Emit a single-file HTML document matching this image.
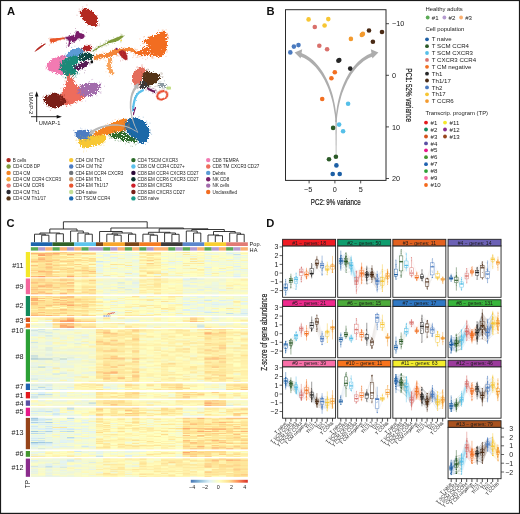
<!DOCTYPE html>
<html lang="en"><head><meta charset="utf-8"><title>Figure</title>
<style>html,body{margin:0;padding:0;background:#fff}svg{display:block}text{font-family:"Liberation Sans",Arial,Helvetica,sans-serif}.w{stroke-width:.45;fill:none}.b{fill:#fff;fill-opacity:.75;stroke-width:.45}.b2{fill:#fff;fill-opacity:.3;stroke-width:.4}.m{stroke-width:1.1}.p{stroke-linecap:round;fill:none;opacity:.85}</style></head>
<body>
<svg width="520" height="514" viewBox="0 0 520 514">
<rect x="0.5" y="0.5" width="519" height="512.9" fill="#fff" stroke="#1a1a1a" stroke-width="1.2"/>
<text x="6.9" y="15.2" font-size="11.2" font-weight="bold" fill="#111">A</text>
<text x="266.4" y="15.2" font-size="11.2" font-weight="bold" fill="#111">B</text>
<text x="6.5" y="227.0" font-size="11.2" font-weight="bold" fill="#111">C</text>
<text x="266.2" y="227.0" font-size="11.2" font-weight="bold" fill="#111">D</text>
<defs><filter id="sp" x="-25%" y="-25%" width="150%" height="150%" color-interpolation-filters="sRGB"><feMorphology in="SourceGraphic" operator="dilate" radius="1.2" result="big"/><feGaussianBlur in="SourceAlpha" stdDeviation="1.4" result="d"/><feTurbulence type="fractalNoise" baseFrequency="1.2" numOctaves="1" seed="5" result="n"/><feComposite in="d" in2="n" operator="arithmetic" k1="0" k2="0.85" k3="-1" k4="0.16" result="m0"/><feComponentTransfer in="m0" result="m"><feFuncA type="linear" slope="40" intercept="0"/></feComponentTransfer><feComposite in="big" in2="m" operator="in"/></filter><filter id="sp2" x="-25%" y="-25%" width="150%" height="150%" color-interpolation-filters="sRGB"><feMorphology in="SourceGraphic" operator="dilate" radius="1.2" result="big"/><feGaussianBlur in="SourceAlpha" stdDeviation="1.4" result="d"/><feTurbulence type="fractalNoise" baseFrequency="1.3" numOctaves="1" seed="9" result="n"/><feComposite in="d" in2="n" operator="arithmetic" k1="0" k2="0.57" k3="-1" k4="0.16" result="m0"/><feComponentTransfer in="m0" result="m"><feFuncA type="linear" slope="40" intercept="0"/></feComponentTransfer><feComposite in="big" in2="m" operator="in"/></filter><filter id="sp5" x="-25%" y="-25%" width="150%" height="150%" color-interpolation-filters="sRGB"><feMorphology in="SourceGraphic" operator="dilate" radius="1.2" result="big"/><feGaussianBlur in="SourceAlpha" stdDeviation="1.4" result="d"/><feTurbulence type="fractalNoise" baseFrequency="1.25" numOctaves="1" seed="7" result="n"/><feComposite in="d" in2="n" operator="arithmetic" k1="0" k2="0.63" k3="-1" k4="0.17" result="m0"/><feComponentTransfer in="m0" result="m"><feFuncA type="linear" slope="40" intercept="0"/></feComponentTransfer><feComposite in="big" in2="m" operator="in"/></filter><filter id="sp6" x="-25%" y="-25%" width="150%" height="150%" color-interpolation-filters="sRGB"><feMorphology in="SourceGraphic" operator="dilate" radius="0.7" result="big"/><feGaussianBlur in="SourceAlpha" stdDeviation="1.0" result="d"/><feTurbulence type="fractalNoise" baseFrequency="1.3" numOctaves="1" seed="12" result="n"/><feComposite in="d" in2="n" operator="arithmetic" k1="0" k2="0.5" k3="-1" k4="0.2" result="m0"/><feComponentTransfer in="m0" result="m"><feFuncA type="linear" slope="40" intercept="0"/></feComponentTransfer><feComposite in="big" in2="m" operator="in"/></filter><filter id="sp4" x="-25%" y="-25%" width="150%" height="150%" color-interpolation-filters="sRGB"><feMorphology in="SourceGraphic" operator="dilate" radius="1.2" result="big"/><feGaussianBlur in="SourceAlpha" stdDeviation="1.4" result="d"/><feTurbulence type="fractalNoise" baseFrequency="1.3" numOctaves="1" seed="4" result="n"/><feComposite in="d" in2="n" operator="arithmetic" k1="0" k2="0.42" k3="-1" k4="0.2" result="m0"/><feComponentTransfer in="m0" result="m"><feFuncA type="linear" slope="40" intercept="0"/></feComponentTransfer><feComposite in="big" in2="m" operator="in"/></filter><filter id="sp3" x="-25%" y="-25%" width="150%" height="150%" color-interpolation-filters="sRGB"><feMorphology in="SourceGraphic" operator="dilate" radius="0.8" result="big"/><feGaussianBlur in="SourceAlpha" stdDeviation="0.9" result="d"/><feTurbulence type="fractalNoise" baseFrequency="1.3" numOctaves="1" seed="2" result="n"/><feComposite in="d" in2="n" operator="arithmetic" k1="0" k2="0.66" k3="-1" k4="0.24" result="m0"/><feComponentTransfer in="m0" result="m"><feFuncA type="linear" slope="40" intercept="0"/></feComponentTransfer><feComposite in="big" in2="m" operator="in"/></filter><filter id="rg" x="-10%" y="-10%" width="120%" height="120%"><feTurbulence type="fractalNoise" baseFrequency="0.9" numOctaves="2" seed="3" result="n"/><feDisplacementMap in="SourceGraphic" in2="n" scale="2.2" xChannelSelector="R" yChannelSelector="G"/></filter></defs>
<path d="M82.4,9.8C83.2,9.4 86.2,8.6 87.2,8.8C88.2,9.0 90.4,10.4 91.3,11.1C92.2,11.8 93.9,14.5 94.7,15.2C95.5,15.9 97.9,16.7 98.1,17.3C98.3,17.9 96.8,19.1 96.7,20.0C96.6,20.9 97.8,24.7 97.4,25.4C97.0,26.1 94.3,26.3 93.3,26.1C92.3,25.9 89.6,24.7 88.6,24.1C87.6,23.5 85.3,22.2 84.5,21.3C83.7,20.4 81.9,17.6 81.5,16.6C81.1,15.6 80.6,13.3 80.7,12.5C80.8,11.7 81.6,10.2 82.4,9.8Z" fill="#b32a20" filter="url(#sp)"/>
<path d="M34.8,51.2C35.4,50.4 37.3,48.3 39.0,47.0C40.7,45.7 43.9,44.0 44.9,43.6C45.9,43.2 46.0,43.8 45.2,44.6C44.4,45.4 41.6,47.4 40.0,48.6C38.4,49.8 36.3,51.2 35.4,51.6C34.5,52.0 34.2,52.0 34.8,51.2Z" fill="#b52a22" filter="url(#rg)"/>
<path d="M50.2,39.0C51.3,38.4 54.8,38.4 57.2,38.1C59.6,37.8 63.6,37.3 64.7,37.4C65.8,37.5 65.2,38.2 64.0,38.8C62.8,39.3 59.1,40.0 57.2,40.7C55.3,41.4 53.6,43.0 52.5,43.1C51.4,43.2 50.8,42.2 50.4,41.5C50.0,40.8 49.1,39.6 50.2,39.0Z" fill="#e9582a" filter="url(#rg)"/>
<path d="M64.7,37.7C65.4,37.2 69.2,36.4 70.9,36.0C72.6,35.6 74.0,36.3 74.9,35.6C75.8,34.9 75.7,32.4 76.3,31.6C76.9,30.9 77.7,30.9 78.3,31.1C78.9,31.3 78.8,32.4 79.7,32.9C80.6,33.4 83.0,33.6 83.8,34.3C84.6,35.0 84.8,36.2 84.5,37.0C84.2,37.8 82.7,38.8 81.7,39.0C80.7,39.2 79.2,38.2 78.3,38.4C77.4,38.6 77.1,39.8 76.3,40.4C75.5,41.0 74.5,41.8 73.6,41.8C72.7,41.8 71.6,40.0 70.9,40.7C70.2,41.4 70.0,44.9 69.5,45.9C69.0,46.9 68.2,47.3 68.1,46.5C68.0,45.7 69.0,42.4 68.8,41.1C68.6,39.9 67.5,39.6 66.8,39.0C66.1,38.4 64.0,38.2 64.7,37.7Z" fill="#7a1f6a" filter="url(#rg)"/>
<path d="M47.0,65.4C47.1,63.7 48.7,62.1 50.4,60.7C52.1,59.4 54.8,58.2 57.2,57.3C59.6,56.4 63.2,55.2 64.7,55.2C66.2,55.2 66.5,56.3 66.1,57.3C65.7,58.3 63.3,59.7 62.5,61.3C61.7,62.9 61.3,65.0 61.5,66.8C61.7,68.6 63.4,71.0 63.5,72.2C63.6,73.5 63.3,74.2 62.0,74.3C60.7,74.4 57.9,73.5 55.9,72.9C53.9,72.3 51.2,72.2 49.7,70.9C48.2,69.7 46.9,67.1 47.0,65.4Z" fill="#f27ab2" filter="url(#sp)"/>
<path d="M65.7,55.2C66.4,53.9 69.0,51.5 70.9,50.4C72.8,49.3 74.9,48.7 77.0,48.6C79.1,48.5 82.5,48.9 83.4,49.6C84.3,50.3 83.8,52.0 82.6,53.0C81.4,54.0 78.2,55.2 76.3,55.9C74.3,56.6 72.5,56.6 70.9,57.0C69.3,57.4 67.7,58.5 66.8,58.2C65.9,57.9 65.0,56.5 65.7,55.2Z" fill="#5b9bd5" filter="url(#sp)"/>
<path d="M60.6,62.7C61.6,60.9 64.4,58.3 66.1,57.3C67.8,56.3 69.0,56.8 70.9,56.6C72.8,56.4 76.1,55.6 77.7,55.9C79.3,56.2 80.4,57.5 80.4,58.6C80.4,59.7 78.6,61.3 77.7,62.7C76.8,64.1 75.0,65.2 74.9,66.8C74.8,68.4 77.0,70.7 77.0,72.2C77.0,73.7 75.9,75.1 74.9,75.6C73.9,76.1 72.2,74.8 70.9,75.0C69.6,75.2 68.0,77.1 66.8,77.0C65.5,76.9 64.5,75.8 63.4,74.3C62.3,72.8 60.5,70.1 60.0,68.2C59.5,66.3 59.6,64.5 60.6,62.7Z" fill="#1a8a78" filter="url(#sp5)"/>
<path d="M80.4,53.2C81.5,52.2 82.5,52.5 84.5,52.5C86.5,52.5 91.1,52.4 92.6,53.2C94.1,54.0 93.8,56.2 93.3,57.3C92.8,58.4 91.4,59.3 89.9,60.0C88.4,60.7 86.2,61.2 84.5,61.3C82.8,61.4 80.8,61.2 79.7,60.7C78.6,60.2 77.6,59.9 77.7,58.6C77.8,57.4 79.3,54.2 80.4,53.2Z" fill="#0e4a44" filter="url(#sp2)"/>
<path d="M82.5,48.2C82.8,47.6 83.8,46.7 85.0,46.3C86.2,45.9 88.3,45.8 89.5,46.0C90.7,46.2 91.8,47.1 92.0,47.8C92.2,48.5 91.5,49.5 90.5,50.0C89.5,50.5 87.2,50.6 86.0,50.6C84.8,50.6 83.6,50.2 83.0,49.8C82.4,49.4 82.2,48.8 82.5,48.2Z" fill="#b32428" filter="url(#sp3)"/>
<path d="M74.9,65.4C76.0,64.2 79.7,62.7 81.7,62.0C83.8,61.3 85.8,60.9 87.2,61.3C88.6,61.6 90.4,62.9 89.9,64.1C89.5,65.2 86.3,67.2 84.5,68.2C82.7,69.2 80.6,70.0 79.0,70.2C77.4,70.4 75.6,70.3 74.9,69.5C74.2,68.7 73.8,66.7 74.9,65.4Z" fill="#5a1a55" filter="url(#sp2)"/>
<path d="M90.6,61.0C90.9,60.5 92.0,60.1 92.4,60.3C92.8,60.5 93.2,61.5 93.2,62.0C93.2,62.5 92.6,63.2 92.2,63.4C91.8,63.6 91.1,63.4 90.8,63.0C90.5,62.6 90.3,61.5 90.6,61.0Z" fill="#111" filter="url(#rg)"/>
<path d="M67.6,75.4C68.2,75.0 71.7,74.9 72.3,75.4C72.9,75.9 72.5,78.9 73.0,80.0C73.5,81.1 75.4,83.8 76.3,84.8C77.2,85.8 79.3,87.4 80.4,88.8C81.5,90.2 86.0,95.2 86.0,96.5C86.0,97.8 82.0,99.5 80.4,100.3C78.8,101.1 74.0,103.0 72.3,103.6C70.6,104.2 66.9,106.1 65.6,105.7C64.3,105.3 61.6,101.2 61.0,100.0C60.4,98.8 60.0,96.7 60.2,95.6C60.4,94.5 62.3,91.6 62.9,90.2C63.5,88.8 65.1,84.8 65.6,83.5C66.1,82.2 66.8,79.9 67.0,79.0C67.2,78.1 67.0,75.8 67.6,75.4Z" fill="#ee6c5c" filter="url(#sp5)"/>
<path d="M78.4,90.2C79.0,88.3 81.0,84.7 83.1,83.5C85.2,82.3 88.4,82.8 91.1,82.8C93.8,82.8 97.5,82.8 99.2,83.5C100.9,84.2 101.4,85.3 101.2,86.8C101.0,88.2 99.6,90.6 97.9,92.2C96.2,93.8 93.3,95.4 91.1,96.2C88.8,97.0 86.3,97.1 84.4,96.9C82.5,96.7 80.7,96.0 79.7,94.9C78.7,93.8 77.8,92.1 78.4,90.2Z" fill="#a36dac" filter="url(#sp2)"/>
<path d="M44.0,98.9C44.3,97.7 46.4,95.4 47.4,94.9C48.4,94.5 49.1,96.6 50.1,96.2C51.1,95.8 52.4,93.1 53.5,92.8C54.6,92.5 55.7,93.8 56.8,94.2C57.9,94.6 58.9,94.1 60.2,94.9C61.6,95.7 63.9,97.7 64.9,98.9C65.9,100.1 66.8,101.2 66.2,102.3C65.6,103.4 63.4,104.8 61.5,105.7C59.6,106.6 56.9,107.7 54.8,107.7C52.7,107.7 50.3,106.6 48.7,105.7C47.1,104.8 46.2,103.4 45.4,102.3C44.6,101.2 43.7,100.1 44.0,98.9Z" fill="#7a1f18" filter="url(#sp)"/>
<path d="M108.5,41.0C109.5,40.2 112.7,39.1 114.9,38.2C117.1,37.3 120.6,35.6 121.9,35.4C123.2,35.2 123.4,36.3 122.9,37.1C122.4,37.9 120.4,39.5 118.8,40.4C117.2,41.2 114.9,41.8 113.3,42.2C111.7,42.6 109.8,43.2 109.0,43.0C108.2,42.8 107.5,41.8 108.5,41.0Z" fill="#7f9a3a" filter="url(#rg)"/>
<path d="M92.8,50.6C93.8,49.8 97.2,47.6 99.3,46.4C101.4,45.2 104.0,44.0 105.6,43.2C107.2,42.4 108.4,41.7 109.0,41.6C109.6,41.5 109.9,42.2 109.4,42.6C108.9,43.0 107.5,43.4 105.9,44.2C104.3,45.0 101.7,46.2 99.6,47.4C97.5,48.6 94.2,50.9 93.1,51.4C92.0,51.9 91.8,51.4 92.8,50.6Z" fill="#7f9a3a" filter="url(#rg)"/>
<path d="M142.6,40.5C143.0,39.8 150.6,36.7 152.3,35.9C154.0,35.1 161.6,31.2 162.8,30.9C164.0,30.6 166.2,31.8 166.6,32.8C167.0,33.8 167.6,41.6 167.5,43.3C167.4,45.0 165.9,51.8 165.3,53.0C164.7,54.2 161.0,57.1 160.0,57.4C159.0,57.7 154.7,56.4 153.8,56.1C152.9,55.8 149.4,54.0 149.1,53.5C148.8,53.0 150.0,50.3 149.9,49.6C149.8,48.9 148.2,45.7 147.6,44.9C147.0,44.1 142.2,41.2 142.6,40.5Z" fill="#f26d21" filter="url(#sp5)"/>
<path d="M134.4,54.8C133.3,54.4 133.2,52.7 133.9,52.2C134.6,51.7 140.3,50.7 141.4,50.0C142.5,49.3 143.9,45.2 144.8,45.2C145.7,45.2 150.0,48.8 150.5,49.6C151.0,50.4 149.5,52.8 149.8,53.5C150.1,54.2 154.3,56.4 153.8,56.6C153.3,56.9 146.4,56.2 144.5,56.0C142.6,55.8 135.5,55.2 134.4,54.8Z" fill="#f26d21" filter="url(#sp6)"/>
<path d="M93.9,57.0C94.8,56.2 98.0,55.1 100.0,54.6C102.0,54.1 103.6,54.4 105.6,53.8C107.6,53.2 109.9,51.8 112.0,51.0C114.1,50.2 115.2,49.7 118.0,49.2C120.8,48.7 126.1,47.6 128.9,47.8C131.8,48.0 134.2,49.5 135.1,50.2C136.0,51.0 135.7,52.2 134.5,52.3C133.3,52.4 130.6,50.8 128.0,50.8C125.4,50.8 121.6,51.8 119.0,52.6C116.4,53.4 114.7,54.7 112.5,55.5C110.3,56.3 108.1,56.8 106.0,57.2C103.9,57.6 101.9,57.4 100.0,57.8C98.1,58.2 95.5,59.5 94.5,59.4C93.5,59.3 93.0,57.8 93.9,57.0Z" fill="#f4873a" filter="url(#sp3)"/>
<path d="M108.8,58.0C109.5,56.9 111.2,57.7 111.5,58.5C111.8,59.3 110.7,61.6 110.6,63.0C110.5,64.4 110.3,65.4 110.8,67.0C111.3,68.6 113.4,71.3 113.4,72.5C113.4,73.7 111.9,74.4 111.0,74.0C110.1,73.6 108.8,71.5 108.2,70.0C107.6,68.5 107.2,67.0 107.3,65.0C107.4,63.0 108.1,59.1 108.8,58.0Z" fill="#f9a45c" filter="url(#sp3)"/>
<path d="M118.8,51.9C119.2,50.9 122.2,50.1 123.5,50.4C124.8,50.7 125.9,52.1 126.6,53.5C127.2,54.9 127.7,57.9 127.4,58.9C127.1,59.9 126.0,60.1 125.0,59.7C124.0,59.3 122.1,57.9 121.1,56.6C120.1,55.3 118.4,52.9 118.8,51.9Z" fill="#b0272a" filter="url(#rg)"/>
<path d="M133.6,72.9C134.4,71.2 136.2,69.8 137.7,68.9C139.2,68.0 141.2,67.3 142.5,67.5C143.8,67.7 145.0,69.0 145.2,70.2C145.4,71.5 144.4,73.3 143.8,75.0C143.2,76.7 142.7,78.7 141.8,80.4C140.9,82.1 139.7,84.5 138.4,85.2C137.2,85.9 135.2,85.5 134.3,84.5C133.4,83.5 133.0,81.0 132.9,79.1C132.8,77.2 132.8,74.6 133.6,72.9Z" fill="#e46f5e" filter="url(#sp)"/>
<path d="M144.5,70.2C145.8,70.0 148.8,71.6 151.3,72.3C153.8,73.0 158.0,73.4 159.5,74.3C161.0,75.2 160.5,76.5 160.2,77.7C159.9,79.0 158.8,80.7 157.5,81.8C156.2,82.9 154.4,83.9 152.7,84.5C151.0,85.1 148.8,85.4 147.2,85.2C145.6,85.0 144.0,84.5 143.2,83.2C142.4,82.0 142.4,79.3 142.5,77.7C142.6,76.1 143.5,74.8 143.8,73.6C144.1,72.3 143.2,70.4 144.5,70.2Z" fill="#553418" filter="url(#sp5)"/>
<path d="M138.4,85.2C138.6,83.7 140.3,80.7 141.8,80.4C143.3,80.1 145.9,82.3 147.2,83.2C148.4,84.1 149.8,85.0 149.3,85.9C148.9,86.8 146.0,88.0 144.5,88.6C143.0,89.2 141.4,89.9 140.4,89.3C139.4,88.7 138.2,86.7 138.4,85.2Z" fill="#3c3c3c" filter="url(#sp2)"/>
<path d="M157.5,83.5C157.8,82.6 159.7,82.3 161.0,82.3C162.3,82.3 164.6,82.7 165.5,83.5C166.4,84.3 166.7,86.2 166.3,87.0C165.9,87.8 164.2,88.5 163.0,88.6C161.8,88.7 159.9,88.3 159.0,87.5C158.1,86.7 157.2,84.4 157.5,83.5Z" fill="#8d9aa3" filter="url(#sp4)"/>
<path d="M166.0,87.6C166.2,87.1 168.0,86.6 169.0,86.6C170.0,86.6 171.5,87.0 171.8,87.4C172.1,87.8 171.7,88.8 171.0,89.2C170.3,89.6 168.3,89.9 167.5,89.6C166.7,89.3 165.8,88.1 166.0,87.6Z" fill="#c5e08a" filter="url(#rg)"/>
<path d="M147.2,87.4C147.6,87.2 149.0,88.2 150.0,88.6C151.0,89.0 152.1,89.7 153.0,90.0C153.9,90.3 155.1,90.2 155.4,90.6C155.7,91.0 155.7,92.0 155.0,92.2C154.3,92.4 152.2,91.9 151.0,91.5C149.8,91.1 148.4,90.3 147.8,89.6C147.2,88.9 146.8,87.6 147.2,87.4Z" fill="#6a1a5a" filter="url(#rg)"/>
<path d="M75.6,132.2C76.4,131.3 78.8,130.8 80.8,130.6C82.8,130.4 85.5,130.3 87.5,130.8C89.5,131.3 92.2,132.4 92.5,133.5C92.8,134.6 91.0,136.6 89.5,137.6C88.0,138.6 85.4,139.4 83.5,139.6C81.6,139.8 79.5,139.4 78.3,138.8C77.1,138.2 76.5,137.1 76.1,136.0C75.6,134.9 74.8,133.1 75.6,132.2Z" fill="#4c7cc2" filter="url(#sp)"/>
<path d="M78.7,138.6C79.6,138.2 81.8,139.5 83.5,139.3C85.2,139.1 87.3,138.0 88.8,137.3C90.2,136.6 90.2,135.9 92.2,135.3C94.2,134.7 98.7,133.9 101.0,133.9C103.3,133.9 105.6,134.1 106.3,135.3C107.0,136.5 106.1,139.7 105.0,141.3C103.9,142.9 101.6,143.8 99.6,144.7C97.6,145.6 95.4,146.1 92.9,146.7C90.4,147.3 86.9,148.2 84.8,148.1C82.7,148.0 81.2,147.0 80.1,146.0C79.0,145.0 78.3,143.2 78.1,142.0C77.9,140.8 77.8,139.0 78.7,138.6Z" fill="#f7c733" filter="url(#sp5)"/>
<path d="M108.4,135.3C108.4,134.2 110.5,132.7 113.1,131.9C115.7,131.1 121.1,130.3 123.8,130.6C126.5,130.9 127.2,132.6 129.2,133.9C131.2,135.2 134.3,137.2 135.9,138.6C137.5,139.9 139.5,141.4 138.6,142.0C137.7,142.6 133.5,142.7 130.6,142.4C127.7,142.1 124.0,141.1 121.1,140.4C118.2,139.7 115.2,139.2 113.1,138.4C111.0,137.6 108.4,136.4 108.4,135.3Z" fill="#2d6b2a" filter="url(#sp4)"/>
<path d="M92.2,133.9C92.9,133.0 96.6,131.6 99.6,129.9C102.6,128.2 107.0,125.4 110.4,123.8C113.8,122.2 117.1,121.3 119.8,120.5C122.5,119.7 125.2,118.3 126.5,119.1C127.8,119.9 128.1,123.4 127.9,125.2C127.7,127.0 127.5,129.0 125.5,130.0C123.5,131.0 118.8,130.7 115.8,131.4C112.8,132.1 110.2,133.7 107.7,134.2C105.2,134.7 103.0,134.0 101.0,134.2C99.0,134.4 97.1,135.6 95.6,135.6C94.1,135.6 91.5,134.8 92.2,133.9Z" fill="#f58322" filter="url(#sp)"/>
<path d="M125.8,123.6C126.4,122.4 126.9,120.4 128.5,119.5C130.1,118.6 133.0,118.1 135.2,118.2C137.4,118.3 139.9,119.0 141.9,120.2C143.9,121.4 146.1,123.7 147.3,125.6C148.5,127.5 149.2,129.5 149.3,131.6C149.4,133.7 148.9,136.5 148.0,138.4C147.1,140.3 145.2,142.4 143.9,143.1C142.6,143.8 141.1,143.1 139.9,142.4C138.7,141.7 137.9,140.0 136.5,139.0C135.1,138.0 132.8,137.5 131.2,136.3C129.6,135.1 128.1,133.2 127.1,131.6C126.1,130.0 125.3,128.2 125.1,126.9C124.9,125.6 125.2,124.8 125.8,123.6Z" fill="#1c69a8" filter="url(#sp)"/>
<path d="M91.7,13.4h0M94.3,17.9h0M93,13.3h0M96.6,25.4h0M97.3,15.6h0M80.7,11.3h0M96.3,20.9h0M96.7,19.5h0M83.3,8.9h0M91.7,24.3h0M95.7,17.5h0M81.1,11.5h0M79,11.6h0M99.4,24.1h0M97.9,25.1h0M97.1,25.6h0M86.9,5h0M82.4,8.5h0M94.9,20.2h0M88.6,10.4h0M95.9,21.1h0M88.7,8.8h0M94.9,23.6h0M77,15.2h0M83,9.7h0M95.7,25.4h0M89.2,21.5h0M92.3,28.8h0M80.5,15.9h0M90.3,10.1h0M92.7,14.3h0M81,14.1h0M97.2,17.7h0M95.4,24.1h0M90.7,25.2h0M79.2,9.1h0M83.1,10.5h0M82.2,17h0M92.3,12h0M85.6,8.6h0M91.2,11.6h0M98.6,20.8h0M90.2,13.5h0M84.1,20.9h0M82.1,10.2h0M87.7,25.5h0M83.1,11.4h0M79.8,13.2h0M97.5,17.9h0M82.8,19.8h0M80,11.5h0M82.4,18.6h0M96.6,26.3h0M97.5,25.7h0M93.1,24.4h0M80,11.1h0M99.3,25.8h0M82.8,6.9h0M81.9,9.9h0M94.4,19.8h0" stroke="#b32a20" stroke-width="0.55" stroke-linecap="round" fill="none" opacity="0.75"/>
<path d="M51.1,40.2h0M53.4,40.8h0M50,37.9h0M50.4,43.1h0M60.6,40.6h0M51.7,41.6h0M64,38h0M56.6,41.4h0M55.5,41.4h0M62.9,38.9h0M51.5,42.7h0M52.4,41.6h0M62.8,37.4h0M49.3,45.1h0M59.1,40.1h0M51.2,43.6h0M64.8,38.8h0M50.5,41.3h0M53.2,43.1h0M64.2,39.3h0M57.5,39.5h0M54.5,40.7h0M51,39.3h0M60.2,39.2h0M48.8,38.6h0M49.9,41.2h0M50.3,38.7h0M51.8,38.2h0M61.2,38.4h0M64.1,39.7h0M56.9,38.4h0M57.4,39.7h0M66.4,37.9h0M50.5,42.1h0M62.7,37.1h0M53.6,42.3h0M64.2,39h0" stroke="#e9582a" stroke-width="0.55" stroke-linecap="round" fill="none" opacity="0.75"/>
<path d="M70.5,39.5h0M68.2,36.5h0M70.5,40.9h0M83,34.5h0M75.5,33.4h0M72.3,43.4h0M68.8,35.7h0M66.4,43h0M76.6,36.9h0M71.3,42.8h0M72.7,39.9h0M82.9,30.9h0M70.6,33.6h0M81.3,36.3h0M67.3,40.5h0M68.7,40.2h0M81.6,37.9h0M66.7,40.2h0M73.2,37.1h0M76.3,35.2h0M73.2,42h0M78.1,39.5h0M79.7,37.9h0M71.7,35.6h0M73.4,42.4h0M76.1,30.7h0M78.5,38.8h0M82.8,38.4h0M79.5,40.7h0M79.7,37.5h0M64,38.8h0M86.6,32.4h0M66.3,39.3h0M72.2,35.4h0M66.4,37h0M66.6,43.4h0M67.7,45.2h0M70.5,42.1h0M64.6,38.6h0M69.2,38.7h0M75.5,34.4h0M80.1,39.7h0M72.8,36h0M83.3,34.8h0M78.1,31.8h0M85.1,36.3h0M74.4,32.6h0M65.9,36.7h0M72.9,38.7h0M66.3,46h0M69,40.4h0M78.7,36.7h0M79.7,34.6h0M80.5,38.3h0M74.4,39.8h0M80.1,33.5h0M75.4,28.5h0M73.4,34.7h0M75.7,31.6h0M73.7,41.6h0M75.2,40.7h0M67.4,38.9h0M76.7,37.5h0M66.5,47.5h0M81.6,33.5h0" stroke="#7a1f6a" stroke-width="0.55" stroke-linecap="round" fill="none" opacity="0.75"/>
<path d="M60.5,66.7h0M48.2,67.8h0M48.2,67.1h0M61.9,61.4h0M64.6,56.1h0M67.9,57.9h0M68,54.6h0M61.1,72.1h0M62.3,76.8h0M62.6,71.1h0M61,64.6h0M60.6,55.9h0M49.7,70.9h0M48.1,66.9h0M62.3,71.5h0M51.5,58.5h0M67,57.5h0M64,61.7h0M46.9,66.9h0M65.3,63.8h0M47,65.5h0M48.5,65.4h0M49.9,65.5h0M50.7,70.8h0M63.8,56.4h0M63.7,58.5h0M63.3,59.2h0M63.4,60.2h0M69.4,59.2h0M61.9,70.7h0M62.1,56h0M65.4,72.9h0M64.7,73h0M57.1,58.7h0M64.2,59.3h0M60.1,57.4h0M53,60.3h0M61.9,71.1h0M54.1,71.2h0M58.8,60.2h0M48.8,70.6h0M56.2,74.6h0M56,57.4h0M64.2,70.9h0M63.7,74.6h0M61.8,62.8h0M66.6,56h0M45.5,68.9h0M57.7,55.9h0M61.8,72.8h0M63.6,56h0M55.7,57.6h0M63.5,74.2h0M56.3,71.9h0M65.8,70.5h0M61.5,66.7h0M50.9,61.7h0M47.8,69.7h0M45.4,66.3h0M63.8,56.4h0M60.8,64.1h0M64.5,56.2h0M62.6,64.4h0M52.8,71.2h0M48.5,67.7h0M49.7,66.7h0M63.5,56.2h0M52.5,63.6h0" stroke="#f27ab2" stroke-width="0.55" stroke-linecap="round" fill="none" opacity="0.75"/>
<path d="M66.8,58.3h0M69,56.5h0M78.1,48.6h0M66.8,59.3h0M67.8,54.3h0M71.4,51.3h0M81,53.4h0M72.3,50.4h0M68,54.1h0M72.1,55.9h0M80.9,55.7h0M72.2,56.4h0M67.4,60.5h0M83.8,49.6h0M80.4,55.3h0M83.5,54.4h0M67.3,55.9h0M69.8,59.9h0M78.1,48.2h0M69.1,55.9h0M70.9,56.2h0M74.9,46.2h0M66.9,56.6h0M82.8,48.9h0M71.1,55.1h0M76.4,49.4h0M77.1,55.1h0M83.1,51.2h0M65.5,53.7h0M66.1,54.9h0M65.1,55.9h0M67.7,55h0M77,54.3h0M74.5,55.5h0M81.5,47.6h0M76.9,48.6h0M71.6,47.5h0M71,56.8h0M71.9,47.3h0M82.9,51.5h0M65,55h0M81.2,49h0M71.7,50.6h0M81.2,49.1h0M83.4,51.8h0M76.9,50h0M79.9,54.5h0" stroke="#5b9bd5" stroke-width="0.55" stroke-linecap="round" fill="none" opacity="0.75"/>
<path d="M70.9,74.2h0M75,74.5h0M77.3,60.5h0M63.8,77h0M58.9,69.4h0M71.7,57.6h0M75,55.8h0M61.5,75.5h0M71.1,76h0M72.9,78.8h0M77.9,63.6h0M65.4,78h0M66.7,78.2h0M76.1,67.8h0M67.8,75.2h0M61.7,70.1h0M73.5,54.7h0M59.5,68.2h0M75.8,74.4h0M79.6,59.3h0M59.6,68.2h0M78.2,65.4h0M60.2,61.5h0M75.5,55.7h0M80.1,57.5h0M68.7,77.2h0M79.7,73.8h0M77.8,74h0M77.6,74.1h0M64.1,56.5h0M78.2,65.7h0M65.4,73.6h0M79,60.5h0M61.6,68.8h0M74.5,67.2h0M63,60.7h0M74.6,77.4h0M73.1,73.6h0M70,57.1h0M80.4,59.7h0M79,62.6h0M76.8,65.5h0M75.5,57.4h0M67.6,57.5h0M73.5,55.5h0M75.8,75.9h0M73.3,56.3h0M75.6,65.1h0M58.7,69.3h0M75.6,76.5h0M80.5,58.8h0M68.5,74.8h0M72.7,76.4h0M77.5,72.5h0M78.4,54.6h0M65.1,69.8h0M59.7,62.3h0M79.4,57.2h0M61.5,56.8h0M74.1,74.4h0M73.1,74.9h0M81.1,55.9h0M59.9,58.3h0M75.9,75.2h0M67.7,56.5h0M76.2,77.5h0M82.1,57.9h0M71.1,59.1h0M75.8,54.9h0M65.5,59.4h0M66.2,77.1h0M78.2,63.7h0M60.5,64h0M79.6,63.4h0M72.9,76.7h0" stroke="#1a8a78" stroke-width="0.55" stroke-linecap="round" fill="none" opacity="0.75"/>
<path d="M92.6,55.7h0M93.7,54.3h0M81.3,60.9h0M81.7,49.9h0M80.2,60.8h0M90.9,56.2h0M78.7,57.1h0M89.2,52.8h0M84.4,50.9h0M83.7,62.1h0M78.7,58.5h0M87.1,52.5h0M88.4,52.9h0M85.7,53h0M80,59.5h0M78.3,58.2h0M87.4,52h0M96.5,59.7h0M77.6,57.8h0M77.7,56h0M86.3,49.3h0M88.2,58.7h0M92.9,59.9h0M86.8,59h0M89.8,57.5h0M81.8,59.4h0M81.1,61.5h0M82,52.3h0M88.5,58.2h0M88.2,62.7h0M83.8,52h0M89.7,59.1h0M81.7,54.4h0M81,60.1h0M78.7,57.6h0M79.2,59.6h0M93.6,51.2h0M80.2,59.6h0M84.7,52.9h0M84.1,62.4h0M80.1,62.1h0M92.8,56.4h0M85.6,62.9h0M83,57h0" stroke="#0e4a44" stroke-width="0.55" stroke-linecap="round" fill="none" opacity="0.75"/>
<path d="M93,47.4h0M85.1,46.8h0M83.3,47.3h0M87,44.8h0M91.2,46.7h0M81.1,48.7h0M87,45.3h0M89.2,47.8h0M80.5,51h0M91.2,47h0M85.1,49.5h0M85.4,45.4h0M82.9,48.8h0M85.5,49.7h0M85,50.5h0M89.3,45.2h0M90.7,45.7h0M91.1,51.7h0M89.4,45.9h0M82.2,51.4h0M85.6,49.5h0M82.9,48.7h0M90.8,44.5h0M84.2,50.5h0" stroke="#b32428" stroke-width="0.55" stroke-linecap="round" fill="none" opacity="0.75"/>
<path d="M88.7,60.9h0M83.7,63.2h0M89.3,63.5h0M74.4,68.6h0M89.1,59.4h0M73.8,66.3h0M85.1,60.7h0M88.6,58.9h0M73.3,66.6h0M82.9,59.4h0M81.1,69.1h0M85.6,61.7h0M81.7,63.7h0M90.7,63.9h0M76.7,73.4h0M87,61.3h0M76.5,65.4h0M84,64.8h0M74.2,68.8h0M85.1,70.4h0M79.4,66.4h0M72.2,70.1h0M84.6,67.8h0M86.7,59h0M82.7,69h0M86.9,58.6h0M74.9,68.4h0M89.8,64.8h0M77.9,68.2h0M84.1,66.9h0M89.5,62.9h0M84.6,72.8h0M78,68.5h0M77,68.7h0M82.6,69.5h0M88.4,63.3h0M88.5,60.8h0M77.6,71.5h0M76.7,68.8h0M81.6,68.3h0M75.4,67h0" stroke="#5a1a55" stroke-width="0.55" stroke-linecap="round" fill="none" opacity="0.75"/>
<path d="M71.7,79.6h0M61.3,92.9h0M75.9,102.5h0M62.3,100.9h0M75.8,82.6h0M70.5,80.6h0M57.9,95.6h0M65.3,81.3h0M81.7,89.4h0M73.2,78.9h0M77.7,102.3h0M61.1,100.5h0M78,99.7h0M66.8,106h0M63.1,87.4h0M66.7,71.8h0M60.9,88.3h0M66.6,77.8h0M70.7,105.5h0M72.4,84.1h0M71.7,101.2h0M72.8,74.7h0M67.8,77h0M68.4,75.1h0M79.3,91.2h0M59.8,95.6h0M72.8,80.1h0M78.8,90.3h0M66.2,75.6h0M60.9,100.3h0M66.4,81.4h0M70.3,105h0M82.3,101.2h0M80.4,97h0M67.3,102.6h0M79.1,100.8h0M72.9,75.3h0M64.9,80.8h0M59.8,95h0M66.1,105.7h0M65.1,78.5h0M62,95.4h0M60.6,97.7h0M65.8,83.1h0M76.3,103.4h0M66.9,74.6h0M61.1,98.5h0M74.1,81h0M81.1,101.6h0M67.2,103.3h0M74.3,80.8h0M70,73.3h0M63.6,84.5h0M80.7,90.4h0M67.7,102.4h0M77.6,85.3h0M71.1,79.7h0M68,77h0M76.4,103.3h0M71.2,77.8h0M76.2,101h0M70.3,104.4h0M64.6,103.6h0M80.1,85.8h0M64.2,101.9h0M75,81.5h0M69.3,73.6h0M84.3,95.6h0M61.2,96.9h0M67.8,84.1h0M80.1,99.1h0M64.7,104.3h0M74,77.4h0M65.6,78.6h0M73.3,83.3h0M71.4,103.1h0M68.3,78.3h0M63.7,84.8h0M68.3,75.9h0M71.1,105.8h0M73.7,81.1h0M81,86h0M64.9,103.5h0M62.3,90.9h0M64.6,89.3h0M67.5,85.9h0M71.5,74.9h0M77.4,85.5h0M66.6,80.4h0M72.8,80.9h0M81,92.8h0M84.3,90.6h0M81.8,96.1h0M72.9,74.4h0M63.9,89.6h0" stroke="#ee6c5c" stroke-width="0.55" stroke-linecap="round" fill="none" opacity="0.75"/>
<path d="M92.6,96.8h0M92.7,79.4h0M78,93.4h0M82.9,96.8h0M78.9,91h0M85.7,94.4h0M87.7,95.5h0M101.2,91.9h0M89.7,81.7h0M80,93.4h0M90.3,95h0M82.4,85.5h0M97,83h0M77.7,89.6h0M88.4,82.2h0M79.6,84.7h0M100.2,92.6h0M77.7,90.7h0M93.4,94.3h0M100,84.3h0M101.3,83h0M91.7,79.7h0M80.2,97.6h0M100.9,93.5h0M85.7,101h0M80.1,91.2h0M82.4,89h0M94.9,91.6h0M82.5,86.1h0M87.2,83.5h0M101.2,87.9h0M82,95.3h0M89.5,81.6h0M80.3,91.8h0M99.6,82.1h0M79.4,93.5h0M90,95.4h0M77.2,92.9h0M100,92.2h0M96.9,95.8h0M88.6,95.2h0M76.7,93.5h0M76.2,88.8h0M93.1,83.6h0M83.8,95.2h0M85.7,84h0M77.5,91.2h0M100.6,83.5h0M84.6,94.7h0M79.8,87.5h0M79.4,90.1h0M81,87.4h0M96,94h0M79.8,90.1h0M80.5,94.7h0M80.4,93h0M79.7,86.4h0M77.5,93.8h0M94.6,82.6h0M100.3,86h0M99.3,91.5h0M81.8,86.5h0M104.4,86.2h0M79.2,88.1h0M79.8,95h0" stroke="#a36dac" stroke-width="0.55" stroke-linecap="round" fill="none" opacity="0.75"/>
<path d="M50.3,110.3h0M46.2,94.4h0M48.4,94.9h0M66.9,99.8h0M61,106.2h0M44.1,99.8h0M50.8,93.1h0M64.1,102.3h0M67,102.8h0M54.5,108.4h0M43.7,96h0M62.3,99.8h0M63.3,98.3h0M50,94.9h0M42.7,97.3h0M46.6,103.9h0M48.6,98.1h0M64.8,100.8h0M57.3,93.5h0M52.5,93.8h0M64.9,101.5h0M47.9,106.5h0M68.1,101.8h0M43.8,100h0M61.1,94.3h0M48.9,106.6h0M63.7,104.8h0M61.8,104.8h0M55.6,96.8h0M61.8,100.7h0M64.1,95.9h0M51.2,105.8h0M50,105.5h0M55.2,93.1h0M64.4,94.9h0M62,95.1h0M54,107.3h0M57.5,106.3h0M46.7,106.2h0M62.5,99.1h0M56.6,95.4h0M44.3,101.4h0M60.4,96.9h0M43.3,96.8h0M61.5,105.4h0M65.5,99.2h0M54.7,92.6h0M54.7,95h0M60.1,104.3h0M64.8,104.3h0M43.5,101h0M47.7,103.4h0M63.5,101.7h0M62.9,100.7h0M46,97.3h0M49.2,107.3h0M46.8,95.5h0M62.3,95.6h0M53.5,95.9h0M52.5,92.5h0M61.5,93.1h0M49.5,95.2h0M43.4,103.2h0" stroke="#7a1f18" stroke-width="0.55" stroke-linecap="round" fill="none" opacity="0.75"/>
<path d="M124,35.6h0M108,42.3h0M121.5,39.1h0M120.7,35.6h0M109.5,41.5h0M112.1,40.9h0M121.6,36.8h0M121.3,36.3h0M123.7,36.3h0M113.5,37.3h0M121.4,40.7h0M110.6,40.7h0M120.9,34h0M120.8,41.8h0M120.9,41.9h0M116.9,37.8h0M122.5,37.5h0M115.3,41.5h0M112.4,43h0M107.1,41.2h0M124.1,35.5h0M116.2,38.5h0M111.3,40h0M117.3,37.1h0M108.7,44.8h0M108.4,40.8h0M123.4,36.6h0M108.1,41.9h0M114.4,41.2h0M108,42.1h0M111.1,39.9h0M119.7,37.8h0M121.8,35h0M114.7,43.5h0M110.6,40.8h0M122,34.5h0M108.6,41.6h0" stroke="#7f9a3a" stroke-width="0.55" stroke-linecap="round" fill="none" opacity="0.75"/>
<path d="M109.7,42.1h0M94.9,48.5h0M94.8,50.2h0M90.6,51.5h0M108.1,44.6h0M94.5,53.1h0M108,42.7h0M95.9,47.7h0M91.5,49.5h0M106.5,40.7h0M104.9,43h0M95.7,48.2h0M108.6,39.9h0M104.8,45.6h0M99.6,46.2h0M105.4,44.4h0M105.3,42.4h0M109.5,41.2h0M103.3,43.9h0M96.1,49.5h0M106,45.8h0M97.1,49.1h0M100.2,44.7h0M109.8,41.6h0M106.8,45.8h0M102.4,46.9h0M97.9,46.4h0M96.2,49.2h0M107.6,41.8h0M108.9,41.4h0M96.8,46.3h0M105.6,40.8h0M99.7,47h0M95.3,51h0M108.5,42.8h0M100.3,43.2h0M101.5,47.2h0M99,46.4h0M103,45.9h0M109.9,42.2h0M100.3,46.1h0M96.5,50.9h0" stroke="#7f9a3a" stroke-width="0.55" stroke-linecap="round" fill="none" opacity="0.75"/>
<path d="M148.8,54.2h0M165.4,46.2h0M161.5,32.8h0M149.2,49h0M168.5,37.9h0M162.6,33.3h0M147.5,37.3h0M163.8,44.5h0M147.9,46.5h0M151.3,50.9h0M150,52.7h0M163.8,52.9h0M144.5,36.6h0M163.4,53.4h0M166,56.4h0M168.5,35.4h0M166.1,29.8h0M167.1,51.2h0M153.6,53.9h0M148.7,36.5h0M150,51.6h0M149.5,48.9h0M150.3,52.3h0M156.6,33.5h0M144.2,42.7h0M150.9,52.8h0M152.3,35.1h0M139.9,38.9h0M152.2,37.4h0M143.8,40.1h0M167,33.2h0M163.3,30.1h0M162.6,53.9h0M162.5,30.9h0M151.9,50.7h0M161.3,33.2h0M146.2,42.9h0M164.9,43.9h0M167.5,39.3h0M143.3,43.7h0M148.8,45.1h0M167.3,33.5h0M149.3,36.3h0M168.5,37.1h0M166.9,52.4h0M159.7,32.9h0M161.4,56.4h0M151.6,37.8h0M168.6,38.3h0M163.7,53.4h0M151.2,49.8h0M158.7,30.2h0M147.4,42.7h0M165.1,46.2h0M165.8,49.4h0M163.5,54.8h0M147.7,49.4h0M162.4,55.2h0M159.1,57.4h0M167.1,36h0M150.4,53h0M166.9,50.3h0M150.8,45.5h0M164.4,30.8h0M153.8,58.1h0M150,44.4h0M146.5,39.7h0M149.7,51h0M157.9,33.8h0M157.5,56.5h0M149.5,51.3h0M167.8,38.6h0M166.1,32.9h0M152.4,58.1h0M161.6,56.5h0M166.9,46.3h0M151.6,55.9h0M144,43.5h0M161.7,31.8h0M142.7,43.4h0M148.3,37.9h0M149.9,48.1h0M167.4,36h0M151.5,52.6h0M143.7,37h0M164.9,44.6h0M147.1,48.5h0M161.5,53.9h0M162.2,30h0" stroke="#f26d21" stroke-width="0.55" stroke-linecap="round" fill="none" opacity="0.75"/>
<path d="M133.7,55.9h0M142.3,51.4h0M134.3,50h0M142.9,47.5h0M136.2,57.4h0M143.9,46.7h0M151.9,58h0M150.9,48.5h0M137.2,49.4h0M144.9,55.9h0M141.1,56.6h0M137.8,57.4h0M135.4,54.4h0M142.9,47.4h0M150.6,52.4h0M138.6,55.3h0M140.6,50.3h0M137.5,56.1h0M147.5,58h0M152.8,56.7h0M148.3,53.9h0M151.7,57h0M142.8,53.5h0M147.8,52.7h0M149.8,47.4h0M141.7,54.6h0M137.7,55.5h0M135.4,49.5h0M142.5,48h0M140.2,56.2h0M132.9,57.6h0M145.8,59.6h0M146.1,47.4h0M142.8,55.8h0M133.9,53.4h0M149.3,49h0M153.2,55.1h0M150.8,49.9h0M136.7,52.1h0M151.9,53h0M145.6,55.3h0M152.6,57h0M147.7,53.5h0M150.4,48.7h0M133.9,53.8h0M140.6,45.5h0M139.2,56.8h0M149.4,53h0M142.8,58.3h0M150,52.7h0M150.5,53.1h0M149.1,51.9h0M151.5,54.2h0M152.9,56.7h0M149.6,53.6h0M142.5,55.1h0M135.2,55.2h0" stroke="#f26d21" stroke-width="0.55" stroke-linecap="round" fill="none" opacity="0.75"/>
<path d="M96.9,57.8h0M131.2,47.9h0M106.6,55.6h0M99.1,58.1h0M96.3,54h0M104.7,58.4h0M97.2,55.6h0M115.4,50.6h0M130.7,52.2h0M122.3,51.7h0M134.9,48.3h0M110.6,53.5h0M116.6,54.8h0M115,50.1h0M108.5,54.5h0M92.2,55.6h0M114.6,52.9h0M123.2,48.2h0M114.1,53.9h0M111.8,51.4h0M102.8,57.7h0M107.7,54.9h0M109.2,52.5h0M98.2,54.8h0M117.6,55.4h0M99.8,60.5h0M116.3,56h0M106.7,55.7h0M103.1,55.2h0M135.4,52.5h0M109.9,54.7h0M117,55h0M104.1,53.5h0M103.7,53.1h0M107.4,56.3h0M110.3,56.7h0M114.7,53.7h0M113.6,57.4h0M119.8,53.3h0M96.5,55.2h0M116.8,49h0M127.3,49.9h0M101.5,53.6h0M93.7,57.2h0M112.3,49.1h0M107.5,56.2h0M98.4,58.7h0M136.4,49.9h0M119.4,54.6h0M108.4,56.3h0M94.4,55.7h0M94.8,59.2h0M97.1,60.3h0M131.4,50h0M115.1,48.1h0M124.6,47.8h0M118.5,52.1h0M129.3,48.9h0M100.7,59.2h0M122.9,48.2h0M96.8,55.5h0M96,56.7h0M99.8,55.8h0M114.1,50.1h0M96.1,57.6h0M120.4,49.4h0M102.9,52h0M95.6,57.7h0M126.7,49h0M131.6,52.1h0M96.4,59.6h0M112.7,55.6h0M115.3,49.8h0M94.3,61h0M135.7,53.1h0M122.4,54.2h0M112.1,53.9h0M136.1,51.2h0M91.6,57.3h0M103.4,58.9h0M100.2,55.2h0M111.9,51.4h0M98.2,55.4h0M97.3,54.5h0M99,56h0M99.9,54.2h0M96.2,55.8h0M117.2,55.9h0M130.4,50.6h0M121.8,56.6h0M117.3,50.1h0M100.5,57.7h0M113.3,51.8h0M135,50.7h0M93.2,58.5h0M105.8,52.5h0M125,48.3h0M94.6,58.2h0" stroke="#f4873a" stroke-width="0.55" stroke-linecap="round" fill="none" opacity="0.75"/>
<path d="M109.9,58.5h0M105.2,60.5h0M114.3,73.2h0M106,71.7h0M110,58.5h0M108.6,68.1h0M109.8,62.6h0M107.7,65.5h0M112.4,66.2h0M112.9,75h0M109.2,72.9h0M111.5,74.5h0M109.6,76.1h0M108.9,59.9h0M112.4,61.9h0M112.3,71.6h0M112.3,72.7h0M109.4,62.4h0M114.1,72.6h0M112.3,69.5h0M110.2,71.7h0M110,58.3h0M109.5,63.5h0M108.5,58.2h0M110.2,66.7h0M108.8,59.1h0M109.5,60.8h0M109,72.6h0M110.7,64.7h0M106.2,61.3h0M106.3,66.1h0M106.9,68.7h0M111.3,63.3h0M112.3,61.2h0M108.1,69.7h0M109.2,72.4h0M107.5,57.8h0M109.3,63.5h0M112.7,73.4h0M110.8,58.6h0M109.2,65h0" stroke="#f9a45c" stroke-width="0.55" stroke-linecap="round" fill="none" opacity="0.75"/>
<path d="M121.2,55.7h0M121.7,50.9h0M125,52.3h0M120.4,60.9h0M119.2,51.8h0M122.6,54.2h0M118.7,53.4h0M125.8,60.4h0M121.5,57.7h0M124.3,50h0M123.9,52.1h0M119.3,52.9h0M125.2,50.5h0M122.8,60.1h0M125,53.1h0M121.6,54h0M127.7,53.6h0M121.2,54.9h0M127.2,58.7h0M124.1,57.1h0M126.7,59.1h0M127.5,59.8h0M127.5,56h0M118.9,56h0M124.3,59h0M123.4,57.2h0M122.6,50.8h0M122.2,49h0M117.1,52.9h0M120.8,52.2h0" stroke="#b0272a" stroke-width="0.55" stroke-linecap="round" fill="none" opacity="0.75"/>
<path d="M145.3,70.5h0M136.9,67.4h0M141.7,64.9h0M135.5,71h0M142.5,78.2h0M144.5,68.1h0M136.5,86.7h0M134.2,82.7h0M133.9,76.1h0M142.7,64.9h0M140.5,69h0M133.9,80.7h0M139.3,86.1h0M144.4,72.7h0M131.4,83.7h0M132.4,80.1h0M137.2,66.6h0M135.1,72.1h0M139.9,82h0M142.6,66.2h0M137.5,87.9h0M138.7,70.6h0M145.2,76h0M142.6,67.7h0M134.9,82.3h0M140,84.5h0M137,87.5h0M137,70.6h0M135,74.7h0M141.4,66h0M133.4,72.4h0M139.7,81.6h0M133.5,82h0M140.4,84.3h0M142.8,67h0M139.7,69.6h0M142.7,76h0M133,78.4h0M136.8,75.3h0M136.2,82.1h0M135.4,70.3h0M144.4,67.7h0M137.1,67.3h0M138.6,68.8h0M141.6,67.2h0M136.1,85.6h0M143.9,74.1h0M147.6,70.6h0M139.7,79.2h0M145.8,72.4h0M140.5,70.4h0" stroke="#e46f5e" stroke-width="0.55" stroke-linecap="round" fill="none" opacity="0.75"/>
<path d="M146,72.7h0M148.6,85.5h0M151,73.8h0M146.8,74h0M144.7,73.1h0M142.3,73.8h0M145.8,83.2h0M157.5,74.3h0M155.1,83.4h0M150.4,82.4h0M158.3,76.5h0M146.4,70.5h0M144.5,84.3h0M141.7,82.9h0M157.8,85.2h0M148.5,69.7h0M156.3,74.6h0M146.3,69.6h0M146,86.2h0M155.3,73.2h0M160,82h0M143.8,73.8h0M151.7,72.5h0M157.8,75.5h0M147.9,69.1h0M155.3,83h0M162.1,73.3h0M161.1,72.8h0M157.9,78.9h0M146.4,70.1h0M144.6,72.9h0M147.2,87.2h0M141.5,76.1h0M143.4,84.5h0M152.7,83.2h0M151.3,72.6h0M156.6,82.1h0M152,83.9h0M150.7,72.7h0M143.2,84.6h0M162.9,76.8h0M144.8,83.8h0M141.3,72.1h0M144,78.6h0M159.9,73.9h0M142.5,74.8h0M144.1,75.3h0M150.8,86.4h0M159.8,76.5h0M155,86.6h0M159,74.5h0M141.4,79.9h0M147.2,85h0M158.1,74.7h0M158.5,76.1h0M160.4,76.2h0M161.9,74.3h0M162.4,77.3h0" stroke="#553418" stroke-width="0.55" stroke-linecap="round" fill="none" opacity="0.75"/>
<path d="M148,85.6h0M146.9,86.6h0M137.2,88.6h0M145.9,89.6h0M145.4,83.7h0M147.2,87.3h0M142.3,81.6h0M145.7,87.1h0M146.2,84h0M143.7,88.3h0M147.6,83.4h0M148.9,88h0M148.5,84.3h0M147.1,82h0M149.6,86.3h0M148.2,87.3h0M144.1,82.2h0M149.3,82.9h0M142.8,78.7h0M141.1,82.3h0M147.9,87.3h0M141.9,84.9h0M143.3,87h0M138.1,91.2h0M138.5,84.4h0M137,86h0M140.9,90.4h0M142.6,83.8h0M149.8,85.6h0M147.7,84.9h0M149.2,84.7h0M138.9,87.4h0" stroke="#3c3c3c" stroke-width="0.55" stroke-linecap="round" fill="none" opacity="0.75"/>
<path d="M165.5,85.5h0M158.8,81.8h0M165.1,83.5h0M161,81.7h0M162.1,88.4h0M159,83.9h0M167.4,87.9h0M156,86h0M159.7,89.9h0M167.5,85.9h0M161.4,84.6h0M163.5,90.1h0M164.2,89.1h0M159.7,85h0M163.3,88.3h0M164.3,81.2h0M164.3,80.4h0M158.8,80.4h0M158.1,86.9h0M162.9,87.9h0M156.6,83.3h0M157.1,86.4h0M166.9,89.7h0M164.1,88.6h0M157.7,80.7h0M162.8,86.2h0" stroke="#8d9aa3" stroke-width="0.55" stroke-linecap="round" fill="none" opacity="0.75"/>
<path d="M153.9,88.4h0M151.4,88.8h0M153.3,88.7h0M156.1,92.1h0M155.5,93.6h0M152.4,88.2h0M147.7,89.4h0M152.8,92.3h0M153.4,92.7h0M157,91.9h0M156,90.3h0M152.8,93.4h0M150,87.3h0M155.2,89.3h0M156,90.2h0M155.9,90.6h0M148.6,90.8h0M146.1,90.3h0M151.2,89.9h0M151.2,90h0M157.2,92.7h0M150.3,89.8h0" stroke="#6a1a5a" stroke-width="0.55" stroke-linecap="round" fill="none" opacity="0.75"/>
<path d="M85.1,140.6h0M88.2,137.6h0M94,132.2h0M91.7,133h0M76,136.3h0M79.8,139.2h0M75,132.7h0M85.9,138.8h0M74.6,135.5h0M78.5,131.2h0M86,140.9h0M75.2,134.4h0M80.9,138.4h0M93.9,136.2h0M81.6,141.2h0M86.2,138.6h0M90.7,130.7h0M79.5,131.9h0M75.2,133.5h0M86.4,139h0M91.7,131.1h0M91,134.1h0M89.1,136h0M80.6,136.7h0M73.9,130.6h0M81.9,128.9h0M91,129.5h0M75.8,136.1h0M80.5,128.1h0M77.6,133.8h0M89.7,140h0M90.1,139.2h0M73.8,130.4h0M85.2,129.3h0M75.2,134.2h0M89.5,139.2h0M76.4,134.1h0M90.6,132.2h0M81.6,135.4h0M88.5,138.5h0M89.2,138.8h0M80.2,138.4h0M85.8,132.2h0M89.9,136h0M91.8,132.9h0M92.8,130.8h0" stroke="#4c7cc2" stroke-width="0.55" stroke-linecap="round" fill="none" opacity="0.75"/>
<path d="M101.3,134.3h0M78.9,138.8h0M78.7,140.1h0M91.6,134.3h0M97.9,131.9h0M83.3,147.6h0M104.7,142.2h0M104.8,142.1h0M76.9,143h0M90.9,135.6h0M96.3,148h0M94.3,134.8h0M77,140.5h0M103.5,135.5h0M101.2,145.3h0M100.6,145.5h0M83.8,150.9h0M102.8,135.7h0M79,149.2h0M80.3,135.8h0M102.7,141.8h0M97.2,136.5h0M107,137h0M104.4,133.2h0M76.7,139h0M99.2,144.5h0M99,132h0M86.6,151h0M82.5,139.7h0M87.8,137h0M102.7,134.1h0M83.4,140h0M92.5,135.8h0M79.9,139h0M84.1,148.7h0M90.2,136.4h0M82.4,141h0M84.1,137.7h0M88.7,138.3h0M82.4,137.1h0M81.5,144.1h0M81,141.3h0M79.7,143.8h0M102.2,133.8h0M88.7,136.1h0M103.1,142.7h0M86.2,144.1h0M98.4,143.2h0M95.8,134.3h0M91.2,137h0M104.1,135.2h0M81.8,140h0M92.7,136.5h0M101.6,144.4h0M75.8,140.4h0M99.3,145.2h0M79.5,139.5h0M104.9,139.3h0M86.6,137h0M83.4,152h0M77.9,137.5h0M78.8,143h0M105.3,141.8h0M103.9,145.4h0M97.6,133.8h0M84,148.3h0M101.7,136h0M90.1,145.3h0M97.9,145.2h0M80.3,145.4h0M90.1,148.6h0M90.2,137.9h0M76.3,140.2h0M103.2,143.7h0M97.9,132h0M102.2,135.9h0" stroke="#f7c733" stroke-width="0.55" stroke-linecap="round" fill="none" opacity="0.75"/>
<path d="M134.2,143.7h0M109.9,136.9h0M130.3,135.3h0M131.4,133.4h0M108.3,134.9h0M115.1,140.6h0M109.7,134h0M111.1,133.6h0M124,131.4h0M138,143.2h0M114.6,131.3h0M127.2,142.5h0M136,139.4h0M122.5,130.2h0M130.6,138.7h0M112.9,137.9h0M113,131.1h0M114.7,130.9h0M127.5,131.4h0M111.9,138.5h0M131.1,141.6h0M137.2,141.1h0M134.2,136.8h0M130.9,146.1h0M116.4,134h0M136.1,138.7h0M135.8,139.1h0M125.1,130.9h0M118.8,137.8h0M129.7,143h0M108.4,135.8h0M110,135.4h0M129.8,135.4h0M113.5,136.9h0M136.2,144.3h0M117.9,140.4h0M130.9,138.1h0M129.4,142h0M121.9,139h0M115.3,140.2h0M113.5,136.6h0M121,138.9h0M129.2,140.4h0M134,141.9h0M125.6,143.8h0M110.7,136.9h0M132.1,134.9h0M121,140.4h0M127.9,140.8h0M109.4,138.6h0M111.4,137.5h0M128.6,141.9h0M120.8,141.3h0M125.2,131.1h0M132.9,139.4h0M135.7,138.9h0M118.8,141.3h0M133.9,143.1h0M115.1,131.7h0M132.6,146.4h0M134.6,136h0M138.7,139.8h0M114,137.6h0M124,132.1h0M137.5,139.6h0M136.6,140.3h0M135.5,144.9h0M136.9,140.4h0M136.9,140.5h0M110.9,138.1h0M136,141.1h0M126.4,131.3h0M116.7,131.4h0" stroke="#2d6b2a" stroke-width="0.55" stroke-linecap="round" fill="none" opacity="0.75"/>
<path d="M113,132.6h0M112.9,133.2h0M96.9,134h0M129.6,126.4h0M99.4,130.8h0M118.4,129.9h0M103.3,126.4h0M99.6,130.6h0M115.3,124h0M104.1,134h0M125.3,130.6h0M95.8,133.9h0M102.6,132.5h0M96.3,133.1h0M91.7,133.1h0M119.5,131.9h0M103.1,126.8h0M105.9,124.5h0M92.7,135.6h0M107.5,123.5h0M98.5,134.5h0M122.9,131.8h0M125.4,126.1h0M99.7,135.5h0M94.9,136h0M128,124h0M103.4,134h0M124.1,129.1h0M105.8,133.6h0M94.7,136.1h0M90.4,133.2h0M129,125.2h0M120.6,120.8h0M122.2,119.6h0M101.2,135.3h0M110.8,130.4h0M125.2,122.1h0M129.1,125.1h0M126.8,128.1h0M117,133.2h0M129.7,123.4h0M128.4,129.3h0M110,136.5h0M105.9,135.2h0M97.3,134.9h0M128.8,124.3h0M122.3,120.1h0M102.4,133.4h0M129,120.2h0M118.9,128.4h0M128.8,122.7h0M93.3,135.1h0M91.4,133.8h0M110.9,122.6h0M99.2,131.1h0M107.4,133.2h0M113.3,132.4h0M95.2,131.4h0M118.8,119.2h0M109.2,135.7h0M112.3,120.9h0M120.4,120.4h0M127.4,126.2h0M128.7,126.3h0M116.3,131.7h0M125.7,119.1h0M93.2,133.1h0M98.6,137.1h0M110.4,130.7h0M127.4,125.1h0M122,129.3h0M125.5,127.5h0M109.7,131.2h0M124.3,131.5h0M127.5,128.9h0M129.7,129.4h0M126.8,118.9h0M125.9,124.1h0M115.1,119.5h0M113.9,132.7h0M122.4,123.3h0M116.2,124h0M126.8,125.8h0M97.1,135h0M128.3,126.2h0M126.6,128.7h0M98.9,134.4h0M129.3,118.4h0M112.1,123.2h0M124.7,128.7h0M99.2,133.9h0M120.6,130.4h0" stroke="#f58322" stroke-width="0.55" stroke-linecap="round" fill="none" opacity="0.75"/>
<path d="M146.4,121.2h0M126.9,133.9h0M148.6,130.7h0M124.7,127.7h0M147.1,124.1h0M138.6,118h0M124.4,130.6h0M132,120.4h0M124.3,122.5h0M146.4,130.8h0M127,126.6h0M133.9,138.3h0M128.8,133.3h0M128,120h0M134.7,122h0M142.4,120.6h0M127.3,122.6h0M150,123.2h0M126.1,121.1h0M147.8,131.2h0M143.2,143.8h0M142.9,142.2h0M125.1,128.3h0M142,120.5h0M141.9,121.2h0M150.6,130.1h0M126,128.4h0M150.7,133.3h0M139,116.5h0M145.2,131h0M131.2,119.6h0M145.8,140h0M125.1,118.8h0M132.1,137h0M147.9,142.4h0M147.9,132.2h0M125.9,130.4h0M150.4,132.3h0M127.5,123.2h0M136,120h0M139,135h0M127.3,132h0M145.9,138.4h0M140.7,119.3h0M149.1,129.8h0M149.9,130h0M124.9,129h0M149.4,135.3h0M137.4,142h0M147.2,127.8h0M129.5,134.4h0M128.8,132.7h0M127.8,123h0M151.7,134.3h0M140.5,139.8h0M127.2,124.6h0M146.3,138.1h0M131.6,135.7h0M145.3,122.6h0M124.2,128.5h0M132.8,136.4h0M148.7,129.6h0M125.3,132.5h0M138.5,143.2h0M138.9,121.8h0M136.5,139.8h0M128.5,129.8h0M145.5,144.3h0M143.2,117.2h0M124.3,129.7h0M147.2,127.6h0M139.5,142.3h0M146.4,126h0M133.8,119.7h0M128.8,134.5h0M123,125.1h0M132.5,120.7h0M130,136.4h0M135.2,139.5h0M146.9,122.9h0M144.4,126.6h0M131.5,117.5h0" stroke="#1c69a8" stroke-width="0.55" stroke-linecap="round" fill="none" opacity="0.75"/>
<ellipse cx="162.3" cy="95.3" rx="5.2" ry="3.9" fill="none" stroke="#e8472b" stroke-width="2.1" transform="rotate(-25 162.3 95.3)" filter="url(#rg)"/>
<path d="M143.0,90.2C142.2,90.7 139.8,91.7 138.5,93.0C137.2,94.3 136.1,96.2 135.3,98.0C134.5,99.8 134.1,101.9 133.7,104.0C133.3,106.1 133.1,109.4 133.0,110.5" fill="none" stroke="#5bc0eb" stroke-width="2.2" stroke-linecap="round" filter="url(#rg)"/>
<path d="M135.6,107.6C135.4,108.1 134.8,109.3 134.4,110.5C134.0,111.7 133.5,113.9 133.3,114.6" fill="none" stroke="#7a1f6a" stroke-width="1.3" stroke-linecap="round" filter="url(#rg)"/>
<circle cx="121.1" cy="40.3" r="0.9" fill="#f5e04a"/>
<circle cx="116.6" cy="48.9" r="1.1" fill="#7a1f6a"/>
<path d="M138.2,132.4L137.9,131.6L137.3,130.4L136.7,129.1L136.1,127.7L135.4,126.2L134.9,124.8L134.4,123.6L134.0,122.3L133.6,120.9L133.2,119.6L132.9,118.3L132.6,116.9L132.3,115.4L132.0,114.0L131.8,112.5L131.6,111.0L131.4,109.5L131.4,108.0L131.4,106.4L131.4,104.7L131.5,102.9L131.7,101.2L131.9,99.6L132.1,98.2L132.4,96.9L132.8,95.6L133.2,94.5L133.6,93.4L134.1,92.4L134.5,91.5L135.0,90.6L135.5,89.9L136.0,89.2L136.5,88.5L136.9,88.0L137.3,87.5L135.1,86.1L134.9,86.5L134.5,87.1L134.0,87.8L133.5,88.6L132.9,89.5L132.5,90.5L132.1,91.5L131.6,92.6L131.2,93.8L130.9,95.1L130.5,96.4L130.3,97.8L130.1,99.4L129.9,101.1L129.8,102.8L129.8,104.6L129.8,106.4L129.8,108.0L130.0,109.6L130.2,111.2L130.4,112.7L130.7,114.2L131.1,115.7L131.4,117.1L131.8,118.5L132.2,119.9L132.6,121.2L133.1,122.6L133.6,123.9L134.1,125.2L134.7,126.5L135.4,128.0L136.1,129.4L136.8,130.7L137.4,131.8L137.8,132.6Z" fill="#b9b9b9"/>
<path d="M138.6,82.8L138.4,89L133.4,86Z" fill="#b9b9b9"/>
<path d="M138.1,132.3L137.3,131.7L136.1,131.0L134.7,130.1L133.1,129.2L131.6,128.3L130.2,127.6L128.9,127.0L127.6,126.5L126.3,126.1L124.9,125.7L123.6,125.3L122.1,125.0L120.5,124.7L118.9,124.5L117.2,124.3L115.4,124.2L113.7,124.2L111.9,124.2L110.2,124.4L108.4,124.6L106.6,124.9L104.9,125.3L103.3,125.7L101.7,126.1L100.3,126.5L98.9,127.0L97.6,127.6L96.5,128.1L95.4,128.6L94.5,129.0L93.7,129.4L92.9,129.8L92.3,130.2L91.9,130.5L91.5,130.8L91.2,131.0L92.8,133.0L93.1,132.8L93.4,132.5L93.8,132.2L94.2,131.8L94.8,131.4L95.5,131.0L96.4,130.5L97.4,130.0L98.5,129.4L99.7,128.9L100.9,128.4L102.3,127.9L103.7,127.5L105.3,127.0L107.0,126.6L108.7,126.3L110.4,126.0L112.1,125.8L113.7,125.7L115.4,125.7L117.1,125.7L118.7,125.8L120.4,126.0L121.9,126.2L123.3,126.4L124.7,126.7L126.0,127.0L127.2,127.4L128.5,127.9L129.8,128.4L131.2,129.0L132.8,129.8L134.3,130.7L135.8,131.5L137.0,132.2L137.9,132.7Z" fill="#b9b9b9"/>
<path d="M88.8,134.4L91.4,129.4L94.4,134Z" fill="#b9b9b9"/>
<path d="M36.7,122V95.5M31,116.7H57.5" stroke="#111" stroke-width="0.9" fill="none"/>
<path d="M36.7,91.2L38.5,96.4H34.9Z M61.9,116.7L56.7,118.5V114.9Z" fill="#111"/>
<text x="38.8" y="125.1" font-size="5.7" fill="#1a1a1a" textLength="21.6" lengthAdjust="spacingAndGlyphs">UMAP-1</text>
<text transform="translate(28.6,92.2) rotate(90)" font-size="5.7" fill="#1a1a1a" textLength="22" lengthAdjust="spacingAndGlyphs">UMAP-2</text>
<circle cx="8.6" cy="160.1" r="2.2" fill="#b02a20"/>
<text x="12.8" y="161.8" font-size="4.6" fill="#222">B cells</text>
<circle cx="8.6" cy="166.5" r="2.2" fill="#7f9a3a"/>
<text x="12.8" y="168.1" font-size="4.6" fill="#222">CD4 CD8 DP</text>
<circle cx="8.6" cy="172.9" r="2.2" fill="#f58322"/>
<text x="12.8" y="174.5" font-size="4.6" fill="#222">CD4 CM</text>
<circle cx="8.6" cy="179.2" r="2.2" fill="#f5a83a"/>
<text x="12.8" y="180.9" font-size="4.6" fill="#222">CD4 CM CCR4 CXCR3</text>
<circle cx="8.6" cy="185.6" r="2.2" fill="#e8766c"/>
<text x="12.8" y="187.3" font-size="4.6" fill="#222">CD4 CM CCR6</text>
<circle cx="8.6" cy="192.0" r="2.2" fill="#2b2b33"/>
<text x="12.8" y="193.7" font-size="4.6" fill="#222">CD4 CM Th1</text>
<circle cx="8.6" cy="198.4" r="2.2" fill="#553418"/>
<text x="12.8" y="200.0" font-size="4.6" fill="#222">CD4 CM Th1/17</text>
<circle cx="71.2" cy="160.1" r="2.2" fill="#f7c733"/>
<text x="75.4" y="161.8" font-size="4.6" fill="#222">CD4 CM Th17</text>
<circle cx="71.2" cy="166.5" r="2.2" fill="#4c7cc2"/>
<text x="75.4" y="168.1" font-size="4.6" fill="#222">CD4 CM Th2</text>
<circle cx="71.2" cy="172.9" r="2.2" fill="#6d7278"/>
<text x="75.4" y="174.5" font-size="4.6" fill="#222">CD4 EM CCR4 CXCR3</text>
<circle cx="71.2" cy="179.2" r="2.2" fill="#c8966a"/>
<text x="75.4" y="180.9" font-size="4.6" fill="#222">CD4 EM Th1</text>
<circle cx="71.2" cy="185.6" r="2.2" fill="#ea5530"/>
<text x="75.4" y="187.3" font-size="4.6" fill="#222">CD4 EM Th1/17</text>
<circle cx="71.2" cy="192.0" r="2.2" fill="#c3df95"/>
<text x="75.4" y="193.7" font-size="4.6" fill="#222">CD4 naive</text>
<circle cx="71.2" cy="198.4" r="2.2" fill="#1c69b0"/>
<text x="75.4" y="200.0" font-size="4.6" fill="#222">CD TSCM CCR4</text>
<circle cx="133.4" cy="160.1" r="2.2" fill="#2d6b2a"/>
<text x="137.6" y="161.8" font-size="4.6" fill="#222">CD4 TSCM CXCR3</text>
<circle cx="133.4" cy="166.5" r="2.2" fill="#5bc0eb"/>
<text x="137.6" y="168.1" font-size="4.6" fill="#222">CD8 CM CCR4 CD27+</text>
<circle cx="133.4" cy="172.9" r="2.2" fill="#2a0a3a"/>
<text x="137.6" y="174.5" font-size="4.6" fill="#222">CD8 EM CCR4 CXCR3 CD27</text>
<circle cx="133.4" cy="179.2" r="2.2" fill="#0e3a34"/>
<text x="137.6" y="180.9" font-size="4.6" fill="#222">CD8 EM CCR6 CXCR3 CD27</text>
<circle cx="133.4" cy="185.6" r="2.2" fill="#cc1f2a"/>
<text x="137.6" y="187.3" font-size="4.6" fill="#222">CD8 EM CXCR3</text>
<circle cx="133.4" cy="192.0" r="2.2" fill="#7a1f18"/>
<text x="137.6" y="193.7" font-size="4.6" fill="#222">CD8 EM CXCR3 CD27</text>
<circle cx="133.4" cy="198.4" r="2.2" fill="#1a9a8a"/>
<text x="137.6" y="200.0" font-size="4.6" fill="#222">CD8 naive</text>
<circle cx="208.2" cy="160.1" r="2.2" fill="#f27ab2"/>
<text x="212.4" y="161.8" font-size="4.6" fill="#222">CD8 TEMRA</text>
<circle cx="208.2" cy="166.5" r="2.2" fill="#ee6c5c"/>
<text x="212.4" y="168.1" font-size="4.6" fill="#222">CD8 TM CXCR3 CD27</text>
<circle cx="208.2" cy="172.9" r="2.2" fill="#5b9bd5"/>
<text x="212.4" y="174.5" font-size="4.6" fill="#222">Debris</text>
<circle cx="208.2" cy="179.2" r="2.2" fill="#7a1f6a"/>
<text x="212.4" y="180.9" font-size="4.6" fill="#222">NK CD8</text>
<circle cx="208.2" cy="185.6" r="2.2" fill="#a36dac"/>
<text x="212.4" y="187.3" font-size="4.6" fill="#222">NK cells</text>
<circle cx="208.2" cy="192.0" r="2.2" fill="#f26d21"/>
<text x="212.4" y="193.7" font-size="4.6" fill="#222">Unclassified</text>
<rect x="285.5" y="9.7" width="100.5" height="170.7" fill="none" stroke="#2a2a2a" stroke-width="1"/>
<path d="M386.0,23.7h3" stroke="#222" stroke-width="0.8"/>
<text x="391.9" y="26.3" font-size="7.3" fill="#1a1a1a">−10</text>
<path d="M386.0,75.3h3" stroke="#222" stroke-width="0.8"/>
<text x="391.9" y="77.9" font-size="7.3" fill="#1a1a1a">0</text>
<path d="M386.0,126.9h3" stroke="#222" stroke-width="0.8"/>
<text x="391.9" y="129.5" font-size="7.3" fill="#1a1a1a">10</text>
<path d="M386.0,178.5h3" stroke="#222" stroke-width="0.8"/>
<text x="391.9" y="181.1" font-size="7.3" fill="#1a1a1a">20</text>
<path d="M309.1,180.4v3" stroke="#222" stroke-width="0.8"/>
<text x="308.1" y="191.9" font-size="7.3" text-anchor="middle" fill="#1a1a1a">−5</text>
<path d="M334.9,180.4v3" stroke="#222" stroke-width="0.8"/>
<text x="334.9" y="191.9" font-size="7.3" text-anchor="middle" fill="#1a1a1a">0</text>
<path d="M360.7,180.4v3" stroke="#222" stroke-width="0.8"/>
<text x="360.7" y="191.9" font-size="7.3" text-anchor="middle" fill="#1a1a1a">5</text>
<text x="335.7" y="204.9" font-size="8.8" text-anchor="middle" fill="#1a1a1a" textLength="49.8" lengthAdjust="spacingAndGlyphs" stroke="#1a1a1a" stroke-width="0.2">PC2: 9% variance</text>
<text transform="translate(406.2,68.3) rotate(90)" font-size="8.8" fill="#1a1a1a" stroke="#1a1a1a" stroke-width="0.2" textLength="53.8" lengthAdjust="spacingAndGlyphs">PC1: 52% variance</text>
<path d="M336.4,158.0L336.6,140.0L336.8,120.0L335.4,120.0L335.6,140.0L335.8,158.0Z" fill="#adadad"/>
<path d="M336.7,122.0L336.5,118.2L336.2,114.4L335.7,110.7L335.2,107.0L334.5,103.3L333.7,99.6L332.9,96.0L331.9,92.5L330.7,89.1L329.5,85.7L328.2,82.4L326.7,79.2L325.1,76.2L323.5,73.2L321.7,70.4L319.7,67.7L317.7,65.2L315.5,62.8L313.3,60.6L310.9,58.6L308.4,56.7L305.7,55.1L303.0,53.7L300.2,52.5L298.8,55.9L301.6,56.9L304.1,58.1L306.6,59.5L308.9,61.1L311.2,62.9L313.4,64.9L315.5,67.1L317.5,69.4L319.4,71.9L321.2,74.6L323.0,77.4L324.6,80.3L326.1,83.4L327.5,86.5L328.8,89.8L329.9,93.1L331.0,96.6L332.0,100.1L332.9,103.6L333.6,107.2L334.2,110.9L334.8,114.6L335.2,118.3L335.5,122.0Z" fill="#adadad"/>
<path d="M336.7,122.0L337.0,118.3L337.4,114.6L338.0,110.9L338.6,107.2L339.4,103.6L340.3,100.1L341.2,96.6L342.3,93.1L343.6,89.8L344.9,86.5L346.3,83.4L347.8,80.3L349.5,77.4L351.2,74.6L353.1,72.0L355.0,69.5L357.1,67.1L359.2,64.9L361.5,62.9L363.8,61.1L366.2,59.5L368.8,58.1L371.4,56.9L374.1,55.9L372.9,52.5L370.0,53.7L367.2,55.1L364.5,56.7L361.9,58.6L359.5,60.6L357.1,62.8L354.9,65.2L352.8,67.7L350.9,70.4L349.0,73.2L347.3,76.2L345.7,79.2L344.2,82.4L342.8,85.7L341.6,89.1L340.4,92.5L339.4,96.0L338.5,99.6L337.7,103.3L337.0,107.0L336.5,110.7L336.0,114.4L335.7,118.2L335.5,122.0Z" fill="#adadad"/>
<path d="M294.6,52.4L302.2,49.2L300.6,58.6Z" fill="#adadad"/>
<path d="M378.4,52.4L370.8,49.2L372.4,58.6Z" fill="#adadad"/>
<circle cx="308.6" cy="19.4" r="2.3" fill="#f7c633"/>
<circle cx="328.3" cy="19.1" r="2.3" fill="#f7c633"/>
<circle cx="324.6" cy="25.5" r="2.3" fill="#f7c633"/>
<circle cx="314.8" cy="27" r="2.3" fill="#d9706b"/>
<circle cx="319.3" cy="45.8" r="2.3" fill="#d9706b"/>
<circle cx="327.1" cy="49.2" r="2.3" fill="#d9706b"/>
<circle cx="290.3" cy="52.4" r="2.3" fill="#4a7abf"/>
<circle cx="293.9" cy="46.6" r="2.3" fill="#4a7abf"/>
<circle cx="298.5" cy="45.1" r="2.3" fill="#4a7abf"/>
<circle cx="350.9" cy="38.9" r="2.3" fill="#f39a2e"/>
<circle cx="361.8" cy="34.9" r="2.3" fill="#f39a2e"/>
<circle cx="362.9" cy="33.9" r="2.3" fill="#f39a2e"/>
<circle cx="369" cy="30.5" r="2.3" fill="#4a2a14"/>
<circle cx="382" cy="32" r="2.3" fill="#4a2a14"/>
<circle cx="372.9" cy="41.8" r="2.3" fill="#4a2a14"/>
<circle cx="338.4" cy="60.7" r="2.3" fill="#262626"/>
<circle cx="339.3" cy="60" r="2.3" fill="#262626"/>
<circle cx="350.2" cy="68.6" r="2.3" fill="#262626"/>
<circle cx="334.8" cy="72.3" r="2.3" fill="#f26f21"/>
<circle cx="331.4" cy="78.2" r="2.3" fill="#f26f21"/>
<circle cx="322.2" cy="99" r="2.3" fill="#f26f21"/>
<circle cx="348.1" cy="103.7" r="2.3" fill="#55bfe8"/>
<circle cx="339.1" cy="124.6" r="2.3" fill="#55bfe8"/>
<circle cx="343.1" cy="131.3" r="2.3" fill="#55bfe8"/>
<circle cx="333.1" cy="127.9" r="2.3" fill="#2b5a27"/>
<circle cx="335.9" cy="156.8" r="2.3" fill="#2b5a27"/>
<circle cx="329" cy="159.3" r="2.3" fill="#2b5a27"/>
<circle cx="336.4" cy="165.4" r="2.3" fill="#1c5fa5"/>
<circle cx="332.7" cy="174" r="2.3" fill="#1c5fa5"/>
<circle cx="339.7" cy="174" r="2.3" fill="#1c5fa5"/>
<text x="425.4" y="11.4" font-size="5.9" fill="#222">Healthy adults</text>
<circle cx="427.7" cy="17.5" r="1.9" fill="#5aaa55"/>
<text x="431.8" y="19.6" font-size="6.1" fill="#222">#1</text>
<circle cx="444.4" cy="17.5" r="1.9" fill="#b59bd0"/>
<text x="448.5" y="19.6" font-size="6.1" fill="#222">#2</text>
<circle cx="461.1" cy="17.5" r="1.9" fill="#fbb070"/>
<text x="465.2" y="19.6" font-size="6.1" fill="#222">#3</text>
<text x="425.4" y="31.3" font-size="5.9" fill="#222">Cell population</text>
<circle cx="427" cy="39.3" r="1.9" fill="#1c5fa5"/>
<text x="431.8" y="41.4" font-size="6.1" fill="#222">T naive</text>
<circle cx="427" cy="46.2" r="1.9" fill="#2b5a27"/>
<text x="431.8" y="48.3" font-size="6.1" fill="#222">T SCM CCR4</text>
<circle cx="427" cy="53.0" r="1.9" fill="#55bfe8"/>
<text x="431.8" y="55.1" font-size="6.1" fill="#222">T SCM CXCR3</text>
<circle cx="427" cy="59.9" r="1.9" fill="#d9706b"/>
<text x="431.8" y="62.0" font-size="6.1" fill="#222">T CXCR3 CCR4</text>
<circle cx="427" cy="66.8" r="1.9" fill="#f26f21"/>
<text x="431.8" y="68.9" font-size="6.1" fill="#222">T CM negative</text>
<circle cx="427" cy="73.7" r="1.9" fill="#262626"/>
<text x="431.8" y="75.8" font-size="6.1" fill="#222">Th1</text>
<circle cx="427" cy="80.5" r="1.9" fill="#4a2a14"/>
<text x="431.8" y="82.6" font-size="6.1" fill="#222">Th1/17</text>
<circle cx="427" cy="87.4" r="1.9" fill="#4a7abf"/>
<text x="431.8" y="89.5" font-size="6.1" fill="#222">Th2</text>
<circle cx="427" cy="94.3" r="1.9" fill="#f7c633"/>
<text x="431.8" y="96.4" font-size="6.1" fill="#222">Th17</text>
<circle cx="427" cy="101.1" r="1.9" fill="#f39a2e"/>
<text x="431.8" y="103.2" font-size="6.1" fill="#222">T CCR6</text>
<text x="425.4" y="114.8" font-size="5.9" fill="#222">Transcrip. program (TP)</text>
<circle cx="426" cy="122.6" r="1.9" fill="#e31a1c"/>
<text x="430.6" y="124.7" font-size="6.1" fill="#222">#1</text>
<circle cx="426" cy="129.5" r="1.9" fill="#128a5c"/>
<text x="430.6" y="131.6" font-size="6.1" fill="#222">#2</text>
<circle cx="426" cy="136.5" r="1.9" fill="#d4511c"/>
<text x="430.6" y="138.6" font-size="6.1" fill="#222">#3</text>
<circle cx="426" cy="143.4" r="1.9" fill="#5a4fa3"/>
<text x="430.6" y="145.5" font-size="6.1" fill="#222">#4</text>
<circle cx="426" cy="150.3" r="1.9" fill="#e7198a"/>
<text x="430.6" y="152.4" font-size="6.1" fill="#222">#5</text>
<circle cx="426" cy="157.2" r="1.9" fill="#43952f"/>
<text x="430.6" y="159.3" font-size="6.1" fill="#222">#6</text>
<circle cx="426" cy="164.2" r="1.9" fill="#1f62b0"/>
<text x="430.6" y="166.3" font-size="6.1" fill="#222">#7</text>
<circle cx="426" cy="171.1" r="1.9" fill="#2ca035"/>
<text x="430.6" y="173.2" font-size="6.1" fill="#222">#8</text>
<circle cx="426" cy="178.0" r="1.9" fill="#f4679d"/>
<text x="430.6" y="180.1" font-size="6.1" fill="#222">#9</text>
<circle cx="426" cy="185.0" r="1.9" fill="#f4691b"/>
<text x="430.6" y="187.1" font-size="6.1" fill="#222">#10</text>
<circle cx="445" cy="122.6" r="1.9" fill="#f5e829"/>
<text x="449.6" y="124.7" font-size="6.1" fill="#222">#11</text>
<circle cx="445" cy="129.5" r="1.9" fill="#8a2c8c"/>
<text x="449.6" y="131.6" font-size="6.1" fill="#222">#12</text>
<circle cx="445" cy="136.5" r="1.9" fill="#96441a"/>
<text x="449.6" y="138.6" font-size="6.1" fill="#222">#13</text>
<path d="M41.7,242.2V235.2H48.9V242.2M34.5,242.2V234.2H45.3V235.2M56.2,242.2V233.8H63.4V242.2M39.9,234.2V233.0H59.8V233.8M85.1,242.2V234.2H92.3V242.2M77.9,242.2V233.0H88.7V234.2M70.6,242.2V231.0H83.3V233.0M49.8,233.0V229.0H77.0V231.0M114.0,242.2V235.2H121.2V242.2M106.8,242.2V234.2H117.6V235.2M128.5,242.2V234.2H135.7V242.2M112.2,234.2V233.0H132.1V234.2M99.6,242.2V231.5H122.2V233.0M150.2,242.2V235.2H157.4V242.2M142.9,242.2V234.2H153.8V235.2M171.9,242.2V234.3H179.1V242.2M164.6,242.2V233.0H175.5V234.3M148.4,234.2V232.3H170.1V233.0M193.6,242.2V233.0H200.8V242.2M186.3,242.2V231.0H197.2V233.0M215.3,242.2V235.7H222.5V242.2M208.0,242.2V235.0H218.9V235.7M237.0,242.2V234.3H244.2V242.2M229.7,242.2V233.0H240.6V234.3M213.5,235.0V231.5H235.2V233.0M191.8,231.0V229.5H224.3V231.5M159.2,232.3V228.8H208.0V229.5M110.9,231.5V228.0H183.6V228.8M63.4,229.0V221.8H147.2V228.0" fill="none" stroke="#222" stroke-width="0.9" stroke-linejoin="miter"/>
<rect x="30.85" y="242.3" width="21.75" height="3.7" fill="#1d64ad"/>
<rect x="52.55" y="242.3" width="21.75" height="3.7" fill="#2f6127"/>
<rect x="74.24" y="242.3" width="21.75" height="3.7" fill="#5cc4ee"/>
<rect x="95.94" y="242.3" width="7.28" height="3.7" fill="#7a4417"/>
<rect x="103.17" y="242.3" width="21.75" height="3.7" fill="#f9a72b"/>
<rect x="124.87" y="242.3" width="14.51" height="3.7" fill="#7a4417"/>
<rect x="139.33" y="242.3" width="21.75" height="3.7" fill="#f47b20"/>
<rect x="161.03" y="242.3" width="21.75" height="3.7" fill="#3d3a3a"/>
<rect x="182.72" y="242.3" width="21.75" height="3.7" fill="#5b86cc"/>
<rect x="204.42" y="242.3" width="21.75" height="3.7" fill="#f9cf2f"/>
<rect x="226.11" y="242.3" width="21.75" height="3.7" fill="#e27a74"/>
<rect x="30.85" y="247.2" width="7.28" height="3.4" fill="#5aaa55"/>
<rect x="38.08" y="247.2" width="7.28" height="3.4" fill="#b59bd0"/>
<rect x="45.31" y="247.2" width="7.28" height="3.4" fill="#fbb070"/>
<rect x="52.55" y="247.2" width="7.28" height="3.4" fill="#5aaa55"/>
<rect x="59.78" y="247.2" width="7.28" height="3.4" fill="#fbb070"/>
<rect x="67.01" y="247.2" width="7.28" height="3.4" fill="#b59bd0"/>
<rect x="74.24" y="247.2" width="7.28" height="3.4" fill="#fbb070"/>
<rect x="81.47" y="247.2" width="7.28" height="3.4" fill="#5aaa55"/>
<rect x="88.71" y="247.2" width="7.28" height="3.4" fill="#b59bd0"/>
<rect x="95.94" y="247.2" width="7.28" height="3.4" fill="#b59bd0"/>
<rect x="103.17" y="247.2" width="7.28" height="3.4" fill="#5aaa55"/>
<rect x="110.40" y="247.2" width="7.28" height="3.4" fill="#b59bd0"/>
<rect x="117.63" y="247.2" width="7.28" height="3.4" fill="#fbb070"/>
<rect x="124.87" y="247.2" width="7.28" height="3.4" fill="#5aaa55"/>
<rect x="132.10" y="247.2" width="7.28" height="3.4" fill="#fbb070"/>
<rect x="139.33" y="247.2" width="7.28" height="3.4" fill="#5aaa55"/>
<rect x="146.56" y="247.2" width="7.28" height="3.4" fill="#b59bd0"/>
<rect x="153.79" y="247.2" width="7.28" height="3.4" fill="#fbb070"/>
<rect x="161.03" y="247.2" width="7.28" height="3.4" fill="#fbb070"/>
<rect x="168.26" y="247.2" width="7.28" height="3.4" fill="#5aaa55"/>
<rect x="175.49" y="247.2" width="7.28" height="3.4" fill="#b59bd0"/>
<rect x="182.72" y="247.2" width="7.28" height="3.4" fill="#5aaa55"/>
<rect x="189.95" y="247.2" width="7.28" height="3.4" fill="#b59bd0"/>
<rect x="197.19" y="247.2" width="7.28" height="3.4" fill="#fbb070"/>
<rect x="204.42" y="247.2" width="7.28" height="3.4" fill="#5aaa55"/>
<rect x="211.65" y="247.2" width="7.28" height="3.4" fill="#b59bd0"/>
<rect x="218.88" y="247.2" width="7.28" height="3.4" fill="#fbb070"/>
<rect x="226.11" y="247.2" width="7.28" height="3.4" fill="#5aaa55"/>
<rect x="233.35" y="247.2" width="7.28" height="3.4" fill="#b59bd0"/>
<rect x="240.58" y="247.2" width="7.28" height="3.4" fill="#fbb070"/>
<text x="249.6" y="245.9" font-size="5.6" fill="#222">Pop.</text>
<text x="249.6" y="252.2" font-size="5.6" fill="#222">HA</text>
<rect x="25.8" y="252.0" width="4.2" height="25.1" fill="#f5e829"/>
<rect x="30.85" y="252.0" width="216.96" height="25.1" fill="#fdf3b5"/>
<rect x="25.8" y="278.5" width="4.2" height="15.7" fill="#f4679d"/>
<rect x="30.85" y="278.5" width="216.96" height="15.7" fill="#fdf3b5"/>
<rect x="25.8" y="296.0" width="4.2" height="20.0" fill="#128a5c"/>
<rect x="30.85" y="296.0" width="216.96" height="20.0" fill="#fdf3b5"/>
<rect x="25.8" y="317.6" width="4.2" height="4.4" fill="#d4511c"/>
<rect x="30.85" y="317.6" width="216.96" height="4.4" fill="#fdf3b5"/>
<rect x="25.8" y="323.4" width="4.2" height="4.3" fill="#f4691b"/>
<rect x="30.85" y="323.4" width="216.96" height="4.3" fill="#fdf3b5"/>
<rect x="25.8" y="329.3" width="4.2" height="52.4" fill="#2ca035"/>
<rect x="30.85" y="329.3" width="216.96" height="52.4" fill="#fdf3b5"/>
<rect x="25.8" y="383.6" width="4.2" height="6.4" fill="#1f62b0"/>
<rect x="30.85" y="383.6" width="216.96" height="6.4" fill="#fdf3b5"/>
<rect x="25.8" y="392.0" width="4.2" height="6.4" fill="#e31a1c"/>
<rect x="30.85" y="392.0" width="216.96" height="6.4" fill="#fdf3b5"/>
<rect x="25.8" y="400.4" width="4.2" height="5.4" fill="#5a4fa3"/>
<rect x="30.85" y="400.4" width="216.96" height="5.4" fill="#fdf3b5"/>
<rect x="25.8" y="407.7" width="4.2" height="8.4" fill="#e7198a"/>
<rect x="30.85" y="407.7" width="216.96" height="8.4" fill="#fdf3b5"/>
<rect x="25.8" y="417.9" width="4.2" height="31.3" fill="#96441a"/>
<rect x="30.85" y="417.9" width="216.96" height="31.3" fill="#fdf3b5"/>
<rect x="25.8" y="451.0" width="4.2" height="5.8" fill="#43952f"/>
<rect x="30.85" y="451.0" width="216.96" height="5.8" fill="#fdf3b5"/>
<rect x="25.8" y="458.6" width="4.2" height="18.2" fill="#8a2c8c"/>
<rect x="30.85" y="458.6" width="216.96" height="18.2" fill="#fdf3b5"/>
<g transform="translate(30.85,0) scale(7.232,1)" fill="none">
<path d="M0,252.5h1M7,252.5h2M16,252.5h1M0,255.51h1M1,256.52h1M0,257.52h1M17,258.53h1M15,259.53h2M16,261.54h1M23,261.54h1M15,263.55h1M17,263.55h1M0,264.55h1M15,265.55h1M16,266.56h1M6,267.56h1M16,267.56h2M8,268.57h1M16,268.57h1M26,268.57h1M16,270.57h2M6,271.58h1M9,273.59h1M20,273.59h1M6,274.59h1M0,275.59h1M3,275.59h1M18,275.59h1M20,275.59h1M12,276.6h1M16,296.5h1M1,297.5h1M6,297.5h1M19,297.5h1M15,299.5h1M17,299.5h1M19,299.5h1M8,300.5h1M11,301.5h1M28,302.5h1M14,304.5h1M20,304.5h1M17,305.5h1M8,306.5h1M13,306.5h2M2,307.5h1M13,307.5h1M19,307.5h1M6,308.5h1M10,308.5h1M19,308.5h1M0,309.5h1M7,309.5h1M18,309.5h1M14,311.5h1M7,313.5h1M10,313.5h1M20,313.5h1" stroke="#fff1aa" stroke-width="1.12"/>
<path d="M1,252.5h1M20,252.5h1M23,252.5h1M29,253.51h1M15,254.51h1M17,255.51h1M5,256.52h2M8,256.52h1M22,256.52h1M17,257.52h1M12,258.53h1M4,259.53h1M7,259.53h1M17,260.53h1M23,260.53h1M27,260.53h1M29,260.53h1M7,261.54h1M17,261.54h1M19,261.54h1M6,262.54h1M13,262.54h1M0,263.55h1M8,263.55h1M7,264.55h1M17,264.55h2M6,265.55h1M4,266.56h1M15,266.56h1M17,266.56h1M27,267.56h1M6,268.57h1M11,268.57h1M17,268.57h1M21,268.57h1M29,268.57h1M18,269.57h1M23,270.57h1M21,272.58h3M4,273.59h2M7,274.59h1M11,274.59h1M15,274.59h1M18,274.59h1M6,275.59h1M8,275.59h1M19,275.59h1M23,275.59h1M6,296.5h1M9,296.5h1M18,296.5h1M9,297.5h1M13,297.5h2M12,298.5h1M1,299.5h1M13,299.5h2M18,299.5h1M19,301.5h1M6,303.5h1M8,303.5h1M11,305.5h1M19,305.5h2M17,306.5h1M11,307.5h2M16,308.5h1M25,308.5h1M28,308.5h1M6,309.5h1M14,310.5h1M8,311.5h2M16,311.5h1M18,311.5h1M6,312.5h1M8,312.5h1M4,314.5h1M9,314.5h1M13,314.5h2M12,315.5h1" stroke="#fff6b1" stroke-width="1.12"/>
<path d="M2,252.5h1M5,252.5h2M21,252.5h1M16,254.51h1M21,254.51h1M3,256.52h1M7,257.52h1M16,257.52h1M7,258.53h1M5,259.53h1M15,260.53h1M3,261.54h1M2,262.54h1M5,262.54h1M1,263.55h1M23,263.55h1M4,264.55h1M7,265.55h1M13,265.55h1M16,265.55h2M3,266.56h1M3,267.56h1M8,267.56h1M6,269.57h1M8,269.57h1M23,269.57h1M8,270.57h1M7,271.58h1M15,271.58h2M7,272.58h1M17,272.58h1M0,273.59h1M13,273.59h1M25,273.59h1M0,274.59h1M4,275.59h1M10,275.59h1M8,276.6h1M1,296.5h1M19,296.5h1M2,297.5h1M7,297.5h1M7,298.5h2M16,299.5h1M2,300.5h1M7,300.5h1M16,300.5h1M7,303.5h1M8,305.5h1M16,305.5h1M4,306.5h1M15,306.5h1M6,307.5h2M8,308.5h1M27,308.5h1M0,311.5h2M4,311.5h2M1,313.5h1M5,313.5h2M3,314.5h1M6,315.5h1M13,315.5h1M15,315.5h1" stroke="#fee89c" stroke-width="1.12"/>
<path d="M3,252.5h1M4,253.51h2M16,253.51h2M0,254.51h1M2,256.52h1M2,257.52h1M5,257.52h1M2,258.53h1M8,258.53h1M0,259.53h1M2,259.53h2M6,259.53h1M0,260.53h1M6,260.53h2M0,262.54h1M8,264.55h1M4,265.55h1M1,267.56h1M7,267.56h1M3,268.57h1M7,268.57h1M2,269.57h2M5,270.57h1M5,271.58h1M1,272.58h1M3,272.58h1M5,272.58h1M16,272.58h1M7,273.59h1M16,273.59h1M1,274.59h1M3,274.59h1M2,275.59h1M17,276.6h1M0,296.5h1M2,296.5h1M4,296.5h1M0,297.5h1M2,298.5h1M5,298.5h1M5,299.5h1M7,299.5h1M3,300.5h1M6,300.5h1M1,301.5h1M6,301.5h3M1,302.5h1M8,302.5h1M5,303.5h1M2,304.5h1M6,304.5h1M0,305.5h2M3,305.5h1M7,305.5h1M2,306.5h1M5,307.5h1M1,309.5h1M3,309.5h1M1,310.5h3M5,310.5h3M0,312.5h1M4,312.5h1M2,313.5h1M1,314.5h1M8,315.5h1" stroke="#fedc8d" stroke-width="1.12"/>
<path d="M4,252.5h1M6,253.51h1M8,253.51h1M1,257.52h1M1,260.53h3M16,260.53h1M1,261.54h1M4,261.54h2M2,263.55h1M16,263.55h1M6,264.55h1M3,265.55h1M2,266.56h1M2,268.57h1M5,268.57h1M4,269.57h1M0,270.57h2M6,270.57h1M3,271.58h1M0,272.58h1M2,272.58h1M2,273.59h1M8,273.59h1M2,274.59h1M5,275.59h1M2,276.6h2M7,276.6h1M3,297.5h1M4,298.5h1M6,299.5h1M5,301.5h1M4,302.5h1M4,303.5h1M3,304.5h1M7,304.5h1M6,305.5h1M7,306.5h1M4,310.5h1M0,313.5h1M3,313.5h2M0,314.5h1M3,315.5h1M7,315.5h1" stroke="#fecf85" stroke-width="1.12"/>
<path d="M9,252.5h1M27,252.5h2M13,253.51h2M24,253.51h1M9,254.51h1M13,254.51h1M27,254.51h1M22,255.51h1M18,256.52h1M20,256.52h1M24,256.52h1M13,257.52h1M22,257.52h1M29,257.52h1M11,258.53h1M28,258.53h1M12,259.53h1M28,259.53h1M11,260.53h1M19,260.53h1M14,261.54h1M27,261.54h1M29,261.54h1M10,262.54h1M18,262.54h1M26,262.54h1M29,262.54h1M19,263.55h1M9,264.55h1M26,264.55h1M14,268.57h1M9,269.57h1M11,269.57h1M26,269.57h1M9,271.58h4M25,271.58h1M29,271.58h1M9,272.58h1M18,272.58h1M28,273.59h2M19,274.59h1M26,275.59h1M28,275.59h1M19,276.6h2M24,276.6h1M27,276.6h1M29,276.6h1M15,296.5h1M15,297.5h1M21,297.5h1M9,298.5h1M17,298.5h1M29,298.5h1M27,299.5h3M27,302.5h1M29,302.5h1M20,303.5h1M22,303.5h1M24,304.5h1M27,304.5h1M24,305.5h3M24,306.5h1M14,307.5h1M14,308.5h1M23,309.5h1M27,309.5h1M18,310.5h1M10,311.5h1M12,312.5h1M20,312.5h3M26,312.5h1M11,313.5h1M22,313.5h1M28,313.5h1M11,314.5h1M20,314.5h1M23,314.5h3M20,315.5h1M22,315.5h1M25,315.5h1M27,315.5h1" stroke="#ecf8e1" stroke-width="1.12"/>
<path d="M10,252.5h1M19,252.5h1M20,253.51h1M25,253.51h1M28,253.51h1M14,254.51h1M18,254.51h2M7,255.51h1M11,255.51h1M20,255.51h1M26,255.51h1M12,256.52h1M19,256.52h1M23,256.52h1M19,257.52h1M13,258.53h1M19,258.53h1M21,258.53h1M25,258.53h1M20,259.53h1M23,259.53h1M12,260.53h2M26,260.53h1M12,261.54h1M20,262.54h1M22,262.54h1M25,262.54h1M10,263.55h1M13,263.55h2M18,263.55h1M25,263.55h3M13,264.55h3M20,264.55h1M25,264.55h1M28,264.55h1M10,265.55h1M12,265.55h1M14,265.55h1M18,265.55h2M24,265.55h2M28,265.55h1M8,266.56h1M21,266.56h1M25,266.56h1M29,266.56h1M9,267.56h1M14,267.56h1M21,267.56h1M29,267.56h1M13,268.57h1M12,269.57h1M15,269.57h1M20,269.57h2M25,269.57h1M27,269.57h1M11,270.57h2M14,270.57h1M21,270.57h1M24,270.57h1M28,270.57h1M20,271.58h1M28,271.58h1M14,272.58h1M25,272.58h2M29,272.58h1M27,273.59h1M10,274.59h1M13,274.59h1M20,274.59h1M26,274.59h2M9,275.59h1M12,275.59h1M14,275.59h1M29,275.59h1M21,276.6h1M21,296.5h1M26,296.5h2M11,297.5h1M24,297.5h3M10,298.5h2M15,298.5h2M20,298.5h1M23,298.5h1M25,298.5h1M28,298.5h1M12,299.5h1M22,299.5h1M26,299.5h1M13,300.5h1M20,300.5h1M25,300.5h1M15,301.5h1M20,301.5h1M25,301.5h1M27,301.5h1M18,302.5h2M26,302.5h1M10,303.5h1M13,303.5h1M18,303.5h1M21,303.5h1M10,304.5h1M16,304.5h1M28,304.5h1M10,305.5h1M23,305.5h1M11,306.5h1M21,306.5h1M26,306.5h1M15,307.5h1M21,307.5h2M27,307.5h1M13,308.5h1M24,308.5h1M29,308.5h1M9,309.5h1M16,309.5h1M24,309.5h1M10,310.5h1M17,310.5h1M20,310.5h1M28,310.5h1M20,311.5h1M27,311.5h1M17,312.5h1M23,312.5h1M27,312.5h2M9,313.5h1M12,313.5h1M26,314.5h1M10,315.5h1" stroke="#f6fbd0" stroke-width="1.12"/>
<path d="M11,252.5h1M15,252.5h1M17,252.5h1M6,254.51h1M17,254.51h1M6,255.51h1M0,256.52h1M15,256.52h1M6,257.52h1M15,257.52h1M0,258.53h1M3,258.53h2M16,258.53h1M22,258.53h1M22,259.53h1M6,261.54h1M4,262.54h1M7,262.54h1M17,262.54h1M3,263.55h1M21,263.55h2M12,264.55h1M16,264.55h1M21,265.55h1M7,266.56h1M0,267.56h1M5,267.56h1M15,267.56h1M15,268.57h1M22,268.57h1M4,270.57h1M15,270.57h1M0,271.58h1M17,271.58h1M4,272.58h1M6,273.59h1M18,273.59h1M4,274.59h1M1,275.59h1M7,275.59h1M15,276.6h2M3,296.5h1M7,296.5h2M20,296.5h1M8,297.5h1M3,298.5h1M2,299.5h1M4,299.5h1M9,301.5h1M28,301.5h1M9,302.5h1M9,305.5h1M15,305.5h1M17,307.5h1M4,308.5h2M9,308.5h1M8,309.5h1M19,309.5h1M8,310.5h1M13,310.5h1M3,312.5h1M5,312.5h1M7,312.5h1M2,314.5h1M5,314.5h2M10,314.5h1M17,314.5h1M4,315.5h1M14,315.5h1M16,315.5h1" stroke="#feeca3" stroke-width="1.12"/>
<path d="M12,252.5h2M24,252.5h3M9,253.51h2M18,253.51h1M22,253.51h1M26,253.51h1M26,254.51h1M8,255.51h1M12,255.51h1M15,255.51h1M19,255.51h1M24,255.51h1M7,256.52h1M9,256.52h1M14,256.52h1M27,256.52h1M29,256.52h1M10,257.52h1M9,258.53h1M15,258.53h1M29,258.53h1M21,259.53h1M24,259.53h3M29,259.53h1M9,260.53h1M28,260.53h1M8,262.54h1M16,262.54h1M21,262.54h1M24,262.54h1M9,263.55h1M11,263.55h2M29,263.55h1M21,264.55h2M20,265.55h1M22,265.55h1M26,265.55h1M29,265.55h1M11,266.56h1M20,266.56h1M22,266.56h1M10,267.56h1M12,267.56h1M22,267.56h2M26,267.56h1M18,268.57h1M20,268.57h1M27,268.57h1M10,269.57h1M3,270.57h1M10,270.57h1M18,270.57h1M20,270.57h1M22,270.57h1M14,271.58h1M21,271.58h1M10,272.58h1M19,272.58h1M10,273.59h1M19,273.59h1M26,273.59h1M12,274.59h1M22,274.59h2M29,274.59h1M24,275.59h1M27,275.59h1M22,276.6h2M10,296.5h4M10,297.5h1M16,297.5h2M20,297.5h1M22,297.5h1M27,297.5h1M29,297.5h1M24,298.5h1M20,299.5h1M14,300.5h1M17,300.5h2M28,300.5h1M13,301.5h1M21,301.5h1M13,302.5h1M15,302.5h2M20,302.5h1M11,303.5h1M14,303.5h3M28,303.5h1M18,304.5h1M12,305.5h1M29,305.5h1M16,306.5h1M29,306.5h1M9,307.5h1M20,307.5h1M24,307.5h1M29,307.5h1M15,308.5h1M17,308.5h1M11,309.5h2M14,309.5h2M20,309.5h1M22,309.5h1M28,309.5h1M25,310.5h1M12,311.5h1M21,311.5h1M9,312.5h1M16,312.5h1M8,313.5h1M15,313.5h1M18,313.5h1M25,313.5h1M12,314.5h1M18,314.5h1M9,315.5h1M17,315.5h1M23,315.5h2" stroke="#fafdc8" stroke-width="1.12"/>
<path d="M14,252.5h1M18,252.5h1M22,252.5h1M29,252.5h1M11,253.51h2M19,253.51h1M23,253.51h1M23,254.51h1M29,254.51h1M9,255.51h1M18,255.51h1M25,255.51h1M16,256.52h2M26,256.52h1M18,257.52h1M25,257.52h1M27,257.52h1M6,258.53h1M14,258.53h1M18,258.53h1M20,258.53h1M27,258.53h1M9,259.53h1M10,260.53h1M18,260.53h1M20,260.53h2M18,261.54h1M21,261.54h1M11,262.54h1M28,262.54h1M4,263.55h1M24,263.55h1M10,264.55h1M23,264.55h1M8,265.55h1M12,266.56h1M19,266.56h1M27,266.56h1M18,267.56h3M25,267.56h1M23,268.57h1M25,268.57h1M13,269.57h1M16,269.57h2M19,269.57h1M25,270.57h2M23,271.58h1M27,271.58h1M11,272.58h1M11,273.59h2M15,273.59h1M21,273.59h2M24,273.59h1M16,274.59h1M25,274.59h1M16,275.59h2M21,275.59h2M11,276.6h1M13,276.6h1M18,297.5h1M13,298.5h2M18,298.5h1M9,299.5h1M9,300.5h1M19,300.5h1M10,301.5h1M14,301.5h1M14,302.5h1M17,302.5h1M17,303.5h1M12,304.5h1M17,304.5h1M23,304.5h1M14,305.5h1M18,305.5h1M10,306.5h1M12,306.5h1M18,306.5h1M20,306.5h1M4,307.5h1M10,307.5h1M18,307.5h1M2,308.5h1M21,308.5h1M26,308.5h1M10,309.5h1M13,309.5h1M17,309.5h1M26,309.5h1M11,310.5h2M26,310.5h1M15,311.5h1M17,311.5h1M19,311.5h1M10,312.5h1M15,312.5h1M17,313.5h1M19,313.5h1M21,313.5h1M21,314.5h1M11,315.5h1M18,315.5h2" stroke="#ffffbf" stroke-width="1.12"/>
<path d="M0,253.51h3M5,254.51h1M1,259.53h1M1,271.58h2M0,276.6h1M0,299.5h1M4,304.5h1M0,315.5h1M2,315.5h1" stroke="#fdb674" stroke-width="1.12"/>
<path d="M3,253.51h1M1,254.51h1M5,276.6h1M0,298.5h1M0,300.5h1M5,305.5h1" stroke="#fdaa6c" stroke-width="1.12"/>
<path d="M7,253.51h1M2,254.51h2M2,255.51h1M1,258.53h1M0,261.54h1M2,261.54h1M2,264.55h1M0,265.55h1M2,267.56h1M7,270.57h1M8,271.58h1M5,296.5h1M4,297.5h2M1,298.5h1M3,299.5h1M1,300.5h1M4,300.5h1M0,302.5h1M3,302.5h1M5,302.5h1M0,303.5h1M0,304.5h1M5,304.5h1M2,305.5h1M1,307.5h1M4,309.5h1M1,312.5h1M1,315.5h1M5,315.5h1" stroke="#fdc37d" stroke-width="1.12"/>
<path d="M15,253.51h1M4,254.51h1M7,254.51h2M3,255.51h1M5,255.51h1M16,255.51h1M4,256.52h1M3,257.52h2M8,259.53h1M17,259.53h1M4,260.53h2M8,260.53h1M8,261.54h1M22,261.54h1M1,262.54h1M3,262.54h1M5,263.55h1M1,264.55h1M3,264.55h1M5,264.55h1M11,264.55h1M1,265.55h2M5,265.55h1M0,266.56h2M6,266.56h1M4,267.56h1M0,268.57h2M4,268.57h1M0,269.57h2M5,269.57h1M7,269.57h1M2,270.57h1M4,271.58h1M8,272.58h1M1,273.59h1M17,273.59h1M5,274.59h1M15,275.59h1M4,276.6h1M6,276.6h1M14,296.5h1M6,298.5h1M8,299.5h1M5,300.5h1M0,301.5h1M2,301.5h3M18,301.5h1M2,302.5h1M6,302.5h2M1,303.5h3M1,304.5h1M8,304.5h1M4,305.5h1M0,306.5h2M5,306.5h2M0,307.5h1M3,307.5h1M0,308.5h2M7,308.5h1M18,308.5h1M2,309.5h1M5,309.5h1M0,310.5h1M9,310.5h1M2,311.5h2M6,311.5h2M2,312.5h1M13,312.5h1M7,314.5h1" stroke="#fee395" stroke-width="1.12"/>
<path d="M21,253.51h1M20,254.51h1M21,255.51h1M27,255.51h1M13,256.52h1M28,256.52h1M12,257.52h1M14,257.52h1M20,257.52h2M24,257.52h1M26,257.52h1M10,258.53h1M10,259.53h2M13,259.53h2M18,259.53h2M22,260.53h1M11,261.54h1M13,261.54h1M26,261.54h1M12,262.54h1M14,262.54h1M23,262.54h1M27,262.54h1M20,263.55h1M19,264.55h1M24,264.55h1M27,264.55h1M29,264.55h1M11,265.55h1M23,266.56h2M26,266.56h1M28,267.56h1M10,268.57h1M12,268.57h1M28,268.57h1M14,269.57h1M22,269.57h1M13,270.57h1M19,270.57h1M29,270.57h1M13,271.58h1M18,271.58h1M24,271.58h1M12,272.58h1M28,272.58h1M9,274.59h1M21,274.59h1M11,275.59h1M14,276.6h1M18,276.6h1M26,276.6h1M24,296.5h1M28,296.5h1M12,297.5h1M28,297.5h1M26,298.5h1M23,299.5h1M10,300.5h1M21,300.5h1M12,301.5h1M16,301.5h1M23,301.5h1M26,301.5h1M12,302.5h1M22,302.5h1M24,302.5h1M9,303.5h1M22,305.5h1M27,305.5h1M22,306.5h2M27,306.5h2M25,307.5h2M28,307.5h1M11,308.5h2M24,310.5h1M13,311.5h1M26,311.5h1M11,312.5h1M19,312.5h1M23,313.5h2M26,313.5h1M15,314.5h1M22,314.5h1M27,314.5h1M26,315.5h1" stroke="#f1fad9" stroke-width="1.12"/>
<path d="M27,253.51h1M11,257.52h1M28,266.56h1M24,267.56h1M19,268.57h1M28,276.6h1M26,300.5h1M21,304.5h1M25,304.5h1M21,309.5h1M21,310.5h1" stroke="#dcf0f7" stroke-width="1.12"/>
<path d="M10,254.51h2M10,255.51h1M14,255.51h1M9,257.52h1M28,257.52h1M10,261.54h1M20,261.54h1M25,261.54h1M9,262.54h1M19,262.54h1M9,265.55h1M24,269.57h1M28,269.57h2M9,270.57h1M26,271.58h1M13,272.58h1M24,274.59h1M28,274.59h1M13,275.59h1M9,276.6h1M23,296.5h1M25,296.5h1M23,297.5h1M10,299.5h1M21,299.5h1M24,299.5h1M27,300.5h1M29,300.5h1M21,302.5h1M23,302.5h1M25,302.5h1M24,303.5h1M29,303.5h1M26,304.5h1M23,307.5h1M22,308.5h1M29,309.5h1M22,310.5h1M11,311.5h1M23,311.5h2M29,311.5h1M28,314.5h2" stroke="#e3f4f2" stroke-width="1.12"/>
<path d="M12,254.51h1M24,254.51h2M13,255.51h1M28,255.51h2M10,256.52h1M24,258.53h1M27,259.53h1M14,260.53h1M24,260.53h1M24,261.54h1M28,261.54h1M28,263.55h1M27,265.55h1M9,266.56h1M13,266.56h2M11,267.56h1M9,268.57h1M27,270.57h1M24,272.58h1M14,273.59h1M14,274.59h1M17,274.59h1M10,276.6h1M25,276.6h1M22,296.5h1M29,296.5h1M21,298.5h2M11,299.5h1M25,299.5h1M22,300.5h2M11,302.5h1M12,303.5h1M19,303.5h1M23,303.5h1M25,303.5h3M11,304.5h1M22,304.5h1M29,304.5h1M21,305.5h1M25,306.5h1M23,308.5h1M25,309.5h1M23,310.5h1M29,310.5h1M22,311.5h1M18,312.5h1M29,312.5h1M16,313.5h1M21,315.5h1M28,315.5h2" stroke="#e8f6ea" stroke-width="1.12"/>
<path d="M22,254.51h1M4,255.51h1M23,255.51h1M11,256.52h1M21,256.52h1M25,256.52h1M8,257.52h1M23,257.52h1M5,258.53h1M23,258.53h1M26,258.53h1M25,260.53h1M15,261.54h1M15,262.54h1M6,263.55h2M23,265.55h1M5,266.56h1M10,266.56h1M18,266.56h1M13,267.56h1M24,268.57h1M19,271.58h1M22,271.58h1M6,272.58h1M15,272.58h1M20,272.58h1M27,272.58h1M3,273.59h1M23,273.59h1M8,274.59h1M25,275.59h1M17,296.5h1M19,298.5h1M27,298.5h1M11,300.5h2M15,300.5h1M17,301.5h1M22,301.5h1M24,301.5h1M29,301.5h1M10,302.5h1M9,304.5h1M13,304.5h1M15,304.5h1M19,304.5h1M13,305.5h1M28,305.5h1M3,306.5h1M9,306.5h1M19,306.5h1M8,307.5h1M16,307.5h1M3,308.5h1M20,308.5h1M15,310.5h2M19,310.5h1M27,310.5h1M25,311.5h1M28,311.5h1M14,312.5h1M13,313.5h2M8,314.5h1M16,314.5h1M19,314.5h1" stroke="#fffab8" stroke-width="1.12"/>
<path d="M28,254.51h1M27,313.5h1" stroke="#c4e1ee" stroke-width="1.12"/>
<path d="M1,255.51h1M1,276.6h1" stroke="#fc9e64" stroke-width="1.12"/>
<path d="M9,261.54h1M24,300.5h1M24,312.5h2M29,313.5h1" stroke="#d0e9f2" stroke-width="1.12"/>
<path d="M0,278.99h1M4,278.99h1M2,279.97h1M29,279.97h1M0,280.95h1M6,280.95h1M0,281.93h3M8,282.92h1M2,283.9h2M5,283.9h1M0,284.88h2M4,284.88h1M16,284.88h2M0,285.86h1M3,285.86h2M0,286.84h1M4,286.84h1M5,287.82h1M7,287.82h1M0,288.8h1M3,289.78h1M7,289.78h1M17,289.78h1M0,290.77h1M5,290.77h1M8,290.77h1M3,291.75h1M7,291.75h1M0,292.73h1M2,292.73h1M5,292.73h1M6,293.71h1" stroke="#fedc8d" stroke-width="1.1"/>
<path d="M1,278.99h1M0,279.97h1M8,279.97h1M1,280.95h1M4,280.95h1M8,280.95h1M1,282.92h4M4,283.9h1M2,286.84h1M2,287.82h1M4,289.78h1M0,291.75h1M5,291.75h1M4,292.73h1M7,292.73h1M1,293.71h1M8,293.71h1" stroke="#fecf85" stroke-width="1.1"/>
<path d="M2,278.99h1M7,279.97h1M2,280.95h1M7,280.95h1M15,280.95h1M17,280.95h1M7,281.93h1M17,282.92h1M1,283.9h1M8,283.9h1M17,283.9h1M3,284.88h1M7,285.86h2M15,285.86h1M17,285.86h1M5,286.84h1M17,286.84h1M1,288.8h1M16,289.78h1M1,290.77h2M4,290.77h1M7,290.77h1M17,292.73h1M7,293.71h1" stroke="#fee89c" stroke-width="1.1"/>
<path d="M3,278.99h1M16,278.99h1M6,279.97h1M20,280.95h1M8,281.93h1M15,281.93h1M17,281.93h2M7,282.92h1M15,282.92h1M18,282.92h1M20,282.92h1M16,283.9h1M7,284.88h1M28,284.88h1M6,285.86h1M16,287.82h1M5,288.8h1M29,288.8h1M6,290.77h1M17,290.77h1M20,290.77h1M4,291.75h1M3,292.73h1M19,293.71h2" stroke="#fff1aa" stroke-width="1.1"/>
<path d="M5,278.99h1M17,278.99h1M16,279.97h2M5,280.95h1M3,281.93h1M0,283.9h1M27,285.86h1M3,286.84h1M7,286.84h2M4,287.82h1M8,287.82h1M27,288.8h1M6,289.78h1M15,290.77h1M8,291.75h1M6,292.73h1M8,292.73h1M3,293.71h1M5,293.71h1M17,293.71h1" stroke="#fee395" stroke-width="1.1"/>
<path d="M6,278.99h1M9,278.99h1M24,278.99h1M28,278.99h1M10,279.97h1M14,279.97h1M18,279.97h1M9,280.95h1M11,280.95h2M21,280.95h1M24,280.95h1M10,281.93h1M22,281.93h1M26,282.92h1M18,283.9h3M19,284.88h1M23,284.88h2M26,284.88h1M23,285.86h1M21,287.82h1M26,287.82h1M23,288.8h1M26,288.8h1M9,289.78h1M27,289.78h2M3,290.77h1M13,290.77h1M21,290.77h1M25,290.77h1M25,291.75h1M28,291.75h2M10,292.73h1M19,292.73h1M27,292.73h1M14,293.71h1" stroke="#f6fbd0" stroke-width="1.1"/>
<path d="M7,278.99h2M20,279.97h1M3,280.95h1M19,280.95h1M5,281.93h1M28,283.9h1M29,285.86h1M6,286.84h1M15,286.84h1M1,287.82h1M6,287.82h1M10,287.82h1M16,288.8h1M19,288.8h1M18,289.78h1M9,291.75h1M12,291.75h1M15,291.75h2M16,292.73h1M20,292.73h1" stroke="#fff6b1" stroke-width="1.1"/>
<path d="M10,278.99h1M14,278.99h1M26,278.99h1M11,279.97h1M23,279.97h2M13,280.95h1M22,280.95h1M26,280.95h1M14,281.93h1M24,281.93h1M26,281.93h1M29,281.93h1M10,283.9h2M21,283.9h1M24,283.9h1M13,284.88h1M22,284.88h1M11,285.86h1M28,285.86h1M21,286.84h1M25,286.84h1M22,287.82h2M9,288.8h1M10,290.77h1M12,290.77h1M22,290.77h1M28,290.77h1M10,291.75h1M13,291.75h1M21,291.75h2M24,291.75h1M23,292.73h1M9,293.71h1M13,293.71h1M16,293.71h1M24,293.71h1" stroke="#f1fad9" stroke-width="1.1"/>
<path d="M11,278.99h1M13,279.97h1M14,280.95h1M14,283.9h1M22,285.86h1M25,288.8h1M11,289.78h1M21,289.78h1M26,289.78h1M14,290.77h1M26,290.77h1M14,292.73h1M10,293.71h1" stroke="#e3f4f2" stroke-width="1.1"/>
<path d="M12,278.99h1M25,279.97h2M9,282.92h1M13,282.92h1M21,284.88h1M13,285.86h2M25,285.86h1M11,286.84h1M14,286.84h1M22,286.84h1M24,286.84h1M9,287.82h1M14,287.82h1M10,289.78h1M12,289.78h1M24,289.78h2M23,290.77h1M29,290.77h1M21,292.73h2M12,293.71h1" stroke="#e8f6ea" stroke-width="1.1"/>
<path d="M13,278.99h1M21,278.99h1M23,278.99h1M21,279.97h1M14,282.92h1M22,282.92h1M12,285.86h1M21,285.86h1M24,287.82h1M23,289.78h1M11,290.77h1" stroke="#dcf0f7" stroke-width="1.1"/>
<path d="M15,278.99h1M19,278.99h1M25,278.99h1M27,278.99h1M12,279.97h1M16,280.95h1M23,280.95h1M25,280.95h1M27,280.95h1M12,281.93h1M27,281.93h2M24,282.92h1M9,283.9h1M13,283.9h1M15,283.9h1M23,283.9h1M26,283.9h1M16,285.86h1M26,286.84h1M29,286.84h1M11,287.82h1M18,287.82h1M20,287.82h1M29,287.82h1M10,288.8h1M13,288.8h2M21,288.8h1M24,288.8h1M28,288.8h1M16,290.77h1M18,290.77h2M6,291.75h1M11,291.75h1M20,291.75h1M23,291.75h1M9,292.73h1M26,292.73h1M28,292.73h2M18,293.71h1M21,293.71h1M26,293.71h3" stroke="#fafdc8" stroke-width="1.1"/>
<path d="M18,278.99h1M15,279.97h1M18,280.95h1M4,281.93h1M6,281.93h1M16,281.93h1M5,284.88h1M15,284.88h1M16,286.84h1M15,287.82h1M17,287.82h1M19,287.82h1M2,288.8h3M7,288.8h1M2,291.75h1M15,292.73h1" stroke="#feeca3" stroke-width="1.1"/>
<path d="M20,278.99h1M27,279.97h1M28,280.95h2M13,281.93h1M20,281.93h1M19,282.92h1M28,282.92h2M6,283.9h1M22,283.9h1M27,283.9h1M29,283.9h1M6,284.88h1M9,284.88h1M11,284.88h1M18,284.88h1M20,284.88h1M10,285.86h1M19,285.86h1M12,286.84h1M19,286.84h1M28,286.84h1M28,287.82h1M6,288.8h1M11,288.8h1M15,288.8h1M17,288.8h2M22,288.8h1M19,289.78h1M29,289.78h1M9,290.77h1M24,290.77h1M27,291.75h1M12,292.73h1M11,293.71h1M22,293.71h2M29,293.71h1" stroke="#ffffbf" stroke-width="1.1"/>
<path d="M22,278.99h1" stroke="#c4e1ee" stroke-width="1.1"/>
<path d="M29,278.99h1M9,279.97h1M19,279.97h1M28,279.97h1M19,281.93h1M6,282.92h1M16,282.92h1M27,282.92h1M7,283.9h1M12,283.9h1M8,284.88h1M27,284.88h1M29,284.88h1M18,285.86h1M20,285.86h1M18,286.84h1M20,286.84h1M27,286.84h1M8,288.8h1M12,288.8h1M20,288.8h1M15,289.78h1M20,289.78h1M17,291.75h3M26,291.75h1M18,292.73h1M15,293.71h1" stroke="#fffab8" stroke-width="1.1"/>
<path d="M1,279.97h1M3,279.97h1M5,279.97h1M2,284.88h1M5,285.86h1M0,287.82h1M3,287.82h1M1,289.78h2M8,289.78h1M1,291.75h1" stroke="#fdc37d" stroke-width="1.1"/>
<path d="M4,279.97h1M0,282.92h1M5,282.92h1M1,285.86h2M1,286.84h1M0,289.78h1M1,292.73h1" stroke="#fdb674" stroke-width="1.1"/>
<path d="M22,279.97h1M10,280.95h1M9,281.93h1M11,281.93h1M21,281.93h1M23,281.93h1M25,281.93h1M10,282.92h2M21,282.92h1M23,282.92h1M25,282.92h1M25,283.9h1M10,284.88h1M12,284.88h1M14,284.88h1M25,284.88h1M9,285.86h1M24,285.86h1M26,285.86h1M9,286.84h2M13,286.84h1M23,286.84h1M13,287.82h1M25,287.82h1M27,287.82h1M14,289.78h1M22,289.78h1M27,290.77h1M14,291.75h1M11,292.73h1M13,292.73h1M24,292.73h2M25,293.71h1" stroke="#ecf8e1" stroke-width="1.1"/>
<path d="M12,282.92h1M12,287.82h1M13,289.78h1" stroke="#d0e9f2" stroke-width="1.1"/>
<path d="M5,289.78h1M0,293.71h1M2,293.71h1M4,293.71h1" stroke="#fdaa6c" stroke-width="1.1"/>
<path d="M0,318.15h2M8,318.15h1M17,318.15h1M10,320.35h1M28,320.35h1M19,321.45h1M29,321.45h1" stroke="#fffab8" stroke-width="1.22"/>
<path d="M2,318.15h1M21,318.15h1M1,319.25h1M10,319.25h1M17,319.25h1M17,320.35h1M24,320.35h1M0,321.45h1M2,321.45h1" stroke="#fff6b1" stroke-width="1.22"/>
<path d="M3,318.15h1" stroke="#fff1aa" stroke-width="1.22"/>
<path d="M4,318.15h1M6,319.25h1M23,321.45h1" stroke="#fedc8d" stroke-width="1.22"/>
<path d="M5,318.15h1M4,320.35h1" stroke="#fdb674" stroke-width="1.22"/>
<path d="M6,318.15h1M19,318.15h2M27,318.15h1M0,319.25h1M19,319.25h2M24,319.25h1M27,319.25h1M0,320.35h1M15,320.35h1M19,320.35h1M23,320.35h1M28,321.45h1" stroke="#ffffbf" stroke-width="1.22"/>
<path d="M7,318.15h1M14,318.15h1M18,318.15h1M29,318.15h1M25,319.25h2M29,319.25h1M1,320.35h1M16,320.35h1M20,320.35h1M11,321.45h2M25,321.45h1" stroke="#f6fbd0" stroke-width="1.22"/>
<path d="M9,318.15h1M13,319.25h1M2,320.35h1M25,320.35h1M9,321.45h1" stroke="#e8f6ea" stroke-width="1.22"/>
<path d="M10,318.15h1M7,319.25h1M6,320.35h1" stroke="#fee395" stroke-width="1.22"/>
<path d="M11,318.15h1M11,319.25h1M12,320.35h2M14,321.45h1" stroke="#ecf8e1" stroke-width="1.22"/>
<path d="M12,318.15h1M23,318.15h1M23,319.25h1M7,320.35h2M21,320.35h2M29,320.35h1M21,321.45h1" stroke="#feeca3" stroke-width="1.22"/>
<path d="M13,318.15h1M15,318.15h2M24,318.15h1M9,319.25h1M18,319.25h1M21,319.25h1M28,319.25h1M9,320.35h1M18,320.35h1M26,320.35h2M15,321.45h4M20,321.45h1M26,321.45h2" stroke="#fafdc8" stroke-width="1.22"/>
<path d="M22,318.15h1M3,319.25h2M3,320.35h1M3,321.45h1M7,321.45h2" stroke="#fecf85" stroke-width="1.22"/>
<path d="M25,318.15h1M14,320.35h1M13,321.45h1" stroke="#e3f4f2" stroke-width="1.22"/>
<path d="M26,318.15h1M28,318.15h1M12,319.25h1M14,319.25h3M11,320.35h1M1,321.45h1M10,321.45h1M24,321.45h1" stroke="#f1fad9" stroke-width="1.22"/>
<path d="M2,319.25h1M8,319.25h1" stroke="#fee89c" stroke-width="1.22"/>
<path d="M5,319.25h1" stroke="#fdaa6c" stroke-width="1.22"/>
<path d="M22,319.25h1M6,321.45h1M22,321.45h1" stroke="#fdc37d" stroke-width="1.22"/>
<path d="M5,320.35h1" stroke="#fc915c" stroke-width="1.22"/>
<path d="M4,321.45h2" stroke="#fc9e64" stroke-width="1.22"/>
<path d="M0,323.94h1M14,323.94h1M28,323.94h1M20,325.01h1M18,326.09h1M20,326.09h1M0,327.16h1M12,327.16h1M19,327.16h1M2,400.94h1M14,400.94h1M0,402.02h1M5,402.02h1M15,403.1h1M17,403.1h1M20,403.1h1M19,404.18h1M21,404.18h2M27,404.18h1M29,404.18h1M0,405.26h1" stroke="#ffffbf" stroke-width="1.2"/>
<path d="M1,323.94h1M17,323.94h2M22,323.94h2M25,323.94h1M16,325.01h1M27,325.01h1M1,326.09h1M19,326.09h1M26,326.09h1M1,327.16h2M16,327.16h1M21,327.16h1M27,327.16h1M5,400.94h1M4,402.02h1M7,402.02h2M28,402.02h1M0,403.1h2M3,403.1h1M29,403.1h1M4,404.18h1M20,405.26h1M29,405.26h1" stroke="#f1fad9" stroke-width="1.2"/>
<path d="M2,323.94h1" stroke="#dcf0f7" stroke-width="1.2"/>
<path d="M3,323.94h1M3,325.01h1M8,325.01h1M3,327.16h1M10,400.94h1M12,400.94h1M26,400.94h1M12,402.02h1M26,402.02h1M12,403.1h1M24,404.18h1M26,404.18h1M13,405.26h1" stroke="#fedc8d" stroke-width="1.2"/>
<path d="M4,323.94h1M5,326.09h1M11,404.18h1" stroke="#fdb674" stroke-width="1.2"/>
<path d="M5,323.94h1M4,325.01h1M4,326.09h1M25,403.1h1" stroke="#fdaa6c" stroke-width="1.2"/>
<path d="M6,323.94h1M14,325.01h1M13,326.09h1M17,402.02h1M25,402.02h1M12,404.18h1M23,404.18h1M10,405.26h1M14,405.26h1" stroke="#fee89c" stroke-width="1.2"/>
<path d="M7,323.94h1M10,323.94h1M7,326.09h1M10,326.09h1M15,326.09h1M9,327.16h1M11,327.16h1M14,327.16h1M17,327.16h1M29,327.16h1M13,400.94h1M21,400.94h3M13,402.02h1M15,402.02h1M21,402.02h1M18,403.1h1M21,403.1h1M9,404.18h1M16,404.18h1M20,404.18h1M9,405.26h1" stroke="#fff1aa" stroke-width="1.2"/>
<path d="M8,323.94h1M11,323.94h1M3,326.09h1M8,326.09h1M6,327.16h1M9,400.94h1M20,400.94h1M20,402.02h1M22,402.02h2M9,403.1h1M10,404.18h1M13,404.18h1M28,404.18h1M16,405.26h1" stroke="#feeca3" stroke-width="1.2"/>
<path d="M9,323.94h1M13,323.94h1M15,323.94h1M24,323.94h1M0,325.01h2M18,325.01h1M22,325.01h1M29,325.01h1M22,326.09h1M25,326.09h1M28,326.09h1M18,327.16h1M20,327.16h1M6,400.94h1M8,400.94h1M15,400.94h1M17,400.94h1M27,400.94h1M29,402.02h1M28,403.1h1M1,404.18h3M6,405.26h1M28,405.26h1" stroke="#f6fbd0" stroke-width="1.2"/>
<path d="M12,323.94h1M7,325.01h1M6,326.09h1M13,327.16h1M24,327.16h1M11,400.94h1M9,402.02h2M16,402.02h1M11,403.1h1M13,403.1h1M12,405.26h1" stroke="#fee395" stroke-width="1.2"/>
<path d="M16,323.94h1M19,323.94h3M10,325.01h2M21,325.01h1M24,325.01h2M28,325.01h1M9,326.09h1M12,326.09h1M17,326.09h1M21,326.09h1M29,326.09h1M15,327.16h1M16,400.94h1M18,400.94h2M28,400.94h2M1,402.02h1M3,402.02h1M18,402.02h2M4,403.1h1M19,403.1h1M5,404.18h1M18,404.18h1M2,405.26h1M18,405.26h1M23,405.26h1" stroke="#fafdc8" stroke-width="1.2"/>
<path d="M26,323.94h1M2,325.01h1M26,325.01h1M0,326.09h1M2,326.09h1M3,400.94h1M6,403.1h1M0,404.18h1M6,404.18h1M7,405.26h1" stroke="#e8f6ea" stroke-width="1.2"/>
<path d="M27,323.94h1M12,325.01h1M17,325.01h1M16,326.09h1M2,402.02h1M6,402.02h1M2,403.1h1M7,403.1h1M16,403.1h1M27,403.1h1M7,404.18h2M3,405.26h3M17,405.26h1" stroke="#ecf8e1" stroke-width="1.2"/>
<path d="M29,323.94h1M1,400.94h1M4,400.94h1M7,400.94h1M8,405.26h1" stroke="#e3f4f2" stroke-width="1.2"/>
<path d="M5,325.01h1M25,400.94h1M25,405.26h2" stroke="#fdc37d" stroke-width="1.2"/>
<path d="M6,325.01h1M7,327.16h2M24,400.94h1M11,402.02h1M24,402.02h1M10,403.1h1M26,403.1h1M25,404.18h1M11,405.26h1" stroke="#fecf85" stroke-width="1.2"/>
<path d="M9,325.01h1M19,325.01h1M14,326.09h1M24,326.09h1M27,326.09h1M10,327.16h1M0,400.94h1M14,402.02h1M27,402.02h1M5,403.1h1M22,403.1h2M15,404.18h1M17,404.18h1M19,405.26h1M21,405.26h1" stroke="#fffab8" stroke-width="1.2"/>
<path d="M13,325.01h1M15,325.01h1M11,326.09h1M22,327.16h1M25,327.16h2M28,327.16h1M14,403.1h1M14,404.18h1M1,405.26h1M15,405.26h1M22,405.26h1" stroke="#fff6b1" stroke-width="1.2"/>
<path d="M23,325.01h1M23,327.16h1M27,405.26h1" stroke="#d0e9f2" stroke-width="1.2"/>
<path d="M23,326.09h1" stroke="#c4e1ee" stroke-width="1.2"/>
<path d="M4,327.16h1M24,403.1h1M24,405.26h1" stroke="#fc9e64" stroke-width="1.2"/>
<path d="M5,327.16h1" stroke="#f88454" stroke-width="1.2"/>
<path d="M0,329.8h1M5,329.8h1M0,334.84h1M0,335.85h1M6,335.85h1M4,336.86h1M2,338.87h1M0,341.9h1M2,341.9h1M2,344.92h1M4,344.92h1M0,347.94h1M1,349.96h1M0,355h1M1,358.02h1M0,360.03h1M7,362.05h1M1,364.07h2M2,366.08h1M3,367.09h1M5,367.09h1M0,369.1h1M3,369.1h1M0,373.13h2M0,375.15h1M1,418.4h1M2,420.42h1M4,421.43h1M7,422.44h1M0,423.45h1M1,424.46h2M4,426.48h1M0,428.5h2M4,428.5h2M1,429.51h4M6,429.51h1M3,435.57h1M2,437.59h1M6,437.59h1M5,438.6h1M5,440.62h1M1,441.63h1M4,442.64h1M2,443.65h1M2,444.66h1M0,446.68h1M4,446.68h2M0,460.12h1M0,461.13h3M6,462.14h1M2,464.16h1M1,467.19h1M6,469.22h1M0,471.24h1M0,473.26h1M2,473.26h1M2,475.28h1" stroke="#dcf0f7" stroke-width="1.13"/>
<path d="M1,329.8h1M3,329.8h1M0,330.81h1M0,342.9h1M6,343.91h1M8,362.05h1M0,367.09h1M2,419.41h1M1,422.44h1M1,431.53h1M4,431.53h1M1,433.55h1M1,438.6h1M0,440.62h2M1,448.7h1M8,462.14h1M3,463.15h1M0,466.18h1M2,466.18h1M2,467.19h1M4,467.19h1" stroke="#c4e1ee" stroke-width="1.13"/>
<path d="M2,329.8h1M8,329.8h1M3,330.81h2M7,330.81h1M4,331.82h1M8,331.82h1M8,332.83h1M2,333.83h1M5,333.83h2M2,334.84h1M6,334.84h1M28,334.84h1M3,335.85h2M18,335.85h1M0,336.86h2M5,336.86h2M2,337.87h1M8,337.87h1M5,338.87h1M7,338.87h1M17,338.87h1M2,339.88h1M4,339.88h1M1,340.89h1M7,340.89h1M27,340.89h1M6,341.9h1M22,341.9h1M6,342.9h1M0,343.91h2M8,343.91h1M29,343.91h1M3,344.92h1M0,345.93h1M1,346.93h1M1,347.94h1M6,347.94h1M0,348.95h2M4,348.95h1M7,349.96h1M15,349.96h1M1,350.97h1M1,351.97h1M15,351.97h1M5,352.98h3M0,353.99h2M8,353.99h1M3,355h1M1,356h1M16,356h1M2,357.01h1M4,357.01h1M7,357.01h1M4,358.02h1M7,359.03h2M7,360.03h1M2,361.04h2M22,361.04h1M6,362.05h1M18,362.05h1M2,363.06h1M23,363.06h1M0,364.07h1M1,366.08h1M7,366.08h1M16,367.09h2M0,368.1h1M2,368.1h1M5,368.1h1M7,368.1h1M15,368.1h1M0,370.11h1M3,370.11h1M22,370.11h1M0,371.12h1M2,371.12h1M17,371.12h1M7,372.13h1M6,374.14h1M8,374.14h1M2,375.15h1M5,375.15h1M7,375.15h1M4,376.16h1M1,377.17h1M19,377.17h1M21,377.17h1M1,379.18h1M6,379.18h1M0,380.19h1M2,380.19h1M8,380.19h1M2,381.2h1M23,381.2h1M3,418.4h1M4,420.42h1M16,420.42h1M7,421.43h1M6,422.44h1M16,422.44h1M8,423.45h1M15,423.45h1M4,424.46h1M6,424.46h1M16,424.46h1M3,425.47h2M6,425.47h3M1,427.49h1M11,427.49h1M20,427.49h1M3,430.52h1M20,430.52h1M6,431.53h1M5,432.54h1M20,432.54h1M3,433.55h1M1,434.56h2M4,434.56h1M2,435.57h1M8,435.57h1M3,437.59h1M11,437.59h1M1,439.61h1M3,439.61h1M2,440.62h1M19,440.62h1M0,441.63h1M7,441.63h1M6,442.64h3M10,442.64h1M8,443.65h1M3,444.66h1M5,444.66h1M8,444.66h1M3,445.67h1M1,446.68h1M6,446.68h1M1,447.69h2M7,447.69h1M5,448.7h1M8,448.7h1M1,459.11h2M7,459.11h1M3,460.12h1M13,462.14h1M16,462.14h1M6,464.16h2M3,465.17h1M5,465.17h1M10,466.18h1M6,467.19h1M2,468.21h1M4,468.21h1M6,470.23h1M11,470.23h1M3,471.24h2M1,472.25h1M3,472.25h1M6,472.25h1M7,473.26h3M7,474.27h1M0,475.28h1M13,475.28h1M6,476.29h1M9,476.29h1M13,476.29h2M22,476.29h1" stroke="#f1fad9" stroke-width="1.13"/>
<path d="M4,329.8h1M6,329.8h1M1,330.81h1M5,330.81h1M0,331.82h1M6,331.82h1M0,332.83h1M1,333.83h1M1,334.84h1M4,334.84h1M0,339.88h1M3,339.88h1M3,341.9h1M1,342.9h1M2,343.91h1M0,344.92h1M4,345.93h1M6,345.93h1M2,348.95h2M5,348.95h2M18,348.95h1M8,349.96h1M1,352.98h1M3,353.99h1M4,355h1M3,356h1M7,356h1M1,357.01h1M6,358.02h2M6,359.03h1M4,360.03h1M6,360.03h1M1,361.04h1M4,361.04h1M4,362.05h2M1,363.06h1M4,363.06h1M3,364.07h1M4,365.07h1M0,366.08h1M5,366.08h1M7,369.1h1M1,371.12h1M2,372.13h1M5,372.13h1M3,373.13h1M5,374.14h1M1,375.15h1M6,375.15h1M1,376.16h1M6,376.16h1M0,377.17h1M16,377.17h1M0,378.17h1M7,378.17h1M5,379.18h1M1,380.19h1M5,380.19h1M23,380.19h1M28,380.19h1M1,381.2h1M4,381.2h2M2,418.4h1M5,422.44h1M1,423.45h2M5,423.45h2M5,424.46h1M3,426.48h1M6,426.48h1M2,427.49h1M3,428.5h1M7,428.5h1M0,429.51h1M7,429.51h1M0,432.54h1M2,432.54h1M8,432.54h1M5,433.55h1M7,433.55h1M4,435.57h2M7,435.57h1M1,437.59h1M4,437.59h1M2,439.61h1M4,439.61h1M5,442.64h1M7,443.65h1M4,444.66h1M0,445.67h1M3,459.11h1M4,460.12h1M3,461.13h1M2,463.15h1M7,463.15h2M8,467.19h1M2,469.22h1M0,470.23h1M0,472.25h1M5,472.25h1M4,474.27h1M8,475.28h1M1,476.29h1M5,476.29h1" stroke="#e8f6ea" stroke-width="1.13"/>
<path d="M7,329.8h1M5,331.82h1M18,331.82h1M22,331.82h2M7,332.83h1M15,332.83h1M4,333.83h1M17,333.83h1M23,333.83h1M0,337.87h1M13,337.87h1M16,337.87h3M3,338.87h1M19,338.87h1M22,338.87h1M7,339.88h1M15,339.88h1M17,339.88h1M6,340.89h1M19,340.89h1M8,341.9h1M11,341.9h1M17,341.9h1M16,342.9h1M27,342.9h1M3,343.91h2M7,343.91h1M18,343.91h1M5,344.92h1M19,344.92h1M5,345.93h1M4,346.93h2M17,346.93h1M19,346.93h1M23,346.93h1M27,346.93h2M4,347.94h1M7,347.94h2M19,347.94h2M27,348.95h1M22,349.96h1M17,350.97h1M29,350.97h1M4,351.97h2M17,351.97h1M12,352.98h1M19,352.98h1M6,353.99h1M14,353.99h1M17,353.99h1M21,353.99h1M23,353.99h1M28,353.99h1M16,355h1M21,356h1M15,357.01h1M20,357.01h1M22,357.01h1M20,358.02h1M16,359.03h1M12,360.03h1M14,360.03h1M5,361.04h1M16,361.04h1M19,361.04h1M3,363.06h1M7,363.06h1M5,364.07h1M1,365.07h1M3,365.07h1M6,366.08h1M8,366.08h1M7,367.09h2M4,368.1h1M11,368.1h1M16,368.1h2M23,368.1h1M7,370.11h1M18,370.11h1M23,370.11h1M27,370.11h1M6,372.13h1M19,373.13h1M7,374.14h1M3,375.15h1M7,376.16h1M18,376.16h1M8,377.17h1M15,377.17h1M28,377.17h1M8,378.17h1M15,378.17h2M23,378.17h1M9,379.18h1M20,379.18h1M9,380.19h1M16,380.19h1M22,380.19h1M0,381.2h1M6,381.2h2M20,381.2h3M4,418.4h1M11,418.4h1M13,418.4h1M18,418.4h2M3,419.41h2M16,419.41h1M20,419.41h1M10,420.42h1M15,420.42h1M15,421.43h1M19,422.44h1M9,423.45h1M13,423.45h1M18,423.45h1M0,424.46h1M12,425.47h1M15,425.47h1M17,425.47h1M19,425.47h1M5,427.49h2M8,427.49h1M19,427.49h1M8,428.5h1M19,429.51h1M13,430.52h1M6,432.54h1M16,432.54h3M10,433.55h2M15,433.55h1M6,435.57h1M10,435.57h1M19,435.57h2M5,436.58h1M20,436.58h1M9,437.59h1M15,437.59h1M7,439.61h1M10,439.61h1M26,439.61h1M8,440.62h1M13,441.63h1M13,443.65h1M6,444.66h2M11,444.66h1M18,444.66h1M29,444.66h1M8,445.67h1M11,447.69h1M4,448.7h1M9,459.11h1M17,459.11h1M9,460.12h1M8,461.13h1M14,461.13h1M1,462.14h1M9,462.14h1M23,462.14h2M0,463.15h1M0,464.16h1M13,464.16h1M18,464.16h1M0,465.17h1M13,465.17h1M22,466.18h1M5,467.19h1M10,467.19h1M0,468.21h2M8,468.21h1M11,468.21h1M1,469.22h1M5,470.23h1M8,470.23h3M12,470.23h1M16,470.23h1M7,471.24h1M8,472.25h1M14,472.25h1M18,472.25h1M1,473.26h1M11,473.26h1M5,474.27h2M18,474.27h1M4,475.28h1M7,475.28h1M14,475.28h1M7,476.29h1M26,476.29h1" stroke="#fafdc8" stroke-width="1.13"/>
<path d="M9,329.8h1M12,330.81h1M10,331.82h1M13,331.82h2M11,332.83h1M10,333.83h1M12,333.83h1M10,335.85h1M12,335.85h1M25,335.85h1M9,336.86h2M14,336.86h1M26,336.86h1M24,337.87h1M24,338.87h1M9,339.88h2M13,340.89h1M24,341.9h1M12,342.9h1M9,343.91h1M11,343.91h1M25,343.91h1M9,344.92h1M13,344.92h2M26,344.92h1M24,345.93h1M28,347.94h1M9,348.95h1M11,348.95h1M13,348.95h1M11,349.96h1M17,349.96h1M26,349.96h1M24,350.97h1M11,351.97h1M23,351.97h1M26,352.98h1M13,353.99h1M24,353.99h1M10,356h1M9,359.03h1M13,359.03h1M10,361.04h3M10,363.06h1M24,363.06h1M25,365.07h1M11,366.08h1M24,367.09h1M9,369.1h1M12,369.1h1M24,369.1h2M24,371.12h2M10,372.13h1M24,372.13h1M26,372.13h1M9,373.13h1M14,373.13h1M24,373.13h1M27,373.13h1M13,375.15h1M24,376.16h1M26,376.16h1M11,377.17h2M25,377.17h1M19,378.17h1M29,378.17h1M26,379.18h1M13,381.2h1M22,418.4h1M24,418.4h1M26,418.4h1M25,419.41h1M14,422.44h1M21,422.44h1M23,422.44h1M23,423.45h1M21,424.46h1M23,424.46h1M27,424.46h2M27,425.47h1M29,425.47h1M21,426.48h1M26,426.48h1M20,428.5h1M27,428.5h1M23,429.51h1M27,429.51h1M23,430.52h1M25,430.52h1M27,430.52h1M21,431.53h2M9,432.54h1M27,432.54h1M24,433.55h1M18,434.56h1M24,434.56h1M24,435.57h1M26,435.57h2M22,436.58h2M29,436.58h1M21,437.59h1M27,438.6h1M29,438.6h1M24,439.61h2M29,439.61h1M22,440.62h1M24,440.62h1M21,441.63h1M21,442.64h1M23,442.64h1M27,442.64h1M29,442.64h1M23,443.65h1M25,443.65h1M28,443.65h1M21,445.67h1M28,445.67h1M22,446.68h1M26,446.68h1M9,447.69h1M23,447.69h1M28,447.69h1M21,448.7h1M21,460.12h2M24,460.12h1M24,461.13h1M20,462.14h1M25,462.14h1M28,462.14h1M18,463.15h1M24,463.15h1M11,464.16h1M21,464.16h1M26,464.16h1M18,465.17h1M23,465.17h1M26,465.17h1M29,465.17h1M15,466.18h1M26,466.18h1M28,466.18h1M25,467.19h3M28,468.21h1M14,469.22h1M25,469.22h2M24,471.24h1M26,471.24h1M25,472.25h1M29,472.25h1M10,473.26h1M27,473.26h1M24,474.27h1M26,474.27h1M28,474.27h1M28,475.28h1M24,476.29h1M28,476.29h1" stroke="#fedc8d" stroke-width="1.13"/>
<path d="M10,329.8h1M19,329.8h1M26,330.81h1M9,331.82h1M14,332.83h1M28,332.83h1M19,333.83h1M18,334.84h1M21,334.84h1M24,334.84h1M29,334.84h1M15,335.85h1M24,335.85h1M11,336.86h1M20,336.86h1M25,336.86h1M10,337.87h1M25,337.87h1M9,338.87h1M11,338.87h1M18,338.87h1M21,338.87h1M12,339.88h1M28,339.88h1M13,341.9h1M18,341.9h1M23,341.9h1M21,342.9h1M25,342.9h1M13,343.91h1M15,343.91h1M22,343.91h2M29,344.92h1M11,345.93h1M15,345.93h1M18,345.93h2M25,345.93h1M9,346.93h1M26,346.93h1M13,347.94h1M17,347.94h1M23,347.94h2M12,348.95h1M28,348.95h1M23,349.96h1M25,349.96h1M13,350.97h1M20,350.97h2M26,350.97h1M29,351.97h1M10,353.99h1M25,353.99h1M27,353.99h1M15,355h1M20,355h1M25,355h4M18,356h1M9,357.01h1M13,357.01h1M21,357.01h1M23,357.01h1M15,359.03h1M17,359.03h1M22,359.03h1M9,360.03h1M19,360.03h1M18,361.04h1M21,361.04h1M9,362.05h1M13,362.05h1M16,362.05h1M11,363.06h1M20,363.06h1M25,363.06h2M27,364.07h1M11,365.07h1M27,365.07h1M10,366.08h1M22,366.08h1M14,367.09h1M18,367.09h1M3,368.1h1M21,368.1h2M10,369.1h1M18,369.1h1M22,369.1h1M27,369.1h1M12,370.11h1M18,371.12h1M23,371.12h1M19,372.13h1M22,372.13h1M9,374.14h1M19,374.14h1M24,374.14h1M9,375.15h1M12,375.15h1M29,375.15h1M21,376.16h1M7,377.17h1M20,378.17h1M22,378.17h1M28,378.17h1M18,379.18h1M19,380.19h1M24,380.19h1M12,381.2h1M17,381.2h1M26,381.2h1M20,418.4h1M25,418.4h1M21,419.41h1M24,419.41h1M28,419.41h1M9,422.44h1M13,422.44h1M14,423.45h1M21,423.45h1M9,424.46h1M14,425.47h1M21,425.47h2M9,426.48h1M22,426.48h1M27,426.48h1M10,427.49h1M15,427.49h1M13,428.5h1M14,429.51h1M16,429.51h1M28,429.51h1M9,430.52h1M16,430.52h2M22,430.52h1M29,430.52h1M24,432.54h1M10,434.56h1M25,436.58h1M20,437.59h1M23,438.6h1M25,438.6h1M14,439.61h1M27,439.61h1M10,440.62h2M15,440.62h1M28,442.64h1M18,443.65h2M21,443.65h1M10,444.66h1M22,444.66h1M19,445.67h1M27,445.67h1M19,446.68h1M24,446.68h1M12,447.69h1M18,447.69h1M22,447.69h1M27,447.69h1M10,459.11h1M27,459.11h1M11,461.13h2M18,461.13h1M26,462.14h1M29,462.14h1M20,463.15h1M12,464.16h1M20,464.16h1M12,465.17h1M17,465.17h1M21,465.17h1M16,466.18h1M19,467.19h1M10,468.21h1M17,468.21h1M9,469.22h1M16,469.22h2M18,471.24h1M22,472.25h1M26,472.25h1M29,473.26h1M9,474.27h1M21,474.27h2M11,475.28h1M21,475.28h1M24,475.28h1M19,476.29h1M27,476.29h1" stroke="#feeca3" stroke-width="1.13"/>
<path d="M11,329.8h1M17,329.8h1M22,329.8h1M11,330.81h1M18,330.81h1M23,330.81h1M11,331.82h1M16,331.82h1M20,331.82h2M17,332.83h2M14,333.83h1M16,334.84h2M19,334.84h1M13,335.85h1M16,335.85h1M23,335.85h1M5,337.87h1M15,337.87h1M19,337.87h3M10,338.87h1M12,338.87h1M20,338.87h1M0,340.89h1M4,340.89h1M8,340.89h1M16,340.89h1M29,340.89h1M16,341.9h1M21,341.9h1M8,342.9h1M14,342.9h1M20,342.9h1M27,343.91h1M16,344.92h1M6,346.93h1M10,346.93h1M15,347.94h1M21,347.94h1M17,348.95h1M19,348.95h1M16,349.96h1M19,349.96h1M19,350.97h1M22,350.97h1M13,351.97h1M18,351.97h1M28,351.97h1M21,352.98h2M27,352.98h1M29,352.98h1M19,353.99h2M26,353.99h1M13,355h1M17,355h1M21,355h2M12,356h2M12,357.01h1M16,357.01h1M19,357.01h1M29,357.01h1M21,358.02h1M29,360.03h1M7,361.04h1M28,361.04h1M21,362.05h1M27,362.05h1M9,363.06h1M27,363.06h1M8,364.07h1M12,364.07h1M21,364.07h2M9,365.07h1M18,365.07h1M20,365.07h2M29,365.07h1M12,366.08h2M15,366.08h1M17,366.08h1M19,367.09h1M29,367.09h1M25,368.1h2M16,369.1h1M19,369.1h1M23,369.1h1M13,370.11h1M3,371.12h1M8,371.12h1M13,371.12h1M15,371.12h1M21,371.12h1M17,372.13h1M21,372.13h1M28,372.13h1M17,373.13h1M15,374.14h1M26,374.14h2M15,375.15h1M17,375.15h1M24,375.15h1M27,375.15h1M29,376.16h1M18,377.17h1M24,377.17h1M21,378.17h1M15,379.18h3M22,379.18h1M27,379.18h1M6,380.19h1M21,380.19h1M18,381.2h2M24,381.2h1M29,381.2h1M15,418.4h1M17,418.4h1M11,419.41h1M13,419.41h1M19,419.41h1M12,420.42h1M14,420.42h1M26,420.42h2M11,422.44h2M17,422.44h1M16,423.45h1M27,423.45h2M11,424.46h1M16,425.47h1M11,426.48h1M17,427.49h2M10,428.5h1M17,428.5h1M9,429.51h1M17,429.51h1M12,430.52h1M24,430.52h1M28,430.52h1M14,431.53h1M12,432.54h1M9,433.55h1M14,433.55h1M18,433.55h1M3,434.56h1M14,434.56h1M16,434.56h1M21,434.56h1M23,434.56h1M26,434.56h1M9,435.57h1M11,435.57h1M13,435.57h1M18,435.57h1M3,436.58h1M7,436.58h1M11,436.58h1M13,436.58h1M15,436.58h1M21,436.58h1M24,436.58h1M10,437.59h1M18,437.59h1M23,437.59h1M29,437.59h1M10,438.6h1M15,438.6h1M15,439.61h3M6,440.62h1M12,440.62h1M16,440.62h2M11,442.64h2M14,442.64h1M16,442.64h1M15,444.66h1M28,444.66h1M24,445.67h1M15,446.68h1M15,447.69h1M12,448.7h1M15,448.7h1M12,459.11h1M16,459.11h1M20,459.11h1M22,459.11h1M11,460.12h1M17,462.14h1M22,462.14h1M5,463.15h1M12,463.15h2M16,463.15h1M8,464.16h1M14,464.16h1M9,465.17h1M14,465.17h1M9,466.18h1M12,466.18h1M16,468.21h1M20,468.21h1M24,468.21h2M17,470.23h2M10,471.24h1M15,471.24h2M7,472.25h1M10,472.25h1M13,472.25h1M23,473.26h1M8,474.27h1M23,474.27h1M9,475.28h1M10,476.29h1" stroke="#fffab8" stroke-width="1.13"/>
<path d="M12,329.8h1M18,329.8h1M21,329.8h1M15,331.82h1M6,332.83h1M16,332.83h1M19,332.83h1M27,332.83h1M20,333.83h1M28,333.83h1M15,334.84h1M22,334.84h1M19,335.85h1M22,335.85h1M15,336.86h1M17,336.86h1M1,337.87h1M3,337.87h1M27,337.87h1M18,339.88h1M22,339.88h1M26,339.88h1M12,340.89h1M15,340.89h1M17,340.89h1M22,340.89h3M3,342.9h2M24,342.9h1M16,343.91h1M28,343.91h1M7,344.92h1M18,344.92h1M27,344.92h2M17,345.93h1M21,345.93h2M8,346.93h1M11,346.93h2M20,346.93h1M24,346.93h2M22,348.95h1M13,349.96h1M21,349.96h1M16,350.97h1M23,350.97h1M10,352.98h2M16,352.98h1M9,353.99h1M12,355h1M17,356h1M23,356h2M8,357.01h1M18,357.01h1M26,357.01h2M18,358.02h1M23,358.02h1M27,358.02h1M18,359.03h2M11,360.03h1M20,360.03h1M27,360.03h1M20,361.04h1M12,362.05h1M17,362.05h1M14,363.06h1M18,363.06h1M21,363.06h1M20,364.07h1M23,365.07h1M16,366.08h1M21,366.08h1M23,366.08h1M13,367.09h1M21,367.09h1M8,368.1h1M14,368.1h1M18,368.1h1M24,370.11h2M16,371.12h1M18,372.13h1M15,373.13h2M28,373.13h1M13,374.14h2M17,374.14h2M20,374.14h1M25,374.14h1M23,375.15h1M15,376.16h1M22,376.16h1M28,376.16h1M29,377.17h1M13,378.17h1M18,378.17h1M25,379.18h1M4,380.19h1M10,380.19h1M12,380.19h1M18,380.19h1M29,380.19h1M15,419.41h1M18,419.41h1M22,419.41h1M29,419.41h1M9,420.42h1M11,420.42h1M19,420.42h1M24,420.42h1M29,420.42h1M8,421.43h1M10,421.43h1M12,421.43h1M18,421.43h2M28,421.43h1M15,422.44h1M19,423.45h1M17,424.46h1M28,425.47h1M12,426.48h1M20,426.48h1M9,427.49h1M29,427.49h1M9,428.5h1M11,428.5h1M15,428.5h1M12,429.51h1M20,429.51h1M11,431.53h1M15,432.54h1M25,432.54h1M28,432.54h1M17,433.55h1M9,434.56h1M12,434.56h1M15,434.56h1M22,434.56h1M27,434.56h1M12,435.57h1M16,435.57h1M22,435.57h1M28,435.57h1M12,437.59h1M19,437.59h1M13,438.6h1M16,438.6h1M19,438.6h1M11,439.61h1M21,439.61h1M9,440.62h1M13,440.62h1M11,441.63h2M19,441.63h1M24,441.63h1M9,442.64h1M15,442.64h1M12,443.65h1M16,443.65h1M26,443.65h1M13,444.66h1M17,444.66h1M24,444.66h2M12,445.67h1M20,445.67h1M9,446.68h1M13,446.68h1M18,446.68h1M10,448.7h1M11,459.11h1M18,459.11h1M10,460.12h1M12,460.12h1M15,460.12h1M23,460.12h1M10,461.13h1M15,461.13h1M19,461.13h1M26,461.13h1M11,462.14h1M21,462.14h1M17,463.15h1M23,463.15h1M26,463.15h1M16,464.16h1M10,465.17h1M15,465.17h1M19,465.17h1M11,466.18h1M18,466.18h1M23,466.18h1M9,467.19h1M14,467.19h3M5,468.21h1M19,468.21h1M23,468.21h1M10,469.22h1M19,469.22h1M13,470.23h2M19,470.23h1M23,470.23h1M12,472.25h1M17,472.25h1M19,472.25h1M22,473.26h1M14,474.27h1M19,474.27h1M12,475.28h1M16,475.28h2M26,475.28h1M11,476.29h1M16,476.29h1M18,476.29h1M20,476.29h2" stroke="#fff6b1" stroke-width="1.13"/>
<path d="M13,329.8h1M23,329.8h1M25,329.8h1M9,330.81h1M20,330.81h2M12,331.82h1M24,331.82h1M26,331.82h3M13,332.83h1M25,332.83h1M29,332.83h1M13,333.83h1M26,333.83h1M29,333.83h1M9,334.84h2M12,334.84h3M25,334.84h2M14,335.85h1M26,335.85h1M13,336.86h1M23,336.86h2M12,337.87h1M14,337.87h1M11,339.88h1M24,339.88h2M29,339.88h1M9,340.89h1M14,340.89h1M20,340.89h2M10,341.9h1M9,342.9h1M11,342.9h1M14,343.91h1M26,343.91h1M12,344.92h1M25,344.92h1M12,345.93h1M20,345.93h1M23,345.93h1M29,345.93h1M10,347.94h1M20,348.95h1M26,348.95h1M29,348.95h1M9,349.96h1M9,350.97h1M12,350.97h1M10,351.97h1M12,351.97h1M14,351.97h1M21,351.97h1M25,351.97h1M14,352.98h1M24,352.98h1M10,355h1M14,355h1M29,355h1M9,356h1M29,356h1M24,357.01h1M9,358.02h1M13,358.02h2M28,358.02h1M23,360.03h2M10,362.05h1M19,363.06h1M10,364.07h1M14,364.07h1M18,364.07h1M26,364.07h1M24,365.07h1M18,366.08h1M24,366.08h3M10,367.09h1M22,367.09h1M26,367.09h1M10,368.1h1M13,368.1h1M11,369.1h1M9,371.12h2M14,371.12h1M27,371.12h2M13,372.13h1M25,372.13h1M25,373.13h2M18,375.15h1M20,375.15h1M9,376.16h2M9,377.17h2M9,378.17h1M11,378.17h1M14,378.17h1M25,378.17h2M14,379.18h1M24,379.18h1M14,380.19h1M26,380.19h1M10,381.2h1M14,381.2h1M14,418.4h1M9,419.41h1M17,419.41h1M23,419.41h1M27,419.41h1M23,420.42h1M9,421.43h1M23,421.43h1M27,421.43h1M22,422.44h1M28,422.44h2M24,423.45h1M18,424.46h1M25,424.46h1M29,424.46h1M10,425.47h1M26,425.47h1M23,426.48h3M21,427.49h1M25,427.49h1M12,428.5h1M14,428.5h1M19,428.5h1M10,429.51h1M21,430.52h1M12,431.53h1M18,431.53h1M26,431.53h1M21,432.54h2M22,433.55h2M27,433.55h2M25,434.56h1M25,435.57h1M29,435.57h1M17,436.58h1M28,436.58h1M24,437.59h1M26,437.59h2M28,438.6h1M9,439.61h1M28,439.61h1M14,440.62h1M27,440.62h2M9,441.63h1M16,441.63h1M23,441.63h1M26,441.63h1M25,442.64h1M9,443.65h1M12,444.66h1M21,444.66h1M23,444.66h1M13,445.67h5M23,445.67h1M26,445.67h1M10,446.68h1M14,446.68h1M10,447.69h1M21,447.69h1M24,447.69h1M26,448.7h1M15,459.11h1M24,459.11h1M18,460.12h3M26,460.12h1M27,461.13h3M10,462.14h1M27,462.14h1M15,463.15h1M19,463.15h1M25,463.15h1M27,463.15h3M10,464.16h1M15,464.16h1M22,464.16h1M25,464.16h1M28,464.16h1M20,465.17h1M24,465.17h2M27,465.17h1M29,466.18h1M21,467.19h1M28,467.19h1M26,468.21h1M29,468.21h1M11,469.22h2M15,469.22h1M27,469.22h1M11,471.24h1M17,471.24h1M20,471.24h1M25,471.24h1M27,471.24h3M28,472.25h1M18,473.26h1M21,473.26h1M28,473.26h1M10,474.27h2M25,474.27h1M19,475.28h1M25,475.28h1M27,475.28h1M29,476.29h1" stroke="#fee395" stroke-width="1.13"/>
<path d="M14,329.8h1M26,329.8h1M10,330.81h1M14,330.81h1M9,332.83h1M25,333.83h1M11,335.85h1M14,338.87h1M26,338.87h1M14,339.88h1M10,342.9h1M10,343.91h1M12,343.91h1M24,343.91h1M10,344.92h2M26,345.93h1M25,347.94h1M21,348.95h1M25,350.97h1M11,356h1M26,356h1M11,357.01h1M25,357.01h1M10,358.02h1M24,358.02h3M10,359.03h1M26,359.03h1M24,362.05h1M13,364.07h1M19,364.07h1M10,365.07h1M9,367.09h1M14,369.1h1M9,372.13h1M12,373.13h1M10,375.15h1M14,375.15h1M26,375.15h1M14,377.17h1M24,378.17h1M27,378.17h1M10,379.18h1M21,418.4h1M21,421.43h1M25,422.44h1M27,422.44h1M22,423.45h1M24,424.46h1M26,424.46h1M28,426.48h1M29,428.5h1M21,429.51h1M27,431.53h2M21,433.55h1M25,433.55h2M28,437.59h1M23,440.62h1M26,440.62h1M29,440.62h1M22,443.65h1M24,443.65h1M27,443.65h1M29,443.65h1M25,445.67h1M21,446.68h1M28,446.68h1M29,447.69h1M23,448.7h1M29,448.7h1M26,459.11h1M29,460.12h1M25,461.13h1M19,462.14h1M24,464.16h1M28,465.17h1M27,466.18h1M24,467.19h1M29,469.22h1M28,470.23h1M15,474.27h1M29,474.27h1M29,475.28h1" stroke="#fecf85" stroke-width="1.13"/>
<path d="M15,329.8h1M20,329.8h1M27,329.8h1M15,330.81h1M25,330.81h1M20,332.83h1M23,332.83h1M21,333.83h1M27,333.83h1M11,334.84h1M21,335.85h1M28,335.85h1M16,336.86h1M19,336.86h1M23,338.87h1M27,338.87h1M29,338.87h1M13,339.88h1M14,341.9h1M26,341.9h2M13,342.9h1M22,342.9h1M26,342.9h1M21,343.91h1M24,344.92h1M14,345.93h1M9,347.94h1M11,347.94h2M14,347.94h1M27,347.94h1M29,347.94h1M14,348.95h1M23,348.95h1M10,349.96h1M12,349.96h1M20,349.96h1M18,350.97h1M28,350.97h1M9,351.97h1M19,351.97h2M24,351.97h1M23,352.98h1M12,353.99h1M11,355h1M18,355h1M27,356h1M10,357.01h1M14,357.01h1M15,358.02h1M22,358.02h1M29,358.02h1M27,359.03h1M26,360.03h1M14,361.04h1M26,361.04h1M29,361.04h1M11,362.05h1M25,362.05h1M28,362.05h1M12,363.06h2M9,364.07h1M11,364.07h1M25,364.07h1M14,365.07h1M26,365.07h1M19,366.08h1M12,367.09h1M29,368.1h1M13,369.1h1M26,369.1h1M5,370.11h1M10,370.11h2M14,370.11h1M26,370.11h1M11,371.12h2M26,371.12h1M29,371.12h1M12,372.13h1M13,373.13h1M22,373.13h1M10,374.14h1M21,374.14h1M11,375.15h1M19,375.15h1M12,376.16h1M23,376.16h1M13,377.17h1M17,377.17h1M26,377.17h2M11,379.18h2M21,379.18h1M11,380.19h1M11,381.2h1M25,381.2h1M28,381.2h1M9,418.4h1M12,419.41h1M14,419.41h1M26,419.41h1M21,420.42h2M25,420.42h1M14,421.43h1M22,421.43h1M25,421.43h2M29,421.43h1M10,423.45h1M25,423.45h2M29,423.45h1M19,424.46h1M13,425.47h1M23,425.47h1M3,427.49h2M22,427.49h2M26,427.49h1M28,427.49h1M16,428.5h1M29,429.51h1M10,431.53h1M23,432.54h1M29,433.55h1M11,434.56h1M27,436.58h1M22,437.59h1M25,437.59h1M21,438.6h2M26,438.6h1M12,439.61h1M19,439.61h1M25,441.63h1M17,442.64h1M24,442.64h1M10,443.65h1M14,443.65h1M29,445.67h1M12,446.68h1M25,446.68h1M27,446.68h1M29,446.68h1M24,448.7h1M28,448.7h1M6,459.11h1M13,459.11h1M21,459.11h1M28,459.11h2M20,461.13h1M22,461.13h2M15,462.14h1M27,464.16h1M29,464.16h1M22,465.17h1M20,466.18h1M25,466.18h1M12,467.19h1M22,467.19h2M29,467.19h1M12,468.21h1M21,470.23h1M25,470.23h3M29,470.23h1M19,471.24h1M22,471.24h1M20,473.26h1M24,473.26h3M16,474.27h1M27,474.27h1M15,476.29h1" stroke="#fee89c" stroke-width="1.13"/>
<path d="M16,329.8h1M29,329.8h1M13,330.81h1M16,330.81h2M19,330.81h1M25,331.82h1M29,331.82h1M12,332.83h1M21,332.83h2M9,333.83h1M18,333.83h1M22,333.83h1M23,334.84h1M27,334.84h1M27,335.85h1M7,336.86h1M12,336.86h1M18,336.86h1M9,337.87h1M11,337.87h1M22,337.87h1M26,337.87h1M29,337.87h1M25,338.87h1M19,339.88h1M27,339.88h1M10,340.89h1M25,340.89h2M7,341.9h1M12,341.9h1M19,341.9h2M25,341.9h1M28,341.9h2M19,342.9h1M23,342.9h1M17,343.91h1M19,343.91h1M15,344.92h1M17,344.92h1M21,344.92h1M8,345.93h3M13,345.93h1M16,345.93h1M14,346.93h1M22,346.93h1M29,346.93h1M10,348.95h1M15,348.95h1M24,348.95h2M14,349.96h1M27,350.97h1M26,351.97h1M9,352.98h1M17,352.98h1M25,352.98h1M11,353.99h1M18,353.99h1M29,353.99h1M9,355h1M14,356h1M19,356h2M25,356h1M28,357.01h1M16,358.02h2M19,358.02h1M28,359.03h2M10,360.03h1M22,360.03h1M25,360.03h1M17,361.04h1M24,361.04h2M27,361.04h1M29,362.05h1M29,363.06h1M15,364.07h1M24,364.07h1M29,364.07h1M13,365.07h1M17,365.07h1M19,365.07h1M9,366.08h1M14,366.08h1M20,366.08h1M27,366.08h1M29,366.08h1M20,367.09h1M23,367.09h1M27,367.09h2M9,368.1h1M12,368.1h1M24,368.1h1M27,368.1h2M15,369.1h1M17,369.1h1M20,369.1h2M28,369.1h1M9,370.11h1M15,370.11h1M21,370.11h1M29,370.11h1M20,371.12h1M22,371.12h1M27,372.13h1M29,372.13h1M18,373.13h1M23,373.13h1M29,373.13h1M12,374.14h1M16,374.14h1M29,374.14h1M16,375.15h1M11,376.16h1M16,376.16h1M6,377.17h1M13,379.18h1M19,379.18h1M23,379.18h1M28,379.18h1M13,380.19h1M25,380.19h1M27,380.19h1M8,381.2h2M12,418.4h1M16,418.4h1M10,419.41h1M17,421.43h1M20,421.43h1M24,421.43h1M10,422.44h1M24,422.44h1M12,424.46h2M15,424.46h1M20,424.46h1M9,425.47h1M24,425.47h2M10,426.48h1M13,426.48h1M29,426.48h1M12,427.49h1M14,427.49h1M16,427.49h1M24,427.49h1M27,427.49h1M18,428.5h1M15,429.51h1M22,429.51h1M10,430.52h1M14,430.52h1M18,430.52h1M26,430.52h1M9,431.53h1M15,431.53h2M19,431.53h2M26,432.54h1M29,432.54h1M13,433.55h1M13,434.56h1M14,435.57h1M10,436.58h1M16,436.58h1M19,436.58h1M26,436.58h1M9,438.6h1M12,438.6h1M24,438.6h1M13,439.61h1M23,439.61h1M10,441.63h1M18,441.63h1M20,441.63h1M22,441.63h1M27,441.63h1M29,441.63h1M20,442.64h1M26,444.66h1M10,445.67h2M18,445.67h1M22,445.67h1M16,446.68h1M13,447.69h2M9,448.7h1M13,448.7h2M16,448.7h1M18,448.7h2M14,459.11h1M19,459.11h1M25,459.11h1M13,460.12h2M17,461.13h1M18,462.14h1M9,463.15h1M21,463.15h1M23,464.16h1M11,465.17h1M17,466.18h1M19,466.18h1M21,466.18h1M11,467.19h1M17,467.19h1M20,467.19h1M15,468.21h1M18,468.21h1M21,468.21h2M27,468.21h1M13,469.22h1M18,469.22h1M20,469.22h4M12,471.24h1M14,471.24h1M21,471.24h1M21,472.25h1M12,473.26h1M15,473.26h2M12,474.27h2M17,474.27h1M10,475.28h1M18,475.28h1M22,475.28h2M17,476.29h1" stroke="#fff1aa" stroke-width="1.13"/>
<path d="M24,329.8h1M26,332.83h1M11,333.83h1M11,340.89h1M9,341.9h1M24,349.96h1M10,350.97h2M14,350.97h1M11,358.02h2M11,359.03h1M14,362.05h1M26,362.05h1M12,365.07h1M11,367.09h1M25,367.09h1M14,372.13h1M25,375.15h1M14,376.16h1M10,378.17h1M27,418.4h3M22,424.46h1M22,428.5h5M28,428.5h1M24,429.51h1M25,431.53h1M28,434.56h1M21,435.57h1M23,435.57h1M21,440.62h1M22,442.64h1M26,442.64h1M26,447.69h1M22,448.7h1M25,448.7h1M24,466.18h1M28,469.22h1M24,472.25h1" stroke="#fdc37d" stroke-width="1.13"/>
<path d="M28,329.8h1M24,330.81h1M27,330.81h2M19,331.82h1M16,333.83h1M20,334.84h1M8,335.85h2M17,335.85h1M20,335.85h1M21,336.86h2M27,336.86h2M23,337.87h1M28,337.87h1M13,338.87h1M28,338.87h1M5,340.89h1M18,340.89h1M28,340.89h1M15,342.9h1M17,342.9h1M29,342.9h1M20,344.92h1M23,344.92h1M7,345.93h1M13,346.93h1M15,346.93h2M18,346.93h1M16,347.94h1M22,347.94h1M16,348.95h1M18,349.96h1M27,349.96h1M29,349.96h1M15,350.97h1M3,351.97h1M6,351.97h3M16,351.97h1M22,351.97h1M27,351.97h1M13,352.98h1M15,352.98h1M18,352.98h1M20,352.98h1M28,352.98h1M7,353.99h1M16,353.99h1M19,355h1M23,355h2M15,356h1M28,356h1M6,357.01h1M17,357.01h1M20,359.03h2M23,359.03h1M17,360.03h1M28,360.03h1M0,361.04h1M8,361.04h2M13,361.04h1M15,361.04h1M23,361.04h1M15,362.05h1M20,362.05h1M22,362.05h2M17,363.06h1M28,363.06h1M16,364.07h2M28,364.07h1M15,365.07h2M22,365.07h1M28,365.07h1M28,366.08h1M19,368.1h2M29,369.1h1M8,370.11h1M16,370.11h2M19,370.11h2M28,370.11h1M3,372.13h1M16,372.13h1M20,372.13h1M20,373.13h2M28,375.15h1M8,376.16h1M13,376.16h1M17,376.16h1M19,376.16h2M25,376.16h1M27,376.16h1M20,377.17h1M23,377.17h1M29,379.18h1M15,380.19h1M20,380.19h1M15,381.2h2M27,381.2h1M7,418.4h1M10,418.4h1M6,420.42h1M13,420.42h1M18,420.42h1M20,420.42h1M28,420.42h1M6,421.43h1M11,421.43h1M20,422.44h1M3,423.45h1M12,423.45h1M7,424.46h1M10,424.46h1M14,424.46h1M18,425.47h1M14,426.48h1M19,426.48h1M13,427.49h1M11,429.51h1M13,429.51h1M18,429.51h1M11,430.52h1M15,430.52h1M19,430.52h1M17,431.53h1M4,432.54h1M10,432.54h1M13,432.54h1M19,432.54h1M12,433.55h1M16,433.55h1M7,434.56h1M17,434.56h1M19,434.56h1M29,434.56h1M15,435.57h1M17,435.57h1M6,436.58h1M12,436.58h1M14,436.58h1M18,436.58h1M16,437.59h2M11,438.6h1M14,438.6h1M17,438.6h2M20,438.6h1M18,439.61h1M20,439.61h1M22,439.61h1M18,440.62h1M20,440.62h1M15,441.63h1M17,441.63h1M28,441.63h1M18,442.64h2M11,443.65h1M17,443.65h1M9,444.66h1M16,444.66h1M20,444.66h1M27,444.66h1M6,445.67h1M9,445.67h1M11,446.68h1M17,446.68h1M16,447.69h1M19,447.69h2M7,448.7h1M11,448.7h1M17,448.7h1M20,448.7h1M23,459.11h1M16,460.12h1M21,461.13h1M12,462.14h1M14,462.14h1M6,463.15h1M5,464.16h1M17,464.16h1M7,465.17h1M16,465.17h1M18,467.19h1M6,468.21h2M13,468.21h2M24,469.22h1M15,470.23h1M20,470.23h1M9,471.24h1M23,471.24h1M15,472.25h2M20,472.25h1M23,472.25h1M27,472.25h1M14,473.26h1M17,473.26h1M19,473.26h1M1,474.27h1M3,474.27h1M20,474.27h1M15,475.28h1M20,475.28h1M12,476.29h1M23,476.29h1M25,476.29h1" stroke="#ffffbf" stroke-width="1.13"/>
<path d="M2,330.81h1M2,331.82h1M1,332.83h1M3,332.83h1M3,333.83h1M15,333.83h1M3,334.84h1M5,334.84h1M1,335.85h1M2,336.86h2M4,337.87h1M0,338.87h1M4,338.87h1M6,338.87h1M8,339.88h1M4,341.9h2M5,342.9h1M1,344.92h1M8,344.92h1M3,345.93h1M2,346.93h2M7,348.95h2M3,349.96h2M2,350.97h1M4,350.97h2M7,350.97h2M2,351.97h1M2,352.98h1M8,352.98h1M4,353.99h1M1,355h1M5,355h3M22,356h1M2,360.03h1M6,361.04h1M0,362.05h2M5,363.06h2M4,364.07h1M5,365.07h1M7,365.07h2M3,366.08h2M15,367.09h1M1,369.1h2M1,372.13h1M2,373.13h1M5,373.13h1M8,373.13h1M28,374.14h1M8,375.15h1M2,376.16h2M2,377.17h1M4,377.17h1M4,378.17h2M3,379.18h2M3,380.19h1M3,381.2h1M6,418.4h1M8,418.4h1M8,419.41h1M3,420.42h1M4,422.44h1M8,422.44h1M7,423.45h1M11,423.45h1M1,425.47h2M1,426.48h1M16,426.48h1M8,429.51h1M0,430.52h1M4,430.52h2M7,430.52h1M1,432.54h1M3,432.54h1M11,432.54h1M6,433.55h1M8,433.55h1M0,436.58h2M4,436.58h1M7,437.59h1M2,438.6h3M6,438.6h1M3,440.62h1M2,441.63h2M3,442.64h1M13,442.64h1M6,443.65h1M1,445.67h1M4,445.67h1M7,445.67h1M2,446.68h1M0,447.69h1M4,447.69h2M8,447.69h1M4,459.11h2M1,460.12h2M8,460.12h1M6,461.13h2M0,462.14h1M14,463.15h1M1,464.16h1M4,464.16h1M1,465.17h1M6,465.17h1M7,466.18h1M13,466.18h1M3,469.22h1M7,469.22h1M2,471.24h1M5,471.24h2M2,472.25h1M4,472.25h1M11,472.25h1M3,473.26h3M13,473.26h1M2,474.27h1M5,475.28h1M0,476.29h1M4,476.29h1" stroke="#ecf8e1" stroke-width="1.13"/>
<path d="M6,330.81h1M8,330.81h1M22,330.81h1M29,330.81h1M3,331.82h1M7,331.82h1M17,331.82h1M4,332.83h2M7,333.83h2M8,334.84h1M5,335.85h1M29,335.85h1M8,336.86h1M29,336.86h1M6,337.87h1M1,338.87h1M8,338.87h1M15,338.87h2M1,339.88h1M5,339.88h1M16,339.88h1M20,339.88h2M23,339.88h1M2,340.89h2M1,341.9h1M15,341.9h1M18,342.9h1M28,342.9h1M5,343.91h1M20,343.91h1M6,344.92h1M22,344.92h1M1,345.93h2M27,345.93h2M7,346.93h1M21,346.93h1M3,347.94h1M5,347.94h1M18,347.94h1M6,349.96h1M28,349.96h1M0,350.97h1M0,351.97h1M3,352.98h2M5,353.99h1M15,353.99h1M22,353.99h1M8,355h1M8,356h1M3,357.01h1M5,357.01h1M8,358.02h1M13,360.03h1M15,360.03h2M18,360.03h1M21,360.03h1M2,362.05h1M19,362.05h1M8,363.06h1M15,363.06h2M22,363.06h1M6,364.07h2M23,364.07h1M2,365.07h1M6,365.07h1M6,367.09h1M1,368.1h1M6,368.1h1M4,369.1h3M8,369.1h1M1,370.11h1M4,370.11h1M6,370.11h1M4,371.12h4M19,371.12h1M0,372.13h1M15,372.13h1M23,372.13h1M6,373.13h1M0,374.14h3M4,374.14h1M11,374.14h1M22,374.14h2M4,375.15h1M21,375.15h2M3,377.17h1M5,377.17h1M22,377.17h1M6,378.17h1M17,378.17h1M7,379.18h2M7,380.19h1M17,380.19h1M5,419.41h3M8,420.42h1M17,420.42h1M2,421.43h2M5,421.43h1M13,421.43h1M16,421.43h1M18,422.44h1M17,423.45h1M20,423.45h1M8,424.46h1M5,425.47h1M11,425.47h1M20,425.47h1M8,426.48h1M15,426.48h1M17,426.48h2M7,427.49h1M6,428.5h1M1,430.52h1M6,430.52h1M8,430.52h1M13,431.53h1M7,432.54h1M14,432.54h1M19,433.55h2M0,434.56h1M5,434.56h1M8,434.56h1M20,434.56h1M2,436.58h1M8,436.58h2M13,437.59h2M8,438.6h1M5,439.61h2M8,439.61h1M7,440.62h1M6,441.63h1M8,441.63h1M14,441.63h1M4,443.65h2M15,443.65h1M20,443.65h1M14,444.66h1M19,444.66h1M5,445.67h1M20,446.68h1M6,447.69h1M17,447.69h1M3,448.7h1M6,448.7h1M0,459.11h1M8,459.11h1M7,460.12h1M17,460.12h1M9,461.13h1M13,461.13h1M16,461.13h1M2,462.14h2M5,462.14h1M7,462.14h1M1,463.15h1M10,463.15h2M22,463.15h1M3,464.16h1M9,464.16h1M19,464.16h1M8,465.17h1M8,466.18h1M7,467.19h1M13,467.19h1M3,468.21h1M9,468.21h1M4,469.22h2M1,470.23h1M3,470.23h1M7,470.23h1M22,470.23h1M24,470.23h1M1,471.24h1M8,471.24h1M13,471.24h1M6,473.26h1M0,474.27h1M1,475.28h1M3,475.28h1M6,475.28h1M8,476.29h1" stroke="#f6fbd0" stroke-width="1.13"/>
<path d="M1,331.82h1M2,332.83h1M2,335.85h1M2,347.94h1M2,349.96h1M2,355h1M3,358.02h1M5,358.02h1M3,360.03h1M4,373.13h1M3,374.14h1M0,379.18h1M1,419.41h1M1,420.42h1M0,426.48h1M2,426.48h1M2,428.5h1M5,429.51h1M0,438.6h1M0,443.65h1M0,444.66h2M7,446.68h1M5,460.12h1M5,461.13h1" stroke="#d0e9f2" stroke-width="1.13"/>
<path d="M10,332.83h1M24,332.83h1M24,333.83h1M26,347.94h1M12,359.03h1M24,359.03h1M10,373.13h2M12,378.17h1M23,418.4h1M26,422.44h1M25,429.51h2M24,431.53h1M29,431.53h1M25,440.62h1M23,446.68h1M25,447.69h1M27,448.7h1M25,460.12h1M28,460.12h1" stroke="#fdb674" stroke-width="1.13"/>
<path d="M0,333.83h1M7,334.84h1M7,335.85h1M7,337.87h1M6,339.88h1M2,342.9h1M7,342.9h1M0,346.93h1M0,349.96h1M5,349.96h1M3,350.97h1M6,350.97h1M0,352.98h1M2,353.99h1M2,356h1M4,356h3M0,357.01h1M2,358.02h1M3,359.03h1M5,359.03h1M1,360.03h1M5,360.03h1M8,360.03h1M3,362.05h1M0,363.06h1M0,365.07h1M2,367.09h1M4,367.09h1M2,370.11h1M4,372.13h1M8,372.13h1M7,373.13h1M0,376.16h1M5,376.16h1M1,378.17h3M2,379.18h1M5,420.42h1M7,420.42h1M0,421.43h2M3,422.44h1M4,423.45h1M3,424.46h1M0,425.47h1M5,426.48h1M7,426.48h1M0,427.49h1M2,430.52h1M3,431.53h1M7,431.53h2M2,433.55h1M4,433.55h1M6,434.56h1M0,435.57h2M0,437.59h1M8,437.59h1M7,438.6h1M0,439.61h1M4,440.62h1M4,441.63h2M1,443.65h1M3,443.65h1M2,445.67h1M3,446.68h1M8,446.68h1M3,447.69h1M0,448.7h1M2,448.7h1M6,460.12h1M4,461.13h1M4,462.14h1M4,463.15h1M2,465.17h1M4,465.17h1M1,466.18h1M3,466.18h4M14,466.18h1M0,467.19h1M3,467.19h1M0,469.22h1M8,469.22h1M2,470.23h1M4,470.23h1M9,472.25h1M2,476.29h2" stroke="#e3f4f2" stroke-width="1.13"/>
<path d="M0,356h1M4,359.03h1M0,422.44h1M2,422.44h1M2,431.53h1M2,442.64h1" stroke="#add1e5" stroke-width="1.13"/>
<path d="M0,358.02h1M1,367.09h1M5,418.4h1M0,419.41h1M0,420.42h1M5,431.53h1M0,433.55h1M5,437.59h1" stroke="#b8d9ea" stroke-width="1.13"/>
<path d="M0,359.03h1M0,442.64h1" stroke="#95c2dc" stroke-width="1.13"/>
<path d="M1,359.03h2M0,418.4h1M0,431.53h1M1,442.64h1" stroke="#a1c9e1" stroke-width="1.13"/>
<path d="M14,359.03h1M25,359.03h1M11,372.13h1M21,428.5h1M23,431.53h1" stroke="#fdaa6c" stroke-width="1.13"/>
<path d="M0,384.13h1M5,384.13h1M10,384.13h1M12,384.13h1M3,385.2h2M11,385.2h1M0,386.27h1M10,386.27h2M3,387.33h1M10,388.4h1M12,388.4h1M3,393.6h4M8,393.6h1M4,394.67h1M8,394.67h1M19,394.67h1M1,395.73h1M6,395.73h1M3,396.8h1M25,396.8h1" stroke="#ecf8e1" stroke-width="1.19"/>
<path d="M1,384.13h2M26,384.13h1M0,387.33h1M2,388.4h1M2,393.6h1M7,394.67h1M4,395.73h1M4,396.8h2" stroke="#e3f4f2" stroke-width="1.19"/>
<path d="M3,384.13h1M11,384.13h1M14,384.13h1M25,384.13h1M26,385.2h1M1,386.27h1M3,386.27h1M25,386.27h2M11,387.33h1M3,388.4h1M5,388.4h1M24,388.4h3M11,389.47h1M25,389.47h1M7,393.6h1M27,393.6h1M3,394.67h1M8,395.73h1M19,395.73h1M6,396.8h1M8,396.8h1M18,396.8h2M1,397.87h1M3,397.87h1" stroke="#f1fad9" stroke-width="1.19"/>
<path d="M4,384.13h1M24,384.13h1M5,385.2h1M2,386.27h1M4,387.33h1M0,388.4h2M11,388.4h1M3,389.47h1M5,389.47h1M26,389.47h1M0,392.53h1M4,392.53h1" stroke="#e8f6ea" stroke-width="1.19"/>
<path d="M6,384.13h1M15,384.13h1M23,384.13h1M7,385.2h1M15,385.2h1M17,385.2h1M21,386.27h1M23,386.27h1M23,387.33h1M9,388.4h1M13,388.4h1M15,388.4h1M22,388.4h2M12,389.47h1M16,389.47h1M21,389.47h1M7,392.53h1M27,392.53h2M17,393.6h1M25,393.6h1M29,393.6h1M16,394.67h1M24,394.67h1M11,395.73h1M17,395.73h1M25,395.73h1M27,395.73h1M12,396.8h1M15,396.8h2M23,396.8h1M4,397.87h1M16,397.87h1M23,397.87h3" stroke="#ffffbf" stroke-width="1.19"/>
<path d="M7,384.13h1M29,384.13h1M6,385.2h1M21,385.2h1M22,386.27h1M27,387.33h1M29,388.4h1M19,389.47h1M10,392.53h1M9,393.6h1M12,393.6h1M14,394.67h1M22,396.8h1M9,397.87h2M13,397.87h1M26,397.87h1M29,397.87h1" stroke="#fee89c" stroke-width="1.19"/>
<path d="M8,384.13h1M19,384.13h1M8,385.2h1M13,386.27h1M8,387.33h1M13,387.33h1M14,388.4h1M18,389.47h1M28,389.47h1M11,392.53h1M10,393.6h1M15,393.6h1M20,393.6h2M28,393.6h1M18,395.73h1M23,395.73h1M10,396.8h1M14,396.8h1M19,397.87h1" stroke="#feeca3" stroke-width="1.19"/>
<path d="M9,384.13h1M22,384.13h1M10,385.2h1M24,385.2h1M4,386.27h2M17,387.33h1M26,387.33h1M4,388.4h1M24,389.47h1M2,392.53h1M6,392.53h1M8,392.53h1M15,392.53h1M17,392.53h2M0,393.6h1M5,394.67h1M15,394.67h1M2,395.73h1M7,395.73h1M16,395.73h1M7,396.8h1M28,396.8h1M7,397.87h1M17,397.87h1M28,397.87h1" stroke="#f6fbd0" stroke-width="1.19"/>
<path d="M13,384.13h1M28,384.13h1M22,385.2h1M8,386.27h1M16,386.27h1M18,386.27h1M27,386.27h1M9,387.33h1M14,387.33h1M28,387.33h1M19,388.4h1M27,388.4h1M13,389.47h1M23,392.53h1M10,394.67h1M20,394.67h1M25,394.67h1M28,394.67h1M15,395.73h1M21,395.73h2M17,396.8h1M26,396.8h1M27,397.87h1" stroke="#fff1aa" stroke-width="1.19"/>
<path d="M16,384.13h2M27,384.13h1M6,386.27h1M14,386.27h1M19,386.27h1M6,387.33h1M21,387.33h1M25,387.33h1M6,388.4h3M16,388.4h1M7,389.47h2M10,389.47h1M14,389.47h1M19,392.53h1M24,392.53h1M26,392.53h1M24,393.6h1M26,393.6h1M12,394.67h1M17,394.67h1M27,394.67h1M9,395.73h2M29,395.73h1M20,396.8h1M11,397.87h1M18,397.87h1M22,397.87h1" stroke="#fff6b1" stroke-width="1.19"/>
<path d="M18,384.13h1M20,384.13h1M29,385.2h1M7,386.27h1M29,386.27h1M18,387.33h1M20,388.4h1M28,388.4h1M9,389.47h1M17,389.47h1M20,389.47h1M9,392.53h1M13,392.53h1M20,392.53h2M11,393.6h1M13,393.6h1M23,393.6h1M9,394.67h1M26,394.67h1M12,395.73h3M20,395.73h1M26,395.73h1M28,395.73h1M9,396.8h1M12,397.87h1M14,397.87h1M20,397.87h1" stroke="#fee395" stroke-width="1.19"/>
<path d="M21,384.13h1M15,386.27h1M24,386.27h1M12,387.33h1M15,387.33h2M22,387.33h1M23,389.47h1M16,392.53h1M29,392.53h1M18,393.6h2M6,394.67h1M18,394.67h1M29,394.67h1M3,395.73h1M5,395.73h1M24,396.8h1M2,397.87h1M5,397.87h2M8,397.87h1M15,397.87h1" stroke="#fafdc8" stroke-width="1.19"/>
<path d="M0,385.2h1M2,385.2h1M0,394.67h1M0,397.87h1" stroke="#d0e9f2" stroke-width="1.19"/>
<path d="M1,385.2h1M2,387.33h1M5,387.33h1M10,387.33h1M1,389.47h1M4,389.47h1M1,392.53h1M1,393.6h1M0,395.73h1M1,396.8h2" stroke="#dcf0f7" stroke-width="1.19"/>
<path d="M9,385.2h1M13,385.2h1M20,385.2h1M28,385.2h1M20,387.33h1M29,387.33h1M25,392.53h1M14,393.6h1M21,394.67h1M23,394.67h1" stroke="#fecf85" stroke-width="1.19"/>
<path d="M12,385.2h1M23,385.2h1M25,385.2h1M9,386.27h1M12,386.27h1M17,386.27h1M7,387.33h1M24,387.33h1M17,388.4h2M6,389.47h1M15,389.47h1M22,389.47h1M3,392.53h1M5,392.53h1M12,392.53h1M16,393.6h1M22,393.6h1M11,394.67h1M24,395.73h1M27,396.8h1M29,396.8h1" stroke="#fffab8" stroke-width="1.19"/>
<path d="M14,385.2h1M16,385.2h1M18,385.2h2M27,385.2h1M20,386.27h1M28,386.27h1M19,387.33h1M21,388.4h1M27,389.47h1M14,392.53h1M22,392.53h1M13,394.67h1M22,394.67h1M11,396.8h1M13,396.8h1M21,397.87h1" stroke="#fedc8d" stroke-width="1.19"/>
<path d="M1,387.33h1M1,394.67h1" stroke="#b8d9ea" stroke-width="1.19"/>
<path d="M0,389.47h1M2,389.47h1M2,394.67h1M0,396.8h1" stroke="#c4e1ee" stroke-width="1.19"/>
<path d="M29,389.47h1M21,396.8h1" stroke="#fdc37d" stroke-width="1.19"/>
<path d="M8,403.1h1" stroke="#b8d9ea" stroke-width="1.2"/>
<path d="M0,408.22h4M23,408.22h1M2,409.27h1M5,411.38h1M2,414.53h1M4,414.53h1M5,415.58h1M8,415.58h1" stroke="#e8f6ea" stroke-width="1.17"/>
<path d="M4,408.22h1M26,409.27h1M4,410.32h1M10,410.32h1M20,410.32h1M6,411.38h1M10,411.38h1M17,411.38h1M29,411.38h1M4,412.43h1M9,412.43h1M20,412.43h2M24,412.43h2M23,413.48h2M7,414.53h2M22,414.53h1M26,414.53h1M7,415.58h1" stroke="#fffab8" stroke-width="1.17"/>
<path d="M5,408.22h1" stroke="#b8d9ea" stroke-width="1.17"/>
<path d="M6,408.22h3M21,408.22h2M8,409.27h1M16,409.27h1M6,410.32h2M26,410.32h1M4,411.38h1M12,411.38h1M21,411.38h2M28,412.43h1M22,413.48h1M25,413.48h1M2,415.58h1M27,415.58h1M29,415.58h1" stroke="#fafdc8" stroke-width="1.17"/>
<path d="M9,408.22h1M12,408.22h1M18,408.22h1M20,408.22h1M11,409.27h1M18,409.27h1M20,409.27h1M24,409.27h1M28,409.27h1M9,410.32h1M14,410.32h1M18,410.32h1M14,411.38h1M19,411.38h1M27,411.38h1M18,413.48h1M9,415.58h1M13,415.58h2M28,415.58h1" stroke="#fedc8d" stroke-width="1.17"/>
<path d="M10,408.22h2M25,408.22h1M29,408.22h1M19,409.27h1M27,409.27h1M15,410.32h3M13,411.38h1M14,412.43h2M11,413.48h1M15,413.48h1M19,413.48h1M12,414.53h1M14,414.53h1M18,414.53h1M24,414.53h1M11,415.58h1" stroke="#fee395" stroke-width="1.17"/>
<path d="M13,408.22h1M24,408.22h1M13,409.27h1M19,410.32h1M28,410.32h1M9,411.38h1M11,411.38h1M11,412.43h1M9,413.48h2M20,413.48h1M13,414.53h1M17,414.53h1M12,415.58h1M16,415.58h1" stroke="#fee89c" stroke-width="1.17"/>
<path d="M14,408.22h1M9,409.27h1M29,409.27h1M13,410.32h1M13,413.48h1" stroke="#fdc37d" stroke-width="1.17"/>
<path d="M15,408.22h1M26,408.22h1M28,408.22h1M12,410.32h1M25,410.32h1M20,411.38h1M28,411.38h1M8,412.43h1M18,412.43h2M27,412.43h1M12,413.48h1M27,413.48h1M20,414.53h1M10,415.58h1M19,415.58h1M24,415.58h2" stroke="#fff1aa" stroke-width="1.17"/>
<path d="M16,408.22h1M4,409.27h1M7,409.27h1M23,409.27h1M0,410.32h1M23,410.32h1M23,411.38h1M0,412.43h2M5,413.48h1M5,414.53h2M21,414.53h1M1,415.58h1M4,415.58h1" stroke="#f1fad9" stroke-width="1.17"/>
<path d="M17,408.22h1M19,408.22h1M15,409.27h1M5,410.32h1M8,411.38h1M25,411.38h1M29,412.43h1M7,413.48h2M17,413.48h1M15,414.53h2M19,414.53h1M25,414.53h1M27,414.53h1M29,414.53h1M15,415.58h1M18,415.58h1M26,415.58h1" stroke="#fff6b1" stroke-width="1.17"/>
<path d="M27,408.22h1M10,409.27h1M22,409.27h1M8,410.32h1M24,410.32h1M7,411.38h1M15,411.38h1M6,412.43h1M10,412.43h1M12,412.43h2M22,412.43h1M6,413.48h1M17,415.58h1M20,415.58h1" stroke="#ffffbf" stroke-width="1.17"/>
<path d="M0,409.27h1M1,410.32h1M2,412.43h1M4,413.48h1M3,415.58h1" stroke="#e3f4f2" stroke-width="1.17"/>
<path d="M1,409.27h1M3,409.27h1M3,410.32h1M3,411.38h1M0,413.48h1" stroke="#dcf0f7" stroke-width="1.17"/>
<path d="M5,409.27h1M2,411.38h1" stroke="#c4e1ee" stroke-width="1.17"/>
<path d="M6,409.27h1M2,410.32h1M21,410.32h2M3,412.43h1M5,412.43h1M1,413.48h1M21,413.48h1M0,414.53h2M23,414.53h1M0,415.58h1M6,415.58h1M21,415.58h2" stroke="#ecf8e1" stroke-width="1.17"/>
<path d="M12,409.27h1M14,409.27h1M25,409.27h1M11,410.32h1M27,410.32h1M29,410.32h1M18,411.38h1M24,411.38h1M23,412.43h1M26,412.43h1M16,413.48h1M10,414.53h2" stroke="#feeca3" stroke-width="1.17"/>
<path d="M17,409.27h1M21,409.27h1M16,411.38h1M26,411.38h1M7,412.43h1M16,412.43h2M2,413.48h1M26,413.48h1M23,415.58h1" stroke="#f6fbd0" stroke-width="1.17"/>
<path d="M0,411.38h2M3,413.48h1M3,414.53h1" stroke="#d0e9f2" stroke-width="1.17"/>
<path d="M14,413.48h1M28,413.48h2M9,414.53h1M28,414.53h1" stroke="#fecf85" stroke-width="1.17"/>
<path d="M0,451.48h1M12,451.48h1M20,451.48h1M14,452.45h1M3,453.42h1M7,453.42h2M12,453.42h1M1,454.38h1M5,454.38h1M12,454.38h1M6,455.35h1M4,456.32h1M8,456.32h1M16,456.32h1" stroke="#f6fbd0" stroke-width="1.09"/>
<path d="M1,451.48h1M7,451.48h1M7,452.45h1M13,452.45h1M6,453.42h1M6,454.38h1M11,454.38h1M14,454.38h1M1,455.35h1M9,455.35h1M15,456.32h1" stroke="#ecf8e1" stroke-width="1.09"/>
<path d="M2,451.48h1M4,451.48h1M18,451.48h1M8,452.45h1M17,452.45h1M29,452.45h1M1,453.42h1M5,453.42h1M10,453.42h1M13,453.42h2M27,453.42h1M10,454.38h1M19,454.38h1M2,455.35h1M20,455.35h1M10,456.32h2" stroke="#fafdc8" stroke-width="1.09"/>
<path d="M3,451.48h1M10,451.48h1M10,452.45h1M12,452.45h1M11,453.42h1M9,454.38h1M15,454.38h1M20,454.38h1M14,455.35h1" stroke="#f1fad9" stroke-width="1.09"/>
<path d="M5,451.48h1M17,451.48h1M2,452.45h1M5,452.45h1M19,452.45h1M27,452.45h1M0,454.38h1M3,455.35h2M16,455.35h1M6,456.32h1M17,456.32h1M26,456.32h1M29,456.32h1" stroke="#fff6b1" stroke-width="1.09"/>
<path d="M6,451.48h1" stroke="#d0e9f2" stroke-width="1.09"/>
<path d="M8,451.48h1M11,451.48h1M14,451.48h2M0,452.45h1M9,452.45h1M0,453.42h1M8,454.38h1M20,456.32h1" stroke="#e8f6ea" stroke-width="1.09"/>
<path d="M9,451.48h1M13,451.48h1M1,452.45h1M9,453.42h1M0,455.35h1" stroke="#e3f4f2" stroke-width="1.09"/>
<path d="M16,451.48h1M19,451.48h1M28,451.48h1M4,452.45h1M6,452.45h1M11,452.45h1M15,452.45h2M20,452.45h1M15,453.42h1M2,454.38h1M4,454.38h1M7,454.38h1M13,454.38h1M10,455.35h1M12,455.35h1M17,455.35h3M28,455.35h1M18,456.32h1M25,456.32h1" stroke="#ffffbf" stroke-width="1.09"/>
<path d="M21,451.48h1M19,453.42h1M26,453.42h1M28,453.42h1M27,454.38h1M22,455.35h1M27,455.35h1M0,456.32h1M5,456.32h1M21,456.32h1" stroke="#fee89c" stroke-width="1.09"/>
<path d="M22,451.48h1M21,454.38h1M22,456.32h1M24,456.32h1" stroke="#fdc37d" stroke-width="1.09"/>
<path d="M23,451.48h1M25,452.45h1M18,453.42h1M16,454.38h1M24,455.35h1M23,456.32h1M28,456.32h1" stroke="#fee395" stroke-width="1.09"/>
<path d="M24,451.48h3M22,452.45h1M24,452.45h1M26,452.45h1M22,453.42h3M23,454.38h2M28,454.38h1" stroke="#fedc8d" stroke-width="1.09"/>
<path d="M27,451.48h1M29,451.48h1M3,452.45h1M4,453.42h1M16,453.42h1M20,453.42h1M3,454.38h1M18,454.38h1M7,455.35h2M11,455.35h1M15,455.35h1M26,455.35h1M2,456.32h1M7,456.32h1M14,456.32h1M19,456.32h1" stroke="#fffab8" stroke-width="1.09"/>
<path d="M18,452.45h1M28,452.45h1M17,454.38h1M29,454.38h1M21,455.35h1M25,455.35h1M1,456.32h1M27,456.32h1" stroke="#feeca3" stroke-width="1.09"/>
<path d="M21,452.45h1" stroke="#fdaa6c" stroke-width="1.09"/>
<path d="M23,452.45h1M21,453.42h1M22,454.38h1M26,454.38h1" stroke="#fecf85" stroke-width="1.09"/>
<path d="M2,453.42h1M17,453.42h1M25,453.42h1M29,453.42h1M25,454.38h1M5,455.35h1M23,455.35h1M29,455.35h1M3,456.32h1M12,456.32h1" stroke="#fff1aa" stroke-width="1.09"/>
<path d="M13,455.35h1M13,456.32h1" stroke="#dcf0f7" stroke-width="1.09"/>
<path d="M9,456.32h1" stroke="#c4e1ee" stroke-width="1.09"/>
<path d="M27,460.12h1" stroke="#fc9e64" stroke-width="1.13"/>
</g>
<path d="M103.4,316h7" stroke="#4a6ad8" stroke-width="1.2" stroke-dasharray="1.6 0.5" opacity="0.85"/><path d="M107.4,314.6l1,-1.2l0.9,1l1,-1.5l0.9,1.1l1,-1.6l0.9,1.2l1,-1.4l0.7,0.9" stroke="#e0524a" stroke-width="0.9" fill="none" opacity="0.85"/>
<text x="23.6" y="267.9" font-size="7.2" text-anchor="end" fill="#222">#11</text>
<text x="23.6" y="288.9" font-size="7.2" text-anchor="end" fill="#222">#9</text>
<text x="23.6" y="308.4" font-size="7.2" text-anchor="end" fill="#222">#2</text>
<text x="23.6" y="323.1" font-size="7.2" text-anchor="end" fill="#222">#3</text>
<text x="23.6" y="332.7" font-size="7.2" text-anchor="end" fill="#222">#10</text>
<text x="23.6" y="358.9" font-size="7.2" text-anchor="end" fill="#222">#8</text>
<text x="23.6" y="389.3" font-size="7.2" text-anchor="end" fill="#222">#7</text>
<text x="23.6" y="397.7" font-size="7.2" text-anchor="end" fill="#222">#1</text>
<text x="23.6" y="405.7" font-size="7.2" text-anchor="end" fill="#222">#4</text>
<text x="23.6" y="414.1" font-size="7.2" text-anchor="end" fill="#222">#5</text>
<text x="23.6" y="435.2" font-size="7.2" text-anchor="end" fill="#222">#13</text>
<text x="23.6" y="456.2" font-size="7.2" text-anchor="end" fill="#222">#6</text>
<text x="23.6" y="470.0" font-size="7.2" text-anchor="end" fill="#222">#12</text>
<path d="M24,319.6L25.8,318.8M24,328.6L25.8,326.6" stroke="#444" stroke-width="0.4"/>
<text transform="translate(30.2,488.2) rotate(-90)" font-size="6.4" fill="#222">TP</text>
<defs><linearGradient id="cb" x1="0" x2="1" y1="0" y2="0"><stop offset="0.000" stop-color="#4575b4"/><stop offset="0.167" stop-color="#91bfdb"/><stop offset="0.333" stop-color="#e0f3f8"/><stop offset="0.500" stop-color="#ffffbf"/><stop offset="0.667" stop-color="#fee090"/><stop offset="0.833" stop-color="#fc8d59"/><stop offset="1.000" stop-color="#d73027"/></linearGradient></defs>
<rect x="190.8" y="479.8" width="57" height="2.9" fill="url(#cb)"/>
<text x="192.2" y="488.8" font-size="5.4" text-anchor="middle" fill="#222">−4</text>
<text x="205.0" y="488.8" font-size="5.4" text-anchor="middle" fill="#222">−2</text>
<text x="218.3" y="488.8" font-size="5.4" text-anchor="middle" fill="#222">0</text>
<text x="231.5" y="488.8" font-size="5.4" text-anchor="middle" fill="#222">2</text>
<text x="244.8" y="488.8" font-size="5.4" text-anchor="middle" fill="#222">4</text>
<g transform="translate(282.6,245.90)">
<rect width="53.0" height="51.4" fill="#fff"/>
<g fill="none" stroke-width="0.3" opacity="0.16">
<path d="M3.1,46.2l5.2,-9.8M3.1,40.2l5.2,-6.7M3.1,38.8l5.2,-4.1M3.1,49.1l5.2,-7M3.1,42l5.2,-8.1M3.1,49.1l5.2,-8M3.1,38.3l5.2,-5.7M3.1,42l5.2,-8.7M3.1,33.5l5.2,-2.8M3.1,43.3l5.2,-7.9M3.1,39.6l5.2,-5.2M3.1,41.1l5.2,-8M3.1,38.9l5.2,-5M3.1,41.9l5.2,-7.7M3.1,46.9l5.2,-8.3M3.1,35.8l5.2,-1.5M3.1,42.9l5.2,-10.9M3.1,42.5l5.2,-6.1" stroke="#6b97c4"/>
<path d="M8.3,36.4l5.2,4.4M8.3,33.5l5.2,2M8.3,34.7l5.2,-2.6M8.3,42.1l5.2,1.3M8.3,33.9l5.2,-.4M8.3,41.1l5.2,2.3M8.3,32.5l5.2,-1.5M8.3,33.3l5.2,5.8M8.3,30.7l5.2,-3M8.3,35.5l5.2,-.2M8.3,34.5l5.2,.1M8.3,33.1l5.2,-.5M8.3,33.9l5.2,2.2M8.3,34.3l5.2,-1.1M8.3,38.6l5.2,-2.5M8.3,34.3l5.2,-3.6M8.3,32l5.2,-.9M8.3,36.4l5.2,-5.5" stroke="#759372"/>
<path d="M13.5,40.8l5.2,-15.9M13.5,35.5l5.2,-2M13.5,32.2l5.2,-7.1M13.5,43.4l5.2,-10.4M13.5,33.5l5.2,-2.1M13.5,43.4l5.2,-7.7M13.5,31.1l5.2,-9.6M13.5,39.1l5.2,-16.2M13.5,27.7l5.2,-6.3M13.5,35.3l5.2,-1.9M13.5,34.6l5.2,-13.1M13.5,32.6l5.2,-6.9M13.5,36l5.2,-9.2M13.5,33.1l5.2,-8.7M13.5,36l5.2,-.2M13.5,30.7l5.2,.7M13.5,31.1l5.2,-4.4M13.5,30.9l5.2,-9.5" stroke="#90d5f0"/>
<path d="M18.7,24.9l5.2,6.7M18.7,33.4l5.2,-2.6M18.7,25.1l5.2,2.1M18.7,33l5.2,-1.1M18.7,31.4l5.2,-3.4M18.7,35.7l5.2,-3.6M18.7,21.4l5.2,6.6M18.7,22.9l5.2,9.1M18.7,21.4l5.2,2.8M18.7,33.3l5.2,-4.2M18.7,21.4l5.2,3.5M18.7,25.7l5.2,3.5M18.7,26.8l5.2,3.8M18.7,24.4l5.2,2.9M18.7,35.8l5.2,-3.2M18.7,31.5l5.2,-1M18.7,26.7l5.2,1.9M18.7,21.4l5.2,6.4" stroke="#e6a29e"/>
<path d="M23.9,31.6l5.2,-5.8M23.9,30.9l5.2,-2.6M23.9,27.2l5.2,-8.1M23.9,31.9l5.2,-1.7M23.9,28l5.2,-.7M23.9,32.2l5.2,-1.5M23.9,28l5.2,-5.6M23.9,32.1l5.2,-2.7M23.9,24.3l5.2,.3M23.9,29.1l5.2,.1M23.9,24.9l5.2,-3M23.9,29.2l5.2,-2.7M23.9,30.6l5.2,-3.4M23.9,27.3l5.2,-6.9M23.9,32.7l5.2,-3.3M23.9,30.5l5.2,-5.2M23.9,28.6l5.2,-11M23.9,27.8l5.2,-.6" stroke="#f6a16e"/>
<path d="M29.1,25.8l5.2,-7.6M29.1,28.3l5.2,-8.3M29.1,19l5.2,-.7M29.1,30.1l5.2,-8.3M29.1,27.2l5.2,-8.4M29.1,30.7l5.2,-8.9M29.1,22.3l5.2,-7.9M29.1,29.4l5.2,-13.6M29.1,24.6l5.2,-6.9M29.1,29.3l5.2,-15.6M29.1,21.8l5.2,-9.7M29.1,26.5l5.2,-8M29.1,27.2l5.2,-7M29.1,20.4l5.2,-3.5M29.1,29.3l5.2,-10.4M29.1,25.3l5.2,-7.8M29.1,17.6l5.2,-3.9M29.1,27.3l5.2,-7.2" stroke="#717171"/>
<path d="M34.3,18.2l5.2,6.6M34.3,20l5.2,.2M34.3,18.3l5.2,-.7M34.3,21.9l5.2,6.7M34.3,18.9l5.2,2.8M34.3,21.8l5.2,6.5M34.3,14.4l5.2,4.3M34.3,15.8l5.2,1.4M34.3,17.7l5.2,-.9M34.3,13.7l5.2,5.3M34.3,12.2l5.2,6.2M34.3,18.5l5.2,4.8M34.3,20.2l5.2,2.6M34.3,16.8l5.2,-1.5M34.3,19l5.2,5.4M34.3,17.5l5.2,5.1M34.3,13.6l5.2,2.2M34.3,20.1l5.2,-.7" stroke="#897466"/>
<path d="M39.5,24.9l5.2,.2M39.5,20.2l5.2,3.1M39.5,17.6l5.2,6.5M39.5,28.5l5.2,-2.1M39.5,21.7l5.2,3M39.5,28.3l5.2,.2M39.5,18.7l5.2,2.6M39.5,17.2l5.2,2.5M39.5,16.8l5.2,2.1M39.5,19l5.2,7.2M39.5,18.4l5.2,5.4M39.5,23.3l5.2,-2.9M39.5,22.8l5.2,.3M39.5,15.3l5.2,8.9M39.5,24.4l5.2,-2.9M39.5,22.6l5.2,1.6M39.5,15.8l5.2,7.6M39.5,19.4l5.2,3.9" stroke="#89a8d5"/>
<path d="M44.7,25.1l5.2,-3.2M44.7,23.3l5.2,-3.1M44.7,24.1l5.2,-6.1M44.7,26.4l5.2,.2M44.7,24.6l5.2,-2.5M44.7,28.5l5.2,-1.9M44.7,21.4l5.2,-2.8M44.7,19.6l5.2,1.4M44.7,18.9l5.2,-1M44.7,26.1l5.2,-1.1M44.7,23.8l5.2,-3.7M44.7,20.4l5.2,3M44.7,23.2l5.2,2.6M44.7,24.2l5.2,-1.6M44.7,21.5l5.2,5.1M44.7,24.2l5.2,.2M44.7,23.4l5.2,-4.9M44.7,23.2l5.2,-3.2" stroke="#f9d97a"/>
</g>
<g stroke="#1c5fa5"><path class="w" d="M3.1,33.5V38.1M3.1,44.4V49.1"/><rect class="b" x="1.4" y="38.1" width="3.4" height="6.3"/><path class="m" d="M1.2,41.9h3.8"/>
<path class="p" d="M3.1,46.2h0M3.2,40.2h0M2.9,38.8h0M3.2,49.1h0M3.2,42h0M2.8,49.1h0M3.1,38.3h0M2.9,42h0M2.8,33.5h0M2.8,43.3h0M3,39.6h0M2.9,41.1h0M2.9,38.9h0M2.8,41.9h0M3.1,46.9h0M3,35.8h0M3.2,42.9h0M3.2,42.5h0" stroke-width="0.62"/></g>
<g stroke="#2b5a27"><path class="w" d="M8.3,27.8V32.5M8.3,36.8V42.1"/><rect class="b" x="6.6" y="32.5" width="3.4" height="4.4"/><path class="m" d="M6.4,34.7h3.8"/>
<path class="p" d="M8.1,36.4h0M8.6,33.5h0M7.9,34.7h0M8.2,42.1h0M8.1,33.9h0M8.2,41.1h0M8,32.5h0M8.5,33.3h0M8.2,30.7h0M8,35.5h0M8.4,34.5h0M8,33.1h0M8.3,33.9h0M8.2,34.3h0M8.4,38.6h0M8.6,34.3h0M8.5,32h0M8.2,36.4h0" stroke-width="0.62"/></g>
<g stroke="#55bfe8"><path class="w" d="M13.5,26.6V31.6M13.5,37.7V43.4"/><rect class="b" x="11.8" y="31.6" width="3.4" height="6.1"/><path class="m" d="M11.6,33.5h3.8"/>
<path class="p" d="M13.7,40.8h0M13.6,35.5h0M13.4,32.2h0M13.2,43.4h0M13.6,33.5h0M13.5,43.4h0M13.8,31.1h0M13.8,39.1h0M13.6,27.7h0M13.4,35.3h0M13.8,34.6h0M13.1,32.6h0M13.2,36h0M13.5,33.1h0M13.6,36h0M13.2,30.7h0M13.6,31.1h0M13.8,30.9h0" stroke-width="0.62"/></g>
<g stroke="#d9706b"><path class="w" d="M18.7,21.4V23.2M18.7,29.5V36.4"/><rect class="b" x="17.0" y="23.2" width="3.4" height="6.3"/><path class="m" d="M16.8,26.1h3.8"/>
<path class="p" d="M18.6,24.9h0M18.6,33.4h0M18.5,25.1h0M18.5,33h0M19,31.4h0M18.6,35.7h0M19,21.4h0M19,22.9h0M18.8,21.4h0M18.5,33.3h0M19,21.4h0M18.7,25.7h0M18.6,26.8h0M18.6,24.4h0M19,35.8h0M18.7,31.5h0M18.5,26.7h0M18.7,21.4h0" stroke-width="0.62"/></g>
<g stroke="#f26f21"><path class="w" d="M23.9,21.9V26.1M23.9,30.1V33.5"/><rect class="b" x="22.2" y="26.1" width="3.4" height="4.0"/><path class="m" d="M22.0,28.6h3.8"/>
<path class="p" d="M23.6,31.6h0M24,30.9h0M23.8,27.2h0M23.7,31.9h0M24.1,28h0M24.1,32.2h0M23.5,28h0M23.9,32.1h0M23.7,24.3h0M24.2,29.1h0M24.1,24.9h0M23.7,29.2h0M23.7,30.6h0M23.6,27.3h0M24.2,32.7h0M23.7,30.5h0M24,28.6h0M23.9,27.8h0" stroke-width="0.62"/></g>
<g stroke="#262626"><path class="w" d="M29.1,17.6V22.6M29.1,28.6V32.5"/><rect class="b" x="27.4" y="22.6" width="3.4" height="6.0"/><path class="m" d="M27.2,27.6h3.8"/>
<path class="p" d="M29.2,25.8h0M29.2,28.3h0M29.3,19h0M28.8,30.1h0M29.3,27.2h0M28.9,30.7h0M29.1,22.3h0M29,29.4h0M28.9,24.6h0M29.1,29.3h0M29.1,21.8h0M29,26.5h0M29.3,27.2h0M29.1,20.4h0M28.8,29.3h0M28.9,25.3h0M29,17.6h0M29.4,27.3h0" stroke-width="0.62"/></g>
<g stroke="#4a2a14"><path class="w" d="M34.3,10.0V14.1M34.3,19.1V23.2"/><rect class="b" x="32.6" y="14.1" width="3.4" height="5.1"/><path class="m" d="M32.4,17.4h3.8"/>
<path class="p" d="M34.5,18.2h0M34.3,20h0M33.9,18.3h0M34.5,21.9h0M34.2,18.9h0M34.3,21.8h0M34.4,14.4h0M34.4,15.8h0M34.3,17.7h0M34.6,13.7h0M34.2,12.2h0M34.2,18.5h0M34.5,20.2h0M34.1,16.8h0M34.1,19h0M34.5,17.5h0M34,13.6h0M34.5,20.1h0" stroke-width="0.62"/></g>
<g stroke="#4a7abf"><path class="w" d="M39.5,9.7V17.6M39.5,21.9V30.1"/><rect class="b" x="37.8" y="17.6" width="3.4" height="4.4"/><path class="m" d="M37.6,19.7h3.8"/>
<path class="p" d="M39.6,24.9h0M39.4,20.2h0M39.3,17.6h0M39.7,28.5h0M39.8,21.7h0M39.2,28.3h0M39.5,18.7h0M39.5,17.2h0M39.5,16.8h0M39.4,19h0M39.2,18.4h0M39.5,23.3h0M39.7,22.8h0M39.2,15.3h0M39.3,24.4h0M39.7,22.6h0M39.7,15.8h0M39.6,19.4h0" stroke-width="0.62"/></g>
<g stroke="#f7c633"><path class="w" d="M44.7,15.8V20.2M44.7,24.6V29.5"/><rect class="b" x="43.0" y="20.2" width="3.4" height="4.4"/><path class="m" d="M42.8,23.2h3.8"/>
<path class="p" d="M44.3,25.1h0M44.8,23.3h0M45,24.1h0M45,26.4h0M44.8,24.6h0M44.4,28.5h0M44.9,21.4h0M44.5,19.6h0M44.8,18.9h0M45,26.1h0M44.8,23.8h0M44.4,20.4h0M44.5,23.2h0M45,24.2h0M44.4,21.5h0M44.7,24.2h0M44.6,23.4h0M44.4,23.2h0" stroke-width="0.62"/></g>
<g stroke="#f39a2e"><path class="w" d="M49.9,10.0V18.9M49.9,23.2V26.6"/><rect class="b" x="48.2" y="18.9" width="3.4" height="4.3"/><path class="m" d="M48.0,20.2h3.8"/>
<path class="p" d="M49.9,21.9h0M49.5,20.2h0M49.6,18.1h0M49.8,26.6h0M49.6,22.1h0M49.6,26.6h0M49.9,18.6h0M50,21h0M50.1,17.9h0M49.6,25.1h0M49.8,20.2h0M49.7,23.4h0M49.9,25.7h0M49.9,22.6h0M50.2,26.6h0M49.8,24.4h0M49.6,18.5h0M50,20h0" stroke-width="0.62"/></g>
</g>
<rect x="282.6" y="245.90" width="53.0" height="51.4" fill="none" stroke="#222" stroke-width="0.9"/>
<rect x="282.6" y="239.3" width="53.0" height="6.6" fill="#ef1c24" stroke="#222" stroke-width="0.9"/>
<text x="309.1" y="244.5" font-size="5.1" text-anchor="middle" fill="#1a1a1a">#1 − genes: 18</text>
<path d="M282.6,246.9h-3" stroke="#222" stroke-width="0.7"/>
<text x="278.3" y="249.4" font-size="7.0" text-anchor="end" fill="#222">3</text>
<path d="M282.6,255.6h-3" stroke="#222" stroke-width="0.7"/>
<text x="278.3" y="258.1" font-size="7.0" text-anchor="end" fill="#222">2</text>
<path d="M282.6,264.4h-3" stroke="#222" stroke-width="0.7"/>
<text x="278.3" y="266.9" font-size="7.0" text-anchor="end" fill="#222">1</text>
<path d="M282.6,273.1h-3" stroke="#222" stroke-width="0.7"/>
<text x="278.3" y="275.6" font-size="7.0" text-anchor="end" fill="#222">0</text>
<path d="M282.6,281.9h-3" stroke="#222" stroke-width="0.7"/>
<text x="278.3" y="284.4" font-size="7.0" text-anchor="end" fill="#222">−1</text>
<path d="M282.6,290.6h-3" stroke="#222" stroke-width="0.7"/>
<text x="278.3" y="293.1" font-size="7.0" text-anchor="end" fill="#222">−2</text>
<g transform="translate(337.7,245.90)">
<rect width="53.0" height="51.4" fill="#fff"/>
<g fill="none" stroke-width="0.35" opacity="0.3">
<path d="M3.1,11.6l5.2,1M3.1,13.7l5.2,-2.9M3.1,20.7l5.2,5.9M3.1,17.6l5.2,-5.5M3.1,21.9l5.2,-.8M3.1,18.3l5.2,-2.8M3.1,15.6l5.2,2.1M3.1,13.3l5.2,-2.4M3.1,14.8l5.2,1.3M3.1,9.3l5.2,4.3M3.1,16.7l5.2,-.3M3.1,14.7l5.2,-.5M3.1,12.8l5.2,5M3.1,13.7l5.2,3.5M3.1,15.3l5.2,1.9M3.1,17.2l5.2,2.3M3.1,21l5.2,-4.7M3.1,18.9l5.2,1.3M3.1,12.7l5.2,-5.2M3.1,14.3l5.2,-2.8M3.1,14.7l5.2,-.1M3.1,14l5.2,.2M3.1,16.4l5.2,7.8M3.1,15.3l5.2,3.6M3.1,14.1l5.2,.9M3.1,16.1l5.2,2.2M3.1,16.8l5.2,.6M3.1,10.8l5.2,-1.1M3.1,10l5.2,-1.9M3.1,12.3l5.2,3.8M3.1,12.4l5.2,.6M3.1,12.9l5.2,2.3M3.1,10.2l5.2,.5M3.1,14l5.2,2.3M3.1,9.7l5.2,6.1M3.1,12.5l5.2,.9M3.1,14.1l5.2,-3.3M3.1,12l5.2,2" stroke="#6b97c4"/>
<path d="M8.3,12.6l5.2,1.5M8.3,10.7l5.2,6.5M8.3,26.6l5.2,-1M8.3,12.1l5.2,8.9M8.3,21.1l5.2,-.2M8.3,15.5l5.2,5.2M8.3,17.7l5.2,5.1M8.3,10.9l5.2,4.3M8.3,16l5.2,5.9M8.3,13.7l5.2,-1.7M8.3,16.3l5.2,5.6M8.3,14.2l5.2,10.4M8.3,17.8l5.2,2.3M8.3,17.2l5.2,-3.1M8.3,17.2l5.2,1.8M8.3,19.5l5.2,3.4M8.3,16.3l5.2,2.8M8.3,20.2l5.2,2.5M8.3,7.5l5.2,4.6M8.3,11.5l5.2,3.6M8.3,14.6l5.2,2.6M8.3,14.2l5.2,6.2M8.3,24.2l5.2,-3.4M8.3,18.9l5.2,1.2M8.3,14.9l5.2,1.9M8.3,18.4l5.2,2.7M8.3,17.3l5.2,7.4M8.3,9.7l5.2,3.4M8.3,8.1l5.2,6.3M8.3,16.1l5.2,1.6M8.3,13l5.2,5M8.3,15.2l5.2,4.4M8.3,10.7l5.2,3.6M8.3,16.2l5.2,3M8.3,15.9l5.2,4.1M8.3,13.4l5.2,3.8M8.3,10.7l5.2,5.8M8.3,13.9l5.2,5.4" stroke="#759372"/>
<path d="M13.5,14.2l5.2,18.3M13.5,17.3l5.2,8.6M13.5,25.6l5.2,18.8M13.5,21l5.2,13.4M13.5,20.9l5.2,17.6M13.5,20.7l5.2,15.5M13.5,22.8l5.2,13M13.5,15.2l5.2,11.1M13.5,21.9l5.2,13.6M13.5,11.9l5.2,15.9M13.5,22l5.2,14.8M13.5,24.6l5.2,14.1M13.5,20.1l5.2,13.8M13.5,14.1l5.2,17.2M13.5,18.9l5.2,14.6M13.5,22.9l5.2,12.7M13.5,19.1l5.2,13.1M13.5,22.8l5.2,22.7M13.5,12.1l5.2,19.6M13.5,15l5.2,18.4M13.5,17.3l5.2,18.4M13.5,20.4l5.2,12.6M13.5,20.8l5.2,16.8M13.5,20.1l5.2,16.1M13.5,16.8l5.2,19.4M13.5,21.1l5.2,19.5M13.5,24.7l5.2,13.5M13.5,13.1l5.2,17.1M13.5,14.4l5.2,16.3M13.5,17.7l5.2,16.5M13.5,18l5.2,15.8M13.5,19.6l5.2,17.6M13.5,14.3l5.2,10.9M13.5,19.2l5.2,19.4M13.5,20l5.2,13.1M13.5,17.2l5.2,14.5M13.5,16.6l5.2,10.5M13.5,19.4l5.2,18.2" stroke="#90d5f0"/>
<path d="M18.7,32.5l5.2,-11.2M18.7,25.9l5.2,-3.3M18.7,44.4l5.2,-6.7M18.7,34.4l5.2,-7.5M18.7,38.5l5.2,-5.6M18.7,36.2l5.2,-8.4M18.7,35.8l5.2,-8M18.7,26.3l5.2,-5M18.7,35.5l5.2,-6M18.7,27.9l5.2,-5.5M18.7,36.8l5.2,-7.8M18.7,38.7l5.2,-9.5M18.7,33.9l5.2,-5.9M18.7,31.3l5.2,-8.8M18.7,33.6l5.2,-10.8M18.7,35.6l5.2,-5.8M18.7,32.2l5.2,-5.8M18.7,45.4l5.2,-10.7M18.7,31.7l5.2,-7.8M18.7,33.5l5.2,-9.6M18.7,35.7l5.2,-11.4M18.7,32.9l5.2,-4.3M18.7,37.6l5.2,-9.7M18.7,36.3l5.2,-8M18.7,36.3l5.2,-15M18.7,40.6l5.2,-12.9M18.7,38.2l5.2,-9.6M18.7,30.2l5.2,-7.5M18.7,30.7l5.2,-9.5M18.7,34.3l5.2,-6M18.7,33.8l5.2,-6.4M18.7,37.2l5.2,-6.2M18.7,25.2l5.2,.1M18.7,38.5l5.2,-6.8M18.7,33l5.2,-5.9M18.7,31.7l5.2,-6.4M18.7,27l5.2,-1.6M18.7,37.5l5.2,-9.2" stroke="#e6a29e"/>
<path d="M23.9,21.3l5.2,6.3M23.9,22.6l5.2,5.8M23.9,37.7l5.2,.4M23.9,26.9l5.2,3.1M23.9,33l5.2,1.7M23.9,27.8l5.2,.5M23.9,27.8l5.2,2.5M23.9,21.3l5.2,6.2M23.9,29.4l5.2,-.2M23.9,22.4l5.2,.8M23.9,29l5.2,-.1M23.9,29.2l5.2,-1.1M23.9,28l5.2,3.8M23.9,22.5l5.2,5.3M23.9,22.8l5.2,6.7M23.9,29.8l5.2,2.7M23.9,26.4l5.2,2M23.9,34.7l5.2,-.8M23.9,23.9l5.2,1.4M23.9,23.8l5.2,3.6M23.9,24.4l5.2,3.2M23.9,28.7l5.2,2.6M23.9,27.9l5.2,-1.4M23.9,28.3l5.2,3.1M23.9,21.3l5.2,6.7M23.9,27.7l5.2,7.3M23.9,28.6l5.2,2.9M23.9,22.7l5.2,4.4M23.9,21.2l5.2,2.4M23.9,28.2l5.2,-2.6M23.9,27.3l5.2,-1.2M23.9,30.9l5.2,-1.6M23.9,25.4l5.2,-3.3M23.9,31.7l5.2,-1M23.9,27.2l5.2,1.7M23.9,25.3l5.2,2.1M23.9,25.4l5.2,.2M23.9,28.3l5.2,.6" stroke="#f6a16e"/>
<path d="M29.1,27.6l5.2,-.7M29.1,28.5l5.2,-4.5M29.1,38.1l5.2,-1.8M29.1,30l5.2,1.7M29.1,34.7l5.2,-3.8M29.1,28.2l5.2,-.7M29.1,30.4l5.2,-1.6M29.1,27.5l5.2,-1M29.1,29.3l5.2,-2.9M29.1,23.2l5.2,-.1M29.1,28.9l5.2,-.7M29.1,28.1l5.2,4.2M29.1,31.8l5.2,-3.2M29.1,27.8l5.2,.1M29.1,29.5l5.2,1.4M29.1,32.6l5.2,-3.3M29.1,28.4l5.2,-.3M29.1,33.9l5.2,-.4M29.1,25.3l5.2,.3M29.1,27.5l5.2,-3.6M29.1,27.6l5.2,-1.4M29.1,31.2l5.2,-3.2M29.1,26.5l5.2,2.9M29.1,31.4l5.2,-1.8M29.1,28l5.2,.7M29.1,35l5.2,-3.2M29.1,31.5l5.2,-1.2M29.1,27.1l5.2,-4M29.1,23.6l5.2,3M29.1,25.6l5.2,3.7M29.1,26.1l5.2,2.2M29.1,29.3l5.2,1.7M29.1,22.1l5.2,.5M29.1,30.7l5.2,-1.7M29.1,28.8l5.2,-2.9M29.1,27.4l5.2,4.1M29.1,25.6l5.2,.5M29.1,28.9l5.2,-3" stroke="#717171"/>
<path d="M34.3,26.9l5.2,2.3M34.3,24l5.2,4.7M34.3,36.4l5.2,6.9M34.3,31.7l5.2,8.3M34.3,30.9l5.2,7.7M34.3,27.5l5.2,13.1M34.3,28.7l5.2,1.4M34.3,26.5l5.2,7.2M34.3,26.4l5.2,13.5M34.3,23l5.2,10.9M34.3,28.1l5.2,8.1M34.3,32.3l5.2,2.5M34.3,28.6l5.2,4.8M34.3,28l5.2,3.3M34.3,30.9l5.2,6.5M34.3,29.3l5.2,6.3M34.3,28.2l5.2,10M34.3,33.5l5.2,10.4M34.3,25.6l5.2,3.1M34.3,23.9l5.2,7.5M34.3,26.2l5.2,9.9M34.3,28.1l5.2,6.8M34.3,29.3l5.2,5.6M34.3,29.6l5.2,4.9M34.3,28.8l5.2,6.2M34.3,31.8l5.2,3.6M34.3,30.3l5.2,14M34.3,23l5.2,6.5M34.3,26.6l5.2,2.3M34.3,29.4l5.2,5.2M34.3,28.3l5.2,4.9M34.3,31l5.2,7.5M34.3,22.5l5.2,8M34.3,29l5.2,6.6M34.3,25.9l5.2,11.4M34.3,31.5l5.2,1.8M34.3,26.2l5.2,4.5M34.3,25.8l5.2,15.8" stroke="#897466"/>
<path d="M39.5,29.1l5.2,2.4M39.5,28.7l5.2,-2.8M39.5,43.3l5.2,-.3M39.5,40l5.2,-5.3M39.5,38.5l5.2,-.2M39.5,40.6l5.2,-5M39.5,30.1l5.2,2M39.5,33.7l5.2,-3.3M39.5,39.9l5.2,1.3M39.5,33.9l5.2,-10.5M39.5,36.2l5.2,-.8M39.5,34.8l5.2,-.6M39.5,33.4l5.2,1.6M39.5,31.2l5.2,.3M39.5,37.4l5.2,-1.9M39.5,35.5l5.2,5.7M39.5,38.1l5.2,-3.5M39.5,43.9l5.2,-2.4M39.5,28.6l5.2,4.2M39.5,31.4l5.2,0M39.5,36l5.2,-1.4M39.5,34.9l5.2,-.5M39.5,34.9l5.2,1.6M39.5,34.5l5.2,-5.4M39.5,35l5.2,.2M39.5,35.4l5.2,2.4M39.5,44.3l5.2,-7.5M39.5,29.5l5.2,-2.3M39.5,28.8l5.2,-4.8M39.5,34.5l5.2,1M39.5,33.1l5.2,1M39.5,38.5l5.2,-3.8M39.5,30.6l5.2,2.8M39.5,35.6l5.2,-1.5M39.5,37.2l5.2,1.7M39.5,33.2l5.2,-1.5M39.5,30.6l5.2,-5.1M39.5,41.6l5.2,-2.4" stroke="#89a8d5"/>
<path d="M44.7,31.5l5.2,-5.4M44.7,25.9l5.2,-1.2M44.7,43l5.2,-4.4M44.7,34.8l5.2,-6.7M44.7,38.4l5.2,-6.2M44.7,35.6l5.2,-4.2M44.7,32.1l5.2,-.5M44.7,30.3l5.2,-4.1M44.7,41.2l5.2,-9.5M44.7,23.5l5.2,2.1M44.7,35.4l5.2,-3.5M44.7,34.2l5.2,-3.1M44.7,35l5.2,-6.1M44.7,31.6l5.2,-5.7M44.7,35.4l5.2,-6.8M44.7,41.2l5.2,-10.3M44.7,34.6l5.2,-6.7M44.7,41.5l5.2,-5.5M44.7,32.8l5.2,-6.1M44.7,31.4l5.2,-3.6M44.7,34.6l5.2,-7.8M44.7,34.4l5.2,-1M44.7,36.6l5.2,-4.1M44.7,29.1l5.2,2.6M44.7,35.2l5.2,-7.5M44.7,37.8l5.2,-9.7M44.7,36.8l5.2,-5.1M44.7,27.2l5.2,-1M44.7,24l5.2,1.3M44.7,35.5l5.2,-8M44.7,34.2l5.2,-5.1M44.7,34.7l5.2,-8.1M44.7,33.4l5.2,-4.8M44.7,34.1l5.2,-5.1M44.7,39l5.2,-10.3M44.7,31.7l5.2,-4.6M44.7,25.5l5.2,-1.9M44.7,39.2l5.2,-8" stroke="#f9d97a"/>
</g>
<path d="M3.1,15.1L8.3,15.5" stroke="#5487bb" stroke-width="1.8" opacity="0.5" stroke-linecap="round"/>
<path d="M8.3,15.5L13.5,19.5" stroke="#60835d" stroke-width="1.8" opacity="0.5" stroke-linecap="round"/>
<path d="M13.5,19.5L18.7,35.1" stroke="#7fcfed" stroke-width="1.8" opacity="0.5" stroke-linecap="round"/>
<path d="M18.7,35.1L23.9,27.2" stroke="#e29390" stroke-width="1.8" opacity="0.5" stroke-linecap="round"/>
<path d="M23.9,27.2L29.1,28.9" stroke="#f59358" stroke-width="1.8" opacity="0.5" stroke-linecap="round"/>
<path d="M29.1,28.9L34.3,28.6" stroke="#5c5c5c" stroke-width="1.8" opacity="0.5" stroke-linecap="round"/>
<path d="M34.3,28.6L39.5,35.2" stroke="#775f4e" stroke-width="1.8" opacity="0.5" stroke-linecap="round"/>
<path d="M39.5,35.2L44.7,35.5" stroke="#779bcf" stroke-width="1.8" opacity="0.5" stroke-linecap="round"/>
<path d="M44.7,35.5L49.9,30.1" stroke="#f9d466" stroke-width="1.8" opacity="0.5" stroke-linecap="round"/>
<g stroke="#1c5fa5"><path class="w" d="M3.1,4.7V12.3M3.1,18.0V24.9"/><rect class="b2" x="1.4" y="12.3" width="3.4" height="5.7"/><path class="m" d="M1.2,15.1h3.8"/>
<path class="p" d="M3.3,11.6h0M2.8,13.7h0M3.1,20.7h0M3.2,17.6h0M2.8,21.9h0M3.3,18.3h0M3,15.6h0M3.1,13.3h0M3.2,14.8h0M3.3,9.3h0M2.8,16.7h0M3.1,14.7h0M2.8,12.8h0M3,13.7h0M3,15.3h0M2.8,17.2h0M3,21h0M3.1,18.9h0M3.2,12.7h0M3.4,14.3h0M3,14.7h0M3.1,14h0M3.2,16.4h0M3.4,15.3h0M3.4,14.1h0M3.4,16.1h0M3,16.8h0M2.9,10.8h0M3.4,10h0M2.8,12.3h0M3.1,12.4h0M3.3,12.9h0M3.1,10.2h0M3,14h0M3.4,9.7h0M3,12.5h0M3.1,14.1h0M3.3,12h0M2.8,15.7h0M3,19.9h0M3.1,22.8h0M3.1,16.3h0M2.9,12.3h0M3.1,9.9h0M2.8,18.3h0M2.8,13.8h0M3,16.6h0M2.9,15.3h0M3.4,12.7h0M2.9,18.8h0" stroke-width="0.62"/></g>
<g stroke="#2b5a27"><path class="w" d="M8.3,6.2V12.6M8.3,18.3V26.6"/><rect class="b2" x="6.6" y="12.6" width="3.4" height="5.7"/><path class="m" d="M6.4,15.5h3.8"/>
<path class="p" d="M8.1,12.6h0M8.5,10.7h0M8.5,26.6h0M8.1,12.1h0M8.5,21.1h0M8.4,15.5h0M8.2,17.7h0M8.4,10.9h0M8.1,16h0M8.1,13.7h0M8.6,16.3h0M8.3,14.2h0M8.6,17.8h0M8.1,17.2h0M8,17.2h0M8,19.5h0M8.5,16.3h0M8.3,20.2h0M8,7.5h0M8,11.5h0M8.5,14.6h0M8.3,14.2h0M8.6,24.2h0M8,18.9h0M8.4,14.9h0M8,18.4h0M8.5,17.3h0M8.4,9.7h0M8.4,8.1h0M8.1,16.1h0M8.6,13h0M8,15.2h0M8,10.7h0M8.4,16.2h0M8,15.9h0M8,13.4h0M8.3,10.7h0M8.4,13.9h0M8.6,15h0M8.5,16.4h0M8,11.6h0M8.4,16.2h0M8.5,14h0M8,10h0M8.5,20.1h0M8.1,15.8h0M8.2,15.1h0M7.9,13.3h0M8.5,10.9h0M8.3,17.8h0" stroke-width="0.62"/></g>
<g stroke="#55bfe8"><path class="w" d="M13.5,9.7V16.7M13.5,22.3V29.5"/><rect class="b2" x="11.8" y="16.7" width="3.4" height="5.5"/><path class="m" d="M11.6,19.5h3.8"/>
<path class="p" d="M13.8,14.2h0M13.5,17.3h0M13.3,25.6h0M13.3,21h0M13.3,20.9h0M13.8,20.7h0M13.3,22.8h0M13.2,15.2h0M13.4,21.9h0M13.2,11.9h0M13.4,22h0M13.6,24.6h0M13.6,20.1h0M13.3,14.1h0M13.2,18.9h0M13.5,22.9h0M13.6,19.1h0M13.5,22.8h0M13.5,12.1h0M13.8,15h0M13.2,17.3h0M13.3,20.4h0M13.5,20.8h0M13.5,20.1h0M13.8,16.8h0M13.5,21.1h0M13.6,24.7h0M13.4,13.1h0M13.7,14.4h0M13.7,17.7h0M13.3,18h0M13.2,19.6h0M13.3,14.3h0M13.4,19.2h0M13.8,20h0M13.3,17.2h0M13.6,16.6h0M13.6,19.4h0M13.8,18.7h0M13.2,24h0M13.7,19h0M13.4,23.6h0M13.2,19h0M13.6,19.6h0M13.7,25.6h0M13.5,20h0M13.2,24h0M13.8,23h0M13.4,17.7h0M13.6,27h0" stroke-width="0.62"/></g>
<g stroke="#d9706b"><path class="w" d="M18.7,24.9V31.8M18.7,38.3V48.2"/><rect class="b2" x="17.0" y="31.8" width="3.4" height="6.5"/><path class="m" d="M16.8,35.1h3.8"/>
<path class="p" d="M18.8,32.5h0M18.5,25.9h0M18.6,44.4h0M18.6,34.4h0M18.4,38.5h0M18.4,36.2h0M18.8,35.8h0M18.6,26.3h0M18.9,35.5h0M18.4,27.9h0M18.5,36.8h0M18.5,38.7h0M19,33.9h0M18.9,31.3h0M19,33.6h0M18.7,35.6h0M18.4,32.2h0M18.6,45.4h0M18.5,31.7h0M18.4,33.5h0M18.7,35.7h0M18.5,32.9h0M18.4,37.6h0M18.7,36.3h0M19,36.3h0M19,40.6h0M18.7,38.2h0M18.4,30.2h0M18.9,30.7h0M18.4,34.3h0M18.7,33.8h0M18.4,37.2h0M19,25.2h0M18.7,38.5h0M18.6,33h0M18.5,31.7h0M18.7,27h0M19,37.5h0M18.6,36.8h0M18.5,35.8h0M18.7,36.9h0M19,43.8h0M18.6,41.6h0M18.8,33.1h0M19,38.7h0M18.6,38.1h0M18.9,35.5h0M18.7,36.3h0M18.4,25.5h0M18.4,37.5h0" stroke-width="0.62"/></g>
<g stroke="#f26f21"><path class="w" d="M23.9,16.7V24.3M23.9,30.1V37.7"/><rect class="b2" x="22.2" y="24.3" width="3.4" height="5.9"/><path class="m" d="M22.0,27.2h3.8"/>
<path class="p" d="M24.2,21.3h0M23.9,22.6h0M23.8,37.7h0M24.2,26.9h0M23.9,33h0M23.9,27.8h0M23.7,27.8h0M24.1,21.3h0M23.7,29.4h0M23.9,22.4h0M24.1,29h0M24,29.2h0M23.6,28h0M23.7,22.5h0M24,22.8h0M24,29.8h0M23.6,26.4h0M24.2,34.7h0M23.6,23.9h0M23.7,23.8h0M23.6,24.4h0M23.8,28.7h0M24,27.9h0M24.1,28.3h0M23.6,21.3h0M24,27.7h0M23.6,28.6h0M23.9,22.7h0M23.7,21.2h0M23.8,28.2h0M23.6,27.3h0M24,30.9h0M23.6,25.4h0M24.1,31.7h0M23.8,27.2h0M23.9,25.3h0M24,25.4h0M23.9,28.3h0M24.1,25.4h0M24.2,26.7h0M23.7,29.7h0M23.8,28.9h0M24.1,27.8h0M23.6,22h0M23.8,33.3h0M23.8,28.7h0M24.2,34.1h0M23.6,21.9h0M24,22.6h0M24.1,36.5h0" stroke-width="0.62"/></g>
<g stroke="#262626"><path class="w" d="M29.1,19.8V26.4M29.1,31.5V38.1"/><rect class="b2" x="27.4" y="26.4" width="3.4" height="5.1"/><path class="m" d="M27.2,28.9h3.8"/>
<path class="p" d="M29.2,27.6h0M28.7,28.5h0M29.4,38.1h0M28.9,30h0M29.3,34.7h0M29.2,28.2h0M29,30.4h0M29.3,27.5h0M29.2,29.3h0M29,23.2h0M29.2,28.9h0M29.1,28.1h0M29.2,31.8h0M29.2,27.8h0M29.3,29.5h0M28.8,32.6h0M29.1,28.4h0M28.7,33.9h0M29.3,25.3h0M29.3,27.5h0M29.3,27.6h0M28.8,31.2h0M29.1,26.5h0M29.1,31.4h0M28.8,28h0M28.9,35h0M29.4,31.5h0M29.3,27.1h0M28.9,23.6h0M29.3,25.6h0M29.2,26.1h0M29,29.3h0M29.2,22.1h0M28.9,30.7h0M28.9,28.8h0M28.7,27.4h0M29.2,25.6h0M29.1,28.9h0M29.3,30.8h0M29.1,34.1h0M29,28.5h0M28.9,32.5h0M29.2,29.5h0M29,25.6h0M29.1,32h0M29.3,33.2h0M29,30.6h0M29.2,29.9h0M28.8,25.8h0M28.9,33.7h0" stroke-width="0.62"/></g>
<g stroke="#4a2a14"><path class="w" d="M34.3,19.3V26.2M34.3,31.0V36.4"/><rect class="b2" x="32.6" y="26.2" width="3.4" height="4.8"/><path class="m" d="M32.4,28.6h3.8"/>
<path class="p" d="M34.5,26.9h0M34,24h0M34,36.4h0M33.9,31.7h0M34.5,30.9h0M34,27.5h0M34.2,28.7h0M34.2,26.5h0M34.5,26.4h0M34.3,23h0M34.3,28.1h0M33.9,32.3h0M34.5,28.6h0M34.5,28h0M34.4,30.9h0M34.5,29.3h0M34.4,28.2h0M34.4,33.5h0M34.5,25.6h0M34.4,23.9h0M33.9,26.2h0M34.5,28.1h0M34.6,29.3h0M34.1,29.6h0M34,28.8h0M34.2,31.8h0M34,30.3h0M34.2,23h0M34,26.6h0M34.1,29.4h0M33.9,28.3h0M34.2,31h0M34.1,22.5h0M34.4,29h0M34.2,25.9h0M34,31.5h0M34.6,26.2h0M34.6,25.8h0M34.4,30.7h0M34.1,33.5h0M34.2,30h0M34.2,27.4h0M34.2,27.2h0M33.9,28h0M34.2,29.5h0M34.5,29.5h0M34.4,29.3h0M34.5,26.9h0M34.4,25.1h0M34.5,29.9h0" stroke-width="0.62"/></g>
<g stroke="#4a7abf"><path class="w" d="M39.5,24.9V32.2M39.5,38.3V46.5"/><rect class="b2" x="37.8" y="32.2" width="3.4" height="6.0"/><path class="m" d="M37.6,35.2h3.8"/>
<path class="p" d="M39.7,29.1h0M39.8,28.7h0M39.7,43.3h0M39.4,40h0M39.6,38.5h0M39.6,40.6h0M39.7,30.1h0M39.6,33.7h0M39.4,39.9h0M39.3,33.9h0M39.4,36.2h0M39.3,34.8h0M39.6,33.4h0M39.7,31.2h0M39.3,37.4h0M39.5,35.5h0M39.7,38.1h0M39.4,43.9h0M39.2,28.6h0M39.5,31.4h0M39.4,36h0M39.2,34.9h0M39.3,34.9h0M39.1,34.5h0M39.2,35h0M39.4,35.4h0M39.2,44.3h0M39.1,29.5h0M39.5,28.8h0M39.8,34.5h0M39.7,33.1h0M39.4,38.5h0M39.8,30.6h0M39.2,35.6h0M39.2,37.2h0M39.1,33.2h0M39.2,30.6h0M39.5,41.6h0M39.7,35.9h0M39.5,35.6h0M39.7,41.4h0M39.4,37.5h0M39.8,34.2h0M39.5,35.2h0M39.5,38.3h0M39.2,35.2h0M39.4,35h0M39.4,36.4h0M39.7,30.3h0M39.3,38.8h0" stroke-width="0.62"/></g>
<g stroke="#f7c633"><path class="w" d="M44.7,18.4V31.7M44.7,39.3V45.6"/><rect class="b2" x="43.0" y="31.7" width="3.4" height="7.6"/><path class="m" d="M42.8,35.5h3.8"/>
<path class="p" d="M44.5,31.5h0M44.9,25.9h0M44.4,43h0M44.7,34.8h0M44.5,38.4h0M44.8,35.6h0M44.7,32.1h0M44.4,30.3h0M44.8,41.2h0M44.6,23.5h0M44.5,35.4h0M44.9,34.2h0M44.9,35h0M44.5,31.6h0M44.8,35.4h0M44.4,41.2h0M44.7,34.6h0M44.4,41.5h0M44.8,32.8h0M45,31.4h0M44.8,34.6h0M44.3,34.4h0M44.7,36.6h0M44.6,29.1h0M44.6,35.2h0M44.4,37.8h0M44.5,36.8h0M44.6,27.2h0M44.4,24h0M44.8,35.5h0M44.5,34.2h0M44.5,34.7h0M44.4,33.4h0M44.5,34.1h0M45,39h0M44.5,31.7h0M44.4,25.5h0M44.6,39.2h0M45,35h0M44.4,38.3h0M44.6,33.2h0M44.5,37.6h0M44.8,40.5h0M44.6,28.3h0M44.4,35.4h0M44.9,44.3h0M44.5,45.6h0M44.8,26h0M44.6,32.2h0M44.9,45.6h0" stroke-width="0.62"/></g>
<g stroke="#f39a2e"><path class="w" d="M49.9,22.8V27.9M49.9,32.3V38.6"/><rect class="b2" x="48.2" y="27.9" width="3.4" height="4.4"/><path class="m" d="M48.0,30.1h3.8"/>
<path class="p" d="M49.6,26.1h0M49.7,24.6h0M49.7,38.6h0M49.7,28h0M50.1,32.2h0M49.9,31.3h0M49.8,31.6h0M49.9,26.2h0M50.1,31.7h0M49.9,25.6h0M49.8,31.9h0M50,31h0M49.9,28.9h0M49.8,25.9h0M49.8,28.6h0M49.6,30.9h0M49.8,27.9h0M50.1,36h0M49.7,26.7h0M49.8,27.8h0M49.9,26.8h0M49.9,33.4h0M49.6,32.4h0M49.8,31.7h0M50,27.7h0M49.5,28.1h0M49.6,31.7h0M50,26.2h0M50.1,25.3h0M49.6,27.6h0M49.6,29h0M50,26.6h0M49.7,28.6h0M50,29h0M49.5,28.6h0M49.8,27.1h0M49.6,23.6h0M49.7,31.2h0M50,28.7h0M49.9,30.9h0M50.1,32.9h0M50.1,33.1h0M49.9,31.3h0M50.1,26.3h0M49.6,35.9h0M49.8,33.9h0M49.7,31h0M50,26.8h0M49.6,28.5h0M50.1,31.1h0" stroke-width="0.62"/></g>
</g>
<rect x="337.7" y="245.90" width="53.0" height="51.4" fill="none" stroke="#222" stroke-width="0.9"/>
<rect x="337.7" y="239.3" width="53.0" height="6.6" fill="#0f9d6e" stroke="#222" stroke-width="0.9"/>
<text x="364.2" y="244.5" font-size="5.1" text-anchor="middle" fill="#1a1a1a">#2 − genes: 50</text>
<g transform="translate(392.85,245.90)">
<rect width="53.0" height="51.4" fill="#fff"/>
<g fill="none" stroke-width="0.3" opacity="0.16">
<path d="M3.1,31.2l5.2,-15.8M3.1,18.5l5.2,-13.3M3.1,14.1l5.2,-10.5M3.1,29l5.2,.2M3.1,33l5.2,-1.8M3.1,20.9l5.2,-13.6M3.1,19.1l5.2,7.1M3.1,30.8l5.2,-14.5M3.1,26.4l5.2,-11.2M3.1,33.5l5.2,-2.3M3.1,30.1l5.2,-.7" stroke="#6b97c4"/>
<path d="M8.3,15.4l5.2,5M8.3,5.2l5.2,3.5M8.3,3.6l5.2,3.5M8.3,29.3l5.2,-9.7M8.3,31.2l5.2,-8.9M8.3,7.3l5.2,6.5M8.3,26.2l5.2,-13.7M8.3,16.3l5.2,.8M8.3,15.3l5.2,3.6M8.3,31.2l5.2,-10.9M8.3,29.4l5.2,-8" stroke="#759372"/>
<path d="M13.5,20.3l5.2,9.4M13.5,8.7l5.2,6.1M13.5,7.1l5.2,4.5M13.5,19.6l5.2,9.5M13.5,22.4l5.2,6.8M13.5,13.8l5.2,-2.2M13.5,12.5l5.2,12.7M13.5,17.1l5.2,7.2M13.5,18.9l5.2,6.5M13.5,20.3l5.2,10.5M13.5,21.4l5.2,3.5" stroke="#90d5f0"/>
<path d="M18.7,29.8l5.2,3.4M18.7,14.8l5.2,11.2M18.7,11.6l5.2,16.1M18.7,29.1l5.2,3.5M18.7,29.1l5.2,5.1M18.7,11.6l5.2,16.2M18.7,25.2l5.2,3.9M18.7,24.3l5.2,6.4M18.7,25.5l5.2,5.8M18.7,30.8l5.2,3.1M18.7,24.9l5.2,8.8" stroke="#e6a29e"/>
<path d="M23.9,33.2l5.2,-1M23.9,26.1l5.2,1.8M23.9,27.7l5.2,-3.8M23.9,32.5l5.2,2.4M23.9,34.3l5.2,.1M23.9,27.9l5.2,2.8M23.9,29.1l5.2,-1.2M23.9,30.6l5.2,1.3M23.9,31.2l5.2,1.2M23.9,33.9l5.2,-.9M23.9,33.7l5.2,-1" stroke="#f6a16e"/>
<path d="M29.1,32.2l5.2,8.9M29.1,27.9l5.2,4.5M29.1,23.9l5.2,8.5M29.1,34.9l5.2,4.2M29.1,34.3l5.2,8.3M29.1,30.7l5.2,1.8M29.1,28l5.2,4.5M29.1,31.9l5.2,1.3M29.1,32.4l5.2,4.8M29.1,33l5.2,8.1M29.1,32.6l5.2,10.8" stroke="#717171"/>
<path d="M34.3,41.1l5.2,-9.5M34.3,32.5l5.2,-15.9M34.3,32.5l5.2,-19.6M34.3,39.1l5.2,-14M34.3,42.6l5.2,-11.1M34.3,32.5l5.2,-12.6M34.3,32.5l5.2,-14.7M34.3,33.3l5.2,-7M34.3,37.2l5.2,-16.4M34.3,41l5.2,-9.5M34.3,43.4l5.2,-11.8" stroke="#897466"/>
<path d="M39.5,31.6l5.2,1.7M39.5,16.6l5.2,8.9M39.5,12.8l5.2,12.6M39.5,25.1l5.2,7.2M39.5,31.6l5.2,1.1M39.5,19.9l5.2,8.3M39.5,17.7l5.2,13.9M39.5,26.3l5.2,5.2M39.5,20.8l5.2,6.1M39.5,31.6l5.2,1.3M39.5,31.6l5.2,-3.3" stroke="#89a8d5"/>
<path d="M44.7,33.3l5.2,.8M44.7,25.4l5.2,5.9M44.7,25.4l5.2,5.9M44.7,32.3l5.2,3.9M44.7,32.7l5.2,5M44.7,28.2l5.2,3.8M44.7,31.6l5.2,2M44.7,31.6l5.2,3M44.7,26.9l5.2,6M44.7,32.9l5.2,2.5M44.7,28.3l5.2,7.6" stroke="#f9d97a"/>
</g>
<g stroke="#1c5fa5"><path class="w" d="M3.1,14.1V23.2M3.1,30.7V33.5"/><rect class="b" x="1.4" y="23.2" width="3.4" height="7.5"/><path class="m" d="M1.2,28.6h3.8"/>
<path class="p" d="M2.8,31.2h0M3.3,18.5h0M3,14.1h0M3.1,29h0M3.1,33h0M3.3,20.9h0M3,19.1h0M3.1,30.8h0M3.2,26.4h0M3.2,33.5h0M3,30.1h0" stroke-width="0.62"/></g>
<g stroke="#2b5a27"><path class="w" d="M8.3,3.6V10.0M8.3,24.9V31.2"/><rect class="b" x="6.6" y="10.0" width="3.4" height="15.0"/><path class="m" d="M6.4,15.8h3.8"/>
<path class="p" d="M8.1,15.4h0M8.3,5.2h0M8.4,3.6h0M8.4,29.3h0M8,31.2h0M8.3,7.3h0M8.3,26.2h0M8.1,16.3h0M8,15.3h0M8.6,31.2h0M8,29.4h0" stroke-width="0.62"/></g>
<g stroke="#55bfe8"><path class="w" d="M13.5,7.1V15.1M13.5,21.4V25.4"/><rect class="b" x="11.8" y="15.1" width="3.4" height="6.3"/><path class="m" d="M11.6,19.5h3.8"/>
<path class="p" d="M13.5,20.3h0M13.3,8.7h0M13.2,7.1h0M13.3,19.6h0M13.3,22.4h0M13.4,13.8h0M13.8,12.5h0M13.2,17.1h0M13.4,18.9h0M13.6,20.3h0M13.6,21.4h0" stroke-width="0.62"/></g>
<g stroke="#d9706b"><path class="w" d="M18.7,11.6V21.9M18.7,29.3V31.6"/><rect class="b" x="17.0" y="21.9" width="3.4" height="7.4"/><path class="m" d="M16.8,27.2h3.8"/>
<path class="p" d="M18.4,29.8h0M18.5,14.8h0M18.5,11.6h0M19,29.1h0M18.6,29.1h0M18.5,11.6h0M18.7,25.2h0M18.7,24.3h0M18.4,25.5h0M18.8,30.8h0M18.8,24.9h0" stroke-width="0.62"/></g>
<g stroke="#f26f21"><path class="w" d="M23.9,26.1V29.5M23.9,32.7V35.2"/><rect class="b" x="22.2" y="29.5" width="3.4" height="3.2"/><path class="m" d="M22.0,31.6h3.8"/>
<path class="p" d="M23.9,33.2h0M23.9,26.1h0M24.1,27.7h0M24.2,32.5h0M24,34.3h0M23.6,27.9h0M23.9,29.1h0M24,30.6h0M23.8,31.2h0M24,33.9h0M23.8,33.7h0" stroke-width="0.62"/></g>
<g stroke="#262626"><path class="w" d="M29.1,23.7V28.9M29.1,32.7V35.2"/><rect class="b" x="27.4" y="28.9" width="3.4" height="3.8"/><path class="m" d="M27.2,31.0h3.8"/>
<path class="p" d="M29.2,32.2h0M29.2,27.9h0M29.2,23.9h0M29.4,34.9h0M29.2,34.3h0M29.2,30.7h0M29.2,28h0M28.9,31.9h0M29.2,32.4h0M29.2,33h0M28.8,32.6h0" stroke-width="0.62"/></g>
<g stroke="#4a2a14"><path class="w" d="M34.3,32.5V33.0M34.3,40.3V43.4"/><rect class="b" x="32.6" y="33.0" width="3.4" height="7.4"/><path class="m" d="M32.4,36.0h3.8"/>
<path class="p" d="M34.5,41.1h0M34.1,32.5h0M34.3,32.5h0M34.3,39.1h0M34.4,42.6h0M34.5,32.5h0M34.3,32.5h0M34.6,33.3h0M34.2,37.2h0M34.3,41h0M34.6,43.4h0" stroke-width="0.62"/></g>
<g stroke="#4a7abf"><path class="w" d="M39.5,12.8V16.9M39.5,28.9V31.6"/><rect class="b" x="37.8" y="16.9" width="3.4" height="12.1"/><path class="m" d="M37.6,20.9h3.8"/>
<path class="p" d="M39.3,31.6h0M39.6,16.6h0M39.8,12.8h0M39.2,25.1h0M39.7,31.6h0M39.6,19.9h0M39.5,17.7h0M39.7,26.3h0M39.7,20.8h0M39.2,31.6h0M39.5,31.6h0" stroke-width="0.62"/></g>
<g stroke="#f7c633"><path class="w" d="M44.7,25.4V27.8M44.7,32.5V34.6"/><rect class="b" x="43.0" y="27.8" width="3.4" height="4.6"/><path class="m" d="M42.8,31.2h3.8"/>
<path class="p" d="M44.7,33.3h0M44.8,25.4h0M45,25.4h0M44.9,32.3h0M44.9,32.7h0M44.4,28.2h0M44.6,31.6h0M45,31.6h0M45,26.9h0M44.8,32.9h0M44.6,28.3h0" stroke-width="0.62"/></g>
<g stroke="#f39a2e"><path class="w" d="M49.9,30.7V32.5M49.9,34.6V37.7"/><rect class="b" x="48.2" y="32.5" width="3.4" height="2.2"/><path class="m" d="M48.0,33.3h3.8"/>
<path class="p" d="M50.1,34.1h0M49.9,31.4h0M50,31.4h0M50,36.3h0M50.1,37.7h0M50,31.9h0M50.2,33.7h0M49.9,34.5h0M49.9,32.9h0M50,35.4h0M49.9,35.8h0" stroke-width="0.62"/></g>
</g>
<rect x="392.85" y="245.90" width="53.0" height="51.4" fill="none" stroke="#222" stroke-width="0.9"/>
<rect x="392.85" y="239.3" width="53.0" height="6.6" fill="#e2611f" stroke="#222" stroke-width="0.9"/>
<text x="419.4" y="244.5" font-size="5.1" text-anchor="middle" fill="#1a1a1a">#3 − genes: 11</text>
<g transform="translate(448.05,245.90)">
<rect width="53.0" height="51.4" fill="#fff"/>
<g fill="none" stroke-width="0.3" opacity="0.16">
<path d="M3.1,32.9l5.2,-3M3.1,29.9l5.2,-3.1M3.1,31.2l5.2,.2M3.1,33.1l5.2,4.2M3.1,30l5.2,.8M3.1,31.1l5.2,-1.8M3.1,32.2l5.2,-2M3.1,30.9l5.2,-1.4M3.1,32.2l5.2,1.7M3.1,32.9l5.2,2.8M3.1,32.3l5.2,-1.1M3.1,32.7l5.2,-.2M3.1,29.7l5.2,.8M3.1,35.1l5.2,4.2" stroke="#6b97c4"/>
<path d="M8.3,29.9l5.2,7.7M8.3,26.9l5.2,4.7M8.3,31.4l5.2,5.9M8.3,37.3l5.2,.7M8.3,30.8l5.2,4.6M8.3,29.3l5.2,4.4M8.3,30.2l5.2,7.7M8.3,29.5l5.2,7M8.3,33.9l5.2,10M8.3,35.7l5.2,2.3M8.3,31.2l5.2,2.4M8.3,32.5l5.2,10.7M8.3,30.6l5.2,3M8.3,39.3l5.2,4.5" stroke="#759372"/>
<path d="M13.5,37.6l5.2,-7.7M13.5,31.6l5.2,-8.8M13.5,37.3l5.2,-9.6M13.5,38l5.2,-5.9M13.5,35.4l5.2,-9.8M13.5,33.7l5.2,-3.2M13.5,37.9l5.2,-9.7M13.5,36.6l5.2,-7M13.5,43.9l5.2,-13.3M13.5,38l5.2,-8.6M13.5,33.7l5.2,-8.5M13.5,43.2l5.2,-11.9M13.5,33.6l5.2,-10.7M13.5,43.8l5.2,-7.3" stroke="#90d5f0"/>
<path d="M18.7,29.9l5.2,-5.9M18.7,22.8l5.2,-1.9M18.7,27.8l5.2,-3.9M18.7,32.1l5.2,-7M18.7,25.6l5.2,-1.7M18.7,30.6l5.2,-3.9M18.7,28.2l5.2,-2.2M18.7,29.6l5.2,-4.2M18.7,30.7l5.2,-3.2M18.7,29.4l5.2,-2.3M18.7,25.1l5.2,-3.2M18.7,31.3l5.2,-6.1M18.7,22.8l5.2,.1M18.7,36.5l5.2,-7.7" stroke="#e6a29e"/>
<path d="M23.9,24l5.2,1.8M23.9,20.9l5.2,.8M23.9,23.9l5.2,2.3M23.9,25.1l5.2,3M23.9,23.9l5.2,-1.3M23.9,26.6l5.2,-.4M23.9,26l5.2,.1M23.9,25.4l5.2,-1.6M23.9,27.5l5.2,2.4M23.9,27.1l5.2,.4M23.9,21.9l5.2,.3M23.9,25.2l5.2,-.5M23.9,22.9l5.2,1.6M23.9,28.7l5.2,4.8" stroke="#f6a16e"/>
<path d="M29.1,25.8l5.2,-7.3M29.1,21.7l5.2,-5.8M29.1,26.1l5.2,-7.2M29.1,28l5.2,-7.3M29.1,22.7l5.2,-2.4M29.1,26.3l5.2,-7.7M29.1,26.1l5.2,-5.2M29.1,23.8l5.2,-4.9M29.1,29.9l5.2,3.1M29.1,27.5l5.2,-.9M29.1,22.2l5.2,-6M29.1,24.7l5.2,-5M29.1,24.5l5.2,-7.2M29.1,33.5l5.2,-.5" stroke="#717171"/>
<path d="M34.3,18.5l5.2,6.6M34.3,15.8l5.2,1.3M34.3,18.9l5.2,9.9M34.3,20.8l5.2,16M34.3,20.3l5.2,4.4M34.3,18.6l5.2,4.1M34.3,20.9l5.2,2.7M34.3,18.9l5.2,5.4M34.3,33l5.2,-.1M34.3,26.6l5.2,2M34.3,16.3l5.2,7.7M34.3,19.7l5.2,6.2M34.3,17.4l5.2,6.5M34.3,33l5.2,-1.1" stroke="#897466"/>
<path d="M39.5,25.1l5.2,-10.8M39.5,17.1l5.2,-8.3M39.5,28.9l5.2,-16M39.5,36.8l5.2,-23.5M39.5,24.6l5.2,-13.4M39.5,22.7l5.2,-8.7M39.5,23.7l5.2,-7.2M39.5,24.2l5.2,-11.9M39.5,32.9l5.2,-18M39.5,28.6l5.2,-12.6M39.5,24l5.2,-14.3M39.5,26l5.2,-13.1M39.5,23.8l5.2,-13.5M39.5,31.8l5.2,-11" stroke="#89a8d5"/>
<path d="M44.7,14.4l5.2,2.3M44.7,8.8l5.2,5.2M44.7,12.9l5.2,2.2M44.7,13.3l5.2,3M44.7,11.2l5.2,4.7M44.7,14l5.2,2M44.7,16.5l5.2,3M44.7,12.3l5.2,1.9M44.7,14.9l5.2,2.1M44.7,16l5.2,1.2M44.7,9.7l5.2,4.7M44.7,12.9l5.2,4M44.7,10.3l5.2,6.2M44.7,20.8l5.2,.7" stroke="#f9d97a"/>
</g>
<g stroke="#1c5fa5"><path class="w" d="M3.1,27.8V31.2M3.1,33.5V36.0"/><rect class="b" x="1.4" y="31.2" width="3.4" height="2.3"/><path class="m" d="M1.2,32.5h3.8"/>
<path class="p" d="M3.3,32.9h0M3,29.9h0M2.9,31.2h0M2.9,33.1h0M2.8,30h0M2.8,31.1h0M3.4,32.2h0M3.4,30.9h0M3,32.2h0M3,32.9h0M2.9,32.3h0M3.3,32.7h0M3.1,29.7h0M2.9,35.1h0" stroke-width="0.62"/></g>
<g stroke="#2b5a27"><path class="w" d="M8.3,21.4V31.2M8.3,36.8V44.7"/><rect class="b" x="6.6" y="31.2" width="3.4" height="5.6"/><path class="m" d="M6.4,34.4h3.8"/>
<path class="p" d="M8.6,29.9h0M8.6,26.9h0M8,31.4h0M8.3,37.3h0M8.1,30.8h0M8.4,29.3h0M8.2,30.2h0M8.2,29.5h0M8.2,33.9h0M8.4,35.7h0M8.3,31.2h0M8.3,32.5h0M8.4,30.6h0M8.3,39.3h0" stroke-width="0.62"/></g>
<g stroke="#55bfe8"><path class="w" d="M13.5,31.6V36.0M13.5,41.2V44.7"/><rect class="b" x="11.8" y="36.0" width="3.4" height="5.2"/><path class="m" d="M11.6,38.1h3.8"/>
<path class="p" d="M13.8,37.6h0M13.4,31.6h0M13.7,37.3h0M13.8,38h0M13.6,35.4h0M13.6,33.7h0M13.7,37.9h0M13.6,36.6h0M13.3,43.9h0M13.4,38h0M13.3,33.7h0M13.2,43.2h0M13.6,33.6h0M13.4,43.8h0" stroke-width="0.62"/></g>
<g stroke="#d9706b"><path class="w" d="M18.7,22.8V27.2M18.7,33.0V37.7"/><rect class="b" x="17.0" y="27.2" width="3.4" height="5.8"/><path class="m" d="M16.8,30.1h3.8"/>
<path class="p" d="M18.5,29.9h0M18.4,22.8h0M18.4,27.8h0M18.8,32.1h0M18.6,25.6h0M18.6,30.6h0M18.8,28.2h0M19,29.6h0M18.8,30.7h0M18.5,29.4h0M19,25.1h0M18.5,31.3h0M18.7,22.8h0M18.8,36.5h0" stroke-width="0.62"/></g>
<g stroke="#f26f21"><path class="w" d="M23.9,20.9V24.3M23.9,27.2V30.7"/><rect class="b" x="22.2" y="24.3" width="3.4" height="2.9"/><path class="m" d="M22.0,26.1h3.8"/>
<path class="p" d="M23.7,24h0M24.2,20.9h0M24,23.9h0M24,25.1h0M23.6,23.9h0M24.1,26.6h0M23.7,26h0M24,25.4h0M24,27.5h0M23.8,27.1h0M23.7,21.9h0M23.8,25.2h0M24.2,22.9h0M24,28.7h0" stroke-width="0.62"/></g>
<g stroke="#262626"><path class="w" d="M29.1,20.9V24.6M29.1,29.5V33.5"/><rect class="b" x="27.4" y="24.6" width="3.4" height="4.9"/><path class="m" d="M27.2,26.6h3.8"/>
<path class="p" d="M29.1,25.8h0M29.1,21.7h0M29.2,26.1h0M28.9,28h0M28.8,22.7h0M28.8,26.3h0M29.1,26.1h0M29.1,23.8h0M29.4,29.9h0M29.2,27.5h0M29.3,22.2h0M29.4,24.7h0M29.1,24.5h0M29,33.5h0" stroke-width="0.62"/></g>
<g stroke="#4a2a14"><path class="w" d="M34.3,15.8V19.8M34.3,31.6V33.0"/><rect class="b" x="32.6" y="19.8" width="3.4" height="11.8"/><path class="m" d="M32.4,21.9h3.8"/>
<path class="p" d="M34.3,18.5h0M34.2,15.8h0M34.5,18.9h0M34.3,20.8h0M34,20.3h0M34.6,18.6h0M34.3,20.9h0M34.5,18.9h0M34.3,33h0M34.3,26.6h0M34.3,16.3h0M34,19.7h0M34,17.4h0M34.4,33h0" stroke-width="0.62"/></g>
<g stroke="#4a7abf"><path class="w" d="M39.5,14.5V25.4M39.5,32.5V36.8"/><rect class="b" x="37.8" y="25.4" width="3.4" height="7.0"/><path class="m" d="M37.6,28.1h3.8"/>
<path class="p" d="M39.4,25.1h0M39.2,17.1h0M39.7,28.9h0M39.6,36.8h0M39.7,24.6h0M39.4,22.7h0M39.2,23.7h0M39.7,24.2h0M39.3,32.9h0M39.6,28.6h0M39.6,24h0M39.3,26h0M39.1,23.8h0M39.5,31.8h0" stroke-width="0.62"/></g>
<g stroke="#f7c633"><path class="w" d="M44.7,8.8V12.0M44.7,15.8V23.2"/><rect class="b" x="43.0" y="12.0" width="3.4" height="3.8"/><path class="m" d="M42.8,13.4h3.8"/>
<path class="p" d="M44.9,14.4h0M44.7,8.8h0M45,12.9h0M44.5,13.3h0M44.8,11.2h0M44.6,14h0M44.7,16.5h0M44.5,12.3h0M44.5,14.9h0M44.7,16h0M44.7,9.7h0M45,12.9h0M44.7,10.3h0M44.7,20.8h0" stroke-width="0.62"/></g>
<g stroke="#f39a2e"><path class="w" d="M49.9,10.6V15.8M49.9,18.4V24.9"/><rect class="b" x="48.2" y="15.8" width="3.4" height="2.6"/><path class="m" d="M48.0,16.9h3.8"/>
<path class="p" d="M50,16.6h0M50,14h0M49.8,15.1h0M49.7,16.4h0M50,16h0M49.8,16.1h0M49.5,19.5h0M49.6,14.3h0M49.8,17h0M50,17.2h0M50,14.4h0M49.9,16.9h0M50.1,16.5h0M49.7,21.5h0" stroke-width="0.62"/></g>
</g>
<rect x="448.05" y="245.90" width="53.0" height="51.4" fill="none" stroke="#222" stroke-width="0.9"/>
<rect x="448.05" y="239.3" width="53.0" height="6.6" fill="#6c62b5" stroke="#222" stroke-width="0.9"/>
<text x="474.6" y="244.5" font-size="5.1" text-anchor="middle" fill="#1a1a1a">#4 − genes: 14</text>
<g transform="translate(282.6,306.35)">
<rect width="53.0" height="51.4" fill="#fff"/>
<g fill="none" stroke-width="0.3" opacity="0.16">
<path d="M3.1,42.2l5.2,-6.2M3.1,43.9l5.2,-7M3.1,35.9l5.2,-2.4M3.1,41.9l5.2,-4.7M3.1,39.9l5.2,-1.4M3.1,35.6l5.2,.9M3.1,44.3l5.2,-6.7M3.1,46.5l5.2,-5.7M3.1,41.7l5.2,-3.7M3.1,37l5.2,-1.6M3.1,46.4l5.2,-10.8M3.1,35.4l5.2,-2.2M3.1,41.1l5.2,-2.1M3.1,34.8l5.2,.2M3.1,37.8l5.2,1.8M3.1,44.8l5.2,-3.3M3.1,44.3l5.2,-2.2M3.1,35.2l5.2,-1.7M3.1,37.3l5.2,2.4M3.1,42.5l5.2,-2.7M3.1,37.7l5.2,.1" stroke="#6b97c4"/>
<path d="M8.3,36l5.2,-4.5M8.3,36.8l5.2,-2.9M8.3,33.6l5.2,-7.7M8.3,37.1l5.2,-8.5M8.3,38.5l5.2,-5.9M8.3,36.5l5.2,-7.3M8.3,37.6l5.2,-9.2M8.3,40.7l5.2,-6.5M8.3,38l5.2,-9.1M8.3,35.4l5.2,-4.7M8.3,35.5l5.2,-3.7M8.3,33.2l5.2,-4.8M8.3,39.1l5.2,-5.9M8.3,35.1l5.2,-4.7M8.3,39.6l5.2,-7M8.3,41.5l5.2,-9.9M8.3,42.1l5.2,-7.9M8.3,33.5l5.2,-7.2M8.3,39.7l5.2,-8.5M8.3,39.9l5.2,-9.5M8.3,37.8l5.2,-11.7" stroke="#759372"/>
<path d="M13.5,31.5l5.2,-6.8M13.5,33.9l5.2,-9.6M13.5,25.9l5.2,-6.9M13.5,28.6l5.2,-4.9M13.5,32.6l5.2,-6.1M13.5,29.2l5.2,-4.5M13.5,28.4l5.2,-6.1M13.5,34.2l5.2,-6.6M13.5,29l5.2,-7.5M13.5,30.7l5.2,-9.5M13.5,31.8l5.2,-9.5M13.5,28.3l5.2,-5.2M13.5,33.1l5.2,-7.3M13.5,30.3l5.2,-10.1M13.5,32.6l5.2,-8.7M13.5,31.6l5.2,-8.6M13.5,34.2l5.2,-8M13.5,26.2l5.2,-5.3M13.5,31.2l5.2,-9.3M13.5,30.3l5.2,-4.9M13.5,26.1l5.2,-7.8" stroke="#90d5f0"/>
<path d="M18.7,24.7l5.2,5.4M18.7,24.4l5.2,2.8M18.7,19l5.2,3.3M18.7,23.8l5.2,4.6M18.7,26.5l5.2,1.8M18.7,24.6l5.2,.8M18.7,22.3l5.2,4.6M18.7,27.6l5.2,2.3M18.7,21.4l5.2,7M18.7,21.2l5.2,4.3M18.7,22.3l5.2,6.4M18.7,23.1l5.2,4.7M18.7,25.8l5.2,3.7M18.7,20.2l5.2,4.3M18.7,23.9l5.2,3.6M18.7,23l5.2,5M18.7,26.2l5.2,3.7M18.7,21l5.2,4.2M18.7,22l5.2,6.3M18.7,25.4l5.2,2.6M18.7,18.3l5.2,8.1" stroke="#e6a29e"/>
<path d="M23.9,30.2l5.2,-6.1M23.9,27.1l5.2,-8.3M23.9,22.3l5.2,-3.3M23.9,28.3l5.2,-9.3M23.9,28.4l5.2,-4.8M23.9,25.5l5.2,-9.2M23.9,27l5.2,-6M23.9,29.9l5.2,-5.7M23.9,28.4l5.2,-5.6M23.9,25.5l5.2,-6.2M23.9,28.7l5.2,-7.4M23.9,27.8l5.2,-10.2M23.9,29.6l5.2,-4.5M23.9,24.5l5.2,-10.6M23.9,27.4l5.2,-4.2M23.9,28l5.2,-5.5M23.9,29.9l5.2,-6.4M23.9,25.1l5.2,-8.7M23.9,28.3l5.2,-11.3M23.9,28.1l5.2,-5M23.9,26.4l5.2,-10.5" stroke="#f6a16e"/>
<path d="M29.1,24.1l5.2,-8.7M29.1,18.9l5.2,-.1M29.1,19l5.2,-10.2M29.1,19l5.2,1.7M29.1,23.6l5.2,-3.5M29.1,16.2l5.2,2M29.1,21l5.2,2.2M29.1,24.2l5.2,.8M29.1,22.8l5.2,-6.4M29.1,19.3l5.2,-2.8M29.1,21.3l5.2,1.3M29.1,17.6l5.2,-3.8M29.1,25l5.2,-2.6M29.1,13.9l5.2,-.3M29.1,23.3l5.2,-5.3M29.1,22.5l5.2,-7.8M29.1,23.5l5.2,1.5M29.1,16.5l5.2,-4.8M29.1,16.9l5.2,-8.1M29.1,23.1l5.2,-6.1M29.1,15.9l5.2,-2.3" stroke="#717171"/>
<path d="M34.3,15.4l5.2,19.8M34.3,18.8l5.2,15M34.3,8.8l5.2,18.8M34.3,20.7l5.2,11.7M34.3,20.1l5.2,18.1M34.3,18.3l5.2,13.5M34.3,23.2l5.2,8.6M34.3,25l5.2,13.2M34.3,16.4l5.2,16.2M34.3,16.5l5.2,12.4M34.3,22.6l5.2,8.3M34.3,13.8l5.2,16.9M34.3,22.4l5.2,12.5M34.3,13.6l5.2,17.1M34.3,18l5.2,16.5M34.3,14.7l5.2,18.4M34.3,25l5.2,13.2M34.3,11.7l5.2,15.7M34.3,8.8l5.2,26.4M34.3,16.9l5.2,17M34.3,13.6l5.2,19.5" stroke="#897466"/>
<path d="M39.5,35.2l5.2,-2.9M39.5,33.7l5.2,-4.9M39.5,27.7l5.2,-2.2M39.5,32.4l5.2,-7.4M39.5,38.2l5.2,-2.3M39.5,31.8l5.2,-6.9M39.5,31.8l5.2,-4.5M39.5,38.2l5.2,-2.3M39.5,32.6l5.2,-5.9M39.5,28.9l5.2,-4.8M39.5,31l5.2,-3.8M39.5,30.6l5.2,-4.7M39.5,35l5.2,-3.7M39.5,30.7l5.2,-6.8M39.5,34.4l5.2,-3.6M39.5,33.1l5.2,-4.8M39.5,38.2l5.2,-10.8M39.5,27.4l5.2,-2.3M39.5,35.3l5.2,-8.8M39.5,33.9l5.2,-8.6M39.5,33.1l5.2,-7" stroke="#89a8d5"/>
<path d="M44.7,32.2l5.2,-9.6M44.7,28.9l5.2,-5.5M44.7,25.5l5.2,-5.8M44.7,25l5.2,-1.6M44.7,35.9l5.2,-10.9M44.7,24.9l5.2,-4.6M44.7,27.3l5.2,-4.7M44.7,36l5.2,-10.1M44.7,26.7l5.2,-5.5M44.7,24.1l5.2,-2.8M44.7,27.2l5.2,-4.8M44.7,25.9l5.2,-4M44.7,31.2l5.2,-7.6M44.7,23.9l5.2,-3.8M44.7,30.8l5.2,-9.9M44.7,28.3l5.2,-6.6M44.7,27.4l5.2,-2.5M44.7,25.1l5.2,-4.5M44.7,26.4l5.2,-5.6M44.7,25.4l5.2,-2.3M44.7,26l5.2,-4.2" stroke="#f9d97a"/>
</g>
<g stroke="#1c5fa5"><path class="w" d="M3.1,34.8V37.1M3.1,42.2V46.5"/><rect class="b" x="1.4" y="37.1" width="3.4" height="5.2"/><path class="m" d="M1.2,38.5h3.8"/>
<path class="p" d="M3,42.2h0M3.1,43.9h0M3,35.9h0M3.2,41.9h0M3.4,39.9h0M3,35.6h0M3.1,44.3h0M3.1,46.5h0M3.2,41.7h0M2.9,37h0M2.9,46.4h0M3.4,35.4h0M2.9,41.1h0M3.2,34.8h0M2.9,37.8h0M3.1,44.8h0M3.1,44.3h0M2.9,35.2h0M2.9,37.3h0M3.4,42.5h0M2.8,37.7h0" stroke-width="0.62"/></g>
<g stroke="#2b5a27"><path class="w" d="M8.3,31.9V34.2M8.3,39.5V48.2"/><rect class="b" x="6.6" y="34.2" width="3.4" height="5.2"/><path class="m" d="M6.4,36.6h3.8"/>
<path class="p" d="M8,36h0M8.5,36.8h0M8.2,33.6h0M8.1,37.1h0M8.5,38.5h0M8.6,36.5h0M8.1,37.6h0M8.4,40.7h0M8.2,38h0M8.6,35.4h0M8.4,35.5h0M8.6,33.2h0M8.4,39.1h0M8,35.1h0M8.3,39.6h0M8.4,41.5h0M8.1,42.1h0M8,33.5h0M8.6,39.7h0M8.6,39.9h0M8.4,37.8h0" stroke-width="0.62"/></g>
<g stroke="#55bfe8"><path class="w" d="M13.5,24.6V28.1M13.5,32.5V34.2"/><rect class="b" x="11.8" y="28.1" width="3.4" height="4.4"/><path class="m" d="M11.6,29.3h3.8"/>
<path class="p" d="M13.2,31.5h0M13.6,33.9h0M13.8,25.9h0M13.7,28.6h0M13.6,32.6h0M13.4,29.2h0M13.6,28.4h0M13.8,34.2h0M13.5,29h0M13.2,30.7h0M13.2,31.8h0M13.8,28.3h0M13.6,33.1h0M13.8,30.3h0M13.2,32.6h0M13.2,31.6h0M13.6,34.2h0M13.4,26.2h0M13.5,31.2h0M13.3,30.3h0M13.7,26.1h0" stroke-width="0.62"/></g>
<g stroke="#d9706b"><path class="w" d="M18.7,16.4V20.7M18.7,24.6V30.7"/><rect class="b" x="17.0" y="20.7" width="3.4" height="3.8"/><path class="m" d="M16.8,22.4h3.8"/>
<path class="p" d="M18.9,24.7h0M18.8,24.4h0M18.6,19h0M18.7,23.8h0M18.6,26.5h0M18.7,24.6h0M18.6,22.3h0M18.7,27.6h0M19,21.4h0M18.9,21.2h0M18.4,22.3h0M18.8,23.1h0M18.9,25.8h0M18.6,20.2h0M19,23.9h0M19,23h0M18.4,26.2h0M18.8,21h0M18.6,22h0M18.7,25.4h0M18.7,18.3h0" stroke-width="0.62"/></g>
<g stroke="#f26f21"><path class="w" d="M23.9,18.7V25.4M23.9,28.8V34.2"/><rect class="b" x="22.2" y="25.4" width="3.4" height="3.3"/><path class="m" d="M22.0,27.2h3.8"/>
<path class="p" d="M24.1,30.2h0M24,27.1h0M24.2,22.3h0M23.7,28.3h0M24.1,28.4h0M23.8,25.5h0M23.7,27h0M24.1,29.9h0M23.9,28.4h0M23.7,25.5h0M24.2,28.7h0M23.9,27.8h0M24,29.6h0M24.2,24.5h0M23.8,27.4h0M23.9,28h0M23.9,29.9h0M23.7,25.1h0M23.9,28.3h0M24.2,28.1h0M24,26.4h0" stroke-width="0.62"/></g>
<g stroke="#262626"><path class="w" d="M29.1,10.1V16.4M29.1,22.4V25.0"/><rect class="b" x="27.4" y="16.4" width="3.4" height="6.0"/><path class="m" d="M27.2,19.1h3.8"/>
<path class="p" d="M28.9,24.1h0M29.2,18.9h0M29.2,19h0M29,19h0M29.2,23.6h0M29,16.2h0M29.3,21h0M29,24.2h0M29.3,22.8h0M28.9,19.3h0M28.9,21.3h0M29,17.6h0M28.8,25h0M29.3,13.9h0M29.4,23.3h0M29,22.5h0M28.9,23.5h0M29.3,16.5h0M29.3,16.9h0M28.9,23.1h0M28.9,15.9h0" stroke-width="0.62"/></g>
<g stroke="#4a2a14"><path class="w" d="M34.3,8.8V12.3M34.3,18.4V25.0"/><rect class="b" x="32.6" y="12.3" width="3.4" height="6.1"/><path class="m" d="M32.4,15.6h3.8"/>
<path class="p" d="M34.3,15.4h0M34,18.8h0M34.1,8.8h0M34.2,20.7h0M34,20.1h0M34,18.3h0M34.3,23.2h0M34.1,25h0M34.6,16.4h0M34.6,16.5h0M34.4,22.6h0M34.1,13.8h0M34.5,22.4h0M34.2,13.6h0M34.5,18h0M34.2,14.7h0M34.4,25h0M34.5,11.7h0M34.4,8.8h0M34.5,16.9h0M34.2,13.6h0" stroke-width="0.62"/></g>
<g stroke="#4a7abf"><path class="w" d="M39.5,24.6V29.8M39.5,35.3V38.2"/><rect class="b" x="37.8" y="29.8" width="3.4" height="5.5"/><path class="m" d="M37.6,32.3h3.8"/>
<path class="p" d="M39.2,35.2h0M39.4,33.7h0M39.8,27.7h0M39.1,32.4h0M39.3,38.2h0M39.3,31.8h0M39.4,31.8h0M39.7,38.2h0M39.2,32.6h0M39.2,28.9h0M39.1,31h0M39.4,30.6h0M39.6,35h0M39.4,30.7h0M39.6,34.4h0M39.5,33.1h0M39.4,38.2h0M39.4,27.4h0M39.2,35.3h0M39.8,33.9h0M39.6,33.1h0" stroke-width="0.62"/></g>
<g stroke="#f7c633"><path class="w" d="M44.7,17.0V24.7M44.7,29.8V36.0"/><rect class="b" x="43.0" y="24.7" width="3.4" height="5.2"/><path class="m" d="M42.8,25.6h3.8"/>
<path class="p" d="M44.4,32.2h0M44.5,28.9h0M44.9,25.5h0M44.7,25h0M44.8,35.9h0M44.8,24.9h0M44.4,27.3h0M44.9,36h0M44.5,26.7h0M44.4,24.1h0M44.8,27.2h0M44.9,25.9h0M44.5,31.2h0M44.6,23.9h0M44.8,30.8h0M44.5,28.3h0M44.6,27.4h0M45,25.1h0M44.4,26.4h0M45,25.4h0M44.9,26h0" stroke-width="0.62"/></g>
<g stroke="#f39a2e"><path class="w" d="M49.9,13.5V20.4M49.9,22.8V33.1"/><rect class="b" x="48.2" y="20.4" width="3.4" height="2.4"/><path class="m" d="M48.0,21.3h3.8"/>
<path class="p" d="M50.2,22.7h0M49.7,23.4h0M49.7,19.7h0M49.8,23.5h0M49.6,25h0M50.2,20.3h0M49.9,22.6h0M50.1,25.8h0M49.9,21.2h0M49.9,21.3h0M50.2,22.4h0M49.6,22h0M49.7,23.7h0M50.1,20.1h0M49.9,20.9h0M50.1,21.7h0M50.2,24.9h0M50.1,20.6h0M49.9,20.9h0M50,23.1h0M49.9,21.9h0" stroke-width="0.62"/></g>
</g>
<rect x="282.6" y="306.35" width="53.0" height="51.4" fill="none" stroke="#222" stroke-width="0.9"/>
<rect x="282.6" y="299.75" width="53.0" height="6.6" fill="#ee2a8c" stroke="#222" stroke-width="0.9"/>
<text x="309.1" y="304.9" font-size="5.1" text-anchor="middle" fill="#1a1a1a">#5 − genes: 21</text>
<path d="M282.6,307.3h-3" stroke="#222" stroke-width="0.7"/>
<text x="278.3" y="309.8" font-size="7.0" text-anchor="end" fill="#222">3</text>
<path d="M282.6,316.1h-3" stroke="#222" stroke-width="0.7"/>
<text x="278.3" y="318.6" font-size="7.0" text-anchor="end" fill="#222">2</text>
<path d="M282.6,324.8h-3" stroke="#222" stroke-width="0.7"/>
<text x="278.3" y="327.3" font-size="7.0" text-anchor="end" fill="#222">1</text>
<path d="M282.6,333.6h-3" stroke="#222" stroke-width="0.7"/>
<text x="278.3" y="336.1" font-size="7.0" text-anchor="end" fill="#222">0</text>
<path d="M282.6,342.3h-3" stroke="#222" stroke-width="0.7"/>
<text x="278.3" y="344.8" font-size="7.0" text-anchor="end" fill="#222">−1</text>
<path d="M282.6,351.1h-3" stroke="#222" stroke-width="0.7"/>
<text x="278.3" y="353.6" font-size="7.0" text-anchor="end" fill="#222">−2</text>
<g transform="translate(337.7,306.35)">
<rect width="53.0" height="51.4" fill="#fff"/>
<g fill="none" stroke-width="0.3" opacity="0.16">
<path d="M3.1,34.5l5.2,-6.5M3.1,31.7l5.2,-4.1M3.1,33.1l5.2,-6.7M3.1,33.7l5.2,-4M3.1,28.7l5.2,-2.2M3.1,32.6l5.2,-3M3.1,29.3l5.2,-4.7M3.1,32.2l5.2,-2.2M3.1,36l5.2,-5.6M3.1,31.9l5.2,-3.9M3.1,38.1l5.2,-8M3.1,35.7l5.2,-7M3.1,37.9l5.2,-6M3.1,31.8l5.2,-4.4M3.1,28.5l5.2,-5.7" stroke="#6b97c4"/>
<path d="M8.3,28.1l5.2,4.3M8.3,27.6l5.2,4.8M8.3,26.4l5.2,4.6M8.3,29.7l5.2,2.3M8.3,26.4l5.2,4.6M8.3,29.6l5.2,3.2M8.3,24.5l5.2,4.7M8.3,30l5.2,-.7M8.3,30.4l5.2,4.3M8.3,28l5.2,2.8M8.3,30.1l5.2,1.8M8.3,28.7l5.2,6M8.3,31.9l5.2,4M8.3,27.5l5.2,4.8M8.3,22.8l5.2,8" stroke="#759372"/>
<path d="M13.5,32.4l5.2,-10.1M13.5,32.4l5.2,-9M13.5,31l5.2,-13.4M13.5,32l5.2,-5.8M13.5,31l5.2,-18.7M13.5,32.8l5.2,-6.5M13.5,29.2l5.2,-15.2M13.5,29.3l5.2,-3.3M13.5,34.6l5.2,-6.4M13.5,30.8l5.2,-6.3M13.5,32l5.2,-2.1M13.5,34.6l5.2,-6.3M13.5,36l5.2,-2.9M13.5,32.2l5.2,-10.7M13.5,30.8l5.2,-18.5" stroke="#90d5f0"/>
<path d="M18.7,22.3l5.2,4.6M18.7,23.4l5.2,2.7M18.7,17.6l5.2,7M18.7,26.2l5.2,4.2M18.7,12.3l5.2,11.9M18.7,26.3l5.2,-3.1M18.7,14.1l5.2,10.3M18.7,26l5.2,-.9M18.7,28.2l5.2,1.7M18.7,24.5l5.2,4.4M18.7,29.9l5.2,.5M18.7,28.4l5.2,5.1M18.7,33.1l5.2,.5M18.7,21.6l5.2,4.3M18.7,12.3l5.2,12.1" stroke="#e6a29e"/>
<path d="M23.9,27l5.2,1.4M23.9,26.1l5.2,1.7M23.9,24.7l5.2,3.7M23.9,30.3l5.2,4.5M23.9,24.2l5.2,0M23.9,23.2l5.2,4.4M23.9,24.4l5.2,-1.2M23.9,25.1l5.2,6.9M23.9,29.9l5.2,2.9M23.9,28.9l5.2,1M23.9,30.4l5.2,2M23.9,33.4l5.2,.7M23.9,33.5l5.2,3.2M23.9,25.9l5.2,7.9M23.9,24.5l5.2,2.9" stroke="#f6a16e"/>
<path d="M29.1,28.3l5.2,8M29.1,27.8l5.2,7.4M29.1,28.3l5.2,4.6M29.1,34.8l5.2,7.1M29.1,24.3l5.2,7.9M29.1,27.6l5.2,4.9M29.1,23.1l5.2,9.7M29.1,32l5.2,9.1M29.1,32.8l5.2,7.6M29.1,29.8l5.2,7.5M29.1,32.5l5.2,7.1M29.1,34.2l5.2,6.7M29.1,36.7l5.2,5.5M29.1,33.8l5.2,1.2M29.1,27.4l5.2,3.9" stroke="#717171"/>
<path d="M34.3,36.3l5.2,-24.7M34.3,35.1l5.2,-26.9M34.3,33l5.2,-21.1M34.3,41.9l5.2,-33.4M34.3,32.1l5.2,-23.3M34.3,32.5l5.2,-21.9M34.3,32.8l5.2,-22.6M34.3,41.1l5.2,-30.5M34.3,40.4l5.2,-19.9M34.3,37.3l5.2,-26M34.3,39.6l5.2,-20.9M34.3,40.9l5.2,-23M34.3,42.2l5.2,-19M34.3,34.9l5.2,-20.8M34.3,31.3l5.2,-24.1" stroke="#897466"/>
<path d="M39.5,11.6l5.2,8.1M39.5,8.2l5.2,8.4M39.5,11.8l5.2,4.3M39.5,8.5l5.2,14.4M39.5,8.8l5.2,5.4M39.5,10.6l5.2,5.8M39.5,10.2l5.2,4.1M39.5,10.7l5.2,11.6M39.5,20.6l5.2,.3M39.5,11.4l5.2,5.2M39.5,18.7l5.2,5.2M39.5,17.9l5.2,1.5M39.5,23.3l5.2,.6M39.5,14.1l5.2,3.2M39.5,7.3l5.2,6.4" stroke="#89a8d5"/>
<path d="M44.7,19.7l5.2,10M44.7,16.6l5.2,11.6M44.7,16.2l5.2,12.9M44.7,22.8l5.2,8.5M44.7,14.2l5.2,13M44.7,16.4l5.2,12.4M44.7,14.3l5.2,14.4M44.7,22.3l5.2,8.3M44.7,20.9l5.2,13.1M44.7,16.6l5.2,15.4M44.7,23.9l5.2,7.5M44.7,19.4l5.2,13M44.7,23.9l5.2,11.4M44.7,17.3l5.2,14M44.7,13.6l5.2,17.6" stroke="#f9d97a"/>
</g>
<g stroke="#1c5fa5"><path class="w" d="M3.1,26.1V31.3M3.1,35.1V41.2"/><rect class="b" x="1.4" y="31.3" width="3.4" height="3.8"/><path class="m" d="M1.2,33.1h3.8"/>
<path class="p" d="M3.3,34.5h0M3.4,31.7h0M3,33.1h0M2.8,33.7h0M3.1,28.7h0M2.8,32.6h0M3.2,29.3h0M3.1,32.2h0M3.3,36h0M3.3,31.9h0M3.3,38.1h0M3.2,35.7h0M3,37.9h0M3.3,31.8h0M3.2,28.5h0" stroke-width="0.62"/></g>
<g stroke="#2b5a27"><path class="w" d="M8.3,19.3V26.1M8.3,29.8V31.9"/><rect class="b" x="6.6" y="26.1" width="3.4" height="3.7"/><path class="m" d="M6.4,28.1h3.8"/>
<path class="p" d="M8.1,28.1h0M8.6,27.6h0M8.3,26.4h0M8.3,29.7h0M8.1,26.4h0M8.5,29.6h0M8.3,24.5h0M8.5,30h0M8.5,30.4h0M8.3,28h0M8.4,30.1h0M8.3,28.7h0M8.1,31.9h0M8.5,27.5h0M8.6,22.8h0" stroke-width="0.62"/></g>
<g stroke="#55bfe8"><path class="w" d="M13.5,28.1V30.7M13.5,33.7V36.0"/><rect class="b" x="11.8" y="30.7" width="3.4" height="3.0"/><path class="m" d="M11.6,32.2h3.8"/>
<path class="p" d="M13.2,32.4h0M13.2,32.4h0M13.5,31h0M13.2,32h0M13.4,31h0M13.4,32.8h0M13.3,29.2h0M13.7,29.3h0M13.5,34.6h0M13.8,30.8h0M13.3,32h0M13.4,34.6h0M13.6,36h0M13.7,32.2h0M13.4,30.8h0" stroke-width="0.62"/></g>
<g stroke="#d9706b"><path class="w" d="M18.7,12.3V17.8M18.7,26.9V33.1"/><rect class="b" x="17.0" y="17.8" width="3.4" height="9.2"/><path class="m" d="M16.8,23.3h3.8"/>
<path class="p" d="M18.5,22.3h0M18.6,23.4h0M18.7,17.6h0M19,26.2h0M18.8,12.3h0M18.9,26.3h0M18.9,14.1h0M18.6,26h0M18.7,28.2h0M18.9,24.5h0M18.8,29.9h0M18.6,28.4h0M18.5,33.1h0M18.9,21.6h0M18.5,12.3h0" stroke-width="0.62"/></g>
<g stroke="#f26f21"><path class="w" d="M23.9,22.8V26.1M23.9,30.7V34.8"/><rect class="b" x="22.2" y="26.1" width="3.4" height="4.6"/><path class="m" d="M22.0,28.1h3.8"/>
<path class="p" d="M23.7,27h0M23.7,26.1h0M24,24.7h0M24,30.3h0M24.2,24.2h0M23.9,23.2h0M23.9,24.4h0M24.2,25.1h0M23.6,29.9h0M23.9,28.9h0M24.2,30.4h0M23.8,33.4h0M23.6,33.5h0M23.6,25.9h0M23.6,24.5h0" stroke-width="0.62"/></g>
<g stroke="#262626"><path class="w" d="M29.1,16.4V27.9M29.1,33.1V39.5"/><rect class="b" x="27.4" y="27.9" width="3.4" height="5.2"/><path class="m" d="M27.2,31.6h3.8"/>
<path class="p" d="M29.2,28.3h0M29,27.8h0M29.3,28.3h0M29.3,34.8h0M28.7,24.3h0M28.9,27.6h0M28.9,23.1h0M28.9,32h0M28.8,32.8h0M28.9,29.8h0M29,32.5h0M29,34.2h0M29.1,36.7h0M29.4,33.8h0M28.8,27.4h0" stroke-width="0.62"/></g>
<g stroke="#4a2a14"><path class="w" d="M34.3,31.3V33.7M34.3,39.2V42.2"/><rect class="b" x="32.6" y="33.7" width="3.4" height="5.5"/><path class="m" d="M32.4,35.7h3.8"/>
<path class="p" d="M34,36.3h0M34.6,35.1h0M34.1,33h0M34.3,41.9h0M34.1,32.1h0M34.6,32.5h0M34.6,32.8h0M34.3,41.1h0M34,40.4h0M34.2,37.3h0M34.4,39.6h0M34.3,40.9h0M34.1,42.2h0M34.2,34.9h0M34,31.3h0" stroke-width="0.62"/></g>
<g stroke="#4a7abf"><path class="w" d="M39.5,6.2V8.3M39.5,15.8V23.3"/><rect class="b" x="37.8" y="8.3" width="3.4" height="7.5"/><path class="m" d="M37.6,11.5h3.8"/>
<path class="p" d="M39.4,11.6h0M39.7,8.2h0M39.4,11.8h0M39.4,8.5h0M39.2,8.8h0M39.6,10.6h0M39.4,10.2h0M39.4,10.7h0M39.7,20.6h0M39.3,11.4h0M39.2,18.7h0M39.6,17.9h0M39.6,23.3h0M39.2,14.1h0M39.4,7.3h0" stroke-width="0.62"/></g>
<g stroke="#f7c633"><path class="w" d="M44.7,8.3V15.8M44.7,21.1V23.9"/><rect class="b" x="43.0" y="15.8" width="3.4" height="5.2"/><path class="m" d="M42.8,18.1h3.8"/>
<path class="p" d="M44.9,19.7h0M44.7,16.6h0M44.6,16.2h0M44.4,22.8h0M44.5,14.2h0M44.7,16.4h0M45,14.3h0M44.8,22.3h0M45,20.9h0M44.6,16.6h0M44.4,23.9h0M44.6,19.4h0M44.6,23.9h0M44.4,17.3h0M44.4,13.6h0" stroke-width="0.62"/></g>
<g stroke="#f39a2e"><path class="w" d="M49.9,26.8V29.8M49.9,32.5V40.0"/><rect class="b" x="48.2" y="29.8" width="3.4" height="2.6"/><path class="m" d="M48.0,31.3h3.8"/>
<path class="p" d="M50.2,29.6h0M50.1,28.2h0M49.6,29h0M49.6,31.3h0M50.2,27.2h0M49.6,28.8h0M49.7,28.7h0M49.7,30.5h0M49.7,34h0M49.5,32h0M49.8,31.4h0M50.1,32.4h0M49.6,35.3h0M49.9,31.3h0M49.6,31.2h0" stroke-width="0.62"/></g>
</g>
<rect x="337.7" y="306.35" width="53.0" height="51.4" fill="none" stroke="#222" stroke-width="0.9"/>
<rect x="337.7" y="299.75" width="53.0" height="6.6" fill="#4dab3b" stroke="#222" stroke-width="0.9"/>
<text x="364.2" y="304.9" font-size="5.1" text-anchor="middle" fill="#1a1a1a">#6 − genes: 15</text>
<g transform="translate(392.85,306.35)">
<rect width="53.0" height="51.4" fill="#fff"/>
<g fill="none" stroke-width="0.3" opacity="0.16">
<path d="M3.1,40.3l5.2,-7.2M3.1,37.8l5.2,-3.5M3.1,46.9l5.2,-6.8M3.1,39.4l5.2,-3.7M3.1,44.8l5.2,-9.5M3.1,36.3l5.2,-3.5M3.1,37.1l5.2,-1.2M3.1,34.9l5.2,-2M3.1,39l5.2,-5.2M3.1,39.6l5.2,-1.8M3.1,35.3l5.2,-4.9M3.1,40.6l5.2,-2.8M3.1,35.5l5.2,-1.3M3.1,42.4l5.2,-8.3M3.1,42.3l5.2,-5.3M3.1,44.2l5.2,-3.6M3.1,38.1l5.2,-.1" stroke="#6b97c4"/>
<path d="M8.3,33.1l5.2,-6.7M8.3,34.3l5.2,-13.7M8.3,40.1l5.2,-11.4M8.3,35.7l5.2,-18.2M8.3,35.3l5.2,-6.5M8.3,32.8l5.2,-10.8M8.3,35.9l5.2,-18.2M8.3,32.9l5.2,-12.5M8.3,33.8l5.2,-12M8.3,37.8l5.2,-14.8M8.3,30.4l5.2,-9.6M8.3,37.8l5.2,-9.7M8.3,34.2l5.2,-15.9M8.3,34.1l5.2,-5.7M8.3,37.1l5.2,-11.3M8.3,40.6l5.2,-14.8M8.3,38l5.2,-13.9" stroke="#759372"/>
<path d="M13.5,26.4l5.2,-11.2M13.5,20.6l5.2,-4.3M13.5,28.6l5.2,-8.3M13.5,17.5l5.2,-2.7M13.5,28.8l5.2,-11.3M13.5,22l5.2,-4.9M13.5,17.7l5.2,-2.1M13.5,20.3l5.2,-6.5M13.5,21.7l5.2,-4.2M13.5,23l5.2,-3M13.5,20.8l5.2,-6.4M13.5,28.1l5.2,-10.4M13.5,18.3l5.2,-4.9M13.5,28.4l5.2,-11.5M13.5,25.7l5.2,-8.8M13.5,25.8l5.2,-6M13.5,24.1l5.2,-6.5" stroke="#90d5f0"/>
<path d="M18.7,15.2l5.2,8.6M18.7,16.3l5.2,7.3M18.7,20.4l5.2,6.2M18.7,14.8l5.2,10.5M18.7,17.5l5.2,9.6M18.7,17.1l5.2,5.2M18.7,15.7l5.2,5.4M18.7,13.8l5.2,8.4M18.7,17.5l5.2,6.9M18.7,20l5.2,6.7M18.7,14.4l5.2,8.8M18.7,17.7l5.2,7M18.7,13.5l5.2,8.8M18.7,16.9l5.2,9M18.7,16.9l5.2,7.1M18.7,19.8l5.2,4.8M18.7,17.5l5.2,6.6" stroke="#e6a29e"/>
<path d="M23.9,23.8l5.2,.7M23.9,23.6l5.2,-1.1M23.9,26.5l5.2,9.4M23.9,25.3l5.2,-6.8M23.9,27.1l5.2,-8.7M23.9,22.4l5.2,-5.5M23.9,21.1l5.2,-11.4M23.9,22.1l5.2,-7.3M23.9,24.4l5.2,-8.4M23.9,26.7l5.2,-4.5M23.9,23.2l5.2,-11.3M23.9,24.7l5.2,-2.9M23.9,22.3l5.2,-9.5M23.9,26l5.2,1M23.9,24l5.2,-4.6M23.9,24.6l5.2,-3.6M23.9,24.1l5.2,-10.2" stroke="#f6a16e"/>
<path d="M29.1,24.4l5.2,-2.6M29.1,22.5l5.2,-7.6M29.1,36l5.2,-4.6M29.1,18.5l5.2,-1.3M29.1,18.4l5.2,5.2M29.1,16.8l5.2,.2M29.1,9.7l5.2,4.4M29.1,14.8l5.2,1.1M29.1,16l5.2,2M29.1,22.2l5.2,.9M29.1,11.9l5.2,3M29.1,21.8l5.2,3.6M29.1,12.8l5.2,1.3M29.1,27l5.2,-6M29.1,19.4l5.2,2M29.1,21l5.2,9.4M29.1,13.9l5.2,8.9" stroke="#717171"/>
<path d="M34.3,21.8l5.2,3M34.3,14.9l5.2,7.9M34.3,31.3l5.2,-1.1M34.3,17.1l5.2,1.2M34.3,23.6l5.2,6M34.3,17l5.2,5.8M34.3,14.1l5.2,7.5M34.3,15.9l5.2,6.2M34.3,18l5.2,2.3M34.3,23.1l5.2,6.5M34.3,14.9l5.2,5.3M34.3,25.5l5.2,1.9M34.3,14.1l5.2,5.3M34.3,21l5.2,5.6M34.3,21.4l5.2,3.7M34.3,30.4l5.2,-1.8M34.3,22.7l5.2,-.3" stroke="#897466"/>
<path d="M39.5,24.8l5.2,4.8M39.5,22.8l5.2,2.8M39.5,30.2l5.2,9.3M39.5,18.4l5.2,7.1M39.5,29.6l5.2,-1M39.5,22.9l5.2,3.7M39.5,21.6l5.2,8.4M39.5,22.1l5.2,3.7M39.5,20.3l5.2,6.2M39.5,29.6l5.2,.9M39.5,20.2l5.2,4.8M39.5,27.4l5.2,8.8M39.5,19.4l5.2,5.6M39.5,26.6l5.2,6M39.5,25.1l5.2,4.7M39.5,28.6l5.2,10.9M39.5,22.4l5.2,6.2" stroke="#89a8d5"/>
<path d="M44.7,29.7l5.2,2.2M44.7,25.6l5.2,5.4M44.7,39.5l5.2,-4.4M44.7,25.5l5.2,4.6M44.7,28.6l5.2,3.5M44.7,26.6l5.2,4.1M44.7,29.9l5.2,1.5M44.7,25.8l5.2,5M44.7,26.6l5.2,5.9M44.7,30.5l5.2,1.9M44.7,25l5.2,5.4M44.7,36.2l5.2,-3.5M44.7,25l5.2,6.9M44.7,32.6l5.2,.1M44.7,29.8l5.2,3.2M44.7,39.5l5.2,-4.1M44.7,28.6l5.2,2.1" stroke="#f9d97a"/>
</g>
<g stroke="#1c5fa5"><path class="w" d="M3.1,30.2V38.8M3.1,43.4V46.9"/><rect class="b" x="1.4" y="38.8" width="3.4" height="4.6"/><path class="m" d="M1.2,41.1h3.8"/>
<path class="p" d="M3.4,40.3h0M3.3,37.8h0M3.1,46.9h0M3.4,39.4h0M3.4,44.8h0M3.1,36.3h0M2.8,37.1h0M3.2,34.9h0M2.8,39h0M3,39.6h0M3.1,35.3h0M3.1,40.6h0M3.2,35.5h0M3.3,42.4h0M3.4,42.3h0M3,44.2h0M3.4,38.1h0" stroke-width="0.62"/></g>
<g stroke="#2b5a27"><path class="w" d="M8.3,26.1V33.1M8.3,37.7V43.0"/><rect class="b" x="6.6" y="33.1" width="3.4" height="4.6"/><path class="m" d="M6.4,35.1h3.8"/>
<path class="p" d="M8.2,33.1h0M8.2,34.3h0M8.5,40.1h0M8.6,35.7h0M8.3,35.3h0M8.5,32.8h0M8.5,35.9h0M8.2,32.9h0M8.4,33.8h0M8.6,37.8h0M8,30.4h0M8,37.8h0M8.6,34.2h0M8.3,34.1h0M8.2,37.1h0M8.5,40.6h0M8.3,38h0" stroke-width="0.62"/></g>
<g stroke="#55bfe8"><path class="w" d="M13.5,16.4V22.4M13.5,27.6V30.7"/><rect class="b" x="11.8" y="22.4" width="3.4" height="5.2"/><path class="m" d="M11.6,25.4h3.8"/>
<path class="p" d="M13.2,26.4h0M13.4,20.6h0M13.7,28.6h0M13.6,17.5h0M13.5,28.8h0M13.1,22h0M13.8,17.7h0M13.2,20.3h0M13.3,21.7h0M13.7,23h0M13.8,20.8h0M13.6,28.1h0M13.4,18.3h0M13.7,28.4h0M13.6,25.7h0M13.5,25.8h0M13.7,24.1h0" stroke-width="0.62"/></g>
<g stroke="#d9706b"><path class="w" d="M18.7,12.9V15.2M18.7,18.1V20.4"/><rect class="b" x="17.0" y="15.2" width="3.4" height="2.9"/><path class="m" d="M16.8,16.4h3.8"/>
<path class="p" d="M18.7,15.2h0M18.7,16.3h0M18.5,20.4h0M18.9,14.8h0M18.4,17.5h0M18.4,17.1h0M18.8,15.7h0M18.4,13.8h0M19,17.5h0M18.5,20h0M18.7,14.4h0M18.5,17.7h0M18.7,13.5h0M18.8,16.9h0M18.5,16.9h0M18.7,19.8h0M19,17.5h0" stroke-width="0.62"/></g>
<g stroke="#f26f21"><path class="w" d="M23.9,20.4V23.5M23.9,25.6V27.2"/><rect class="b" x="22.2" y="23.5" width="3.4" height="2.1"/><path class="m" d="M22.0,24.7h3.8"/>
<path class="p" d="M23.6,23.8h0M23.7,23.6h0M23.7,26.5h0M23.6,25.3h0M23.5,27.1h0M24.2,22.4h0M24.2,21.1h0M23.6,22.1h0M24.1,24.4h0M23.9,26.7h0M23.7,23.2h0M24.2,24.7h0M23.6,22.3h0M24,26h0M24,24h0M24,24.6h0M23.7,24.1h0" stroke-width="0.62"/></g>
<g stroke="#262626"><path class="w" d="M29.1,8.3V16.4M29.1,27.2V36.0"/><rect class="b" x="27.4" y="16.4" width="3.4" height="10.8"/><path class="m" d="M27.2,20.0h3.8"/>
<path class="p" d="M28.8,24.4h0M29.2,22.5h0M28.9,36h0M29.2,18.5h0M29.2,18.4h0M28.8,16.8h0M29.2,9.7h0M29.4,14.8h0M29,16h0M29.1,22.2h0M29,11.9h0M29.3,21.8h0M28.9,12.8h0M28.8,27h0M29.1,19.4h0M29,21h0M29.1,13.9h0" stroke-width="0.62"/></g>
<g stroke="#4a2a14"><path class="w" d="M34.3,14.1V17.6M34.3,25.6V31.3"/><rect class="b" x="32.6" y="17.6" width="3.4" height="8.1"/><path class="m" d="M32.4,20.6h3.8"/>
<path class="p" d="M34.1,21.8h0M34.6,14.9h0M34.3,31.3h0M34.2,17.1h0M34.4,23.6h0M34,17h0M34.6,14.1h0M34.5,15.9h0M34.1,18h0M34.2,23.1h0M34,14.9h0M34.5,25.5h0M34.6,14.1h0M34.3,21h0M34.6,21.4h0M34.3,30.4h0M34.5,22.7h0" stroke-width="0.62"/></g>
<g stroke="#4a7abf"><path class="w" d="M39.5,16.4V21.6M39.5,26.8V30.2"/><rect class="b" x="37.8" y="21.6" width="3.4" height="5.2"/><path class="m" d="M37.6,23.5h3.8"/>
<path class="p" d="M39.7,24.8h0M39.8,22.8h0M39.4,30.2h0M39.5,18.4h0M39.1,29.6h0M39.8,22.9h0M39.2,21.6h0M39.5,22.1h0M39.5,20.3h0M39.2,29.6h0M39.4,20.2h0M39.3,27.4h0M39.1,19.4h0M39.4,26.6h0M39.4,25.1h0M39.6,28.6h0M39.6,22.4h0" stroke-width="0.62"/></g>
<g stroke="#f7c633"><path class="w" d="M44.7,25.0V28.1M44.7,36.0V39.5"/><rect class="b" x="43.0" y="28.1" width="3.4" height="7.9"/><path class="m" d="M42.8,30.2h3.8"/>
<path class="p" d="M45,29.7h0M44.9,25.6h0M44.5,39.5h0M44.7,25.5h0M44.8,28.6h0M44.9,26.6h0M44.4,29.9h0M44.6,25.8h0M44.7,26.6h0M44.5,30.5h0M45,25h0M44.6,36.2h0M44.8,25h0M44.4,32.6h0M44.9,29.8h0M45,39.5h0M45,28.6h0" stroke-width="0.62"/></g>
<g stroke="#f39a2e"><path class="w" d="M49.9,25.6V31.1M49.9,33.1V38.8"/><rect class="b" x="48.2" y="31.1" width="3.4" height="1.9"/><path class="m" d="M48.0,31.9h3.8"/>
<path class="p" d="M49.8,31.9h0M50.1,31h0M50.2,35.1h0M49.6,30h0M49.6,32.1h0M50,30.7h0M50.2,31.4h0M49.5,30.9h0M50.1,32.4h0M50,32.5h0M49.8,30.5h0M49.6,32.7h0M49.9,31.9h0M49.9,32.6h0M49.7,33h0M50.1,35.4h0M50,30.8h0" stroke-width="0.62"/></g>
</g>
<rect x="392.85" y="306.35" width="53.0" height="51.4" fill="none" stroke="#222" stroke-width="0.9"/>
<rect x="392.85" y="299.75" width="53.0" height="6.6" fill="#2f78c4" stroke="#222" stroke-width="0.9"/>
<text x="419.4" y="304.9" font-size="5.1" text-anchor="middle" fill="#1a1a1a">#7 − genes: 17</text>
<g transform="translate(448.05,306.35)">
<rect width="53.0" height="51.4" fill="#fff"/>
<g fill="none" stroke-width="0.4" opacity="0.4">
<path d="M3.1,35.7l5.2,-4.1M3.1,34.1l5.2,.4M3.1,42.2l5.2,3.4M3.1,41.4l5.2,1M3.1,31l5.2,.4M3.1,39.2l5.2,.1M3.1,29.6l5.2,3.8M3.1,39.8l5.2,-4.6M3.1,34.1l5.2,-1.5M3.1,39.3l5.2,-7.6M3.1,34.7l5.2,-1.4M3.1,33.3l5.2,2M3.1,45.7l5.2,-7.1M3.1,38.7l5.2,.3M3.1,35.1l5.2,.5M3.1,38.9l5.2,-.9M3.1,40l5.2,-5.5M3.1,43.9l5.2,-.1M3.1,42.8l5.2,-2.1M3.1,37.8l5.2,-3.6M3.1,37l5.2,-1.3M3.1,36.3l5.2,-2.3M3.1,39.4l5.2,.4M3.1,42.9l5.2,-2.7M3.1,40.8l5.2,3.4M3.1,37.8l5.2,-2M3.1,42.5l5.2,-2.2M3.1,32.1l5.2,3.3M3.1,33.3l5.2,1.7M3.1,42.9l5.2,.9M3.1,35.4l5.2,-1M3.1,32.9l5.2,0M3.1,44.2l5.2,-5.4M3.1,38.7l5.2,-.4M3.1,36.4l5.2,-.9M3.1,34.6l5.2,-1M3.1,39.2l5.2,-.7M3.1,34l5.2,-4.9" stroke="#3e77b2"/>
<path d="M8.3,31.6l5.2,-2.1M8.3,34.5l5.2,-5.5M8.3,45.6l5.2,-4.5M8.3,42.3l5.2,-3.7M8.3,31.3l5.2,-8M8.3,39.3l5.2,-8.6M8.3,33.4l5.2,-5.7M8.3,35.1l5.2,-2.6M8.3,32.6l5.2,.9M8.3,31.7l5.2,-2.9M8.3,33.4l5.2,-3.8M8.3,35.2l5.2,-6.3M8.3,38.6l5.2,1M8.3,39l5.2,1.1M8.3,35.6l5.2,-11.1M8.3,38l5.2,-1.4M8.3,34.5l5.2,-.5M8.3,43.7l5.2,-5.2M8.3,40.8l5.2,-2.6M8.3,34.2l5.2,2.1M8.3,35.7l5.2,-3.5M8.3,34l5.2,1.4M8.3,39.7l5.2,-6.1M8.3,40.3l5.2,-2.3M8.3,44.2l5.2,-1.2M8.3,35.8l5.2,-3M8.3,40.3l5.2,-3.9M8.3,35.4l5.2,-5.4M8.3,34.9l5.2,-2.5M8.3,43.7l5.2,-.8M8.3,34.4l5.2,.7M8.3,32.9l5.2,-3.4M8.3,38.8l5.2,-.4M8.3,38.3l5.2,-8.5M8.3,35.5l5.2,-5.3M8.3,33.6l5.2,-1.8M8.3,38.5l5.2,-1.7M8.3,29.2l5.2,-5" stroke="#4a7247"/>
<path d="M13.5,29.5l5.2,-8.8M13.5,29l5.2,-1.3M13.5,41.1l5.2,-12.9M13.5,38.6l5.2,-11.8M13.5,23.3l5.2,-6.3M13.5,30.6l5.2,-5.4M13.5,27.7l5.2,-6.7M13.5,32.6l5.2,-7.6M13.5,33.5l5.2,-11.1M13.5,28.9l5.2,-1.6M13.5,29.5l5.2,-7.5M13.5,28.9l5.2,-7.3M13.5,39.6l5.2,-13.7M13.5,40.1l5.2,-9.8M13.5,24.5l5.2,-9.5M13.5,36.6l5.2,-9M13.5,34l5.2,-7.8M13.5,38.5l5.2,-9.1M13.5,38.1l5.2,-12.3M13.5,36.4l5.2,-7.7M13.5,32.1l5.2,-11.6M13.5,35.4l5.2,-13.5M13.5,33.7l5.2,-7M13.5,37.9l5.2,-12.2M13.5,43l5.2,-12.3M13.5,32.7l5.2,-10.5M13.5,36.4l5.2,-3.6M13.5,30l5.2,-9.3M13.5,32.4l5.2,-8.4M13.5,42.9l5.2,-8.7M13.5,35.1l5.2,-13.9M13.5,29.5l5.2,-7M13.5,38.4l5.2,-9M13.5,29.8l5.2,-9.8M13.5,30.2l5.2,-6.9M13.5,31.8l5.2,-6.7M13.5,36.8l5.2,-17.1M13.5,24.2l5.2,-5.6" stroke="#6ec8eb"/>
<path d="M18.7,20.7l5.2,7M18.7,27.7l5.2,-1.6M18.7,28.2l5.2,6.6M18.7,26.8l5.2,4.3M18.7,17l5.2,7.8M18.7,25.3l5.2,2.1M18.7,21l5.2,8M18.7,24.9l5.2,3.7M18.7,22.4l5.2,3.3M18.7,27.3l5.2,-1.1M18.7,22l5.2,3.7M18.7,21.6l5.2,6.4M18.7,25.9l5.2,6.1M18.7,30.3l5.2,1.3M18.7,15l5.2,10.2M18.7,27.7l5.2,3.3M18.7,26.2l5.2,4.3M18.7,29.5l5.2,5M18.7,25.8l5.2,7M18.7,28.7l5.2,.4M18.7,20.5l5.2,5.7M18.7,21.8l5.2,7.4M18.7,26.6l5.2,5.6M18.7,25.7l5.2,5.2M18.7,30.7l5.2,2.8M18.7,22.2l5.2,6.5M18.7,32.8l5.2,-2M18.7,20.7l5.2,4.4M18.7,24l5.2,4.7M18.7,34.2l5.2,-.7M18.7,21.2l5.2,6.6M18.7,22.5l5.2,4.7M18.7,29.4l5.2,2.1M18.7,20l5.2,6M18.7,23.3l5.2,4.1M18.7,25.1l5.2,1.8M18.7,19.7l5.2,10.3M18.7,18.6l5.2,9.4" stroke="#de8581"/>
<path d="M23.9,27.7l5.2,-7.7M23.9,26l5.2,-6M23.9,34.8l5.2,-2.5M23.9,31.1l5.2,-3.9M23.9,24.8l5.2,-6.3M23.9,27.3l5.2,-.9M23.9,29l5.2,-4.7M23.9,28.6l5.2,-4.3M23.9,25.7l5.2,-2.8M23.9,26.2l5.2,-5.2M23.9,25.7l5.2,-3.9M23.9,28l5.2,-6.1M23.9,32.1l5.2,.4M23.9,31.5l5.2,-4.6M23.9,25.2l5.2,-6M23.9,31l5.2,.7M23.9,30.5l5.2,-1.8M23.9,34.5l5.2,-4.1M23.9,32.8l5.2,1M23.9,29l5.2,1.1M23.9,26.2l5.2,-2.6M23.9,29.2l5.2,-4.9M23.9,32.3l5.2,-4.1M23.9,30.9l5.2,.9M23.9,33.5l5.2,-.6M23.9,28.8l5.2,-1.5M23.9,30.8l5.2,-2.1M23.9,25.1l5.2,-4.2M23.9,28.8l5.2,-9.5M23.9,33.5l5.2,1.3M23.9,27.8l5.2,2.9M23.9,27.2l5.2,1.1M23.9,31.4l5.2,-5M23.9,26l5.2,-.7M23.9,27.4l5.2,-5.4M23.9,26.9l5.2,.2M23.9,29.9l5.2,-5.6M23.9,28.1l5.2,-7.1" stroke="#f38442"/>
<path d="M29.1,20l5.2,-2.1M29.1,20.1l5.2,-.5M29.1,32.3l5.2,-4.5M29.1,27.2l5.2,-.9M29.1,18.5l5.2,-8M29.1,26.5l5.2,-5.5M29.1,24.3l5.2,-16.5M29.1,24.2l5.2,-4M29.1,22.9l5.2,-5.9M29.1,21.1l5.2,-11.7M29.1,21.8l5.2,-7.8M29.1,21.9l5.2,-9.1M29.1,32.4l5.2,-6.1M29.1,26.9l5.2,-.5M29.1,19.3l5.2,-6.9M29.1,31.7l5.2,-14.1M29.1,28.7l5.2,-8.7M29.1,30.4l5.2,-1.3M29.1,33.8l5.2,-8.6M29.1,30.2l5.2,-7.7M29.1,23.6l5.2,-10.7M29.1,24.3l5.2,.4M29.1,28.2l5.2,-.4M29.1,31.7l5.2,-6.6M29.1,32.9l5.2,-.4M29.1,27.3l5.2,-10.5M29.1,28.7l5.2,-4.2M29.1,20.9l5.2,-10.3M29.1,19.3l5.2,-8.4M29.1,34.8l5.2,-11.6M29.1,30.7l5.2,-15.4M29.1,28.3l5.2,-21.5M29.1,26.4l5.2,-.4M29.1,25.3l5.2,-5M29.1,21.9l5.2,-5.4M29.1,27.1l5.2,-10.6M29.1,24.3l5.2,-3.3M29.1,21l5.2,-14" stroke="#464646"/>
<path d="M34.3,17.9l5.2,4.9M34.3,19.6l5.2,4.2M34.3,27.8l5.2,6.5M34.3,26.2l5.2,3.6M34.3,10.5l5.2,5.2M34.3,21l5.2,5.9M34.3,7.8l5.2,8M34.3,20.2l5.2,8.5M34.3,17l5.2,10.6M34.3,9.4l5.2,16.9M34.3,14l5.2,2.3M34.3,12.9l5.2,8.4M34.3,26.3l5.2,1.9M34.3,26.4l5.2,4M34.3,12.4l5.2,.6M34.3,17.6l5.2,10.3M34.3,20l5.2,11.9M34.3,29.1l5.2,6.9M34.3,25.2l5.2,1M34.3,22.4l5.2,2.5M34.3,13l5.2,15.5M34.3,24.7l5.2,3.8M34.3,27.8l5.2,.2M34.3,25.1l5.2,4.3M34.3,32.5l5.2,2.8M34.3,16.8l5.2,9M34.3,24.5l5.2,5.7M34.3,10.6l5.2,10M34.3,10.9l5.2,9.5M34.3,23.3l5.2,7.9M34.3,15.3l5.2,10.1M34.3,6.8l5.2,15.1M34.3,26l5.2,3.5M34.3,20.3l5.2,-.2M34.3,16.5l5.2,7.3M34.3,16.5l5.2,4.5M34.3,21l5.2,3M34.3,7l5.2,7.3" stroke="#654937"/>
<path d="M39.5,22.8l5.2,-16.2M39.5,23.8l5.2,-10.6M39.5,34.3l5.2,-5.8M39.5,29.8l5.2,-7M39.5,15.7l5.2,-9.1M39.5,26.9l5.2,-16.1M39.5,15.8l5.2,3.9M39.5,28.7l5.2,-12.6M39.5,27.5l5.2,-12.8M39.5,26.3l5.2,-13.8M39.5,16.2l5.2,-8.9M39.5,21.3l5.2,-10.4M39.5,28.3l5.2,-7.3M39.5,30.4l5.2,-4M39.5,12.9l5.2,-.8M39.5,28l5.2,-6.2M39.5,31.9l5.2,-9M39.5,35.9l5.2,-15.1M39.5,26.2l5.2,-10M39.5,24.9l5.2,-7M39.5,28.4l5.2,-16M39.5,28.6l5.2,-10.9M39.5,28l5.2,-7.8M39.5,29.4l5.2,-12.9M39.5,35.3l5.2,-11.5M39.5,25.7l5.2,-14.6M39.5,30.1l5.2,-10M39.5,20.5l5.2,-10.3M39.5,20.4l5.2,-7.8M39.5,31.2l5.2,-9.6M39.5,25.4l5.2,-7.3M39.5,21.9l5.2,-11.9M39.5,29.5l5.2,-13M39.5,20.1l5.2,-6.9M39.5,23.8l5.2,-7.5M39.5,21l5.2,-5.2M39.5,24l5.2,-5.1M39.5,14.3l5.2,-6.1" stroke="#658dc8"/>
<path d="M44.7,6.6l5.2,8.3M44.7,13.2l5.2,1.4M44.7,28.4l5.2,-1.7M44.7,22.8l5.2,1.1M44.7,6.6l5.2,5.7M44.7,10.9l5.2,8.7M44.7,19.7l5.2,-6.1M44.7,16.1l5.2,-2.3M44.7,14.8l5.2,.2M44.7,12.5l5.2,-2.9M44.7,7.3l5.2,5.4M44.7,10.9l5.2,2M44.7,21l5.2,-7.4M44.7,26.4l5.2,-8.8M44.7,12.1l5.2,1.4M44.7,21.8l5.2,-6.4M44.7,22.9l5.2,-6.6M44.7,20.9l5.2,1.8M44.7,16.1l5.2,4.2M44.7,17.9l5.2,-1.4M44.7,12.4l5.2,.6M44.7,17.6l5.2,-1.1M44.7,20.2l5.2,1M44.7,16.4l5.2,6.4M44.7,23.8l5.2,-1.8M44.7,11.1l5.2,1.2M44.7,20.2l5.2,3.5M44.7,10.3l5.2,6.1M44.7,12.6l5.2,3.9M44.7,21.6l5.2,5.2M44.7,18.1l5.2,-2.7M44.7,10l5.2,1.5M44.7,16.5l5.2,5.4M44.7,13.2l5.2,5.4M44.7,16.3l5.2,-.3M44.7,15.8l5.2,3.8M44.7,18.8l5.2,-2.6M44.7,8.2l5.2,6.5" stroke="#f8ce51"/>
</g>
<path d="M3.1,38.2L8.3,37.1" stroke="#5487bb" stroke-width="2.6" opacity="0.8" stroke-linecap="round"/>
<path d="M8.3,37.1L13.5,33.7" stroke="#60835d" stroke-width="2.6" opacity="0.8" stroke-linecap="round"/>
<path d="M13.5,33.7L18.7,25.0" stroke="#7fcfed" stroke-width="2.6" opacity="0.8" stroke-linecap="round"/>
<path d="M18.7,25.0L23.9,28.9" stroke="#e29390" stroke-width="2.6" opacity="0.8" stroke-linecap="round"/>
<path d="M23.9,28.9L29.1,26.1" stroke="#f59358" stroke-width="2.6" opacity="0.8" stroke-linecap="round"/>
<path d="M29.1,26.1L34.3,19.3" stroke="#5c5c5c" stroke-width="2.6" opacity="0.8" stroke-linecap="round"/>
<path d="M34.3,19.3L39.5,26.1" stroke="#775f4e" stroke-width="2.6" opacity="0.8" stroke-linecap="round"/>
<path d="M39.5,26.1L44.7,17.0" stroke="#779bcf" stroke-width="2.6" opacity="0.8" stroke-linecap="round"/>
<path d="M44.7,17.0L49.9,17.0" stroke="#f9d466" stroke-width="2.6" opacity="0.8" stroke-linecap="round"/>
<g stroke="#1c5fa5"><path class="w" d="M3.1,28.9V35.7M3.1,40.8V47.3"/><rect class="b2" x="1.4" y="35.7" width="3.4" height="5.1"/><path class="m" d="M1.2,38.2h3.8"/>
<path class="p" d="M3.1,35.7h0M3,34.1h0M3.2,42.2h0M2.9,41.4h0M3.2,31h0M2.9,39.2h0M3.2,29.6h0M3.4,39.8h0M3.4,34.1h0M3,39.3h0M3.4,34.7h0M2.8,33.3h0M3,45.7h0M2.9,38.7h0M3,35.1h0M2.8,38.9h0M3,40h0M3.2,43.9h0M3.3,42.8h0M3.1,37.8h0M3.4,37h0M3.2,36.3h0M3.3,39.4h0M3.3,42.9h0M3,40.8h0M3.3,37.8h0M3.1,42.5h0M3,32.1h0M3.2,33.3h0M3.2,42.9h0M2.8,35.4h0M3.2,32.9h0M3.4,44.2h0M2.8,38.7h0M3.4,36.4h0M3,34.6h0M3.4,39.2h0M3,34h0M3.1,39.4h0M3.2,41.6h0M3,42.7h0M2.9,39.3h0M3.2,38.7h0M3,38.5h0M2.8,46.6h0M3,35.1h0M3.4,37.4h0M3.3,36.4h0M2.8,35.1h0M3.1,32.6h0M3.2,42.5h0M2.9,34.3h0M3.3,44h0M3.4,43.2h0M3.2,38h0" stroke-width="0.75"/></g>
<g stroke="#2b5a27"><path class="w" d="M8.3,27.2V34.5M8.3,39.7V45.6"/><rect class="b2" x="6.6" y="34.5" width="3.4" height="5.1"/><path class="m" d="M6.4,37.1h3.8"/>
<path class="p" d="M8.5,31.6h0M8.2,34.5h0M8.1,45.6h0M8.4,42.3h0M8.6,31.3h0M8.5,39.3h0M8.1,33.4h0M8.6,35.1h0M8.6,32.6h0M8.4,31.7h0M8.1,33.4h0M8.1,35.2h0M8,38.6h0M8.5,39h0M8.3,35.6h0M8.6,38h0M8.1,34.5h0M8.2,43.7h0M8.1,40.8h0M8.5,34.2h0M8.5,35.7h0M8.5,34h0M8.3,39.7h0M8.1,40.3h0M8.2,44.2h0M8,35.8h0M8.4,40.3h0M8.4,35.4h0M8.3,34.9h0M8.6,43.7h0M8,34.4h0M8.4,32.9h0M8,38.8h0M8.1,38.3h0M8.4,35.5h0M8.3,33.6h0M8.6,38.5h0M8.1,29.2h0M8.2,36.8h0M8.2,38.7h0M8.2,39h0M8.4,39.1h0M8.2,38.2h0M8.2,36.2h0M8.5,42.6h0M8,28.5h0M8.4,37.2h0M8.3,38.1h0M8.2,31.1h0M8.3,35.9h0M8.1,40.6h0M8,34.4h0M8.4,38.4h0M8.2,37.9h0M8.1,37.9h0" stroke-width="0.75"/></g>
<g stroke="#55bfe8"><path class="w" d="M13.5,23.3V30.8M13.5,36.6V43.8"/><rect class="b2" x="11.8" y="30.8" width="3.4" height="5.8"/><path class="m" d="M11.6,33.7h3.8"/>
<path class="p" d="M13.3,29.5h0M13.6,29h0M13.6,41.1h0M13.6,38.6h0M13.2,23.3h0M13.5,30.6h0M13.4,27.7h0M13.3,32.6h0M13.7,33.5h0M13.4,28.9h0M13.7,29.5h0M13.5,28.9h0M13.3,39.6h0M13.7,40.1h0M13.2,24.5h0M13.4,36.6h0M13.4,34h0M13.2,38.5h0M13.6,38.1h0M13.4,36.4h0M13.8,32.1h0M13.8,35.4h0M13.2,33.7h0M13.3,37.9h0M13.6,43h0M13.6,32.7h0M13.3,36.4h0M13.4,30h0M13.8,32.4h0M13.8,42.9h0M13.4,35.1h0M13.6,29.5h0M13.8,38.4h0M13.6,29.8h0M13.4,30.2h0M13.8,31.8h0M13.5,36.8h0M13.6,24.2h0M13.8,33.3h0M13.2,42.1h0M13.2,33.9h0M13.2,35.8h0M13.3,35.1h0M13.8,34.7h0M13.6,38h0M13.4,29.4h0M13.6,33.6h0M13.4,33.6h0M13.5,25.8h0M13.4,32.7h0M13.8,37.4h0M13.7,31h0M13.2,41.4h0M13.6,36.8h0M13.8,33.1h0" stroke-width="0.75"/></g>
<g stroke="#d9706b"><path class="w" d="M18.7,13.5V22.1M18.7,27.9V34.2"/><rect class="b2" x="17.0" y="22.1" width="3.4" height="5.8"/><path class="m" d="M16.8,25.0h3.8"/>
<path class="p" d="M18.6,20.7h0M18.4,27.7h0M18.4,28.2h0M18.7,26.8h0M18.6,17h0M18.7,25.3h0M18.8,21h0M18.6,24.9h0M18.8,22.4h0M18.8,27.3h0M18.7,22h0M18.7,21.6h0M18.5,25.9h0M18.5,30.3h0M18.8,15h0M19,27.7h0M18.4,26.2h0M18.4,29.5h0M18.7,25.8h0M19,28.7h0M19,20.5h0M18.5,21.8h0M18.8,26.6h0M18.4,25.7h0M18.9,30.7h0M18.4,22.2h0M19,32.8h0M18.6,20.7h0M18.6,24h0M18.6,34.2h0M18.4,21.2h0M18.6,22.5h0M18.5,29.4h0M18.4,20h0M18.7,23.3h0M18.9,25.1h0M18.9,19.7h0M18.7,18.6h0M18.4,22.1h0M18.7,24h0M18.5,25.5h0M18.7,28.1h0M19,28.5h0M18.5,25.8h0M18.7,25.6h0M18.7,15.8h0M18.6,25h0M18.4,27.4h0M19,19.7h0M19,19.6h0M18.5,29.3h0M18.9,25.2h0M18.7,24.5h0M18.9,26.3h0M18.6,24h0" stroke-width="0.75"/></g>
<g stroke="#f26f21"><path class="w" d="M23.9,22.8V27.0M23.9,30.9V37.1"/><rect class="b2" x="22.2" y="27.0" width="3.4" height="4.0"/><path class="m" d="M22.0,28.9h3.8"/>
<path class="p" d="M23.6,27.7h0M24.2,26h0M23.8,34.8h0M23.6,31.1h0M23.7,24.8h0M23.8,27.3h0M24.1,29h0M24.2,28.6h0M23.7,25.7h0M23.6,26.2h0M23.6,25.7h0M24.2,28h0M23.9,32.1h0M23.6,31.5h0M23.8,25.2h0M23.9,31h0M24,30.5h0M23.9,34.5h0M24.1,32.8h0M23.8,29h0M24.1,26.2h0M24,29.2h0M24,32.3h0M23.6,30.9h0M23.8,33.5h0M23.7,28.8h0M24.1,30.8h0M24.1,25.1h0M24,28.8h0M24,33.5h0M23.6,27.8h0M23.5,27.2h0M23.6,31.4h0M23.8,26h0M23.7,27.4h0M24.2,26.9h0M23.6,29.9h0M24,28.1h0M23.8,27.5h0M23.7,27.2h0M24.1,32.1h0M24.1,30.5h0M23.9,31.8h0M23.9,30.3h0M23.6,31.1h0M24,23.2h0M24.1,30.8h0M24.2,29.3h0M24.1,26.4h0M24.1,25.1h0M23.7,27h0M24.2,29h0M23.6,29.6h0M23.7,33.2h0M23.9,26.7h0" stroke-width="0.75"/></g>
<g stroke="#262626"><path class="w" d="M29.1,15.2V22.9M29.1,29.4V38.2"/><rect class="b2" x="27.4" y="22.9" width="3.4" height="6.4"/><path class="m" d="M27.2,26.1h3.8"/>
<path class="p" d="M29.2,20h0M29.2,20.1h0M29.2,32.3h0M29.2,27.2h0M29,18.5h0M28.8,26.5h0M28.9,24.3h0M29.1,24.2h0M29.2,22.9h0M29,21.1h0M29.1,21.8h0M29.3,21.9h0M29.2,32.4h0M29.1,26.9h0M29,19.3h0M28.8,31.7h0M29,28.7h0M29.4,30.4h0M29.1,33.8h0M29.1,30.2h0M29.2,23.6h0M28.9,24.3h0M29,28.2h0M28.9,31.7h0M29.1,32.9h0M29.1,27.3h0M29.3,28.7h0M29.3,20.9h0M29,19.3h0M29.4,34.8h0M29.1,30.7h0M29,28.3h0M28.8,26.4h0M28.7,25.3h0M29,21.9h0M29.2,27.1h0M28.9,24.3h0M28.8,21h0M29.1,18.4h0M28.8,32.3h0M28.9,26.5h0M29.1,34.7h0M29.2,30.7h0M29,30.4h0M29.2,28.1h0M29,15.6h0M28.8,19.9h0M29.3,24.5h0M29.2,18.8h0M29.2,26.1h0M29.3,31.3h0M29.1,26.4h0M28.8,32.6h0M28.8,31h0M29.1,21.8h0" stroke-width="0.75"/></g>
<g stroke="#4a2a14"><path class="w" d="M34.3,2.7V15.2M34.3,23.5V32.5"/><rect class="b2" x="32.6" y="15.2" width="3.4" height="8.3"/><path class="m" d="M32.4,19.3h3.8"/>
<path class="p" d="M34.4,17.9h0M34,19.6h0M34.4,27.8h0M34.6,26.2h0M34.3,10.5h0M34.5,21h0M34.3,7.8h0M34.5,20.2h0M33.9,17h0M34.3,9.4h0M34.4,14h0M34.5,12.9h0M34.6,26.3h0M34.2,26.4h0M34,12.4h0M34.4,17.6h0M34.6,20h0M34.6,29.1h0M34.5,25.2h0M33.9,22.4h0M34.4,13h0M34.6,24.7h0M34.1,27.8h0M34.4,25.1h0M34.3,32.5h0M34.2,16.8h0M34.6,24.5h0M34,10.6h0M34,10.9h0M34.4,23.3h0M34.5,15.3h0M34.3,6.8h0M34.5,26h0M34.1,20.3h0M34.1,16.5h0M34,16.5h0M34.5,21h0M34.1,7h0M34.4,18.2h0M34.3,13.9h0M34.3,28.7h0M34.1,23.5h0M34,23.1h0M34.5,23.8h0M34.2,25.3h0M34.2,11.1h0M34.3,20.2h0M34,26.5h0M34.4,8.6h0M34.2,12h0M34.2,28.3h0M34.1,17.9h0M34,24.8h0M34.4,23.8h0M34.4,17h0" stroke-width="0.75"/></g>
<g stroke="#4a7abf"><path class="w" d="M39.5,12.9V22.7M39.5,29.6V37.7"/><rect class="b2" x="37.8" y="22.7" width="3.4" height="6.9"/><path class="m" d="M37.6,26.1h3.8"/>
<path class="p" d="M39.7,22.8h0M39.5,23.8h0M39.7,34.3h0M39.4,29.8h0M39.5,15.7h0M39.7,26.9h0M39.3,15.8h0M39.5,28.7h0M39.4,27.5h0M39.2,26.3h0M39.8,16.2h0M39.7,21.3h0M39.7,28.3h0M39.1,30.4h0M39.8,12.9h0M39.2,28h0M39.8,31.9h0M39.4,35.9h0M39.1,26.2h0M39.7,24.9h0M39.1,28.4h0M39.7,28.6h0M39.2,28h0M39.7,29.4h0M39.2,35.3h0M39.2,25.7h0M39.6,30.1h0M39.5,20.5h0M39.6,20.4h0M39.2,31.2h0M39.5,25.4h0M39.7,21.9h0M39.7,29.5h0M39.7,20.1h0M39.6,23.8h0M39.7,21h0M39.5,24h0M39.5,14.3h0M39.5,26.4h0M39.7,30.6h0M39.3,31.8h0M39.3,25.2h0M39.7,29.1h0M39.3,25.4h0M39.2,32.2h0M39.7,17.4h0M39.8,23.3h0M39.2,27h0M39.2,21.9h0M39.5,15.7h0M39.5,29.3h0M39.6,25.9h0M39.6,30.8h0M39.5,34.7h0M39.2,22.2h0" stroke-width="0.75"/></g>
<g stroke="#f7c633"><path class="w" d="M44.7,4.4V13.6M44.7,20.3V28.4"/><rect class="b2" x="43.0" y="13.6" width="3.4" height="6.7"/><path class="m" d="M42.8,17.0h3.8"/>
<path class="p" d="M44.6,6.6h0M44.6,13.2h0M45,28.4h0M44.7,22.8h0M44.8,6.6h0M44.8,10.9h0M44.8,19.7h0M44.8,16.1h0M44.4,14.8h0M44.5,12.5h0M44.5,7.3h0M44.6,10.9h0M44.5,21h0M44.9,26.4h0M44.4,12.1h0M44.4,21.8h0M44.8,22.9h0M44.4,20.9h0M44.4,16.1h0M44.5,17.9h0M44.6,12.4h0M44.7,17.6h0M44.7,20.2h0M44.8,16.4h0M45,23.8h0M44.5,11.1h0M44.6,20.2h0M44.6,10.3h0M44.4,12.6h0M44.7,21.6h0M44.9,18.1h0M44.5,10h0M44.4,16.5h0M44.4,13.2h0M44.6,16.3h0M45,15.8h0M44.8,18.8h0M44.4,8.2h0M45,15.9h0M44.5,24.6h0M44.6,23h0M44.7,18.6h0M45,18.7h0M44.9,18.3h0M44.6,20.4h0M45,11.5h0M44.7,11.8h0M44.9,21.2h0M44.5,7.9h0M44.8,15.1h0M44.8,27.2h0M45,21.3h0M44.9,25.1h0M44.7,22.6h0M44.4,12.6h0" stroke-width="0.75"/></g>
<g stroke="#f39a2e"><path class="w" d="M49.9,5.3V14.0M49.9,20.0V26.8"/><rect class="b2" x="48.2" y="14.0" width="3.4" height="6.0"/><path class="m" d="M48.0,17.0h3.8"/>
<path class="p" d="M50,14.9h0M49.6,14.6h0M50.2,26.8h0M50.2,23.9h0M50.1,12.3h0M49.6,19.5h0M49.9,13.6h0M50,13.8h0M50.1,14.9h0M50.1,9.6h0M49.6,12.7h0M49.7,12.9h0M49.5,13.6h0M50.2,17.6h0M49.9,13.5h0M49.9,15.3h0M50.1,16.4h0M49.6,22.7h0M49.7,20.3h0M50,16.5h0M49.8,13h0M50,16.5h0M49.8,21.2h0M49.9,22.8h0M49.9,22h0M49.8,12.3h0M50.2,23.6h0M50.1,16.4h0M49.7,16.4h0M49.9,26.8h0M49.9,15.4h0M49.7,11.6h0M49.6,21.9h0M49.8,18.6h0M49.9,16.1h0M50.1,19.6h0M49.9,16.3h0M49.9,14.7h0M49.8,21h0M49.5,17.9h0M49.7,21.3h0M50.1,21.7h0M50,18.6h0M49.6,19.6h0M50.1,23.7h0M50.1,7h0M50.1,14.1h0M50,18.3h0M49.7,12.2h0M49.7,11.1h0M49.8,23.3h0M49.8,17.5h0M49.6,23h0M49.7,19.5h0M50,17.5h0" stroke-width="0.75"/></g>
</g>
<rect x="448.05" y="306.35" width="53.0" height="51.4" fill="none" stroke="#222" stroke-width="0.9"/>
<rect x="448.05" y="299.75" width="53.0" height="6.6" fill="#38b53c" stroke="#222" stroke-width="0.9"/>
<text x="474.6" y="304.9" font-size="5.1" text-anchor="middle" fill="#1a1a1a">#8 − genes: 131</text>
<g transform="translate(282.6,366.80)">
<rect width="53.0" height="51.4" fill="#fff"/>
<g fill="none" stroke-width="0.35" opacity="0.3">
<path d="M3.1,14.7l5.2,3.6M3.1,13.9l5.2,2M3.1,16.2l5.2,2.6M3.1,17.9l5.2,-.1M3.1,11.2l5.2,2.6M3.1,11.8l5.2,7.9M3.1,17.3l5.2,2.8M3.1,15.7l5.2,1.8M3.1,11l5.2,4.6M3.1,14.4l5.2,-.9M3.1,19.8l5.2,-4.3M3.1,20.5l5.2,-3.1M3.1,16.1l5.2,3.5M3.1,17.3l5.2,3M3.1,16.3l5.2,4.7M3.1,17.8l5.2,.9M3.1,14.2l5.2,1.4M3.1,10.7l5.2,5.2M3.1,15.9l5.2,3.5M3.1,18.2l5.2,3.1M3.1,14.4l5.2,6.4M3.1,10.7l5.2,5M3.1,10.7l5.2,5.2M3.1,11.7l5.2,6.4M3.1,12l5.2,2.6M3.1,13l5.2,3.9M3.1,18.6l5.2,-1.3M3.1,19l5.2,1.3M3.1,16l5.2,1.6M3.1,14.2l5.2,9.4M3.1,11.5l5.2,2.2M3.1,13.2l5.2,2.6M3.1,18.2l5.2,1.6M3.1,15.4l5.2,.4M3.1,13.4l5.2,3.8M3.1,17.9l5.2,1.3M3.1,16.4l5.2,5.7M3.1,13.2l5.2,3" stroke="#6b97c4"/>
<path d="M8.3,18.3l5.2,3.4M8.3,15.9l5.2,2.4M8.3,18.9l5.2,5.1M8.3,17.8l5.2,-.9M8.3,13.9l5.2,5.6M8.3,19.7l5.2,-.2M8.3,20.2l5.2,1M8.3,17.5l5.2,3.7M8.3,15.6l5.2,4.1M8.3,13.5l5.2,2.6M8.3,15.5l5.2,6.6M8.3,17.3l5.2,6.7M8.3,19.6l5.2,3.8M8.3,20.3l5.2,5.8M8.3,21l5.2,1.6M8.3,18.7l5.2,8.5M8.3,15.7l5.2,2.2M8.3,15.9l5.2,.6M8.3,19.4l5.2,5.3M8.3,21.3l5.2,5.2M8.3,20.7l5.2,5.4M8.3,15.7l5.2,3.5M8.3,15.9l5.2,1.9M8.3,18l5.2,3.7M8.3,14.6l5.2,1.4M8.3,16.8l5.2,4.5M8.3,17.3l5.2,7.9M8.3,20.3l5.2,5.5M8.3,17.6l5.2,4.8M8.3,23.5l5.2,-1M8.3,13.7l5.2,2M8.3,15.8l5.2,4.5M8.3,19.8l5.2,4.9M8.3,15.8l5.2,4.3M8.3,17.2l5.2,8.8M8.3,19.2l5.2,2.8M8.3,22.1l5.2,1.6M8.3,16.2l5.2,4.7" stroke="#759372"/>
<path d="M13.5,21.7l5.2,3.2M13.5,18.3l5.2,9.8M13.5,24l5.2,4.7M13.5,16.9l5.2,11.4M13.5,19.5l5.2,8.9M13.5,19.5l5.2,3.4M13.5,21.1l5.2,12.2M13.5,21.2l5.2,10.5M13.5,19.7l5.2,7.2M13.5,16l5.2,12.8M13.5,22.1l5.2,10.4M13.5,24.1l5.2,9.2M13.5,23.4l5.2,9.4M13.5,26.1l5.2,5.2M13.5,22.7l5.2,9.3M13.5,27.2l5.2,6M13.5,17.8l5.2,11.5M13.5,16.5l5.2,8.2M13.5,24.6l5.2,6.3M13.5,26.6l5.2,2.1M13.5,26.1l5.2,6.2M13.5,19.2l5.2,6M13.5,17.8l5.2,8M13.5,21.8l5.2,6.4M13.5,16l5.2,8.2M13.5,21.3l5.2,5.2M13.5,25.2l5.2,5M13.5,25.8l5.2,7.5M13.5,22.4l5.2,5.7M13.5,22.5l5.2,8.7M13.5,15.7l5.2,8.7M13.5,20.3l5.2,3.7M13.5,24.8l5.2,6.5M13.5,20l5.2,10.3M13.5,26.1l5.2,1M13.5,22l5.2,8.9M13.5,23.7l5.2,7.1M13.5,20.9l5.2,10.5" stroke="#90d5f0"/>
<path d="M18.7,24.9l5.2,-6M18.7,28.1l5.2,-4.5M18.7,28.7l5.2,-9M18.7,28.3l5.2,-1.4M18.7,28.4l5.2,-5M18.7,23l5.2,-3.7M18.7,33.3l5.2,-9.5M18.7,31.7l5.2,-8.9M18.7,26.9l5.2,-9.5M18.7,28.8l5.2,-.3M18.7,32.5l5.2,-2.7M18.7,33.3l5.2,-3.2M18.7,32.8l5.2,-7.6M18.7,31.4l5.2,-5.2M18.7,31.9l5.2,-6.4M18.7,33.2l5.2,-2.9M18.7,29.3l5.2,-6.8M18.7,24.7l5.2,-9.7M18.7,31l5.2,-1.1M18.7,28.6l5.2,3.7M18.7,32.3l5.2,-6.3M18.7,25.2l5.2,-6.2M18.7,25.8l5.2,-4.8M18.7,28.2l5.2,-5.9M18.7,24.1l5.2,-8.2M18.7,26.5l5.2,-3.2M18.7,30.2l5.2,-6.2M18.7,33.3l5.2,-3.1M18.7,28.1l5.2,-3.6M18.7,31.2l5.2,-8.9M18.7,24.5l5.2,-3.4M18.7,24l5.2,2.3M18.7,31.2l5.2,-5M18.7,30.3l5.2,-6.2M18.7,27l5.2,-3.5M18.7,30.9l5.2,1.7M18.7,30.9l5.2,-6.9M18.7,31.3l5.2,-7.4" stroke="#e6a29e"/>
<path d="M23.9,18.9l5.2,6.7M23.9,23.5l5.2,4.3M23.9,19.7l5.2,8.4M23.9,26.9l5.2,4.6M23.9,23.4l5.2,3.3M23.9,19.3l5.2,7M23.9,23.8l5.2,7.9M23.9,22.8l5.2,8.4M23.9,17.4l5.2,7.4M23.9,28.5l5.2,-3.2M23.9,29.8l5.2,5.1M23.9,30.1l5.2,4.2M23.9,25.3l5.2,4.9M23.9,26.2l5.2,3.9M23.9,25.5l5.2,3.6M23.9,30.3l5.2,1.7M23.9,22.5l5.2,-.8M23.9,14.9l5.2,12.1M23.9,29.8l5.2,.2M23.9,32.3l5.2,-.2M23.9,26l5.2,5.8M23.9,19l5.2,6.3M23.9,21.1l5.2,3.7M23.9,22.3l5.2,6.5M23.9,15.9l5.2,7.1M23.9,23.3l5.2,6.6M23.9,24l5.2,9.1M23.9,30.2l5.2,4.8M23.9,24.5l5.2,4.3M23.9,22.2l5.2,6.7M23.9,21.1l5.2,2.4M23.9,26.3l5.2,1.6M23.9,26.3l5.2,5.9M23.9,24.1l5.2,6.6M23.9,23.6l5.2,9.5M23.9,32.6l5.2,-6.5M23.9,24l5.2,8.6M23.9,23.9l5.2,5.5" stroke="#f6a16e"/>
<path d="M29.1,25.6l5.2,6.6M29.1,27.8l5.2,5.9M29.1,28.2l5.2,8.1M29.1,31.5l5.2,3.9M29.1,26.7l5.2,3.7M29.1,26.3l5.2,6.4M29.1,31.8l5.2,3.8M29.1,31.1l5.2,6.2M29.1,24.8l5.2,7.9M29.1,25.3l5.2,8.7M29.1,34.9l5.2,1.4M29.1,34.3l5.2,3.3M29.1,30.1l5.2,3.5M29.1,30.1l5.2,7.8M29.1,29.1l5.2,4.9M29.1,32l5.2,3.9M29.1,21.7l5.2,9.7M29.1,27l5.2,4.7M29.1,30l5.2,6.5M29.1,32.2l5.2,5.3M29.1,31.8l5.2,4.7M29.1,25.3l5.2,10.3M29.1,24.8l5.2,8M29.1,28.8l5.2,9.6M29.1,23l5.2,11.3M29.1,30l5.2,6.9M29.1,33.1l5.2,3.7M29.1,35.1l5.2,5.5M29.1,28.9l5.2,7M29.1,28.9l5.2,7.8M29.1,23.5l5.2,10.2M29.1,27.9l5.2,5.5M29.1,32.1l5.2,5M29.1,30.7l5.2,4.8M29.1,33.1l5.2,3.8M29.1,26l5.2,10.7M29.1,32.5l5.2,6.6M29.1,29.4l5.2,7.5" stroke="#717171"/>
<path d="M34.3,32.2l5.2,-1.1M34.3,33.8l5.2,-1.5M34.3,36.2l5.2,-4.6M34.3,35.4l5.2,1.9M34.3,30.5l5.2,4.2M34.3,32.6l5.2,-3.2M34.3,35.6l5.2,5.2M34.3,37.3l5.2,-2.8M34.3,32.7l5.2,-.4M34.3,34l5.2,.6M34.3,36.4l5.2,.5M34.3,37.7l5.2,5.2M34.3,33.7l5.2,4.3M34.3,37.9l5.2,3.6M34.3,34l5.2,7.5M34.3,35.9l5.2,3.8M34.3,31.4l5.2,.1M34.3,31.7l5.2,-.8M34.3,36.5l5.2,-2.1M34.3,37.5l5.2,2.9M34.3,36.6l5.2,2.5M34.3,35.6l5.2,-3.6M34.3,32.8l5.2,-1.4M34.3,38.4l5.2,.7M34.3,34.2l5.2,-2.5M34.3,36.9l5.2,-2.9M34.3,36.8l5.2,2.8M34.3,40.6l5.2,.3M34.3,35.9l5.2,3.4M34.3,36.7l5.2,.8M34.3,33.7l5.2,-1M34.3,33.4l5.2,-.4M34.3,37.1l5.2,2.2M34.3,35.4l5.2,-3.4M34.3,36.9l5.2,-5.5M34.3,36.8l5.2,3.8M34.3,39.1l5.2,3M34.3,36.9l5.2,3.5" stroke="#897466"/>
<path d="M39.5,31.1l5.2,-1.5M39.5,32.3l5.2,5.1M39.5,31.7l5.2,3.3M39.5,37.3l5.2,2.3M39.5,34.7l5.2,-3.6M39.5,29.4l5.2,1M39.5,40.8l5.2,-3.7M39.5,34.5l5.2,-.4M39.5,32.3l5.2,-.6M39.5,34.6l5.2,-.7M39.5,36.9l5.2,3.2M39.5,42.8l5.2,-3.4M39.5,38l5.2,5.6M39.5,41.6l5.2,-.6M39.5,41.5l5.2,-3.5M39.5,39.7l5.2,.7M39.5,31.5l5.2,.6M39.5,30.9l5.2,2.7M39.5,34.4l5.2,2.4M39.5,40.4l5.2,0M39.5,39.1l5.2,2.8M39.5,32l5.2,7M39.5,31.3l5.2,3.5M39.5,39.1l5.2,1.6M39.5,31.7l5.2,1.3M39.5,34l5.2,4.7M39.5,39.5l5.2,-2.8M39.5,40.9l5.2,.2M39.5,39.3l5.2,-7M39.5,37.6l5.2,-6.8M39.5,32.7l5.2,.2M39.5,33.1l5.2,4.3M39.5,39.3l5.2,-3.9M39.5,32l5.2,6.6M39.5,31.4l5.2,6.8M39.5,40.6l5.2,-2.5M39.5,42.2l5.2,-6.1M39.5,40.4l5.2,-8.8" stroke="#89a8d5"/>
<path d="M44.7,29.6l5.2,5.6M44.7,37.4l5.2,-4.2M44.7,34.9l5.2,-2.9M44.7,39.6l5.2,-10M44.7,31l5.2,2.9M44.7,30.4l5.2,3.4M44.7,37.1l5.2,.2M44.7,34.1l5.2,2M44.7,31.7l5.2,-.5M44.7,33.9l5.2,3.1M44.7,40.1l5.2,-2.6M44.7,39.4l5.2,-3.6M44.7,43.5l5.2,-4.6M44.7,40.9l5.2,-4.2M44.7,38l5.2,-4M44.7,40.4l5.2,.4M44.7,32.1l5.2,1M44.7,33.6l5.2,-1.9M44.7,36.9l5.2,-.4M44.7,40.4l5.2,-.8M44.7,41.9l5.2,-.5M44.7,39l5.2,-10.5M44.7,34.8l5.2,.2M44.7,40.7l5.2,-3.9M44.7,33l5.2,-2.5M44.7,38.6l5.2,-3.1M44.7,36.7l5.2,4.4M44.7,41.1l5.2,-1.7M44.7,32.2l5.2,6.1M44.7,30.8l5.2,9.7M44.7,32.8l5.2,-3.8M44.7,37.4l5.2,-1.9M44.7,35.4l5.2,3.4M44.7,38.6l5.2,-6.5M44.7,38.2l5.2,-5.2M44.7,38.1l5.2,1.5M44.7,36.1l5.2,-3M44.7,31.5l5.2,2.3" stroke="#f9d97a"/>
</g>
<path d="M3.1,14.2L8.3,16.9" stroke="#5487bb" stroke-width="1.3" opacity="0.3" stroke-linecap="round"/>
<path d="M8.3,16.9L13.5,20.5" stroke="#60835d" stroke-width="1.3" opacity="0.3" stroke-linecap="round"/>
<path d="M13.5,20.5L18.7,28.3" stroke="#7fcfed" stroke-width="1.3" opacity="0.3" stroke-linecap="round"/>
<path d="M18.7,28.3L23.9,23.4" stroke="#e29390" stroke-width="1.3" opacity="0.3" stroke-linecap="round"/>
<path d="M23.9,23.4L29.1,28.1" stroke="#f59358" stroke-width="1.3" opacity="0.3" stroke-linecap="round"/>
<path d="M29.1,28.1L34.3,34.5" stroke="#5c5c5c" stroke-width="1.3" opacity="0.3" stroke-linecap="round"/>
<path d="M34.3,34.5L39.5,34.9" stroke="#775f4e" stroke-width="1.3" opacity="0.3" stroke-linecap="round"/>
<path d="M39.5,34.9L44.7,35.7" stroke="#779bcf" stroke-width="1.3" opacity="0.3" stroke-linecap="round"/>
<path d="M44.7,35.7L49.9,34.5" stroke="#f9d466" stroke-width="1.3" opacity="0.3" stroke-linecap="round"/>
<g stroke="#1c5fa5"><path class="w" d="M3.1,5.3V11.7M3.1,16.6V22.8"/><rect class="b2" x="1.4" y="11.7" width="3.4" height="4.9"/><path class="m" d="M1.2,14.2h3.8"/>
<path class="p" d="M2.9,14.7h0M2.8,13.9h0M3.1,16.2h0M3.3,17.9h0M2.8,11.2h0M3,11.8h0M3,17.3h0M3.1,15.7h0M3.2,11h0M3.1,14.4h0M3.2,19.8h0M2.9,20.5h0M3.3,16.1h0M3.1,17.3h0M3.2,16.3h0M3.2,17.8h0M3.4,14.2h0M3.4,10.7h0M2.8,15.9h0M3.2,18.2h0M3.1,14.4h0M3.2,10.7h0M2.9,10.7h0M3.1,11.7h0M3,12h0M3,13h0M3.4,18.6h0M3,19h0M3.1,16h0M2.8,14.2h0M3,11.5h0M2.9,13.2h0M3,18.2h0M2.9,15.4h0M3,13.4h0M3,17.9h0M3.1,16.4h0M3.1,13.2h0M3.2,14h0" stroke-width="0.62"/></g>
<g stroke="#2b5a27"><path class="w" d="M8.3,10.6V14.7M8.3,19.1V26.3"/><rect class="b2" x="6.6" y="14.7" width="3.4" height="4.4"/><path class="m" d="M6.4,16.9h3.8"/>
<path class="p" d="M8.4,18.3h0M8.3,15.9h0M8.2,18.9h0M8.3,17.8h0M8.4,13.9h0M8.2,19.7h0M8.6,20.2h0M8.5,17.5h0M8.5,15.6h0M8,13.5h0M8.1,15.5h0M8.4,17.3h0M8.6,19.6h0M8.3,20.3h0M8.5,21h0M8.4,18.7h0M7.9,15.7h0M8.6,15.9h0M8.6,19.4h0M8.2,21.3h0M8.5,20.7h0M8.1,15.7h0M8.4,15.9h0M8.4,18h0M8.2,14.6h0M8.5,16.8h0M8,17.3h0M8.1,20.3h0M8.3,17.6h0M8.5,23.5h0M8,13.7h0M8.4,15.8h0M8.1,19.8h0M8.3,15.8h0M8.3,17.2h0M8.5,19.2h0M8.2,22.1h0M8.5,16.2h0M8.2,19.8h0" stroke-width="0.62"/></g>
<g stroke="#55bfe8"><path class="w" d="M13.5,9.7V18.1M13.5,23.0V27.2"/><rect class="b2" x="11.8" y="18.1" width="3.4" height="4.9"/><path class="m" d="M11.6,20.5h3.8"/>
<path class="p" d="M13.8,21.7h0M13.4,18.3h0M13.3,24h0M13.4,16.9h0M13.8,19.5h0M13.6,19.5h0M13.4,21.1h0M13.2,21.2h0M13.6,19.7h0M13.6,16h0M13.2,22.1h0M13.4,24.1h0M13.7,23.4h0M13.6,26.1h0M13.8,22.7h0M13.6,27.2h0M13.3,17.8h0M13.5,16.5h0M13.6,24.6h0M13.8,26.6h0M13.4,26.1h0M13.2,19.2h0M13.7,17.8h0M13.6,21.8h0M13.2,16h0M13.5,21.3h0M13.8,25.2h0M13.5,25.8h0M13.5,22.4h0M13.2,22.5h0M13.8,15.7h0M13.4,20.3h0M13.5,24.8h0M13.4,20h0M13.8,26.1h0M13.4,22h0M13.6,23.7h0M13.7,20.9h0M13.7,24.1h0" stroke-width="0.62"/></g>
<g stroke="#d9706b"><path class="w" d="M18.7,17.1V26.1M18.7,30.6V33.3"/><rect class="b2" x="17.0" y="26.1" width="3.4" height="4.6"/><path class="m" d="M16.8,28.3h3.8"/>
<path class="p" d="M18.7,24.9h0M18.9,28.1h0M18.8,28.7h0M18.6,28.3h0M18.7,28.4h0M18.7,23h0M18.7,33.3h0M18.8,31.7h0M18.6,26.9h0M18.9,28.8h0M18.9,32.5h0M18.5,33.3h0M18.9,32.8h0M18.5,31.4h0M18.6,31.9h0M18.9,33.2h0M18.4,29.3h0M19,24.7h0M18.5,31h0M18.9,28.6h0M18.7,32.3h0M18.7,25.2h0M19,25.8h0M18.6,28.2h0M19,24.1h0M18.9,26.5h0M18.7,30.2h0M18.7,33.3h0M18.9,28.1h0M18.4,31.2h0M18.5,24.5h0M18.6,24h0M18.8,31.2h0M19,30.3h0M18.8,27h0M18.4,30.9h0M18.9,30.9h0M19,31.3h0M18.9,30.1h0" stroke-width="0.62"/></g>
<g stroke="#f26f21"><path class="w" d="M23.9,12.3V20.4M23.9,26.5V34.2"/><rect class="b2" x="22.2" y="20.4" width="3.4" height="6.1"/><path class="m" d="M22.0,23.4h3.8"/>
<path class="p" d="M23.7,18.9h0M24.1,23.5h0M23.6,19.7h0M23.9,26.9h0M24,23.4h0M23.9,19.3h0M23.8,23.8h0M23.9,22.8h0M24,17.4h0M23.8,28.5h0M23.7,29.8h0M23.7,30.1h0M24.2,25.3h0M24.2,26.2h0M23.6,25.5h0M23.7,30.3h0M23.9,22.5h0M24.1,14.9h0M23.9,29.8h0M24.2,32.3h0M23.8,26h0M23.8,19h0M23.7,21.1h0M24.1,22.3h0M23.7,15.9h0M23.7,23.3h0M24.2,24h0M23.7,30.2h0M23.8,24.5h0M24.1,22.2h0M23.7,21.1h0M23.7,26.3h0M24.2,26.3h0M24.2,24.1h0M23.8,23.6h0M24,32.6h0M24,24h0M24.1,23.9h0M24,27.7h0" stroke-width="0.62"/></g>
<g stroke="#262626"><path class="w" d="M29.1,14.9V25.3M29.1,30.9V35.1"/><rect class="b2" x="27.4" y="25.3" width="3.4" height="5.6"/><path class="m" d="M27.2,28.1h3.8"/>
<path class="p" d="M28.8,25.6h0M29.2,27.8h0M28.8,28.2h0M29.3,31.5h0M28.8,26.7h0M28.9,26.3h0M29.1,31.8h0M29.3,31.1h0M29,24.8h0M29,25.3h0M28.8,34.9h0M29.2,34.3h0M28.9,30.1h0M29,30.1h0M28.7,29.1h0M28.9,32h0M28.8,21.7h0M28.8,27h0M28.9,30h0M29.3,32.2h0M29.1,31.8h0M29.4,25.3h0M29.1,24.8h0M29.1,28.8h0M29.1,23h0M29.2,30h0M28.9,33.1h0M28.9,35.1h0M29.2,28.9h0M29.2,28.9h0M29.1,23.5h0M29,27.9h0M29.3,32.1h0M28.8,30.7h0M28.8,33.1h0M29.2,26h0M29.3,32.5h0M29,29.4h0M29.4,27.7h0" stroke-width="0.62"/></g>
<g stroke="#4a2a14"><path class="w" d="M34.3,26.3V32.5M34.3,36.6V40.7"/><rect class="b2" x="32.6" y="32.5" width="3.4" height="4.0"/><path class="m" d="M32.4,34.5h3.8"/>
<path class="p" d="M34.1,32.2h0M34.1,33.8h0M34.4,36.2h0M34.3,35.4h0M33.9,30.5h0M34,32.6h0M34,35.6h0M34.2,37.3h0M33.9,32.7h0M34.5,34h0M34.4,36.4h0M34.3,37.7h0M34.1,33.7h0M34,37.9h0M34.6,34h0M34.2,35.9h0M34.1,31.4h0M34.2,31.7h0M34.3,36.5h0M34.6,37.5h0M34.3,36.6h0M34.1,35.6h0M34,32.8h0M34.5,38.4h0M34.5,34.2h0M34.4,36.9h0M34.1,36.8h0M34.5,40.6h0M34.3,35.9h0M34.4,36.7h0M33.9,33.7h0M34.3,33.4h0M34.5,37.1h0M34.5,35.4h0M34.5,36.9h0M34.2,36.8h0M34.1,39.1h0M34.5,36.9h0M34.6,39.7h0" stroke-width="0.62"/></g>
<g stroke="#4a7abf"><path class="w" d="M39.5,26.3V32.0M39.5,37.8V47.0"/><rect class="b2" x="37.8" y="32.0" width="3.4" height="5.8"/><path class="m" d="M37.6,34.9h3.8"/>
<path class="p" d="M39.8,31.1h0M39.5,32.3h0M39.8,31.7h0M39.1,37.3h0M39.7,34.7h0M39.3,29.4h0M39.3,40.8h0M39.4,34.5h0M39.6,32.3h0M39.3,34.6h0M39.3,36.9h0M39.7,42.8h0M39.5,38h0M39.4,41.6h0M39.7,41.5h0M39.6,39.7h0M39.8,31.5h0M39.4,30.9h0M39.2,34.4h0M39.2,40.4h0M39.6,39.1h0M39.3,32h0M39.2,31.3h0M39.5,39.1h0M39.5,31.7h0M39.8,34h0M39.3,39.5h0M39.4,40.9h0M39.8,39.3h0M39.6,37.6h0M39.2,32.7h0M39.4,33.1h0M39.2,39.3h0M39.6,32h0M39.6,31.4h0M39.5,40.6h0M39.2,42.2h0M39.5,40.4h0M39.3,34.5h0" stroke-width="0.62"/></g>
<g stroke="#f7c633"><path class="w" d="M44.7,24.6V32.9M44.7,38.5V44.7"/><rect class="b2" x="43.0" y="32.9" width="3.4" height="5.6"/><path class="m" d="M42.8,35.7h3.8"/>
<path class="p" d="M44.7,29.6h0M44.5,37.4h0M44.4,34.9h0M44.9,39.6h0M44.8,31h0M44.9,30.4h0M44.8,37.1h0M44.3,34.1h0M45,31.7h0M44.5,33.9h0M44.3,40.1h0M44.5,39.4h0M44.4,43.5h0M44.6,40.9h0M44.8,38h0M44.7,40.4h0M44.7,32.1h0M45,33.6h0M44.6,36.9h0M45,40.4h0M44.8,41.9h0M44.6,39h0M44.9,34.8h0M44.5,40.7h0M44.5,33h0M45,38.6h0M44.6,36.7h0M44.6,41.1h0M44.8,32.2h0M45,30.8h0M44.7,32.8h0M45,37.4h0M44.8,35.4h0M44.8,38.6h0M44.8,38.2h0M44.5,38.1h0M44.9,36.1h0M44.5,31.5h0M45,38.1h0" stroke-width="0.62"/></g>
<g stroke="#f39a2e"><path class="w" d="M49.9,23.4V32.0M49.9,37.1V41.8"/><rect class="b2" x="48.2" y="32.0" width="3.4" height="5.1"/><path class="m" d="M48.0,34.5h3.8"/>
<path class="p" d="M50,35.1h0M49.8,33.2h0M49.6,32.1h0M50.1,29.6h0M50,34h0M50.1,33.9h0M49.6,37.3h0M49.6,36.1h0M49.6,31.1h0M49.9,37h0M50,37.5h0M49.8,35.8h0M49.6,38.9h0M49.9,36.7h0M49.8,34h0M50.1,40.8h0M50.2,33.1h0M49.9,31.7h0M49.7,36.5h0M49.7,39.5h0M49.5,41.4h0M49.5,28.5h0M49.6,35h0M49.7,36.8h0M49.8,30.5h0M50.1,35.6h0M50.1,41.2h0M50.1,39.4h0M50,38.4h0M50.2,40.5h0M50.2,29h0M49.7,35.5h0M49.8,38.9h0M50.2,32h0M50.2,32.9h0M49.8,39.6h0M49.7,33.1h0M50.1,33.8h0M49.6,37.8h0" stroke-width="0.62"/></g>
</g>
<rect x="282.6" y="366.80" width="53.0" height="51.4" fill="none" stroke="#222" stroke-width="0.9"/>
<rect x="282.6" y="360.2" width="53.0" height="6.6" fill="#f96fa8" stroke="#222" stroke-width="0.9"/>
<text x="309.1" y="365.4" font-size="5.1" text-anchor="middle" fill="#1a1a1a">#9 − genes: 39</text>
<path d="M282.6,367.8h-3" stroke="#222" stroke-width="0.7"/>
<text x="278.3" y="370.2" font-size="7.0" text-anchor="end" fill="#222">3</text>
<path d="M282.6,376.5h-3" stroke="#222" stroke-width="0.7"/>
<text x="278.3" y="379.0" font-size="7.0" text-anchor="end" fill="#222">2</text>
<path d="M282.6,385.2h-3" stroke="#222" stroke-width="0.7"/>
<text x="278.3" y="387.8" font-size="7.0" text-anchor="end" fill="#222">1</text>
<path d="M282.6,394.0h-3" stroke="#222" stroke-width="0.7"/>
<text x="278.3" y="396.5" font-size="7.0" text-anchor="end" fill="#222">0</text>
<path d="M282.6,402.8h-3" stroke="#222" stroke-width="0.7"/>
<text x="278.3" y="405.2" font-size="7.0" text-anchor="end" fill="#222">−1</text>
<path d="M282.6,411.5h-3" stroke="#222" stroke-width="0.7"/>
<text x="278.3" y="414.0" font-size="7.0" text-anchor="end" fill="#222">−2</text>
<path d="M285.7,418.2v3.4" stroke="#222" stroke-width="0.8"/>
<text transform="translate(286.9,423.6) rotate(-45)" font-size="4.6" text-anchor="end" fill="#2a2a2a">T naive</text>
<path d="M290.9,418.2v3.4" stroke="#222" stroke-width="0.8"/>
<text transform="translate(292.1,423.6) rotate(-45)" font-size="4.6" text-anchor="end" fill="#2a2a2a">T SCM CCR4</text>
<path d="M296.1,418.2v3.4" stroke="#222" stroke-width="0.8"/>
<text transform="translate(297.3,423.6) rotate(-45)" font-size="4.6" text-anchor="end" fill="#2a2a2a">T SCM CXCR3</text>
<path d="M301.3,418.2v3.4" stroke="#222" stroke-width="0.8"/>
<text transform="translate(302.5,423.6) rotate(-45)" font-size="4.6" text-anchor="end" fill="#2a2a2a">T CXCR3 CCR4</text>
<path d="M306.5,418.2v3.4" stroke="#222" stroke-width="0.8"/>
<text transform="translate(307.7,423.6) rotate(-45)" font-size="4.6" text-anchor="end" fill="#2a2a2a">T CM negative</text>
<path d="M311.7,418.2v3.4" stroke="#222" stroke-width="0.8"/>
<text transform="translate(312.9,423.6) rotate(-45)" font-size="4.6" text-anchor="end" fill="#2a2a2a">Th1</text>
<path d="M316.9,418.2v3.4" stroke="#222" stroke-width="0.8"/>
<text transform="translate(318.1,423.6) rotate(-45)" font-size="4.6" text-anchor="end" fill="#2a2a2a">Th1/17</text>
<path d="M322.1,418.2v3.4" stroke="#222" stroke-width="0.8"/>
<text transform="translate(323.3,423.6) rotate(-45)" font-size="4.6" text-anchor="end" fill="#2a2a2a">Th2</text>
<path d="M327.3,418.2v3.4" stroke="#222" stroke-width="0.8"/>
<text transform="translate(328.5,423.6) rotate(-45)" font-size="4.6" text-anchor="end" fill="#2a2a2a">Th17</text>
<path d="M332.5,418.2v3.4" stroke="#222" stroke-width="0.8"/>
<text transform="translate(333.7,423.6) rotate(-45)" font-size="4.6" text-anchor="end" fill="#2a2a2a">T CCR6</text>
<g transform="translate(337.7,366.80)">
<rect width="53.0" height="51.4" fill="#fff"/>
<g fill="none" stroke-width="0.3" opacity="0.16">
<path d="M3.1,34.5l5.2,-27.4M3.1,34.2l5.2,-24.6M3.1,35.2l5.2,-20.9M3.1,37.7l5.2,-16M3.1,37.7l5.2,-16.9M3.1,32.3l5.2,-24.2M3.1,35.3l5.2,-19.3M3.1,30.6l5.2,-25M3.1,33.6l5.2,-25.5M3.1,30.2l5.2,-16.7M3.1,37.5l5.2,-19.3" stroke="#6b97c4"/>
<path d="M8.3,7.1l5.2,9.6M8.3,9.6l5.2,8.8M8.3,14.2l5.2,3.8M8.3,21.7l5.2,1.3M8.3,20.8l5.2,3.2M8.3,8.2l5.2,15.5M8.3,16l5.2,3.3M8.3,5.6l5.2,6.9M8.3,8.1l5.2,12.4M8.3,13.5l5.2,-1.8M8.3,18.2l5.2,5.8" stroke="#759372"/>
<path d="M13.5,16.7l5.2,13.2M13.5,18.4l5.2,13.9M13.5,18l5.2,11.4M13.5,22.9l5.2,12.9M13.5,24l5.2,12.1M13.5,23.7l5.2,6.3M13.5,19.3l5.2,13.4M13.5,12.5l5.2,17.3M13.5,20.5l5.2,8.5M13.5,11.7l5.2,12.8M13.5,24l5.2,12.4" stroke="#90d5f0"/>
<path d="M18.7,29.9l5.2,-3.1M18.7,32.3l5.2,-3.5M18.7,29.5l5.2,-3.3M18.7,35.8l5.2,-3.3M18.7,36.1l5.2,-3.4M18.7,29.9l5.2,-8M18.7,32.8l5.2,-2.9M18.7,29.8l5.2,-10.2M18.7,29.1l5.2,-1.6M18.7,24.6l5.2,-1.1M18.7,36.4l5.2,-5.7" stroke="#e6a29e"/>
<path d="M23.9,26.8l5.2,-.7M23.9,28.8l5.2,1.6M23.9,26.2l5.2,.2M23.9,32.6l5.2,.8M23.9,32.7l5.2,2.2M23.9,22l5.2,6.1M23.9,29.9l5.2,-3.8M23.9,19.6l5.2,5.4M23.9,27.4l5.2,-.9M23.9,23.5l5.2,3.5M23.9,30.7l5.2,1.4" stroke="#f6a16e"/>
<path d="M29.1,26.1l5.2,2.6M29.1,30.5l5.2,-13.4M29.1,26.4l5.2,-17.6M29.1,33.3l5.2,-2.1M29.1,34.9l5.2,1.1M29.1,28l5.2,-19.6M29.1,26.1l5.2,2.7M29.1,24.9l5.2,-15.1M29.1,26.6l5.2,-18.1M29.1,27l5.2,-18.5M29.1,32.1l5.2,2.9" stroke="#717171"/>
<path d="M34.3,28.7l5.2,3.8M34.3,17.1l5.2,18.7M34.3,8.8l5.2,23.2M34.3,31.3l5.2,14.6M34.3,36l5.2,9.9M34.3,8.5l5.2,23.7M34.3,28.8l5.2,6.1M34.3,9.8l5.2,21.3M34.3,8.5l5.2,23.2M34.3,8.5l5.2,20.7M34.3,35l5.2,10.8" stroke="#897466"/>
<path d="M39.5,32.5l5.2,-1M39.5,35.8l5.2,-3.9M39.5,31.9l5.2,-.5M39.5,45.8l5.2,-11.5M39.5,45.8l5.2,-11.5M39.5,32.2l5.2,-1.2M39.5,35l5.2,-2.5M39.5,31.1l5.2,-2.8M39.5,31.7l5.2,1.5M39.5,29.1l5.2,-.4M39.5,45.8l5.2,-12.6" stroke="#89a8d5"/>
<path d="M44.7,31.6l5.2,-5.1M44.7,31.8l5.2,-6.9M44.7,31.5l5.2,-7.4M44.7,34.4l5.2,-4.9M44.7,34.4l5.2,-4.7M44.7,31l5.2,-5M44.7,32.5l5.2,-4.9M44.7,28.3l5.2,-9.5M44.7,33.2l5.2,-7.6M44.7,28.7l5.2,-9.7M44.7,33.3l5.2,-5.2" stroke="#f9d97a"/>
</g>
<g stroke="#1c5fa5"><path class="w" d="M3.1,28.1V33.0M3.1,36.0V37.7"/><rect class="b" x="1.4" y="33.0" width="3.4" height="3.0"/><path class="m" d="M1.2,34.4h3.8"/>
<path class="p" d="M3.4,34.5h0M2.9,34.2h0M3.2,35.2h0M3.1,37.7h0M3.4,37.7h0M2.9,32.3h0M2.9,35.3h0M2.9,30.6h0M3.1,33.6h0M2.8,30.2h0M3,37.5h0" stroke-width="0.62"/></g>
<g stroke="#2b5a27"><path class="w" d="M8.3,5.6V10.1M8.3,19.1V30.3"/><rect class="b" x="6.6" y="10.1" width="3.4" height="9.0"/><path class="m" d="M6.4,16.5h3.8"/>
<path class="p" d="M8.3,7.1h0M8.4,9.6h0M8.5,14.2h0M8.5,21.7h0M8.1,20.8h0M8.5,8.2h0M8.6,16h0M8.6,5.6h0M8.1,8.1h0M8.4,13.5h0M8.1,18.2h0" stroke-width="0.62"/></g>
<g stroke="#55bfe8"><path class="w" d="M13.5,8.5V15.3M13.5,21.7V24.0"/><rect class="b" x="11.8" y="15.3" width="3.4" height="6.4"/><path class="m" d="M11.6,19.1h3.8"/>
<path class="p" d="M13.7,16.7h0M13.5,18.4h0M13.3,18h0M13.3,22.9h0M13.8,24h0M13.2,23.7h0M13.2,19.3h0M13.8,12.5h0M13.8,20.5h0M13.2,11.7h0M13.7,24h0" stroke-width="0.62"/></g>
<g stroke="#d9706b"><path class="w" d="M18.7,24.6V28.1M18.7,34.4V36.4"/><rect class="b" x="17.0" y="28.1" width="3.4" height="6.3"/><path class="m" d="M16.8,31.8h3.8"/>
<path class="p" d="M19,29.9h0M18.9,32.3h0M18.4,29.5h0M19,35.8h0M18.4,36.1h0M18.4,29.9h0M18.6,32.8h0M18.9,29.8h0M18.7,29.1h0M18.9,24.6h0M18.3,36.4h0" stroke-width="0.62"/></g>
<g stroke="#f26f21"><path class="w" d="M23.9,18.8V25.7M23.9,30.9V34.4"/><rect class="b" x="22.2" y="25.7" width="3.4" height="5.2"/><path class="m" d="M22.0,28.8h3.8"/>
<path class="p" d="M24.2,26.8h0M24,28.8h0M24.2,26.2h0M23.6,32.6h0M23.6,32.7h0M23.9,22h0M23.7,29.9h0M24,19.6h0M24,27.4h0M24.2,23.5h0M23.7,30.7h0" stroke-width="0.62"/></g>
<g stroke="#262626"><path class="w" d="M29.1,22.2V26.3M29.1,31.6V34.9"/><rect class="b" x="27.4" y="26.3" width="3.4" height="5.2"/><path class="m" d="M27.2,28.1h3.8"/>
<path class="p" d="M29.1,26.1h0M29.4,30.5h0M29.2,26.4h0M28.9,33.3h0M29.3,34.9h0M29,28h0M29.2,26.1h0M29,24.9h0M29.2,26.6h0M29.4,27h0M29.3,32.1h0" stroke-width="0.62"/></g>
<g stroke="#4a2a14"><path class="w" d="M34.3,8.5V15.8M34.3,32.0V36.0"/><rect class="b" x="32.6" y="15.8" width="3.4" height="16.2"/><path class="m" d="M32.4,26.1h3.8"/>
<path class="p" d="M34.3,28.7h0M34.2,17.1h0M34,8.8h0M34.3,31.3h0M34.1,36h0M34.5,8.5h0M34.1,28.8h0M34.2,9.8h0M34.2,8.5h0M34.5,8.5h0M34.3,35h0" stroke-width="0.62"/></g>
<g stroke="#4a7abf"><path class="w" d="M39.5,19.9V31.6M39.5,41.8V45.8"/><rect class="b" x="37.8" y="31.6" width="3.4" height="10.2"/><path class="m" d="M37.6,32.6h3.8"/>
<path class="p" d="M39.2,32.5h0M39.1,35.8h0M39.3,31.9h0M39.5,45.8h0M39.5,45.8h0M39.5,32.2h0M39.6,35h0M39.3,31.1h0M39.5,31.7h0M39.8,29.1h0M39.8,45.8h0" stroke-width="0.62"/></g>
<g stroke="#f7c633"><path class="w" d="M44.7,26.8V30.9M44.7,33.1V34.4"/><rect class="b" x="43.0" y="30.9" width="3.4" height="2.3"/><path class="m" d="M42.8,32.0h3.8"/>
<path class="p" d="M44.9,31.6h0M44.5,31.8h0M45,31.5h0M45,34.4h0M44.3,34.4h0M44.4,31h0M44.5,32.5h0M44.9,28.3h0M44.7,33.2h0M44.7,28.7h0M44.5,33.3h0" stroke-width="0.62"/></g>
<g stroke="#f39a2e"><path class="w" d="M49.9,18.8V22.8M49.9,28.1V31.6"/><rect class="b" x="48.2" y="22.8" width="3.4" height="5.2"/><path class="m" d="M48.0,25.7h3.8"/>
<path class="p" d="M49.6,26.5h0M50,25h0M50.1,24h0M50,29.5h0M50,29.6h0M49.5,26h0M49.8,27.6h0M50.2,18.8h0M50.2,25.5h0M49.9,19h0M49.9,28h0" stroke-width="0.62"/></g>
</g>
<rect x="337.7" y="366.80" width="53.0" height="51.4" fill="none" stroke="#222" stroke-width="0.9"/>
<rect x="337.7" y="360.2" width="53.0" height="6.6" fill="#f8741d" stroke="#222" stroke-width="0.9"/>
<text x="364.2" y="365.4" font-size="5.1" text-anchor="middle" fill="#1a1a1a">#10 − genes: 11</text>
<path d="M340.8,418.2v3.4" stroke="#222" stroke-width="0.8"/>
<text transform="translate(342.0,423.6) rotate(-45)" font-size="4.6" text-anchor="end" fill="#2a2a2a">T naive</text>
<path d="M346.0,418.2v3.4" stroke="#222" stroke-width="0.8"/>
<text transform="translate(347.2,423.6) rotate(-45)" font-size="4.6" text-anchor="end" fill="#2a2a2a">T SCM CCR4</text>
<path d="M351.2,418.2v3.4" stroke="#222" stroke-width="0.8"/>
<text transform="translate(352.4,423.6) rotate(-45)" font-size="4.6" text-anchor="end" fill="#2a2a2a">T SCM CXCR3</text>
<path d="M356.4,418.2v3.4" stroke="#222" stroke-width="0.8"/>
<text transform="translate(357.6,423.6) rotate(-45)" font-size="4.6" text-anchor="end" fill="#2a2a2a">T CXCR3 CCR4</text>
<path d="M361.6,418.2v3.4" stroke="#222" stroke-width="0.8"/>
<text transform="translate(362.8,423.6) rotate(-45)" font-size="4.6" text-anchor="end" fill="#2a2a2a">T CM negative</text>
<path d="M366.8,418.2v3.4" stroke="#222" stroke-width="0.8"/>
<text transform="translate(368.0,423.6) rotate(-45)" font-size="4.6" text-anchor="end" fill="#2a2a2a">Th1</text>
<path d="M372.0,418.2v3.4" stroke="#222" stroke-width="0.8"/>
<text transform="translate(373.2,423.6) rotate(-45)" font-size="4.6" text-anchor="end" fill="#2a2a2a">Th1/17</text>
<path d="M377.2,418.2v3.4" stroke="#222" stroke-width="0.8"/>
<text transform="translate(378.4,423.6) rotate(-45)" font-size="4.6" text-anchor="end" fill="#2a2a2a">Th2</text>
<path d="M382.4,418.2v3.4" stroke="#222" stroke-width="0.8"/>
<text transform="translate(383.6,423.6) rotate(-45)" font-size="4.6" text-anchor="end" fill="#2a2a2a">Th17</text>
<path d="M387.6,418.2v3.4" stroke="#222" stroke-width="0.8"/>
<text transform="translate(388.8,423.6) rotate(-45)" font-size="4.6" text-anchor="end" fill="#2a2a2a">T CCR6</text>
<g transform="translate(392.85,366.80)">
<rect width="53.0" height="51.4" fill="#fff"/>
<g fill="none" stroke-width="0.4" opacity="0.4">
<path d="M3.1,11.3l5.2,2.4M3.1,16.5l5.2,-4.4M3.1,13.9l5.2,1.2M3.1,11.5l5.2,-4.3M3.1,14.5l5.2,1.2M3.1,19.7l5.2,-1.8M3.1,13.1l5.2,5M3.1,22.3l5.2,3M3.1,14.1l5.2,7.1M3.1,16.2l5.2,4.2M3.1,11l5.2,3.7M3.1,17.6l5.2,4.3M3.1,11.8l5.2,-3.6M3.1,20.3l5.2,-2.2M3.1,12.9l5.2,2M3.1,14.2l5.2,1.6M3.1,7.9l5.2,.4M3.1,10.6l5.2,4.2M3.1,15.4l5.2,-.2M3.1,17.6l5.2,2.2M3.1,12.2l5.2,5M3.1,14l5.2,3M3.1,11.7l5.2,1.5M3.1,15.8l5.2,5.4M3.1,17.9l5.2,2.9M3.1,11.5l5.2,.1M3.1,10.1l5.2,8.2M3.1,9.2l5.2,1.5M3.1,19.3l5.2,-1.4M3.1,16.2l5.2,2.2M3.1,19.7l5.2,-2.6M3.1,15.9l5.2,.8M3.1,12.1l5.2,0M3.1,12.5l5.2,-1.4M3.1,13.2l5.2,7.5M3.1,11l5.2,0M3.1,21.8l5.2,2.2M3.1,15.7l5.2,-.4" stroke="#3e77b2"/>
<path d="M8.3,13.7l5.2,9.5M8.3,12.1l5.2,8M8.3,15l5.2,.9M8.3,7.2l5.2,8.1M8.3,15.7l5.2,4.8M8.3,17.9l5.2,7.8M8.3,18.1l5.2,5.7M8.3,25.2l5.2,4.1M8.3,21.1l5.2,4.1M8.3,20.4l5.2,.8M8.3,14.6l5.2,5.7M8.3,21.8l5.2,3.6M8.3,8.2l5.2,2.9M8.3,18.1l5.2,3.7M8.3,15l5.2,6.1M8.3,15.8l5.2,7.3M8.3,8.3l5.2,1.8M8.3,14.7l5.2,-1.8M8.3,15.2l5.2,4.1M8.3,19.8l5.2,.5M8.3,17.1l5.2,3.4M8.3,17l5.2,-.7M8.3,13.2l5.2,4.6M8.3,21.3l5.2,-1.6M8.3,20.8l5.2,5.2M8.3,11.6l5.2,8M8.3,18.3l5.2,6.6M8.3,10.7l5.2,.2M8.3,17.9l5.2,9.7M8.3,18.3l5.2,-3M8.3,17.1l5.2,8.9M8.3,16.7l5.2,2.9M8.3,12.1l5.2,2.6M8.3,11.1l5.2,6.6M8.3,20.7l5.2,1.6M8.3,11.1l5.2,8.9M8.3,24.1l5.2,5M8.3,15.3l5.2,6.9" stroke="#4a7247"/>
<path d="M13.5,23.3l5.2,11.2M13.5,20.1l5.2,11.3M13.5,16l5.2,23.6M13.5,15.3l5.2,11.2M13.5,20.5l5.2,15.6M13.5,25.7l5.2,7.3M13.5,23.7l5.2,12.9M13.5,29.3l5.2,7.5M13.5,25.2l5.2,12.6M13.5,21.1l5.2,13.9M13.5,20.3l5.2,11.8M13.5,25.4l5.2,11M13.5,11.1l5.2,15.9M13.5,21.8l5.2,14.1M13.5,21l5.2,10.3M13.5,23.2l5.2,11.4M13.5,10.1l5.2,16.6M13.5,12.9l5.2,14.7M13.5,19.3l5.2,18.8M13.5,20.3l5.2,16M13.5,20.5l5.2,10.3M13.5,16.2l5.2,17.5M13.5,17.9l5.2,13.3M13.5,19.6l5.2,20.5M13.5,25.9l5.2,7.8M13.5,19.6l5.2,13.5M13.5,24.9l5.2,10.2M13.5,10.9l5.2,14.4M13.5,27.6l5.2,10.8M13.5,15.3l5.2,17.8M13.5,26l5.2,11.4M13.5,19.7l5.2,15.4M13.5,14.6l5.2,13.3M13.5,17.7l5.2,11.7M13.5,22.3l5.2,16.7M13.5,20l5.2,9.4M13.5,29.1l5.2,9.2M13.5,22.2l5.2,11.8" stroke="#6ec8eb"/>
<path d="M18.7,34.5l5.2,-6.4M18.7,31.4l5.2,-11.7M18.7,39.6l5.2,-11.2M18.7,26.5l5.2,-9.2M18.7,36.1l5.2,-12.6M18.7,33l5.2,-8.8M18.7,36.6l5.2,-11.2M18.7,36.8l5.2,-10.4M18.7,37.8l5.2,-7.2M18.7,35.1l5.2,-6.4M18.7,32.2l5.2,-12.5M18.7,36.3l5.2,-11.2M18.7,27l5.2,-6.8M18.7,35.8l5.2,-7.4M18.7,31.3l5.2,-9.4M18.7,34.5l5.2,-11.5M18.7,26.7l5.2,-11.6M18.7,27.7l5.2,-7.8M18.7,38.2l5.2,-15.6M18.7,36.3l5.2,-6.8M18.7,30.9l5.2,-9.9M18.7,33.7l5.2,-11.7M18.7,31.2l5.2,-7.3M18.7,40.2l5.2,-12.7M18.7,33.8l5.2,-7.8M18.7,33.1l5.2,-8.4M18.7,35.2l5.2,-10.6M18.7,25.3l5.2,-7.1M18.7,38.3l5.2,-8.2M18.7,33.1l5.2,-13.3M18.7,37.4l5.2,-9.1M18.7,35.1l5.2,-8.2M18.7,28l5.2,-5.4M18.7,29.4l5.2,-7.9M18.7,38.9l5.2,-10M18.7,29.4l5.2,-8.9M18.7,38.3l5.2,-7.1M18.7,34l5.2,-8.7" stroke="#de8581"/>
<path d="M23.9,28l5.2,2.7M23.9,19.6l5.2,9.3M23.9,28.4l5.2,3.1M23.9,17.3l5.2,8.8M23.9,23.5l5.2,3.6M23.9,24.2l5.2,8.1M23.9,25.5l5.2,6.8M23.9,26.4l5.2,4.9M23.9,30.6l5.2,4.9M23.9,28.6l5.2,4.4M23.9,19.7l5.2,12.5M23.9,25.1l5.2,6M23.9,20.2l5.2,.3M23.9,28.4l5.2,3.1M23.9,21.9l5.2,9.9M23.9,23l5.2,8.2M23.9,15.1l5.2,5.9M23.9,19.9l5.2,3.1M23.9,22.6l5.2,8.7M23.9,29.5l5.2,-1.1M23.9,21l5.2,8.5M23.9,22l5.2,7.7M23.9,23.8l5.2,5M23.9,27.4l5.2,6.6M23.9,25.9l5.2,10.9M23.9,24.7l5.2,4.7M23.9,24.5l5.2,6.7M23.9,18.2l5.2,8.8M23.9,30.1l5.2,2.1M23.9,19.8l5.2,6.6M23.9,28.3l5.2,7.7M23.9,26.9l5.2,5.9M23.9,22.6l5.2,5.3M23.9,21.5l5.2,6.7M23.9,28.9l5.2,6.4M23.9,20.5l5.2,6.1M23.9,31.2l5.2,3.9M23.9,25.3l5.2,5.7" stroke="#f38442"/>
<path d="M29.1,30.8l5.2,5.4M29.1,28.9l5.2,5.7M29.1,31.5l5.2,5.3M29.1,26.2l5.2,2.5M29.1,27.2l5.2,10.1M29.1,32.4l5.2,3M29.1,32.2l5.2,1.9M29.1,31.4l5.2,4.7M29.1,35.5l5.2,5.3M29.1,33.1l5.2,5.9M29.1,32.2l5.2,1.8M29.1,31.1l5.2,6.1M29.1,20.5l5.2,10.5M29.1,31.5l5.2,8.1M29.1,31.8l5.2,3.8M29.1,31.2l5.2,1.8M29.1,21l5.2,5.8M29.1,22.9l5.2,3.9M29.1,31.3l5.2,3.3M29.1,28.4l5.2,7.4M29.1,29.4l5.2,8.3M29.1,29.6l5.2,6.5M29.1,28.8l5.2,3M29.1,34l5.2,3M29.1,36.8l5.2,1.8M29.1,29.4l5.2,6.8M29.1,31.3l5.2,4.6M29.1,26.9l5.2,5M29.1,32.3l5.2,3.3M29.1,26.4l5.2,8.3M29.1,36l5.2,3.4M29.1,32.8l5.2,-1M29.1,27.9l5.2,2.1M29.1,28.2l5.2,3.6M29.1,35.3l5.2,2.1M29.1,26.5l5.2,5.2M29.1,35.1l5.2,7.9M29.1,31l5.2,7.2" stroke="#464646"/>
<path d="M34.3,36.2l5.2,-9.9M34.3,34.6l5.2,-6.6M34.3,36.8l5.2,-7.6M34.3,28.6l5.2,-5M34.3,37.2l5.2,-9.1M34.3,35.3l5.2,-6.3M34.3,34.1l5.2,-5.9M34.3,36.1l5.2,-5.5M34.3,40.7l5.2,-6.1M34.3,38.9l5.2,-11.1M34.3,34l5.2,-6.4M34.3,37.2l5.2,-8.8M34.3,31.1l5.2,-7.4M34.3,39.6l5.2,-9.7M34.3,35.7l5.2,-10.3M34.3,33l5.2,-9.3M34.3,26.8l5.2,-5.3M34.3,26.8l5.2,-.7M34.3,34.6l5.2,-5.4M34.3,35.7l5.2,-6.9M34.3,37.7l5.2,-10.7M34.3,36.1l5.2,-10.6M34.3,31.8l5.2,-5.4M34.3,37.1l5.2,-6M34.3,38.6l5.2,-8.9M34.3,36.3l5.2,-10M34.3,35.9l5.2,-5.4M34.3,31.9l5.2,-9.8M34.3,35.5l5.2,-2.1M34.3,34.8l5.2,-6.9M34.3,39.5l5.2,-12.1M34.3,31.8l5.2,-3.7M34.3,30l5.2,-5.8M34.3,31.8l5.2,-5M34.3,37.4l5.2,-7.9M34.3,31.8l5.2,-6.4M34.3,43l5.2,-13.9M34.3,38.2l5.2,-14.4" stroke="#654937"/>
<path d="M39.5,26.3l5.2,9.9M39.5,28l5.2,6.4M39.5,29.2l5.2,8.7M39.5,23.6l5.2,5.7M39.5,28.1l5.2,9.1M39.5,29.1l5.2,5M39.5,28.2l5.2,11.9M39.5,30.6l5.2,6.3M39.5,34.6l5.2,8.9M39.5,27.8l5.2,11.5M39.5,27.7l5.2,4M39.5,28.4l5.2,10.4M39.5,23.6l5.2,5.3M39.5,29.9l5.2,8.6M39.5,25.3l5.2,10.4M39.5,23.8l5.2,13.6M39.5,21.6l5.2,3.5M39.5,26.1l5.2,3.6M39.5,29.1l5.2,9.2M39.5,28.8l5.2,6.7M39.5,27.1l5.2,9.5M39.5,25.5l5.2,11M39.5,26.4l5.2,6M39.5,31.1l5.2,6.5M39.5,29.7l5.2,5.9M39.5,26.3l5.2,8.4M39.5,30.5l5.2,7.9M39.5,22.1l5.2,6.7M39.5,33.4l5.2,5.5M39.5,27.8l5.2,5.3M39.5,27.4l5.2,5.8M39.5,28.1l5.2,4.4M39.5,24.3l5.2,6M39.5,26.8l5.2,3.9M39.5,29.5l5.2,8.4M39.5,25.3l5.2,4.6M39.5,29.1l5.2,12.4M39.5,23.9l5.2,8.5" stroke="#658dc8"/>
<path d="M44.7,36.2l5.2,-5.1M44.7,34.3l5.2,-4.2M44.7,37.9l5.2,-2.3M44.7,29.3l5.2,-5.2M44.7,37.2l5.2,-2.8M44.7,34.1l5.2,2.6M44.7,40.1l5.2,-5.9M44.7,36.9l5.2,.2M44.7,43.6l5.2,-4.5M44.7,39.3l5.2,-3M44.7,31.7l5.2,.4M44.7,38.8l5.2,-3.8M44.7,28.9l5.2,1.2M44.7,38.6l5.2,-3.5M44.7,35.7l5.2,.7M44.7,37.4l5.2,-1.9M44.7,25.1l5.2,2.3M44.7,29.7l5.2,.4M44.7,38.3l5.2,-3.4M44.7,35.5l5.2,-1M44.7,36.6l5.2,-2.4M44.7,36.5l5.2,-3.2M44.7,32.4l5.2,-.8M44.7,37.6l5.2,2.6M44.7,35.6l5.2,2.4M44.7,34.7l5.2,-3M44.7,38.4l5.2,-3.6M44.7,28.8l5.2,-4.4M44.7,39l5.2,-3.3M44.7,33.1l5.2,-.4M44.7,33.2l5.2,4.7M44.7,32.5l5.2,.2M44.7,30.2l5.2,-1.3M44.7,30.8l5.2,1.3M44.7,37.9l5.2,-3.3M44.7,29.9l5.2,1.4M44.7,41.5l5.2,.1M44.7,32.4l5.2,-.3" stroke="#f8ce51"/>
</g>
<path d="M3.1,14.2L8.3,15.9" stroke="#5487bb" stroke-width="1.8" opacity="0.5" stroke-linecap="round"/>
<path d="M8.3,15.9L13.5,19.9" stroke="#60835d" stroke-width="1.8" opacity="0.5" stroke-linecap="round"/>
<path d="M13.5,19.9L18.7,33.1" stroke="#7fcfed" stroke-width="1.8" opacity="0.5" stroke-linecap="round"/>
<path d="M18.7,33.1L23.9,24.6" stroke="#e29390" stroke-width="1.8" opacity="0.5" stroke-linecap="round"/>
<path d="M23.9,24.6L29.1,30.0" stroke="#f59358" stroke-width="1.8" opacity="0.5" stroke-linecap="round"/>
<path d="M29.1,30.0L34.3,34.9" stroke="#5c5c5c" stroke-width="1.8" opacity="0.5" stroke-linecap="round"/>
<path d="M34.3,34.9L39.5,27.5" stroke="#775f4e" stroke-width="1.8" opacity="0.5" stroke-linecap="round"/>
<path d="M39.5,27.5L44.7,35.2" stroke="#779bcf" stroke-width="1.8" opacity="0.5" stroke-linecap="round"/>
<path d="M44.7,35.2L49.9,33.1" stroke="#f9d466" stroke-width="1.8" opacity="0.5" stroke-linecap="round"/>
<g stroke="#1c5fa5"><path class="w" d="M3.1,7.9V11.6M3.1,16.7V26.3"/><rect class="b2" x="1.4" y="11.6" width="3.4" height="5.1"/><path class="m" d="M1.2,14.2h3.8"/>
<path class="p" d="M3,11.3h0M3,16.5h0M2.9,13.9h0M2.9,11.5h0M2.8,14.5h0M2.8,19.7h0M3.1,13.1h0M3.4,22.3h0M3.2,14.1h0M3.3,16.2h0M2.8,11h0M3.1,17.6h0M3.4,11.8h0M3.4,20.3h0M2.8,12.9h0M3,14.2h0M2.9,7.9h0M2.9,10.6h0M2.9,15.4h0M2.9,17.6h0M2.8,12.2h0M3,14h0M3.4,11.7h0M3.4,15.8h0M3.3,17.9h0M3.4,11.5h0M2.9,10.1h0M3.1,9.2h0M2.9,19.3h0M3,16.2h0M2.8,19.7h0M3.2,15.9h0M3,12.1h0M2.9,12.5h0M3.1,13.2h0M3,11h0M2.9,21.8h0M3.4,15.7h0M3.2,19.4h0M2.9,13.5h0M2.9,14h0M3.3,16.6h0M3.4,13h0M2.9,16.7h0M3.1,9.2h0M3,17.5h0M2.9,13.1h0M3.2,16.1h0M3,13.3h0M3.2,12.9h0M3.2,7.9h0M3.2,10h0M3,7.9h0M2.8,17.7h0M3.4,10.1h0" stroke-width="0.75"/></g>
<g stroke="#2b5a27"><path class="w" d="M8.3,7.1V13.2M8.3,18.6V26.3"/><rect class="b2" x="6.6" y="13.2" width="3.4" height="5.4"/><path class="m" d="M6.4,15.9h3.8"/>
<path class="p" d="M8,13.7h0M8.1,12.1h0M8.2,15h0M8.6,7.2h0M8.3,15.7h0M8.2,17.9h0M8,18.1h0M8.1,25.2h0M8.4,21.1h0M8.6,20.4h0M8.6,14.6h0M8.6,21.8h0M8.6,8.2h0M8.1,18.1h0M8,15h0M8.4,15.8h0M8,8.3h0M8.3,14.7h0M8.5,15.2h0M8.1,19.8h0M8.1,17.1h0M8.1,17h0M8.3,13.2h0M8.4,21.3h0M8.1,20.8h0M8.5,11.6h0M8.3,18.3h0M8.3,10.7h0M8,17.9h0M8.3,18.3h0M8.2,17.1h0M8.1,16.7h0M8.6,12.1h0M8.5,11.1h0M8.1,20.7h0M8.1,11.1h0M8.5,24.1h0M8.3,15.3h0M8.6,18.7h0M8.6,16.2h0M8.4,17h0M8.2,13.7h0M8.3,15.2h0M8.4,13.1h0M8.5,11h0M8.2,17.8h0M8.2,16.5h0M8.2,22.5h0M8.5,15.4h0M8.2,12.5h0M8.2,7.1h0M8,12.5h0M8.5,7.1h0M8.1,23.8h0M8.6,15.9h0" stroke-width="0.75"/></g>
<g stroke="#55bfe8"><path class="w" d="M13.5,10.1V16.4M13.5,23.5V35.5"/><rect class="b2" x="11.8" y="16.4" width="3.4" height="7.1"/><path class="m" d="M11.6,19.9h3.8"/>
<path class="p" d="M13.2,23.3h0M13.2,20.1h0M13.4,16h0M13.4,15.3h0M13.8,20.5h0M13.8,25.7h0M13.2,23.7h0M13.4,29.3h0M13.3,25.2h0M13.6,21.1h0M13.3,20.3h0M13.3,25.4h0M13.5,11.1h0M13.7,21.8h0M13.8,21h0M13.6,23.2h0M13.7,10.1h0M13.3,12.9h0M13.4,19.3h0M13.5,20.3h0M13.3,20.5h0M13.3,16.2h0M13.2,17.9h0M13.6,19.6h0M13.5,25.9h0M13.4,19.6h0M13.6,24.9h0M13.7,10.9h0M13.3,27.6h0M13.6,15.3h0M13.7,26h0M13.3,19.7h0M13.7,14.6h0M13.2,17.7h0M13.3,22.3h0M13.3,20h0M13.5,29.1h0M13.4,22.2h0M13.5,26.4h0M13.7,21.7h0M13.2,20.9h0M13.6,17.7h0M13.2,16h0M13.2,16.7h0M13.8,17.3h0M13.3,22.8h0M13.7,14.2h0M13.8,20h0M13.6,15.8h0M13.7,13.6h0M13.8,10.1h0M13.7,15.2h0M13.7,13.2h0M13.7,26h0M13.7,17.6h0" stroke-width="0.75"/></g>
<g stroke="#d9706b"><path class="w" d="M18.7,25.1V30.6M18.7,35.7V43.6"/><rect class="b2" x="17.0" y="30.6" width="3.4" height="5.2"/><path class="m" d="M16.8,33.1h3.8"/>
<path class="p" d="M18.6,34.5h0M18.8,31.4h0M18.8,39.6h0M18.9,26.5h0M18.4,36.1h0M18.6,33h0M19,36.6h0M18.9,36.8h0M18.8,37.8h0M18.7,35.1h0M18.9,32.2h0M18.6,36.3h0M18.5,27h0M18.4,35.8h0M18.8,31.3h0M18.4,34.5h0M19,26.7h0M18.4,27.7h0M18.4,38.2h0M18.8,36.3h0M18.4,30.9h0M18.8,33.7h0M18.6,31.2h0M18.8,40.2h0M18.9,33.8h0M18.6,33.1h0M18.9,35.2h0M18.7,25.3h0M18.9,38.3h0M18.5,33.1h0M18.7,37.4h0M19,35.1h0M18.8,28h0M18.7,29.4h0M18.5,38.9h0M18.6,29.4h0M18.4,38.3h0M18.6,34h0M18.7,33.2h0M18.5,34h0M18.3,29.5h0M18.8,31.6h0M18.7,33h0M18.6,31.2h0M18.4,29h0M18.4,32.4h0M18.5,29.4h0M18.9,30.7h0M18.4,30.9h0M18.4,32.1h0M18.4,25.1h0M18.4,25.6h0M18.7,29.2h0M18.7,36.6h0M18.9,33.6h0" stroke-width="0.75"/></g>
<g stroke="#f26f21"><path class="w" d="M23.9,13.6V21.8M23.9,27.3V33.1"/><rect class="b2" x="22.2" y="21.8" width="3.4" height="5.5"/><path class="m" d="M22.0,24.6h3.8"/>
<path class="p" d="M24.1,28h0M23.7,19.6h0M23.8,28.4h0M24.1,17.3h0M23.9,23.5h0M23.9,24.2h0M23.6,25.5h0M23.6,26.4h0M23.8,30.6h0M23.7,28.6h0M23.8,19.7h0M23.7,25.1h0M23.9,20.2h0M23.7,28.4h0M23.6,21.9h0M24.1,23h0M24.1,15.1h0M23.9,19.9h0M23.8,22.6h0M23.9,29.5h0M24.1,21h0M23.8,22h0M23.8,23.8h0M24.2,27.4h0M23.8,25.9h0M23.6,24.7h0M23.5,24.5h0M23.9,18.2h0M24,30.1h0M23.7,19.8h0M24.2,28.3h0M23.6,26.9h0M24.2,22.6h0M24.2,21.5h0M23.8,28.9h0M24.2,20.5h0M23.6,31.2h0M23.8,25.3h0M23.9,26.6h0M24,26.1h0M23.9,22.6h0M23.6,23.9h0M24,25.9h0M23.8,23.5h0M24.1,21.3h0M23.9,22.7h0M24.2,20.1h0M24.2,25.8h0M24,21.6h0M23.9,19.6h0M23.8,16.3h0M23.7,21.2h0M24.1,16.5h0M23.9,30.1h0M24,20h0" stroke-width="0.75"/></g>
<g stroke="#262626"><path class="w" d="M29.1,20.5V27.4M29.1,32.6V39.5"/><rect class="b2" x="27.4" y="27.4" width="3.4" height="5.3"/><path class="m" d="M27.2,30.0h3.8"/>
<path class="p" d="M28.9,30.8h0M29.1,28.9h0M29.3,31.5h0M29,26.2h0M28.9,27.2h0M29.1,32.4h0M29.1,32.2h0M29.2,31.4h0M28.9,35.5h0M28.8,33.1h0M29.1,32.2h0M29.4,31.1h0M28.9,20.5h0M29.3,31.5h0M28.9,31.8h0M29.2,31.2h0M28.9,21h0M28.7,22.9h0M29.4,31.3h0M29.3,28.4h0M29,29.4h0M29.3,29.6h0M28.8,28.8h0M29.1,34h0M29.1,36.8h0M28.8,29.4h0M28.7,31.3h0M29,26.9h0M29.1,32.3h0M29,26.4h0M29.1,36h0M28.8,32.8h0M28.9,27.9h0M29.2,28.2h0M29.1,35.3h0M29,26.5h0M29.3,35.1h0M28.8,31h0M28.7,28.7h0M29,34.6h0M28.7,33.7h0M29.1,27.6h0M29.4,29.5h0M29.3,27.1h0M28.8,29.9h0M29.1,27.7h0M29.3,30.4h0M29.3,36h0M29.3,29.9h0M28.9,25.8h0M29.2,22.8h0M29.1,23.2h0M28.8,23.6h0M29.3,33.2h0M28.8,27.9h0" stroke-width="0.75"/></g>
<g stroke="#4a2a14"><path class="w" d="M34.3,26.8V32.3M34.3,37.5V45.3"/><rect class="b2" x="32.6" y="32.3" width="3.4" height="5.2"/><path class="m" d="M32.4,34.9h3.8"/>
<path class="p" d="M34.3,36.2h0M34.2,34.6h0M34.1,36.8h0M34,28.6h0M34.3,37.2h0M34,35.3h0M34.6,34.1h0M34.1,36.1h0M34,40.7h0M34.3,38.9h0M34.3,34h0M34.5,37.2h0M34.1,31.1h0M34.6,39.6h0M34.4,35.7h0M34.1,33h0M34.4,26.8h0M34.6,26.8h0M34.6,34.6h0M34.5,35.7h0M34.3,37.7h0M33.9,36.1h0M34.1,31.8h0M34.1,37.1h0M34.5,38.6h0M34.1,36.3h0M34.4,35.9h0M34.4,31.9h0M34.2,35.5h0M34.4,34.8h0M34.5,39.5h0M34.3,31.8h0M34.3,30h0M34.5,31.8h0M34.4,37.4h0M34.3,31.8h0M34.5,43h0M34.5,38.2h0M34.2,37.3h0M34.6,34.2h0M34.2,36.7h0M34.4,37h0M34.3,36.4h0M34.6,35.3h0M34,29.9h0M34.5,33.7h0M34,30.3h0M34.6,37.3h0M34.5,32.9h0M33.9,32.3h0M34.1,26.8h0M34,30h0M34.4,31.3h0M34.4,37.9h0M34,32.9h0" stroke-width="0.75"/></g>
<g stroke="#4a7abf"><path class="w" d="M39.5,18.8V25.1M39.5,29.8V35.5"/><rect class="b2" x="37.8" y="25.1" width="3.4" height="4.7"/><path class="m" d="M37.6,27.5h3.8"/>
<path class="p" d="M39.5,26.3h0M39.4,28h0M39.2,29.2h0M39.4,23.6h0M39.8,28.1h0M39.3,29.1h0M39.2,28.2h0M39.6,30.6h0M39.4,34.6h0M39.5,27.8h0M39.1,27.7h0M39.6,28.4h0M39.6,23.6h0M39.5,29.9h0M39.8,25.3h0M39.8,23.8h0M39.8,21.6h0M39.8,26.1h0M39.8,29.1h0M39.2,28.8h0M39.6,27.1h0M39.8,25.5h0M39.8,26.4h0M39.3,31.1h0M39.8,29.7h0M39.8,26.3h0M39.6,30.5h0M39.6,22.1h0M39.4,33.4h0M39.4,27.8h0M39.4,27.4h0M39.7,28.1h0M39.6,24.3h0M39.4,26.8h0M39.6,29.5h0M39.6,25.3h0M39.3,29.1h0M39.2,23.9h0M39.7,28.8h0M39.2,26.3h0M39.3,29.4h0M39.7,28.2h0M39.3,29.1h0M39.6,27.5h0M39.8,24.9h0M39.5,24.9h0M39.5,27.3h0M39.3,31.8h0M39.8,21.9h0M39.7,24.5h0M39.4,21h0M39.5,22.1h0M39.7,18.8h0M39.4,30.7h0M39.4,27.4h0" stroke-width="0.75"/></g>
<g stroke="#f7c633"><path class="w" d="M44.7,25.1V32.7M44.7,37.8V43.6"/><rect class="b2" x="43.0" y="32.7" width="3.4" height="5.2"/><path class="m" d="M42.8,35.2h3.8"/>
<path class="p" d="M44.7,36.2h0M44.9,34.3h0M44.8,37.9h0M44.4,29.3h0M44.7,37.2h0M44.9,34.1h0M44.8,40.1h0M45,36.9h0M44.8,43.6h0M44.6,39.3h0M44.5,31.7h0M44.6,38.8h0M44.8,28.9h0M44.6,38.6h0M44.7,35.7h0M44.3,37.4h0M44.9,25.1h0M44.4,29.7h0M44.7,38.3h0M44.5,35.5h0M44.8,36.6h0M44.4,36.5h0M44.4,32.4h0M44.7,37.6h0M44.7,35.6h0M44.4,34.7h0M44.8,38.4h0M44.9,28.8h0M44.8,39h0M44.7,33.1h0M44.4,33.2h0M44.7,32.5h0M44.6,30.2h0M44.6,30.8h0M44.4,37.9h0M44.4,29.9h0M44.7,41.5h0M44.7,32.4h0M44.7,33.2h0M44.4,36.2h0M44.5,35.6h0M44.4,37h0M44.9,36h0M44.5,36.3h0M44.5,34.2h0M44.9,30.8h0M44.4,32.1h0M44.6,34.8h0M44.9,33.2h0M44.9,29.1h0M44.4,25.1h0M44.6,29.9h0M44.5,31.5h0M44.8,37.3h0M44.9,34.2h0" stroke-width="0.75"/></g>
<g stroke="#f39a2e"><path class="w" d="M49.9,22.2V30.4M49.9,35.9V41.8"/><rect class="b2" x="48.2" y="30.4" width="3.4" height="5.5"/><path class="m" d="M48.0,33.1h3.8"/>
<path class="p" d="M49.9,31.1h0M50.1,30.2h0M49.6,35.6h0M49.6,24h0M49.9,34.4h0M49.9,36.7h0M49.9,34.2h0M49.7,37.1h0M50.2,39.1h0M50.1,36.3h0M49.9,32.1h0M50.1,35h0M50,30h0M49.9,35.1h0M49.7,36.4h0M50,35.5h0M50,27.4h0M49.7,30.1h0M49.5,35h0M49.9,34.5h0M49.7,34.3h0M50.1,33.3h0M50.2,31.6h0M49.5,40.2h0M50.2,38h0M49.8,31.7h0M50.2,34.8h0M49.6,24.4h0M49.9,35.6h0M50.2,32.7h0M49.5,37.9h0M49.6,32.8h0M50.2,29h0M49.8,32h0M50,34.6h0M50,31.3h0M49.7,41.6h0M49.5,32.1h0M49.7,34h0M50.1,37h0M49.6,33.6h0M49.7,34.4h0M50.2,31h0M49.9,31h0M49.9,30.1h0M49.7,33.5h0M49.6,34.3h0M49.9,35.3h0M50.1,35.2h0M49.7,29.4h0M49.9,26h0M49.9,29h0M49.9,26h0M49.7,38.8h0M50,32.6h0" stroke-width="0.75"/></g>
</g>
<rect x="392.85" y="366.80" width="53.0" height="51.4" fill="none" stroke="#222" stroke-width="0.9"/>
<rect x="392.85" y="360.2" width="53.0" height="6.6" fill="#f4ee2c" stroke="#222" stroke-width="0.9"/>
<text x="419.4" y="365.4" font-size="5.1" text-anchor="middle" fill="#1a1a1a">#11 − genes: 63</text>
<path d="M396.0,418.2v3.4" stroke="#222" stroke-width="0.8"/>
<text transform="translate(397.2,423.6) rotate(-45)" font-size="4.6" text-anchor="end" fill="#2a2a2a">T naive</text>
<path d="M401.1,418.2v3.4" stroke="#222" stroke-width="0.8"/>
<text transform="translate(402.3,423.6) rotate(-45)" font-size="4.6" text-anchor="end" fill="#2a2a2a">T SCM CCR4</text>
<path d="M406.3,418.2v3.4" stroke="#222" stroke-width="0.8"/>
<text transform="translate(407.5,423.6) rotate(-45)" font-size="4.6" text-anchor="end" fill="#2a2a2a">T SCM CXCR3</text>
<path d="M411.5,418.2v3.4" stroke="#222" stroke-width="0.8"/>
<text transform="translate(412.7,423.6) rotate(-45)" font-size="4.6" text-anchor="end" fill="#2a2a2a">T CXCR3 CCR4</text>
<path d="M416.7,418.2v3.4" stroke="#222" stroke-width="0.8"/>
<text transform="translate(417.9,423.6) rotate(-45)" font-size="4.6" text-anchor="end" fill="#2a2a2a">T CM negative</text>
<path d="M421.9,418.2v3.4" stroke="#222" stroke-width="0.8"/>
<text transform="translate(423.1,423.6) rotate(-45)" font-size="4.6" text-anchor="end" fill="#2a2a2a">Th1</text>
<path d="M427.1,418.2v3.4" stroke="#222" stroke-width="0.8"/>
<text transform="translate(428.3,423.6) rotate(-45)" font-size="4.6" text-anchor="end" fill="#2a2a2a">Th1/17</text>
<path d="M432.3,418.2v3.4" stroke="#222" stroke-width="0.8"/>
<text transform="translate(433.5,423.6) rotate(-45)" font-size="4.6" text-anchor="end" fill="#2a2a2a">Th2</text>
<path d="M437.5,418.2v3.4" stroke="#222" stroke-width="0.8"/>
<text transform="translate(438.7,423.6) rotate(-45)" font-size="4.6" text-anchor="end" fill="#2a2a2a">Th17</text>
<path d="M442.7,418.2v3.4" stroke="#222" stroke-width="0.8"/>
<text transform="translate(443.9,423.6) rotate(-45)" font-size="4.6" text-anchor="end" fill="#2a2a2a">T CCR6</text>
<g transform="translate(448.05,366.80)">
<rect width="53.0" height="51.4" fill="#fff"/>
<g fill="none" stroke-width="0.35" opacity="0.3">
<path d="M3.1,38.8l5.2,-.7M3.1,35.1l5.2,1.3M3.1,36.8l5.2,.2M3.1,37l5.2,1.5M3.1,39.1l5.2,-.2M3.1,34l5.2,3.4M3.1,41.3l5.2,-3.7M3.1,41.7l5.2,-1.5M3.1,44.7l5.2,-6.1M3.1,42.7l5.2,-3.1M3.1,41.2l5.2,-2.5M3.1,39l5.2,-.8M3.1,38.5l5.2,-.9M3.1,39.4l5.2,-1.1M3.1,44.7l5.2,-2.2M3.1,41.6l5.2,-3.1M3.1,33.6l5.2,-1.2M3.1,39.1l5.2,3.5M3.1,41.8l5.2,-4.8M3.1,35.9l5.2,3.6M3.1,37.2l5.2,2.7M3.1,43.4l5.2,-1.6M3.1,38.4l5.2,-.9M3.1,42.3l5.2,-2.2M3.1,37.1l5.2,-3.1M3.1,38.9l5.2,-3.4M3.1,40.3l5.2,-.5M3.1,37.6l5.2,-.9M3.1,41.5l5.2,-.1M3.1,41.9l5.2,-3.8M3.1,43.3l5.2,-2.4M3.1,37.9l5.2,-4M3.1,37.1l5.2,-2.4M3.1,44.7l5.2,-1.8M3.1,43.4l5.2,-4.6M3.1,35.7l5.2,-3.7M3.1,41.8l5.2,-3.4M3.1,34.2l5.2,1.3" stroke="#6b97c4"/>
<path d="M8.3,38.1l5.2,-4.3M8.3,36.5l5.2,-5.1M8.3,37l5.2,-5.4M8.3,38.5l5.2,-6.8M8.3,38.8l5.2,-9M8.3,37.4l5.2,-6.8M8.3,37.6l5.2,-3.3M8.3,40.2l5.2,-6.5M8.3,38.6l5.2,-3.3M8.3,39.6l5.2,-1.3M8.3,38.7l5.2,-6.4M8.3,38.1l5.2,-5.9M8.3,37.6l5.2,-7.1M8.3,38.3l5.2,-3.6M8.3,42.5l5.2,-4.9M8.3,38.6l5.2,-6.3M8.3,32.4l5.2,-5.6M8.3,42.5l5.2,-5.3M8.3,36.9l5.2,-4.9M8.3,39.6l5.2,-5.1M8.3,39.9l5.2,-6.8M8.3,41.8l5.2,-6.4M8.3,37.5l5.2,-2.9M8.3,40.2l5.2,-5.2M8.3,34.1l5.2,-.1M8.3,35.5l5.2,-2M8.3,39.8l5.2,-9.2M8.3,36.7l5.2,.6M8.3,41.4l5.2,-6.5M8.3,38.1l5.2,-3.6M8.3,40.9l5.2,-4.6M8.3,33.8l5.2,-4.4M8.3,34.7l5.2,-6.2M8.3,42.9l5.2,-5.3M8.3,38.8l5.2,-2.5M8.3,32l5.2,-5.2M8.3,38.4l5.2,-5.4M8.3,35.5l5.2,-1.7" stroke="#759372"/>
<path d="M13.5,33.8l5.2,-16.1M13.5,31.3l5.2,-17.6M13.5,31.6l5.2,-17.3M13.5,31.7l5.2,-10.1M13.5,29.9l5.2,-10M13.5,30.6l5.2,-15.8M13.5,34.2l5.2,-13.8M13.5,33.7l5.2,-13M13.5,35.2l5.2,-18.8M13.5,38.3l5.2,-18.4M13.5,32.3l5.2,-12.7M13.5,32.3l5.2,-14.5M13.5,30.5l5.2,-12.6M13.5,34.7l5.2,-16.4M13.5,37.6l5.2,-13.8M13.5,32.3l5.2,-10.2M13.5,26.8l5.2,-11.2M13.5,37.3l5.2,-18.5M13.5,32l5.2,-8M13.5,34.5l5.2,-14.7M13.5,33.1l5.2,-17.6M13.5,35.5l5.2,-17.6M13.5,34.6l5.2,-18.5M13.5,35l5.2,-15.7M13.5,33.9l5.2,-20.2M13.5,33.5l5.2,-18.3M13.5,30.6l5.2,-14M13.5,37.3l5.2,-22.2M13.5,34.9l5.2,-13.8M13.5,34.5l5.2,-14.2M13.5,36.3l5.2,-15.2M13.5,29.4l5.2,-16.9M13.5,28.6l5.2,-16.1M13.5,37.5l5.2,-18.4M13.5,36.3l5.2,-21.2M13.5,26.8l5.2,-12.3M13.5,33l5.2,-15.1M13.5,33.8l5.2,-19.6" stroke="#90d5f0"/>
<path d="M18.7,17.7l5.2,4.2M18.7,13.7l5.2,3.2M18.7,14.3l5.2,11.7M18.7,21.6l5.2,6.1M18.7,19.9l5.2,2.2M18.7,14.8l5.2,8.8M18.7,20.5l5.2,4.7M18.7,20.7l5.2,5.9M18.7,16.4l5.2,11.3M18.7,19.9l5.2,13.1M18.7,19.7l5.2,10.1M18.7,17.7l5.2,4.5M18.7,17.9l5.2,3.7M18.7,18.3l5.2,.8M18.7,23.8l5.2,9.1M18.7,22l5.2,.1M18.7,15.6l5.2,9.6M18.7,18.8l5.2,8.3M18.7,24.1l5.2,-.1M18.7,19.7l5.2,-.8M18.7,15.4l5.2,8.7M18.7,17.8l5.2,8.6M18.7,16.1l5.2,10.7M18.7,19.3l5.2,6.5M18.7,13.7l5.2,5.3M18.7,15.2l5.2,9.6M18.7,16.6l5.2,8.7M18.7,15.1l5.2,6.1M18.7,21.1l5.2,4.7M18.7,20.3l5.2,5.5M18.7,21.2l5.2,6.8M18.7,12.5l5.2,7.7M18.7,12.5l5.2,8.1M18.7,19.1l5.2,10.9M18.7,15.1l5.2,12.6M18.7,14.5l5.2,1.4M18.7,17.9l5.2,9.5M18.7,14.2l5.2,9.2" stroke="#e6a29e"/>
<path d="M23.9,21.9l5.2,-3.6M23.9,16.9l5.2,4.2M23.9,26l5.2,-6.5M23.9,27.7l5.2,-4.6M23.9,22.1l5.2,-2.1M23.9,23.7l5.2,-6.9M23.9,25.2l5.2,2.7M23.9,26.7l5.2,-1.5M23.9,27.7l5.2,.5M23.9,33l5.2,-3.5M23.9,29.7l5.2,-4.3M23.9,22.2l5.2,1.5M23.9,21.6l5.2,-1.6M23.9,19.1l5.2,1.7M23.9,32.9l5.2,-5.6M23.9,22.2l5.2,-1.1M23.9,25.2l5.2,-3.8M23.9,27.1l5.2,-1.5M23.9,24l5.2,.5M23.9,18.9l5.2,1.3M23.9,24.2l5.2,-4.3M23.9,26.5l5.2,.8M23.9,26.7l5.2,-6.1M23.9,25.7l5.2,-.5M23.9,19l5.2,-2.3M23.9,24.7l5.2,-6.7M23.9,25.3l5.2,-6.4M23.9,21.2l5.2,-.1M23.9,25.8l5.2,.9M23.9,25.9l5.2,1.4M23.9,27.9l5.2,-.7M23.9,20.2l5.2,-3M23.9,20.6l5.2,.5M23.9,30l5.2,-2.1M23.9,27.7l5.2,-2.3M23.9,15.9l5.2,-.6M23.9,27.4l5.2,-3.4M23.9,23.3l5.2,-2.7" stroke="#f6a16e"/>
<path d="M29.1,18.2l5.2,12.3M29.1,21.1l5.2,4.3M29.1,19.4l5.2,8.3M29.1,23.2l5.2,9.6M29.1,20l5.2,11.8M29.1,16.8l5.2,10M29.1,27.9l5.2,.9M29.1,25.2l5.2,5.5M29.1,28.2l5.2,3.2M29.1,29.6l5.2,3.1M29.1,25.4l5.2,9.9M29.1,23.8l5.2,5M29.1,20l5.2,10.3M29.1,20.8l5.2,9.4M29.1,27.2l5.2,7.7M29.1,21.1l5.2,9.6M29.1,21.4l5.2,.6M29.1,25.6l5.2,6.1M29.1,24.5l5.2,4.1M29.1,20.2l5.2,14.2M29.1,19.9l5.2,11.4M29.1,27.3l5.2,5.8M29.1,20.6l5.2,7M29.1,25.2l5.2,6.4M29.1,16.7l5.2,12.5M29.1,18.1l5.2,13.1M29.1,19l5.2,9.5M29.1,21.2l5.2,8.7M29.1,26.7l5.2,6.6M29.1,27.3l5.2,2.9M29.1,27.2l5.2,5.9M29.1,17.3l5.2,4.4M29.1,21.1l5.2,7.1M29.1,27.9l5.2,5.3M29.1,25.4l5.2,7.9M29.1,15.3l5.2,10.2M29.1,24l5.2,7.9M29.1,20.6l5.2,6.9" stroke="#717171"/>
<path d="M34.3,30.5l5.2,-11.7M34.3,25.4l5.2,-4.6M34.3,27.8l5.2,-12.7M34.3,32.8l5.2,-5.9M34.3,31.8l5.2,-10M34.3,26.8l5.2,-16.9M34.3,28.8l5.2,-3.3M34.3,30.7l5.2,1.4M34.3,31.4l5.2,-5M34.3,32.7l5.2,-8.2M34.3,35.3l5.2,-8.8M34.3,28.8l5.2,-8.6M34.3,30.4l5.2,-13.8M34.3,30.2l5.2,-8.1M34.3,34.9l5.2,-.9M34.3,30.7l5.2,-7M34.3,22l5.2,-4.6M34.3,31.8l5.2,-7.6M34.3,28.5l5.2,-3.3M34.3,34.3l5.2,-11.6M34.3,31.3l5.2,-10.9M34.3,33.1l5.2,-5.3M34.3,27.7l5.2,-3.6M34.3,31.6l5.2,.5M34.3,29.2l5.2,-9M34.3,31.2l5.2,-13.9M34.3,28.5l5.2,-8.7M34.3,29.9l5.2,-14.6M34.3,33.2l5.2,-9M34.3,30.2l5.2,0M34.3,33.1l5.2,-7.7M34.3,21.7l5.2,-6.7M34.3,28.2l5.2,-13.1M34.3,33.2l5.2,-7M34.3,33.4l5.2,-10.1M34.3,25.5l5.2,-10M34.3,31.9l5.2,-7.7M34.3,27.5l5.2,-6.7" stroke="#897466"/>
<path d="M39.5,18.9l5.2,-4.1M39.5,20.8l5.2,-9.6M39.5,15.1l5.2,3.6M39.5,26.9l5.2,-7.5M39.5,21.8l5.2,-5M39.5,10l5.2,7.4M39.5,25.5l5.2,-3.7M39.5,32l5.2,-8.4M39.5,26.4l5.2,-6.1M39.5,24.5l5.2,-4.5M39.5,26.5l5.2,-5.4M39.5,20.2l5.2,1M39.5,16.5l5.2,.3M39.5,22.1l5.2,-3.3M39.5,34.1l5.2,-12.8M39.5,23.7l5.2,-.4M39.5,17.4l5.2,-2.4M39.5,24.2l5.2,-4.4M39.5,25.2l5.2,-5.6M39.5,22.8l5.2,-4.3M39.5,20.3l5.2,-7.1M39.5,27.8l5.2,-9.9M39.5,24.1l5.2,-7M39.5,32.1l5.2,-10M39.5,20.2l5.2,-7.6M39.5,17.3l5.2,.3M39.5,19.7l5.2,-.6M39.5,15.3l5.2,.6M39.5,24.2l5.2,-6M39.5,30.2l5.2,-11.4M39.5,25.4l5.2,-4.1M39.5,15l5.2,-4.9M39.5,15.1l5.2,-3.2M39.5,26.2l5.2,-5.1M39.5,23.2l5.2,-.1M39.5,15.4l5.2,-4.8M39.5,24.2l5.2,-5.6M39.5,20.7l5.2,-7" stroke="#89a8d5"/>
<path d="M44.7,14.7l5.2,3.3M44.7,11.2l5.2,2.4M44.7,18.7l5.2,2.4M44.7,19.4l5.2,8.7M44.7,16.8l5.2,8.8M44.7,17.4l5.2,4M44.7,21.7l5.2,6.7M44.7,23.7l5.2,7M44.7,20.3l5.2,7.5M44.7,20l5.2,9.7M44.7,21.1l5.2,9M44.7,21.1l5.2,5.5M44.7,16.9l5.2,4.9M44.7,18.8l5.2,5.6M44.7,21.2l5.2,7.9M44.7,23.3l5.2,7.5M44.7,15l5.2,2.9M44.7,19.8l5.2,5.8M44.7,19.7l5.2,6.6M44.7,18.4l5.2,6.7M44.7,13.3l5.2,3.6M44.7,17.8l5.2,10.8M44.7,17.1l5.2,10.4M44.7,22.1l5.2,5.6M44.7,12.6l5.2,8.2M44.7,17.7l5.2,-.7M44.7,19.1l5.2,7.2M44.7,15.9l5.2,8.7M44.7,18.3l5.2,13.5M44.7,18.8l5.2,8.6M44.7,21.3l5.2,7.1M44.7,10.1l5.2,11.7M44.7,11.8l5.2,4.6M44.7,21.1l5.2,12.2M44.7,23.1l5.2,2.2M44.7,10.6l5.2,6.8M44.7,18.6l5.2,7.6M44.7,13.8l5.2,7" stroke="#f9d97a"/>
</g>
<path d="M3.1,39.2L8.3,38.0" stroke="#5487bb" stroke-width="1.8" opacity="0.5" stroke-linecap="round"/>
<path d="M8.3,38.0L13.5,33.0" stroke="#60835d" stroke-width="1.8" opacity="0.5" stroke-linecap="round"/>
<path d="M13.5,33.0L18.7,17.1" stroke="#7fcfed" stroke-width="1.8" opacity="0.5" stroke-linecap="round"/>
<path d="M18.7,17.1L23.9,24.2" stroke="#e29390" stroke-width="1.8" opacity="0.5" stroke-linecap="round"/>
<path d="M23.9,24.2L29.1,22.2" stroke="#f59358" stroke-width="1.8" opacity="0.5" stroke-linecap="round"/>
<path d="M29.1,22.2L34.3,28.6" stroke="#5c5c5c" stroke-width="1.8" opacity="0.5" stroke-linecap="round"/>
<path d="M34.3,28.6L39.5,21.1" stroke="#775f4e" stroke-width="1.8" opacity="0.5" stroke-linecap="round"/>
<path d="M39.5,21.1L44.7,18.2" stroke="#779bcf" stroke-width="1.8" opacity="0.5" stroke-linecap="round"/>
<path d="M44.7,18.2L49.9,24.6" stroke="#f9d466" stroke-width="1.8" opacity="0.5" stroke-linecap="round"/>
<g stroke="#1c5fa5"><path class="w" d="M3.1,28.6V36.9M3.1,41.4V44.7"/><rect class="b2" x="1.4" y="36.9" width="3.4" height="4.5"/><path class="m" d="M1.2,39.2h3.8"/>
<path class="p" d="M2.9,38.8h0M3.1,35.1h0M3.4,36.8h0M2.8,37h0M2.9,39.1h0M3.2,34h0M2.9,41.3h0M3.4,41.7h0M3.3,44.7h0M3,42.7h0M3,41.2h0M2.8,39h0M2.9,38.5h0M3.2,39.4h0M3,44.7h0M3,41.6h0M3.2,33.6h0M2.9,39.1h0M2.8,41.8h0M3.3,35.9h0M2.8,37.2h0M3,43.4h0M3,38.4h0M2.9,42.3h0M2.9,37.1h0M2.8,38.9h0M3,40.3h0M3,37.6h0M3.4,41.5h0M3.1,41.9h0M3,43.3h0M3,37.9h0M3,37.1h0M3.1,44.7h0M3.4,43.4h0M3.4,35.7h0M2.8,41.8h0M3.4,34.2h0M2.9,41.1h0M3.4,31.1h0M3,40.8h0M2.8,39.4h0M3,37h0M3,40.8h0M3.4,36.3h0M3.1,39.9h0" stroke-width="0.62"/></g>
<g stroke="#2b5a27"><path class="w" d="M8.3,32.0V36.2M8.3,39.9V45.3"/><rect class="b2" x="6.6" y="36.2" width="3.4" height="3.7"/><path class="m" d="M6.4,38.0h3.8"/>
<path class="p" d="M8.2,38.1h0M8.2,36.5h0M8.5,37h0M8.2,38.5h0M8.6,38.8h0M8.5,37.4h0M8,37.6h0M8,40.2h0M8.1,38.6h0M8,39.6h0M8.5,38.7h0M8.1,38.1h0M8.5,37.6h0M8.6,38.3h0M8.3,42.5h0M8.2,38.6h0M8.4,32.4h0M8.6,42.5h0M8.2,36.9h0M8.2,39.6h0M8.4,39.9h0M8.6,41.8h0M8.5,37.5h0M8.1,40.2h0M8,34.1h0M8.6,35.5h0M8,39.8h0M8.4,36.7h0M8.1,41.4h0M8.6,38.1h0M8.1,40.9h0M8.6,33.8h0M8.3,34.7h0M8.2,42.9h0M8,38.8h0M8.2,32h0M8.4,38.4h0M8,35.5h0M8,36.3h0M8.4,34h0M8.1,38.6h0M8.4,35.8h0M8,38.1h0M8.2,41.9h0M8.1,35.7h0M8.4,40.8h0" stroke-width="0.62"/></g>
<g stroke="#55bfe8"><path class="w" d="M13.5,24.0V30.7M13.5,35.2V40.1"/><rect class="b2" x="11.8" y="30.7" width="3.4" height="4.5"/><path class="m" d="M11.6,33.0h3.8"/>
<path class="p" d="M13.2,33.8h0M13.3,31.3h0M13.7,31.6h0M13.5,31.7h0M13.4,29.9h0M13.3,30.6h0M13.5,34.2h0M13.2,33.7h0M13.4,35.2h0M13.1,38.3h0M13.7,32.3h0M13.6,32.3h0M13.1,30.5h0M13.3,34.7h0M13.7,37.6h0M13.4,32.3h0M13.4,26.8h0M13.7,37.3h0M13.3,32h0M13.6,34.5h0M13.2,33.1h0M13.2,35.5h0M13.3,34.6h0M13.8,35h0M13.8,33.9h0M13.6,33.5h0M13.8,30.6h0M13.5,37.3h0M13.2,34.9h0M13.2,34.5h0M13.3,36.3h0M13.4,29.4h0M13.4,28.6h0M13.2,37.5h0M13.6,36.3h0M13.7,26.8h0M13.5,33h0M13.6,33.8h0M13.2,31.5h0M13.5,28.4h0M13.7,31.1h0M13.4,34.7h0M13.3,30.5h0M13.6,34.7h0M13.7,27.3h0M13.4,33.6h0" stroke-width="0.62"/></g>
<g stroke="#d9706b"><path class="w" d="M18.7,8.5V14.6M18.7,19.5V26.3"/><rect class="b2" x="17.0" y="14.6" width="3.4" height="5.0"/><path class="m" d="M16.8,17.1h3.8"/>
<path class="p" d="M18.7,17.7h0M18.4,13.7h0M18.9,14.3h0M18.5,21.6h0M18.5,19.9h0M18.5,14.8h0M18.6,20.5h0M18.9,20.7h0M18.6,16.4h0M18.4,19.9h0M18.7,19.7h0M18.5,17.7h0M18.7,17.9h0M19,18.3h0M18.5,23.8h0M19,22h0M18.9,15.6h0M18.4,18.8h0M18.4,24.1h0M18.7,19.7h0M18.7,15.4h0M18.5,17.8h0M18.4,16.1h0M18.7,19.3h0M19,13.7h0M18.7,15.2h0M18.6,16.6h0M18.6,15.1h0M18.4,21.1h0M18.5,20.3h0M18.7,21.2h0M18.9,12.5h0M18.3,12.5h0M19,19.1h0M18.5,15.1h0M18.5,14.5h0M18.9,17.9h0M18.6,14.2h0M18.6,16.5h0M18.4,10.1h0M18.5,16h0M18.6,16.1h0M18.4,18.4h0M19,14.1h0M18.9,17.8h0M18.5,16.9h0" stroke-width="0.62"/></g>
<g stroke="#f26f21"><path class="w" d="M23.9,15.9V21.6M23.9,26.8V34.4"/><rect class="b2" x="22.2" y="21.6" width="3.4" height="5.2"/><path class="m" d="M22.0,24.2h3.8"/>
<path class="p" d="M23.6,21.9h0M23.5,16.9h0M24.2,26h0M23.7,27.7h0M23.6,22.1h0M23.9,23.7h0M23.9,25.2h0M23.6,26.7h0M24,27.7h0M23.6,33h0M24.1,29.7h0M24.1,22.2h0M24,21.6h0M23.8,19.1h0M24.2,32.9h0M23.7,22.2h0M23.7,25.2h0M24.1,27.1h0M23.6,24h0M23.8,18.9h0M23.9,24.2h0M23.8,26.5h0M23.9,26.7h0M23.9,25.7h0M23.8,19h0M23.6,24.7h0M24.2,25.3h0M24.2,21.2h0M23.9,25.8h0M23.7,25.9h0M23.6,27.9h0M23.9,20.2h0M23.6,20.6h0M23.8,30h0M23.6,27.7h0M24.2,15.9h0M23.9,27.4h0M24.1,23.3h0M23.7,26h0M24.2,18h0M23.7,23.4h0M24.1,21.6h0M24,24.3h0M23.8,23.5h0M23.9,17.8h0M24,27.8h0" stroke-width="0.62"/></g>
<g stroke="#262626"><path class="w" d="M29.1,15.3V19.8M29.1,24.6V32.6"/><rect class="b2" x="27.4" y="19.8" width="3.4" height="4.9"/><path class="m" d="M27.2,22.2h3.8"/>
<path class="p" d="M29.4,18.2h0M28.9,21.1h0M29.1,19.4h0M28.8,23.2h0M28.9,20h0M28.8,16.8h0M29.3,27.9h0M29.3,25.2h0M28.8,28.2h0M29,29.6h0M28.9,25.4h0M29.2,23.8h0M29.4,20h0M28.9,20.8h0M28.8,27.2h0M28.9,21.1h0M29,21.4h0M28.8,25.6h0M29.2,24.5h0M29.3,20.2h0M28.8,19.9h0M29.4,27.3h0M29.4,20.6h0M29.1,25.2h0M28.9,16.7h0M29,18.1h0M28.9,19h0M29,21.2h0M29.3,26.7h0M29,27.3h0M29,27.2h0M28.9,17.3h0M29.3,21.1h0M29.3,27.9h0M29.3,25.4h0M29.2,15.3h0M29,24h0M29.4,20.6h0M29.1,22.5h0M28.9,19.3h0M28.9,23.4h0M28.9,17.9h0M29.1,23h0M29.2,21.8h0M28.9,21.3h0M29.2,21.5h0" stroke-width="0.62"/></g>
<g stroke="#4a2a14"><path class="w" d="M34.3,21.7V26.1M34.3,31.1V39.5"/><rect class="b2" x="32.6" y="26.1" width="3.4" height="5.0"/><path class="m" d="M32.4,28.6h3.8"/>
<path class="p" d="M34.5,30.5h0M34.6,25.4h0M34.5,27.8h0M33.9,32.8h0M34.3,31.8h0M34.5,26.8h0M34,28.8h0M34.5,30.7h0M34.3,31.4h0M34.6,32.7h0M34.5,35.3h0M34.5,28.8h0M34.4,30.4h0M34.5,30.2h0M34,34.9h0M34.5,30.7h0M34.6,22h0M34.3,31.8h0M34,28.5h0M34.5,34.3h0M34.3,31.3h0M34.2,33.1h0M34.4,27.7h0M33.9,31.6h0M34.4,29.2h0M34.4,31.2h0M34,28.5h0M34.1,29.9h0M34.6,33.2h0M34.4,30.2h0M34.6,33.1h0M34.2,21.7h0M34.2,28.2h0M34.1,33.2h0M34.6,33.4h0M34.5,25.5h0M34,31.9h0M34.2,27.5h0M34.2,28.6h0M34.1,22.1h0M34.6,26.6h0M34.3,24.9h0M34.3,26.5h0M34.5,27.1h0M34.5,24h0M34.6,32.5h0" stroke-width="0.62"/></g>
<g stroke="#4a7abf"><path class="w" d="M39.5,9.0V17.4M39.5,24.8V35.5"/><rect class="b2" x="37.8" y="17.4" width="3.4" height="7.4"/><path class="m" d="M37.6,21.1h3.8"/>
<path class="p" d="M39.3,18.9h0M39.7,20.8h0M39.4,15.1h0M39.8,26.9h0M39.4,21.8h0M39.3,10h0M39.5,25.5h0M39.3,32h0M39.6,26.4h0M39.2,24.5h0M39.7,26.5h0M39.3,20.2h0M39.5,16.5h0M39.7,22.1h0M39.3,34.1h0M39.4,23.7h0M39.6,17.4h0M39.6,24.2h0M39.3,25.2h0M39.2,22.8h0M39.8,20.3h0M39.7,27.8h0M39.7,24.1h0M39.4,32.1h0M39.4,20.2h0M39.1,17.3h0M39.6,19.7h0M39.7,15.3h0M39.8,24.2h0M39.6,30.2h0M39.5,25.4h0M39.4,15h0M39.4,15.1h0M39.5,26.2h0M39.3,23.2h0M39.6,15.4h0M39.5,24.2h0M39.2,20.7h0M39.5,24.2h0M39.1,11.8h0M39.2,20.3h0M39.2,19.6h0M39.4,19.6h0M39.5,23.7h0M39.2,24.4h0M39.4,26h0" stroke-width="0.62"/></g>
<g stroke="#f7c633"><path class="w" d="M44.7,7.9V15.6M44.7,20.8V26.3"/><rect class="b2" x="43.0" y="15.6" width="3.4" height="5.1"/><path class="m" d="M42.8,18.2h3.8"/>
<path class="p" d="M44.7,14.7h0M44.8,11.2h0M44.3,18.7h0M44.9,19.4h0M44.8,16.8h0M44.4,17.4h0M44.5,21.7h0M44.6,23.7h0M44.8,20.3h0M44.5,20h0M44.7,21.1h0M44.7,21.1h0M44.9,16.9h0M44.7,18.8h0M44.5,21.2h0M45,23.3h0M44.9,15h0M44.5,19.8h0M44.7,19.7h0M44.9,18.4h0M44.6,13.3h0M44.7,17.8h0M44.4,17.1h0M44.9,22.1h0M44.6,12.6h0M45,17.7h0M44.5,19.1h0M44.5,15.9h0M44.5,18.3h0M44.6,18.8h0M44.6,21.3h0M44.8,10.1h0M44.9,11.8h0M44.8,21.1h0M44.9,23.1h0M44.5,10.6h0M44.6,18.6h0M45,13.8h0M45,17.1h0M44.9,10.5h0M44.5,20.1h0M44.4,10.3h0M44.8,19.8h0M44.8,17.7h0M44.3,16h0M44.9,16.6h0" stroke-width="0.62"/></g>
<g stroke="#f39a2e"><path class="w" d="M49.9,11.4V21.4M49.9,27.8V34.4"/><rect class="b2" x="48.2" y="21.4" width="3.4" height="6.4"/><path class="m" d="M48.0,24.6h3.8"/>
<path class="p" d="M49.7,18.1h0M49.8,13.6h0M49.5,21.2h0M49.6,28.1h0M49.5,25.7h0M49.9,21.4h0M49.8,28.5h0M49.8,30.6h0M49.9,27.8h0M50.1,29.6h0M49.7,30.1h0M49.8,26.6h0M49.7,21.8h0M50,24.4h0M49.6,29.1h0M49.7,30.8h0M49.8,17.9h0M49.6,25.6h0M49.7,26.3h0M50,25.1h0M49.6,16.8h0M50,28.7h0M49.6,27.5h0M49.5,27.7h0M49.9,20.8h0M50,17h0M49.8,26.3h0M49.7,24.6h0M49.5,31.7h0M50.1,27.4h0M49.6,28.4h0M49.6,21.8h0M49.8,16.4h0M49.7,33.3h0M49.7,25.3h0M50.1,17.4h0M49.7,26.2h0M49.6,20.7h0M49.9,28.3h0M49.7,17.5h0M49.6,26.4h0M50,19.5h0M49.7,22.8h0M50.2,29.4h0M49.9,20.3h0M49.7,27.1h0" stroke-width="0.62"/></g>
</g>
<rect x="448.05" y="366.80" width="53.0" height="51.4" fill="none" stroke="#222" stroke-width="0.9"/>
<rect x="448.05" y="360.2" width="53.0" height="6.6" fill="#9b3a9c" stroke="#222" stroke-width="0.9"/>
<text x="474.6" y="365.4" font-size="5.1" text-anchor="middle" fill="#1a1a1a">#12 − genes: 46</text>
<g transform="translate(448.05,427.30)">
<rect width="53.0" height="51.4" fill="#fff"/>
<g fill="none" stroke-width="0.4" opacity="0.4">
<path d="M3.1,41.3l5.2,-4.4M3.1,36.1l5.2,-2.7M3.1,41.1l5.2,-6.3M3.1,41.5l5.2,-7.2M3.1,42.5l5.2,-6M3.1,45.4l5.2,.7M3.1,42.9l5.2,-4.6M3.1,39.6l5.2,-1M3.1,36.6l5.2,-.5M3.1,42.6l5.2,-8.1M3.1,36.5l5.2,-4.8M3.1,32.9l5.2,.7M3.1,41.9l5.2,-10M3.1,45.2l5.2,-4.7M3.1,42.5l5.2,-1.9M3.1,37l5.2,-8M3.1,42.3l5.2,2.6M3.1,39.1l5.2,-1.6M3.1,44.3l5.2,-2.3M3.1,37.4l5.2,-5.4M3.1,37.2l5.2,-7.5M3.1,36.7l5.2,-.6M3.1,38.8l5.2,-7.9M3.1,41.3l5.2,-3.4M3.1,40.6l5.2,-4.4M3.1,35.3l5.2,-3.8M3.1,42.3l5.2,-3M3.1,46.9l5.2,-.8M3.1,36.7l5.2,2.4M3.1,44.5l5.2,0M3.1,39.9l5.2,-2.8M3.1,45l5.2,1.1M3.1,37.7l5.2,-.8M3.1,38.5l5.2,-6.4M3.1,47.3l5.2,-1.2M3.1,41.1l5.2,-2.9M3.1,38l5.2,-4.7M3.1,46.1l5.2,-8" stroke="#3e77b2"/>
<path d="M8.3,37l5.2,-1.1M8.3,33.4l5.2,-6.1M8.3,34.8l5.2,4M8.3,34.3l5.2,-.8M8.3,36.5l5.2,-3.3M8.3,46.1l5.2,.9M8.3,38.3l5.2,-.1M8.3,38.6l5.2,-3.4M8.3,36.1l5.2,-2.9M8.3,34.6l5.2,-4.7M8.3,31.7l5.2,.4M8.3,33.6l5.2,-2.1M8.3,31.9l5.2,1.4M8.3,40.4l5.2,-4.8M8.3,40.6l5.2,-7.5M8.3,29l5.2,-1.5M8.3,44.8l5.2,-.7M8.3,37.5l5.2,-5.5M8.3,42l5.2,-7.4M8.3,32l5.2,1.9M8.3,29.7l5.2,-2.3M8.3,36.1l5.2,-4.1M8.3,30.9l5.2,3.8M8.3,37.9l5.2,-2.5M8.3,36.2l5.2,-2.8M8.3,31.5l5.2,-1.3M8.3,39.3l5.2,-4.4M8.3,46.1l5.2,-4.4M8.3,39.1l5.2,-4.9M8.3,44.4l5.2,-2.4M8.3,37.1l5.2,-4.8M8.3,46.1l5.2,-6.3M8.3,36.9l5.2,.3M8.3,32.2l5.2,-3.3M8.3,46.1l5.2,-9.6M8.3,38.2l5.2,-4.8M8.3,33.3l5.2,-2M8.3,38.2l5.2,3.6" stroke="#4a7247"/>
<path d="M13.5,35.8l5.2,-13.9M13.5,27.3l5.2,-16.3M13.5,38.8l5.2,-25.6M13.5,33.5l5.2,-15.8M13.5,33.2l5.2,-10.1M13.5,47l5.2,-17.2M13.5,38.2l5.2,-16.9M13.5,35.2l5.2,-16.8M13.5,33.2l5.2,-8.6M13.5,29.9l5.2,-12M13.5,32.1l5.2,-17.4M13.5,31.5l5.2,-13.6M13.5,33.3l5.2,-13M13.5,35.6l5.2,-13.1M13.5,33.1l5.2,-16.7M13.5,27.5l5.2,-13.4M13.5,44.1l5.2,-14.7M13.5,32l5.2,-7.7M13.5,34.6l5.2,-5.7M13.5,33.9l5.2,-14.4M13.5,27.4l5.2,-8.9M13.5,32l5.2,-12.1M13.5,34.6l5.2,-14.7M13.5,35.4l5.2,-17.1M13.5,33.3l5.2,-11.7M13.5,30.2l5.2,-11.9M13.5,34.9l5.2,-12.5M13.5,41.7l5.2,-15.3M13.5,34.2l5.2,-21.6M13.5,42l5.2,-14.4M13.5,32.3l5.2,-13.8M13.5,39.8l5.2,-14.3M13.5,37.2l5.2,-16.6M13.5,28.8l5.2,-10.3M13.5,36.5l5.2,-7.8M13.5,33.4l5.2,-13.8M13.5,31.4l5.2,-18.2M13.5,41.7l5.2,-11.9" stroke="#6ec8eb"/>
<path d="M18.7,22l5.2,7.1M18.7,11.1l5.2,11.4M18.7,13.1l5.2,10M18.7,17.7l5.2,6.8M18.7,23.1l5.2,6.4M18.7,29.8l5.2,6.1M18.7,21.3l5.2,7.3M18.7,18.4l5.2,10.5M18.7,24.6l5.2,-.7M18.7,17.9l5.2,6.6M18.7,14.6l5.2,12.2M18.7,17.9l5.2,7.5M18.7,20.2l5.2,6.1M18.7,22.5l5.2,11.1M18.7,16.4l5.2,8.9M18.7,14.1l5.2,12.4M18.7,29.4l5.2,6.2M18.7,24.3l5.2,1.9M18.7,28.9l5.2,4.4M18.7,19.5l5.2,3.2M18.7,18.4l5.2,4.2M18.7,19.9l5.2,3.1M18.7,20l5.2,.9M18.7,18.3l5.2,9.3M18.7,21.7l5.2,5M18.7,18.3l5.2,3.6M18.7,22.4l5.2,4.2M18.7,26.5l5.2,1.2M18.7,12.6l5.2,13M18.7,27.7l5.2,2.1M18.7,18.5l5.2,7.3M18.7,25.5l5.2,9.5M18.7,20.6l5.2,6.1M18.7,18.5l5.2,3.2M18.7,28.7l5.2,2.6M18.7,19.6l5.2,7.3M18.7,13.2l5.2,10.6M18.7,29.8l5.2,3.3" stroke="#de8581"/>
<path d="M23.9,29.1l5.2,.5M23.9,22.5l5.2,3.8M23.9,23.1l5.2,2.2M23.9,24.5l5.2,1.9M23.9,29.4l5.2,-2.2M23.9,36l5.2,-2.6M23.9,28.6l5.2,-3M23.9,28.9l5.2,-4.2M23.9,23.9l5.2,2M23.9,24.5l5.2,2.6M23.9,26.8l5.2,-5.9M23.9,25.4l5.2,-1.8M23.9,26.4l5.2,-6M23.9,33.6l5.2,-6.4M23.9,25.3l5.2,5.8M23.9,26.5l5.2,-6.1M23.9,35.6l5.2,-.9M23.9,26.2l5.2,.5M23.9,33.3l5.2,-3.6M23.9,22.7l5.2,-2M23.9,22.6l5.2,-2.5M23.9,23l5.2,1.2M23.9,20.9l5.2,2.3M23.9,27.5l5.2,-1.3M23.9,26.7l5.2,.1M23.9,21.9l5.2,2.3M23.9,26.7l5.2,-4.3M23.9,27.7l5.2,.7M23.9,25.6l5.2,-1.1M23.9,29.8l5.2,2.8M23.9,25.8l5.2,-.3M23.9,35l5.2,-6.4M23.9,26.7l5.2,-.3M23.9,21.7l5.2,1.4M23.9,31.4l5.2,-.5M23.9,26.9l5.2,-.3M23.9,23.7l5.2,-4.8M23.9,33.1l5.2,-.2" stroke="#f38442"/>
<path d="M29.1,29.6l5.2,0M29.1,26.3l5.2,-5.4M29.1,25.3l5.2,.2M29.1,26.3l5.2,-3.4M29.1,27.3l5.2,-6.1M29.1,33.4l5.2,1.6M29.1,25.6l5.2,1M29.1,24.7l5.2,8.2M29.1,25.9l5.2,-2M29.1,27.1l5.2,-4.1M29.1,21l5.2,.1M29.1,23.7l5.2,-8.5M29.1,20.3l5.2,4.7M29.1,27.2l5.2,.1M29.1,31.1l5.2,-6.1M29.1,20.4l5.2,-3M29.1,34.7l5.2,-1.7M29.1,26.7l5.2,-3.7M29.1,29.8l5.2,1.8M29.1,20.7l5.2,2.5M29.1,20.1l5.2,-.1M29.1,24.2l5.2,-3.1M29.1,23.2l5.2,-3.7M29.1,26.2l5.2,1M29.1,26.8l5.2,-3M29.1,24.2l5.2,-.2M29.1,22.4l5.2,4.1M29.1,28.4l5.2,5.5M29.1,24.5l5.2,-3.1M29.1,32.6l5.2,-2.8M29.1,25.5l5.2,-.8M29.1,28.6l5.2,1.2M29.1,26.4l5.2,-7.7M29.1,23.1l5.2,-4.5M29.1,30.8l5.2,2.3M29.1,26.6l5.2,-2.7M29.1,19l5.2,3.6M29.1,32.9l5.2,3.1" stroke="#464646"/>
<path d="M34.3,29.6l5.2,-9.7M34.3,20.9l5.2,-8.6M34.3,25.5l5.2,-7.9M34.3,23l5.2,-9.7M34.3,21.2l5.2,-4.6M34.3,35l5.2,-14.8M34.3,26.6l5.2,-8.7M34.3,32.9l5.2,-15.7M34.3,23.9l5.2,-6.6M34.3,23l5.2,-5.7M34.3,21.1l5.2,-7M34.3,15.1l5.2,.8M34.3,25l5.2,-10.9M34.3,27.3l5.2,-9.8M34.3,25l5.2,-5.5M34.3,17.4l5.2,-6.1M34.3,32.9l5.2,-14.5M34.3,23l5.2,-5M34.3,31.6l5.2,-12.1M34.3,23.2l5.2,-6.5M34.3,20l5.2,-7.1M34.3,21.1l5.2,-7.1M34.3,19.5l5.2,-5.3M34.3,27.2l5.2,-12.2M34.3,23.8l5.2,-8.9M34.3,24l5.2,-10.1M34.3,26.4l5.2,-8.2M34.3,33.8l5.2,-13.7M34.3,21.4l5.2,-7.5M34.3,29.8l5.2,-11.3M34.3,24.7l5.2,-9.8M34.3,29.8l5.2,-11M34.3,18.7l5.2,-2.3M34.3,18.6l5.2,-1.8M34.3,33.2l5.2,-9.6M34.3,23.9l5.2,-10.7M34.3,22.6l5.2,-10.5M34.3,36l5.2,-14.6" stroke="#654937"/>
<path d="M39.5,19.9l5.2,2.7M39.5,12.4l5.2,3M39.5,17.6l5.2,4.1M39.5,13.2l5.2,4.6M39.5,16.5l5.2,2.4M39.5,20.2l5.2,8.1M39.5,18l5.2,3.8M39.5,17.2l5.2,.4M39.5,17.4l5.2,0M39.5,17.3l5.2,-4.6M39.5,14.1l5.2,1.1M39.5,15.9l5.2,-2.2M39.5,14.1l5.2,1.6M39.5,17.5l5.2,5.7M39.5,19.5l5.2,1.6M39.5,11.3l5.2,-.8M39.5,18.5l5.2,7.4M39.5,18l5.2,-2M39.5,19.5l5.2,6.7M39.5,16.7l5.2,-1.5M39.5,12.8l5.2,-2.5M39.5,14l5.2,3.9M39.5,14.2l5.2,-.8M39.5,15l5.2,-2.8M39.5,14.9l5.2,2.4M39.5,13.8l5.2,-2.1M39.5,18.3l5.2,6M39.5,20.1l5.2,8.1M39.5,13.9l5.2,4.4M39.5,18.5l5.2,5.6M39.5,14.9l5.2,2.2M39.5,18.8l5.2,4.8M39.5,16.5l5.2,-2.2M39.5,16.8l5.2,-1.9M39.5,23.6l5.2,3.2M39.5,13.2l5.2,10.2M39.5,12l5.2,-2.2M39.5,21.4l5.2,6.9" stroke="#658dc8"/>
<path d="M44.7,22.7l5.2,6.9M44.7,15.4l5.2,6.3M44.7,21.7l5.2,5.1M44.7,17.8l5.2,3.5M44.7,18.9l5.2,6M44.7,28.2l5.2,4.1M44.7,21.7l5.2,5.4M44.7,17.6l5.2,9.3M44.7,17.3l5.2,10.7M44.7,12.7l5.2,11.2M44.7,15.2l5.2,5.3M44.7,13.7l5.2,7.1M44.7,15.7l5.2,8.6M44.7,23.2l5.2,3.6M44.7,21.1l5.2,5.8M44.7,10.5l5.2,10.1M44.7,25.9l5.2,1.1M44.7,16l5.2,8.8M44.7,26.2l5.2,-4.2M44.7,15.2l5.2,7.3M44.7,10.4l5.2,13.2M44.7,17.9l5.2,2.4M44.7,13.4l5.2,10.7M44.7,12.2l5.2,11.1M44.7,17.3l5.2,6.1M44.7,11.7l5.2,9.1M44.7,24.2l5.2,1M44.7,28.2l5.2,2.1M44.7,18.2l5.2,7.5M44.7,24.1l5.2,5M44.7,17.1l5.2,4.2M44.7,23.6l5.2,5.3M44.7,14.3l5.2,9.4M44.7,14.9l5.2,5.6M44.7,26.8l5.2,2.5M44.7,23.3l5.2,1.5M44.7,9.8l5.2,11M44.7,28.2l5.2,5" stroke="#f8ce51"/>
</g>
<path d="M3.1,40.7L8.3,36.8" stroke="#5487bb" stroke-width="1.8" opacity="0.5" stroke-linecap="round"/>
<path d="M8.3,36.8L13.5,34.5" stroke="#60835d" stroke-width="1.8" opacity="0.5" stroke-linecap="round"/>
<path d="M13.5,34.5L18.7,20.5" stroke="#7fcfed" stroke-width="1.8" opacity="0.5" stroke-linecap="round"/>
<path d="M18.7,20.5L23.9,27.6" stroke="#e29390" stroke-width="1.8" opacity="0.5" stroke-linecap="round"/>
<path d="M23.9,27.6L29.1,26.3" stroke="#f59358" stroke-width="1.8" opacity="0.5" stroke-linecap="round"/>
<path d="M29.1,26.3L34.3,25.2" stroke="#5c5c5c" stroke-width="1.8" opacity="0.5" stroke-linecap="round"/>
<path d="M34.3,25.2L39.5,16.7" stroke="#775f4e" stroke-width="1.8" opacity="0.5" stroke-linecap="round"/>
<path d="M39.5,16.7L44.7,19.0" stroke="#779bcf" stroke-width="1.8" opacity="0.5" stroke-linecap="round"/>
<path d="M44.7,19.0L49.9,24.8" stroke="#f9d466" stroke-width="1.8" opacity="0.5" stroke-linecap="round"/>
<g stroke="#1c5fa5"><path class="w" d="M3.1,32.9V38.7M3.1,42.7V47.3"/><rect class="b2" x="1.4" y="38.7" width="3.4" height="4.0"/><path class="m" d="M1.2,40.7h3.8"/>
<path class="p" d="M3.1,41.3h0M3,36.1h0M3.2,41.1h0M3.3,41.5h0M3.2,42.5h0M3.3,45.4h0M3.1,42.9h0M3.2,39.6h0M3.4,36.6h0M2.8,42.6h0M3.1,36.5h0M3.1,32.9h0M3.1,41.9h0M3.2,45.2h0M2.8,42.5h0M3.3,37h0M3.3,42.3h0M3.1,39.1h0M3.3,44.3h0M3.4,37.4h0M3,37.2h0M2.9,36.7h0M2.8,38.8h0M3,41.3h0M3.2,40.6h0M3,35.3h0M3.4,42.3h0M3.2,46.9h0M2.8,36.7h0M3.1,44.5h0M3.3,39.9h0M3.2,45h0M3.1,37.7h0M2.8,38.5h0M3.4,47.3h0M3,41.1h0M2.9,38h0M2.8,46.1h0M2.8,46.3h0M3.4,42h0M3.3,41.9h0M2.8,40.3h0M3,47.3h0M2.9,34.8h0M3.3,43.3h0M3.2,40.8h0M3,38.6h0M3.1,41h0M3.1,39.7h0M2.8,46.2h0M3,39.7h0M3,38.9h0M3.1,42.3h0M3.3,41h0M3.3,41.7h0" stroke-width="0.75"/></g>
<g stroke="#2b5a27"><path class="w" d="M8.3,22.8V33.6M8.3,40.1V46.1"/><rect class="b2" x="6.6" y="33.6" width="3.4" height="6.5"/><path class="m" d="M6.4,36.8h3.8"/>
<path class="p" d="M8.4,37h0M8.5,33.4h0M8,34.8h0M8,34.3h0M8.4,36.5h0M8.4,46.1h0M8.5,38.3h0M8.1,38.6h0M8.3,36.1h0M8.4,34.6h0M8,31.7h0M8.4,33.6h0M8,31.9h0M8.1,40.4h0M8.3,40.6h0M8,29h0M8.3,44.8h0M8.5,37.5h0M8.2,42h0M8.2,32h0M8.1,29.7h0M8.6,36.1h0M8.1,30.9h0M8,37.9h0M8.2,36.2h0M8.2,31.5h0M8.6,39.3h0M8.1,46.1h0M8.5,39.1h0M8,44.4h0M8.2,37.1h0M8.3,46.1h0M8.5,36.9h0M8,32.2h0M8.3,46.1h0M8.4,38.2h0M8.5,33.3h0M8.6,38.2h0M8.1,46.1h0M8.4,42.3h0M8.1,42.3h0M8.1,33.2h0M8.6,42.2h0M8.4,31h0M8.4,38.3h0M8.1,33.7h0M8.5,38.3h0M8.5,34.4h0M8.1,36.4h0M8.4,46.1h0M8,31.3h0M8.4,35.3h0M8.1,38.9h0M8.3,37.8h0M8,36.5h0" stroke-width="0.75"/></g>
<g stroke="#55bfe8"><path class="w" d="M13.5,26.0V31.5M13.5,37.5V47.3"/><rect class="b2" x="11.8" y="31.5" width="3.4" height="6.0"/><path class="m" d="M11.6,34.5h3.8"/>
<path class="p" d="M13.8,35.8h0M13.4,27.3h0M13.4,38.8h0M13.8,33.5h0M13.8,33.2h0M13.5,47h0M13.5,38.2h0M13.2,35.2h0M13.1,33.2h0M13.6,29.9h0M13.5,32.1h0M13.5,31.5h0M13.2,33.3h0M13.5,35.6h0M13.5,33.1h0M13.3,27.5h0M13.5,44.1h0M13.3,32h0M13.8,34.6h0M13.6,33.9h0M13.8,27.4h0M13.3,32h0M13.2,34.6h0M13.4,35.4h0M13.2,33.3h0M13.5,30.2h0M13.5,34.9h0M13.7,41.7h0M13.8,34.2h0M13.7,42h0M13.6,32.3h0M13.2,39.8h0M13.8,37.2h0M13.4,28.8h0M13.8,36.5h0M13.2,33.4h0M13.8,31.4h0M13.2,41.7h0M13.6,46.4h0M13.2,41.1h0M13.5,36.9h0M13.6,33.1h0M13.2,36.2h0M13.4,26.3h0M13.3,38.7h0M13.4,31h0M13.2,36.8h0M13.8,30.2h0M13.6,37.2h0M13.2,43.9h0M13.4,28.6h0M13.6,28.3h0M13.3,32.4h0M13.3,32h0M13.8,35.6h0" stroke-width="0.75"/></g>
<g stroke="#d9706b"><path class="w" d="M18.7,4.4V17.0M18.7,24.1V29.8"/><rect class="b2" x="17.0" y="17.0" width="3.4" height="7.1"/><path class="m" d="M16.8,20.5h3.8"/>
<path class="p" d="M18.8,22h0M19,11.1h0M18.5,13.1h0M19,17.7h0M18.5,23.1h0M18.4,29.8h0M18.4,21.3h0M18.6,18.4h0M18.6,24.6h0M19,17.9h0M19,14.6h0M18.7,17.9h0M18.4,20.2h0M18.7,22.5h0M18.7,16.4h0M18.9,14.1h0M18.3,29.4h0M18.5,24.3h0M19,28.9h0M18.6,19.5h0M18.9,18.4h0M18.4,19.9h0M18.9,20h0M18.9,18.3h0M18.7,21.7h0M18.6,18.3h0M18.6,22.4h0M18.6,26.5h0M18.9,12.6h0M18.8,27.7h0M18.4,18.5h0M18.9,25.5h0M18.8,20.6h0M18.6,18.5h0M18.6,28.7h0M18.6,19.6h0M18.9,13.2h0M18.6,29.8h0M18.9,29.8h0M18.8,26.6h0M18.8,22.7h0M18.9,17.4h0M18.6,26.3h0M18.7,14.3h0M18.6,26.9h0M18.7,18.6h0M18.9,20.4h0M18.6,17.3h0M18.5,20.2h0M18.5,29.8h0M18.7,19.9h0M18.5,21h0M18.4,26.6h0M19,19.3h0M18.5,23.9h0" stroke-width="0.75"/></g>
<g stroke="#f26f21"><path class="w" d="M23.9,13.5V24.4M23.9,30.7V36.0"/><rect class="b2" x="22.2" y="24.4" width="3.4" height="6.3"/><path class="m" d="M22.0,27.6h3.8"/>
<path class="p" d="M23.9,29.1h0M23.6,22.5h0M23.9,23.1h0M23.8,24.5h0M24,29.4h0M24.1,36h0M23.9,28.6h0M24.1,28.9h0M23.7,23.9h0M23.9,24.5h0M23.8,26.8h0M24,25.4h0M23.7,26.4h0M23.6,33.6h0M24.1,25.3h0M23.7,26.5h0M23.6,35.6h0M23.5,26.2h0M24,33.3h0M24,22.7h0M24.2,22.6h0M24.1,23h0M24.1,20.9h0M24.1,27.5h0M24.2,26.7h0M24.2,21.9h0M23.6,26.7h0M24.1,27.7h0M23.8,25.6h0M24,29.8h0M24.1,25.8h0M23.6,35h0M24.1,26.7h0M23.6,21.7h0M23.8,31.4h0M23.8,26.9h0M23.9,23.7h0M23.9,33.1h0M24.2,36h0M24,33.7h0M24.1,26h0M24.1,27.3h0M23.8,36h0M24.2,22.3h0M23.9,30.8h0M23.7,25.3h0M23.7,24.1h0M24.1,25.7h0M23.6,32.7h0M24,33h0M23.6,29.1h0M23.9,24.9h0M24,26.4h0M24,29.2h0M23.6,23.9h0" stroke-width="0.75"/></g>
<g stroke="#262626"><path class="w" d="M29.1,19.0V23.8M29.1,28.8V36.8"/><rect class="b2" x="27.4" y="23.8" width="3.4" height="5.0"/><path class="m" d="M27.2,26.3h3.8"/>
<path class="p" d="M29.3,29.6h0M29.3,26.3h0M28.9,25.3h0M28.9,26.3h0M29,27.3h0M29.3,33.4h0M28.9,25.6h0M29.3,24.7h0M29.3,25.9h0M29.4,27.1h0M28.9,21h0M29,23.7h0M28.9,20.3h0M29.4,27.2h0M28.9,31.1h0M29,20.4h0M29.1,34.7h0M28.8,26.7h0M28.9,29.8h0M29.1,20.7h0M28.8,20.1h0M28.8,24.2h0M28.8,23.2h0M29.1,26.2h0M28.8,26.8h0M29.3,24.2h0M29.1,22.4h0M29,28.4h0M28.7,24.5h0M28.8,32.6h0M29.2,25.5h0M28.9,28.6h0M29.3,26.4h0M29.4,23.1h0M28.9,30.8h0M29,26.6h0M29.3,19h0M29.2,32.9h0M29.3,36.8h0M29.3,26.7h0M29.4,28.4h0M29.4,27.4h0M29.1,28.2h0M29.2,21.4h0M29.3,27.7h0M29,23h0M28.9,25.6h0M29.1,28h0M29,24.7h0M28.9,33.6h0M29,23.4h0M29.3,26.8h0M28.8,26.9h0M29.1,25.9h0M29.2,28.9h0" stroke-width="0.75"/></g>
<g stroke="#4a2a14"><path class="w" d="M34.3,15.1V22.3M34.3,28.1V36.0"/><rect class="b2" x="32.6" y="22.3" width="3.4" height="5.8"/><path class="m" d="M32.4,25.2h3.8"/>
<path class="p" d="M34.4,29.6h0M34.6,20.9h0M34.5,25.5h0M34.5,23h0M34.2,21.2h0M34.1,35h0M34.5,26.6h0M34.4,32.9h0M34,23.9h0M34.3,23h0M34.2,21.1h0M34.4,15.1h0M34.4,25h0M34.1,27.3h0M34.3,25h0M34.3,17.4h0M34,32.9h0M34.4,23h0M34.2,31.6h0M34.6,23.2h0M34.1,20h0M34,21.1h0M34.5,19.5h0M34.5,27.2h0M34.1,23.8h0M34.4,24h0M34.3,26.4h0M34.2,33.8h0M34.4,21.4h0M34.2,29.8h0M34.2,24.7h0M34.2,29.8h0M34.1,18.7h0M34.3,18.6h0M34.6,33.2h0M34.4,23.9h0M34,22.6h0M34.5,36h0M34.5,36h0M34.1,26.4h0M34.1,22.8h0M34.4,25h0M34.4,26.4h0M34.1,16.1h0M34.3,27.9h0M34.1,30.5h0M34.5,27.1h0M34.2,22.3h0M34.3,23h0M34.2,32.4h0M34.1,23.9h0M34.1,24.3h0M34.1,24.8h0M34.2,28.7h0M34.1,25.2h0" stroke-width="0.75"/></g>
<g stroke="#4a7abf"><path class="w" d="M39.5,9.7V14.7M39.5,18.7V23.7"/><rect class="b2" x="37.8" y="14.7" width="3.4" height="3.9"/><path class="m" d="M37.6,16.7h3.8"/>
<path class="p" d="M39.4,19.9h0M39.7,12.4h0M39.7,17.6h0M39.3,13.2h0M39.4,16.5h0M39.7,20.2h0M39.2,18h0M39.6,17.2h0M39.3,17.4h0M39.2,17.3h0M39.3,14.1h0M39.5,15.9h0M39.7,14.1h0M39.5,17.5h0M39.3,19.5h0M39.3,11.3h0M39.8,18.5h0M39.2,18h0M39.3,19.5h0M39.4,16.7h0M39.4,12.8h0M39.4,14h0M39.5,14.2h0M39.3,15h0M39.4,14.9h0M39.8,13.8h0M39.7,18.3h0M39.8,20.1h0M39.3,13.9h0M39.4,18.5h0M39.3,14.9h0M39.2,18.8h0M39.2,16.5h0M39.8,16.8h0M39.8,23.6h0M39.3,13.2h0M39.6,12h0M39.6,21.4h0M39.3,23.7h0M39.4,17.5h0M39.3,19.1h0M39.6,15.7h0M39.6,23.7h0M39.6,11.6h0M39.3,19.6h0M39.6,14.5h0M39.2,19.3h0M39.7,12.4h0M39.7,15.1h0M39.7,22.5h0M39.5,17.5h0M39.6,14.6h0M39.7,17.5h0M39.7,16.9h0M39.4,15.2h0" stroke-width="0.75"/></g>
<g stroke="#f7c633"><path class="w" d="M44.7,5.9V15.8M44.7,22.1V28.2"/><rect class="b2" x="43.0" y="15.8" width="3.4" height="6.3"/><path class="m" d="M42.8,19.0h3.8"/>
<path class="p" d="M44.6,22.7h0M45,15.4h0M44.8,21.7h0M44.6,17.8h0M44.6,18.9h0M44.7,28.2h0M44.8,21.7h0M44.6,17.6h0M44.6,17.3h0M44.6,12.7h0M44.5,15.2h0M44.8,13.7h0M44.6,15.7h0M44.7,23.2h0M45,21.1h0M44.5,10.5h0M45,25.9h0M44.4,16h0M44.8,26.2h0M44.6,15.2h0M44.5,10.4h0M44.9,17.9h0M44.4,13.4h0M44.7,12.2h0M44.5,17.3h0M44.6,11.7h0M44.6,24.2h0M45,28.2h0M44.9,18.2h0M44.9,24.1h0M44.5,17.1h0M44.4,23.6h0M45,14.3h0M44.7,14.9h0M44.8,26.8h0M44.8,23.3h0M44.7,9.8h0M44.8,28.2h0M44.8,28.2h0M44.5,23.1h0M44.4,22.3h0M44.4,14.8h0M44.6,28.2h0M45,13.5h0M44.5,20.5h0M44.5,18.4h0M44.5,15.3h0M44.3,13.9h0M44.4,17.4h0M44.9,27.9h0M44.8,19.9h0M44.8,21h0M45,19.6h0M44.5,22.9h0M44.9,21h0" stroke-width="0.75"/></g>
<g stroke="#f39a2e"><path class="w" d="M49.9,17.6V22.6M49.9,27.1V33.7"/><rect class="b2" x="48.2" y="22.6" width="3.4" height="4.5"/><path class="m" d="M48.0,24.8h3.8"/>
<path class="p" d="M49.6,29.6h0M49.8,21.7h0M49.9,26.8h0M50.1,21.3h0M49.6,24.9h0M50,32.3h0M49.8,27.1h0M50,26.9h0M50.1,28h0M49.9,23.9h0M50.2,20.4h0M50.2,20.8h0M50.2,24.3h0M50.1,26.8h0M49.5,26.9h0M49.8,20.6h0M49.9,27.1h0M49.7,24.8h0M49.6,22h0M50.1,22.6h0M50,23.5h0M49.9,20.3h0M50.2,24.1h0M50,23.3h0M50,23.5h0M50,20.8h0M49.7,25.2h0M49.6,30.3h0M49.5,25.7h0M49.7,29.1h0M50,21.3h0M50,28.9h0M50,23.7h0M49.6,20.4h0M49.6,29.3h0M49.9,24.9h0M49.7,20.8h0M50,33.3h0M50.1,33.7h0M49.5,26h0M50.1,21.4h0M49.9,20.4h0M49.7,29.3h0M49.7,17.7h0M49.7,28.3h0M49.7,24.4h0M49.7,22.7h0M49.5,25.2h0M49.8,21.8h0M50.1,30.5h0M49.8,25.5h0M49.6,24.1h0M49.9,27.3h0M50,23.8h0M49.9,22.7h0" stroke-width="0.75"/></g>
</g>
<rect x="448.05" y="427.30" width="53.0" height="51.4" fill="none" stroke="#222" stroke-width="0.9"/>
<rect x="448.05" y="420.7" width="53.0" height="6.6" fill="#a9521f" stroke="#222" stroke-width="0.9"/>
<text x="474.6" y="425.9" font-size="5.1" text-anchor="middle" fill="#1a1a1a">#13 − genes: 79</text>
<path d="M501.05,428.2h3" stroke="#222" stroke-width="0.7"/>
<text x="513.2" y="430.8" font-size="7.0" text-anchor="end" fill="#222">3</text>
<path d="M501.05,437.0h3" stroke="#222" stroke-width="0.7"/>
<text x="513.2" y="439.5" font-size="7.0" text-anchor="end" fill="#222">2</text>
<path d="M501.05,445.8h3" stroke="#222" stroke-width="0.7"/>
<text x="513.2" y="448.2" font-size="7.0" text-anchor="end" fill="#222">1</text>
<path d="M501.05,454.5h3" stroke="#222" stroke-width="0.7"/>
<text x="513.2" y="457.0" font-size="7.0" text-anchor="end" fill="#222">0</text>
<path d="M501.05,463.2h3" stroke="#222" stroke-width="0.7"/>
<text x="513.2" y="465.8" font-size="7.0" text-anchor="end" fill="#222">−1</text>
<path d="M501.05,472.0h3" stroke="#222" stroke-width="0.7"/>
<text x="513.2" y="474.5" font-size="7.0" text-anchor="end" fill="#222">−2</text>
<path d="M451.2,478.7v3.4" stroke="#222" stroke-width="0.8"/>
<text transform="translate(452.4,484.1) rotate(-45)" font-size="4.6" text-anchor="end" fill="#2a2a2a">T naive</text>
<path d="M456.3,478.7v3.4" stroke="#222" stroke-width="0.8"/>
<text transform="translate(457.5,484.1) rotate(-45)" font-size="4.6" text-anchor="end" fill="#2a2a2a">T SCM CCR4</text>
<path d="M461.5,478.7v3.4" stroke="#222" stroke-width="0.8"/>
<text transform="translate(462.7,484.1) rotate(-45)" font-size="4.6" text-anchor="end" fill="#2a2a2a">T SCM CXCR3</text>
<path d="M466.7,478.7v3.4" stroke="#222" stroke-width="0.8"/>
<text transform="translate(467.9,484.1) rotate(-45)" font-size="4.6" text-anchor="end" fill="#2a2a2a">T CXCR3 CCR4</text>
<path d="M471.9,478.7v3.4" stroke="#222" stroke-width="0.8"/>
<text transform="translate(473.1,484.1) rotate(-45)" font-size="4.6" text-anchor="end" fill="#2a2a2a">T CM negative</text>
<path d="M477.1,478.7v3.4" stroke="#222" stroke-width="0.8"/>
<text transform="translate(478.3,484.1) rotate(-45)" font-size="4.6" text-anchor="end" fill="#2a2a2a">Th1</text>
<path d="M482.3,478.7v3.4" stroke="#222" stroke-width="0.8"/>
<text transform="translate(483.5,484.1) rotate(-45)" font-size="4.6" text-anchor="end" fill="#2a2a2a">Th1/17</text>
<path d="M487.5,478.7v3.4" stroke="#222" stroke-width="0.8"/>
<text transform="translate(488.7,484.1) rotate(-45)" font-size="4.6" text-anchor="end" fill="#2a2a2a">Th2</text>
<path d="M492.7,478.7v3.4" stroke="#222" stroke-width="0.8"/>
<text transform="translate(493.9,484.1) rotate(-45)" font-size="4.6" text-anchor="end" fill="#2a2a2a">Th17</text>
<path d="M497.9,478.7v3.4" stroke="#222" stroke-width="0.8"/>
<text transform="translate(499.1,484.1) rotate(-45)" font-size="4.6" text-anchor="end" fill="#2a2a2a">T CCR6</text>
<text transform="translate(267.2,332.3) rotate(-90)" font-size="8.8" text-anchor="middle" fill="#1a1a1a" stroke="#1a1a1a" stroke-width="0.2" textLength="77" lengthAdjust="spacingAndGlyphs">Z-score of gene abundance</text>
</svg>
</body></html>
